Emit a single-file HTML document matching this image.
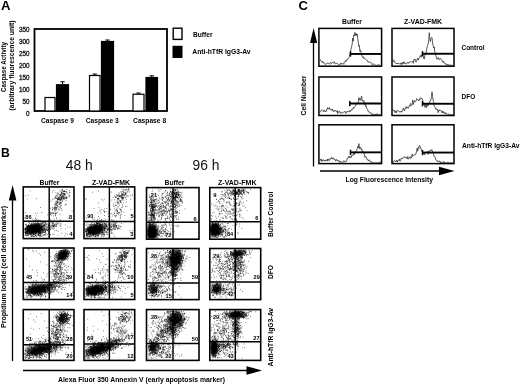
<!DOCTYPE html>
<html><head><meta charset="utf-8"><title>Figure</title>
<style>html,body{margin:0;padding:0;background:#fff}svg{display:block;filter:grayscale(1) blur(0.3px);will-change:transform}text{font-family:"Liberation Sans",sans-serif}</style>
</head><body>
<svg width="520" height="384" viewBox="0 0 520 384">
<defs><radialGradient id="rg"><stop offset="0" stop-color="#000" stop-opacity="1"/><stop offset="0.45" stop-color="#000" stop-opacity="0.85"/><stop offset="0.75" stop-color="#000" stop-opacity="0.3"/><stop offset="1" stop-color="#000" stop-opacity="0"/></radialGradient></defs>
<rect width="520" height="384" fill="#fff"/>
<text x="1" y="10.3" font-size="12.5" font-weight="bold" textLength="9.5" lengthAdjust="spacingAndGlyphs">A</text>
<rect x="34.5" y="29" width="132.5" height="82" fill="#fff" stroke="#000" stroke-width="1.8"/>
<text x="29.5" y="115.8" font-size="6.3" text-anchor="end" fill="#111" stroke="#111" stroke-width="0.3">0</text>
<text x="29.5" y="103.8" font-size="6.3" text-anchor="end" fill="#111" stroke="#111" stroke-width="0.3">50</text>
<text x="29.5" y="91.8" font-size="6.3" text-anchor="end" fill="#111" stroke="#111" stroke-width="0.3">100</text>
<text x="29.5" y="79.8" font-size="6.3" text-anchor="end" fill="#111" stroke="#111" stroke-width="0.3">150</text>
<text x="29.5" y="67.8" font-size="6.3" text-anchor="end" fill="#111" stroke="#111" stroke-width="0.3">200</text>
<text x="29.5" y="55.8" font-size="6.3" text-anchor="end" fill="#111" stroke="#111" stroke-width="0.3">250</text>
<text x="29.5" y="43.8" font-size="6.3" text-anchor="end" fill="#111" stroke="#111" stroke-width="0.3">300</text>
<text x="29.5" y="31.8" font-size="6.3" text-anchor="end" fill="#111" stroke="#111" stroke-width="0.3">350</text>
<rect x="45.0" y="97.5" width="10.0" height="13.5" fill="#fff" stroke="#000" stroke-width="1.2"/>
<rect x="56.5" y="84.75" width="12" height="26.25" fill="#000" stroke="#000" stroke-width="1.2"/>
<path d="M62.5 84.25V81.75M60.3 81.75H64.7" stroke="#000" stroke-width="1" fill="none"/>
<rect x="89.5" y="75.5" width="10.5" height="35.5" fill="#fff" stroke="#000" stroke-width="1.2"/>
<path d="M94.75 75V74M92.55 74H96.95" stroke="#000" stroke-width="1" fill="none"/>
<rect x="101.5" y="41.5" width="12" height="69.5" fill="#000" stroke="#000" stroke-width="1.2"/>
<path d="M107.5 41V40M105.3 40H109.7" stroke="#000" stroke-width="1" fill="none"/>
<rect x="133.0" y="94.25" width="11.0" height="16.75" fill="#fff" stroke="#000" stroke-width="1.2"/>
<path d="M138.5 93.75V93M136.3 93H140.7" stroke="#000" stroke-width="1" fill="none"/>
<rect x="146.0" y="77.5" width="11.5" height="33.5" fill="#000" stroke="#000" stroke-width="1.2"/>
<path d="M151.75 77V75.8M149.55 75.8H153.95" stroke="#000" stroke-width="1" fill="none"/>
<text x="41.0" y="123.4" font-size="6.7" font-weight="bold" textLength="33" lengthAdjust="spacingAndGlyphs">Caspase 9</text>
<text x="85.8" y="123.4" font-size="6.7" font-weight="bold" textLength="33" lengthAdjust="spacingAndGlyphs">Caspase 3</text>
<text x="133.1" y="123.4" font-size="6.7" font-weight="bold" textLength="33" lengthAdjust="spacingAndGlyphs">Caspase 8</text>
<text x="6.4" y="67" font-size="6.7" font-weight="bold" text-anchor="middle" textLength="50" lengthAdjust="spacingAndGlyphs" transform="rotate(-90 6.4 67)">Caspase Activity</text>
<text x="14.2" y="65.5" font-size="6.7" font-weight="bold" text-anchor="middle" textLength="90" lengthAdjust="spacingAndGlyphs" transform="rotate(-90 14.2 65.5)">(arbitrary fluorescence unit)</text>
<rect x="173.2" y="28.2" width="8.8" height="11.2" fill="#fff" stroke="#000" stroke-width="1.4"/>
<rect x="172.5" y="45.8" width="10" height="12.2" fill="#000"/>
<text x="193" y="37.4" font-size="6.7" font-weight="bold" textLength="19.5" lengthAdjust="spacingAndGlyphs">Buffer</text>
<text x="192.3" y="54.4" font-size="6.7" font-weight="bold" textLength="58.3" lengthAdjust="spacingAndGlyphs">Anti-hTfR IgG3-Av</text>
<text x="1" y="157.3" font-size="12.5" font-weight="bold" textLength="8.8" lengthAdjust="spacingAndGlyphs">B</text>
<text x="79.2" y="169.6" font-size="13.8" text-anchor="middle" fill="#111">48 h</text>
<text x="206" y="169.6" font-size="13.8" text-anchor="middle" fill="#111">96 h</text>
<path d="M12.5 198V361" stroke="#000" stroke-width="1.3"/>
<path d="M12.6 185L16.4 200.5H8.8Z" fill="#000"/>
<path d="M23 370.5H250" stroke="#000" stroke-width="1.3"/>
<path d="M262 370.5L246.5 366.2V374.8Z" fill="#000"/>
<text x="5.8" y="267" font-size="6.7" font-weight="bold" text-anchor="middle" textLength="122" lengthAdjust="spacingAndGlyphs" transform="rotate(-90 5.8 267)">Propidium Iodide (cell death marker)</text>
<text x="58" y="382.3" font-size="6.7" font-weight="bold" textLength="167" lengthAdjust="spacingAndGlyphs">Alexa Fluor 350 Annexin V (early apoptosis marker)</text>
<text x="39.5" y="184.7" font-size="6.7" font-weight="bold" textLength="20" lengthAdjust="spacingAndGlyphs">Buffer</text>
<text x="92" y="184.7" font-size="6.7" font-weight="bold" textLength="38" lengthAdjust="spacingAndGlyphs">Z-VAD-FMK</text>
<text x="164.5" y="184.7" font-size="6.7" font-weight="bold" textLength="20" lengthAdjust="spacingAndGlyphs">Buffer</text>
<text x="218" y="184.7" font-size="6.7" font-weight="bold" textLength="38.5" lengthAdjust="spacingAndGlyphs">Z-VAD-FMK</text>
<text x="273.3" y="214.3" font-size="6.7" font-weight="bold" text-anchor="middle" textLength="45.5" lengthAdjust="spacingAndGlyphs" transform="rotate(-90 273.3 214.3)">Buffer Control</text>
<text x="273.3" y="272" font-size="6.7" font-weight="bold" text-anchor="middle" textLength="14" lengthAdjust="spacingAndGlyphs" transform="rotate(-90 273.3 272)">DFO</text>
<text x="273.3" y="337.2" font-size="6.7" font-weight="bold" text-anchor="middle" textLength="58.5" lengthAdjust="spacingAndGlyphs" transform="rotate(-90 273.3 337.2)">Anti-hTfR IgG3-Av</text>
<rect x="23.25" y="186.9" width="50.75" height="51.69999999999999" fill="#fff" stroke="none"/>
<clipPath id="k00"><rect x="23.25" y="186.9" width="50.75" height="51.69999999999999"/></clipPath><g clip-path="url(#k00)">
<ellipse cx="33.9" cy="228.8" rx="11.2" ry="6.2" transform="rotate(-8 33.9 228.8)" fill="url(#rg)" opacity="1.0"/>
<path d="M41.5 227.2h0M32.0 230.3h0M34.4 231.4h0M35.2 224.6h0M30.7 231.6h0M34.1 230.1h0M33.8 228.1h0M26.4 233.1h0M38.6 228.6h0M37.0 231.4h0M30.9 227.8h0M32.9 226.9h0M36.6 231.3h0M33.4 233.9h0M33.0 230.4h0M27.6 231.8h0M36.3 227.3h0M34.0 225.6h0M35.1 228.1h0M27.5 233.2h0M40.8 223.4h0M34.4 227.5h0M31.5 224.6h0M43.1 227.7h0M34.0 230.8h0M27.0 226.9h0M31.9 228.1h0M38.6 227.9h0M31.6 226.2h0M30.1 226.2h0M38.1 223.4h0M26.7 231.6h0M36.1 226.7h0M24.9 232.5h0M31.2 231.2h0M28.3 228.0h0M40.4 226.6h0M42.1 229.4h0M32.5 229.3h0M37.8 228.8h0M32.6 225.1h0M36.8 230.5h0M30.2 227.2h0M25.5 224.7h0M25.6 228.5h0M35.8 229.5h0M44.7 232.2h0M35.0 227.7h0M31.1 226.1h0M43.2 232.4h0M35.0 229.0h0M34.3 228.1h0M34.7 226.1h0M33.0 226.5h0M33.0 232.4h0M27.3 229.1h0M36.0 227.2h0M33.3 227.7h0M39.8 231.6h0M32.1 227.7h0M25.5 231.5h0M33.5 229.5h0M41.7 228.2h0M31.9 227.0h0M30.1 230.9h0M29.0 233.3h0M29.1 229.3h0M32.3 226.9h0M28.2 226.6h0M40.7 228.2h0M32.5 228.3h0M34.4 228.5h0M40.4 227.9h0M40.2 224.4h0M33.2 230.7h0M35.5 229.1h0M37.2 228.1h0M33.1 229.4h0M26.2 232.1h0M36.9 228.5h0M37.7 226.2h0M36.2 231.2h0M29.6 228.4h0M32.8 227.2h0M30.7 225.6h0M32.6 229.0h0M39.4 225.5h0M40.7 226.6h0M37.1 229.4h0M36.4 228.5h0M37.3 230.7h0M33.9 229.5h0M33.4 227.9h0M30.8 228.5h0M33.5 227.6h0M44.3 228.8h0M37.8 228.3h0M32.2 228.1h0M32.0 231.0h0M30.0 229.6h0M35.5 227.5h0M35.2 225.0h0M27.5 230.7h0M36.2 229.0h0M31.3 229.3h0M40.2 226.9h0M34.4 226.8h0M41.6 227.1h0M31.9 229.6h0M32.6 228.7h0M35.2 228.2h0M38.5 227.0h0M36.6 229.2h0M28.4 230.1h0M34.5 226.9h0M34.2 230.5h0M32.2 230.9h0M31.2 231.1h0M41.8 227.3h0M32.1 228.6h0M29.7 226.7h0M37.0 230.1h0M33.8 223.8h0M33.4 227.9h0M37.3 227.5h0M36.4 230.4h0M35.5 228.5h0M38.0 225.9h0M34.7 225.3h0M30.9 227.5h0M32.3 229.3h0M31.6 229.2h0M34.8 228.2h0M28.8 227.9h0M25.6 229.5h0M34.6 231.0h0M27.5 227.1h0M25.1 230.1h0M36.1 232.3h0M30.9 230.5h0M36.0 227.4h0M31.7 230.6h0M28.6 227.8h0M28.3 229.6h0M32.1 232.7h0M33.3 233.3h0M29.6 225.4h0M32.9 230.6h0M27.6 234.3h0M33.8 227.5h0M25.9 230.5h0M33.5 232.4h0M36.9 227.2h0M39.0 229.1h0M41.6 227.5h0M26.3 225.3h0M37.4 229.1h0M39.3 227.6h0M38.6 230.3h0M30.4 234.2h0M36.0 230.1h0M42.2 226.7h0M27.3 230.8h0M36.1 228.9h0M39.3 230.4h0M30.3 225.9h0M36.2 225.7h0M28.4 224.8h0M30.4 230.7h0M30.2 229.3h0M34.6 227.2h0M33.3 227.2h0M38.0 226.8h0M29.4 227.2h0M33.2 228.1h0M38.1 227.0h0M36.9 231.6h0M28.0 230.4h0M36.7 226.5h0M31.6 227.7h0M36.0 231.3h0M35.4 229.6h0M39.5 228.7h0M34.7 230.4h0M26.0 233.6h0M27.3 226.9h0M37.0 226.6h0M32.2 224.9h0M39.2 229.2h0M35.0 227.7h0M30.3 227.7h0M38.6 226.3h0M30.5 230.9h0M43.1 226.2h0M25.7 232.9h0M36.5 226.0h0M37.8 225.3h0M35.4 234.7h0M26.2 229.0h0M38.3 226.9h0M27.2 228.0h0M27.8 229.3h0M32.5 230.8h0M37.7 230.0h0M35.4 229.8h0M37.5 227.6h0M31.4 225.6h0M33.2 229.5h0M29.2 233.0h0M32.8 231.4h0M36.5 228.0h0M32.8 230.8h0M35.9 227.6h0M31.3 229.0h0M30.8 226.3h0M34.0 228.0h0M33.1 229.2h0M36.5 228.0h0M35.0 230.4h0M42.4 232.0h0M33.3 232.0h0M32.8 228.2h0M29.0 227.8h0M33.8 227.3h0M36.7 226.1h0M30.6 229.3h0M33.8 229.8h0M37.2 228.7h0M33.4 229.3h0M31.6 229.5h0M38.3 227.8h0M34.1 227.0h0M36.2 232.5h0M39.5 230.4h0M38.8 225.9h0M32.0 226.9h0M31.3 227.8h0M35.2 228.7h0M33.7 231.8h0M25.6 232.3h0M40.0 230.4h0M34.3 231.3h0M37.6 230.8h0M28.8 231.2h0M39.9 229.0h0M31.2 228.9h0M32.9 224.8h0M27.5 229.4h0M33.7 233.0h0M32.7 227.7h0M32.9 227.5h0M36.2 230.8h0M34.2 228.9h0M38.2 227.0h0M32.3 232.7h0M29.6 230.9h0M34.1 230.5h0M36.6 227.1h0M39.7 229.1h0M37.7 229.1h0M26.2 231.7h0M36.0 231.2h0M40.9 230.4h0M34.2 229.1h0M31.8 230.7h0M34.9 225.9h0M31.8 230.6h0M37.0 229.9h0M33.7 227.9h0M40.0 226.1h0M36.1 228.3h0M30.2 226.5h0M36.8 229.2h0M38.2 228.8h0M31.0 227.0h0M32.0 229.2h0M38.3 230.6h0M31.6 231.5h0M25.8 229.1h0M32.8 228.0h0M37.5 229.6h0M34.3 234.3h0M36.5 231.7h0M29.4 233.1h0M28.3 232.8h0M37.4 224.5h0M36.1 228.0h0M33.6 227.8h0M40.1 230.8h0M30.1 233.3h0M31.8 227.5h0M38.6 228.2h0M42.4 228.9h0M33.8 227.6h0M41.3 226.2h0M31.0 227.6h0M35.7 230.6h0M32.8 226.8h0M27.1 232.4h0M35.1 228.8h0M38.4 229.9h0M33.7 232.4h0M33.4 227.3h0M39.9 226.0h0M28.4 230.6h0M26.8 227.4h0M30.7 227.5h0M28.5 229.3h0M40.0 228.3h0M34.9 225.7h0M29.9 228.5h0M31.3 230.5h0M47.3 230.0h0M30.5 224.7h0M30.9 232.3h0M35.6 230.6h0M36.5 225.9h0M34.4 225.3h0M29.9 230.3h0M28.5 228.6h0M36.6 228.7h0M33.9 230.8h0M26.4 229.0h0M39.3 228.4h0M37.6 229.4h0M33.1 231.0h0M33.3 233.0h0M35.5 232.5h0M30.9 229.8h0M27.7 229.1h0M36.1 234.0h0M27.6 231.2h0M35.8 229.5h0M27.0 227.2h0M33.7 230.6h0M33.0 227.1h0M41.8 226.6h0M28.7 226.4h0M27.3 228.5h0M31.0 229.3h0M28.4 226.1h0M31.0 227.1h0M35.8 228.3h0M37.0 225.4h0M41.0 224.8h0M30.3 227.3h0M45.4 223.8h0M43.1 228.9h0M32.7 226.6h0M33.8 231.0h0M33.9 226.0h0M34.1 227.6h0M32.6 226.3h0M30.2 228.5h0M36.7 227.8h0M38.7 229.8h0M32.0 231.4h0M34.6 226.1h0M30.8 228.3h0M30.5 230.5h0M34.6 231.4h0M35.5 222.8h0M31.8 232.1h0M37.0 231.9h0M26.6 228.8h0M34.2 226.8h0M42.0 227.7h0M34.2 231.5h0M28.5 229.6h0M26.6 224.3h0M39.4 229.6h0M33.3 225.1h0M36.0 226.2h0M37.7 225.5h0M33.1 224.6h0M32.1 226.1h0M29.3 227.1h0M27.0 229.6h0M33.5 228.1h0M32.6 225.5h0M35.7 228.1h0M33.6 231.1h0M34.9 230.9h0M37.5 228.6h0M30.1 230.8h0M32.9 231.0h0M27.1 233.0h0M38.8 232.1h0M34.0 228.0h0M36.0 227.8h0M41.4 231.2h0M39.3 231.7h0M34.1 232.4h0M36.7 222.9h0M27.4 229.2h0M34.8 221.0h0M34.8 230.4h0M26.6 230.0h0M40.0 228.0h0M30.7 228.9h0M37.4 231.3h0M31.9 228.4h0M38.7 230.5h0M40.0 229.2h0M30.3 230.1h0M27.1 230.8h0M33.3 229.1h0M37.4 225.7h0M32.5 230.7h0M31.4 230.8h0M36.1 228.1h0M31.2 231.3h0M27.2 226.7h0M35.2 228.3h0M30.4 228.2h0M28.6 227.4h0M32.4 229.7h0M27.0 227.8h0M33.7 227.8h0M30.9 229.8h0M32.3 229.8h0M30.8 230.0h0M38.7 233.3h0M33.3 227.7h0M36.4 229.0h0M35.7 225.7h0M30.4 230.4h0M36.9 231.1h0M35.9 231.3h0M35.1 227.1h0M32.0 228.4h0M32.4 232.0h0M37.4 228.1h0M44.1 229.6h0M29.8 227.1h0M36.8 231.6h0M32.6 231.4h0M37.6 229.3h0M35.6 226.7h0M38.7 227.7h0M31.3 229.8h0M29.4 229.2h0M33.3 228.3h0M30.7 229.7h0M31.5 232.4h0M36.4 223.7h0M42.1 224.4h0M32.3 227.4h0M34.8 224.6h0M34.1 230.0h0M32.4 229.2h0M27.7 229.1h0M29.4 227.8h0M37.2 228.7h0M38.8 228.5h0M34.4 229.5h0M29.9 227.6h0M34.5 230.2h0M32.4 225.5h0M36.8 231.3h0M33.5 221.6h0M30.9 227.8h0M34.4 225.9h0M28.8 231.4h0M37.1 224.8h0M39.8 232.2h0M28.1 226.0h0M36.5 233.2h0M29.6 230.5h0M38.8 228.2h0M38.1 229.2h0M33.6 234.0h0M38.7 230.2h0M31.2 223.9h0M31.4 231.9h0M31.4 229.7h0M32.8 225.1h0M32.7 230.7h0M34.2 225.9h0M31.2 229.6h0M37.4 228.8h0M38.3 226.6h0M31.9 230.6h0M27.1 227.3h0M37.2 228.7h0M38.9 226.8h0M33.1 228.5h0M28.7 234.0h0M35.1 228.9h0M40.5 225.3h0M25.4 229.7h0M35.8 226.7h0M32.5 229.0h0M30.1 229.7h0M36.2 228.7h0M28.1 229.8h0M35.1 227.3h0M40.0 229.0h0M35.0 231.1h0M29.7 227.9h0M25.8 229.8h0M28.1 229.7h0M26.0 232.9h0M41.5 230.2h0M32.5 227.3h0M29.2 229.6h0M27.6 226.2h0M28.8 227.2h0M32.4 229.0h0M28.3 231.1h0M41.8 229.9h0M30.4 228.5h0M29.9 226.2h0M35.4 229.5h0M40.4 227.4h0M40.0 228.9h0M31.8 229.5h0M35.3 230.3h0M34.8 230.2h0M36.6 230.4h0M34.9 227.6h0M30.0 231.7h0M28.0 228.4h0M34.7 228.9h0M29.1 233.8h0M40.2 228.7h0M33.7 226.1h0M29.7 232.9h0M32.8 231.3h0M32.0 231.7h0M33.4 229.3h0M38.3 229.0h0M27.3 229.2h0M25.2 228.4h0M35.9 232.1h0M33.0 228.0h0M34.5 227.6h0M35.8 227.5h0M33.7 233.2h0M37.8 230.3h0M29.8 228.5h0M34.2 228.6h0M30.3 230.5h0M29.1 231.5h0M36.2 224.7h0M36.8 230.5h0M25.1 229.5h0M28.6 227.9h0M35.1 227.7h0M39.0 229.9h0M31.5 233.3h0M33.1 229.2h0M27.7 231.0h0M45.0 225.3h0M36.2 229.6h0M38.2 230.1h0M36.4 224.9h0M38.0 227.0h0M36.9 230.2h0M31.8 224.9h0M37.2 227.4h0M34.5 230.1h0M39.2 224.0h0M30.5 228.3h0M31.5 229.3h0M37.2 230.4h0M39.3 225.0h0M34.9 231.2h0M30.8 229.9h0M33.7 231.6h0M32.0 231.8h0M42.6 228.3h0M38.1 229.3h0M39.1 224.0h0M34.8 225.5h0M31.1 226.8h0M39.1 227.2h0M41.7 229.9h0M36.0 224.3h0M33.7 228.1h0M38.4 225.0h0M31.7 225.4h0M37.8 231.7h0M30.7 229.5h0M30.0 233.2h0M36.8 231.1h0M35.1 226.4h0M41.9 223.3h0M33.3 233.7h0M33.9 227.8h0M28.4 226.9h0M25.7 231.6h0M25.9 230.2h0M35.8 226.9h0M28.5 228.7h0M39.1 228.4h0M40.4 228.0h0M32.9 230.7h0M41.3 226.9h0M34.8 227.8h0M39.2 229.4h0M33.0 229.6h0M38.6 230.7h0M29.6 228.8h0M36.7 228.1h0M31.5 226.4h0M33.8 232.3h0M36.3 225.2h0M34.8 229.1h0M33.3 226.8h0M37.3 229.1h0M37.8 230.0h0M27.1 225.9h0M36.4 227.9h0M36.4 224.3h0M31.0 232.5h0M35.5 227.5h0M27.4 226.0h0M40.2 226.2h0M33.2 232.0h0M34.0 232.3h0M39.7 230.9h0M33.0 227.1h0M36.6 228.0h0M29.7 233.2h0M31.1 227.5h0M27.5 228.9h0M32.7 226.7h0M38.2 225.4h0M35.3 231.4h0M38.1 229.7h0M29.4 230.5h0M30.1 230.7h0M32.1 231.4h0M37.0 231.9h0M35.5 228.5h0M33.7 228.0h0M36.4 226.0h0M33.6 231.4h0M33.6 227.6h0M39.3 224.5h0M31.2 228.5h0M34.7 228.7h0M41.5 229.7h0M34.7 231.0h0M36.9 226.6h0M30.9 227.3h0M42.7 226.8h0M28.7 229.3h0M29.3 230.5h0M41.2 227.8h0M35.0 224.8h0M32.3 226.2h0M28.5 232.6h0M35.2 226.2h0M34.7 230.4h0M31.0 230.7h0M27.1 229.0h0M28.6 227.2h0M34.9 229.1h0M35.0 226.5h0M34.2 228.3h0M33.3 229.1h0M25.7 228.3h0M34.1 228.2h0M29.1 228.7h0M33.7 225.9h0M36.0 228.0h0M30.6 227.7h0M28.7 225.2h0M38.3 227.4h0M35.4 227.9h0M30.8 227.8h0M33.9 230.6h0M37.0 229.9h0M39.2 229.5h0M30.9 230.0h0M30.6 226.3h0M31.9 229.3h0M37.4 226.1h0M29.3 234.6h0M33.2 227.7h0M29.9 230.9h0M34.6 225.0h0M26.5 227.1h0M35.4 227.3h0M31.9 230.7h0M39.2 228.6h0M45.3 222.4h0M29.4 229.7h0M50.0 227.7h0M52.0 227.6h0M43.4 226.8h0M44.4 224.6h0M25.0 217.9h0M57.4 223.9h0M38.2 225.2h0M44.8 227.0h0M30.5 233.7h0M27.7 232.7h0M35.6 233.6h0M37.4 231.7h0M39.4 231.9h0M48.5 230.0h0M40.7 227.6h0M38.7 227.6h0M37.4 230.5h0M54.1 234.3h0M32.7 233.1h0M47.4 234.4h0M30.0 231.3h0M40.5 230.4h0M35.9 231.6h0M60.4 220.1h0M56.6 218.7h0M28.1 228.8h0M51.1 228.1h0M45.4 223.0h0M39.8 230.3h0M25.4 229.7h0M30.3 230.9h0M40.1 226.6h0M43.7 231.3h0M26.7 232.0h0M38.5 234.2h0M49.5 223.0h0M38.9 233.4h0M34.6 229.9h0M42.0 229.4h0M41.9 233.8h0M37.6 228.7h0M32.8 231.0h0M33.9 232.4h0M38.1 231.9h0M33.0 233.3h0M48.5 233.1h0M44.5 230.5h0M45.5 226.3h0M49.7 227.5h0M48.6 229.3h0M39.6 225.9h0M34.2 220.7h0M55.1 223.6h0M31.6 230.5h0M32.3 232.3h0M30.0 230.5h0M39.2 232.4h0M40.9 233.0h0M45.8 232.3h0M35.2 229.7h0M39.4 228.2h0M44.3 224.7h0M38.1 235.3h0M35.2 224.5h0M41.5 228.5h0M48.7 228.7h0M35.3 220.8h0M26.0 234.1h0M32.3 228.7h0M35.8 230.6h0M42.3 222.3h0M30.9 231.1h0M41.1 229.3h0M39.1 233.3h0M34.8 231.8h0M49.1 220.7h0M33.1 234.6h0M32.0 233.5h0M39.8 232.3h0M44.0 230.5h0M36.6 226.6h0M29.4 232.8h0M42.3 227.2h0M53.5 226.1h0M34.6 225.2h0M38.5 227.8h0M33.2 236.0h0M36.2 219.4h0M44.7 234.5h0M29.0 232.0h0M31.3 228.2h0M27.9 233.8h0M47.2 224.1h0M31.2 225.4h0M42.2 232.7h0M29.7 228.4h0M37.9 231.6h0M32.0 230.2h0M37.7 229.8h0M40.1 220.5h0M35.3 227.7h0M34.0 233.6h0M28.4 231.2h0M35.8 235.6h0M37.8 220.8h0M46.3 226.8h0M27.1 233.0h0M36.3 228.1h0M48.2 225.9h0M38.8 235.4h0M32.7 229.4h0M30.2 234.8h0M38.5 229.9h0M35.1 223.7h0M41.5 224.9h0M45.8 229.5h0M33.3 226.6h0M41.3 222.9h0M30.6 226.1h0M26.2 228.8h0M31.9 226.5h0M29.0 228.2h0M42.3 229.9h0M45.2 224.9h0M38.6 229.2h0M33.5 236.5h0M33.7 232.6h0M41.7 228.4h0M45.3 222.6h0M33.4 222.9h0M35.8 228.2h0M30.9 229.9h0M37.7 222.6h0M43.9 222.9h0M37.8 220.1h0M31.6 223.0h0M39.8 231.4h0M36.4 230.8h0M40.5 233.1h0M54.7 230.7h0M37.7 228.2h0M50.2 234.6h0M42.8 232.6h0M43.2 225.2h0M46.6 229.8h0M50.2 226.2h0M32.8 219.7h0M39.0 227.4h0M45.0 232.6h0M31.3 230.4h0M40.4 235.7h0M43.1 228.6h0M36.7 230.0h0M40.8 227.7h0M27.4 230.7h0M28.4 235.7h0M40.9 235.7h0M67.3 226.7h0M38.5 224.6h0M36.1 232.0h0M37.2 235.1h0M45.3 231.1h0M42.9 229.9h0M28.3 234.7h0M45.9 233.8h0M35.3 218.9h0M44.4 234.8h0M41.5 226.6h0M40.5 231.6h0M38.9 223.1h0M38.6 232.4h0M39.9 229.4h0M40.0 235.2h0M41.0 231.8h0M33.6 229.3h0M36.8 229.8h0M60.9 228.8h0M46.2 228.8h0M42.2 231.1h0M39.7 226.2h0M30.4 225.3h0M38.5 226.9h0M34.2 224.0h0M44.2 225.3h0M29.8 232.0h0M31.8 225.1h0M43.0 231.8h0M56.5 224.5h0M45.2 228.3h0M28.4 225.6h0M34.6 225.5h0M29.2 229.4h0M36.4 236.4h0M30.0 232.4h0M40.8 230.9h0M39.1 233.1h0M36.0 232.6h0M39.1 224.1h0M53.3 226.9h0M33.4 226.2h0M44.1 229.9h0M42.3 223.5h0M30.5 228.7h0M31.0 234.7h0M38.5 234.2h0M49.9 224.0h0M30.7 228.5h0M44.1 224.8h0M38.9 220.6h0M26.1 233.6h0M45.2 234.9h0M31.2 236.6h0M24.9 229.3h0M31.4 235.9h0M31.8 234.9h0M41.6 227.5h0M31.1 230.4h0M48.8 226.3h0M38.9 230.3h0M29.8 226.7h0M38.1 224.4h0M28.8 222.9h0M41.5 224.7h0M38.0 226.0h0M36.8 227.1h0M35.5 231.2h0M34.3 229.3h0M43.3 225.6h0M37.5 233.8h0M37.0 235.2h0M40.1 228.1h0M39.2 226.2h0M40.3 233.0h0M31.8 226.6h0M25.3 224.2h0M39.6 228.0h0M49.3 232.9h0M44.8 226.2h0M35.1 228.9h0M41.6 226.9h0M33.8 232.8h0M40.9 234.9h0M31.4 225.2h0M38.0 228.3h0M53.0 226.5h0M42.9 226.2h0M48.4 223.0h0M31.2 233.9h0M31.6 231.1h0M37.1 232.6h0M42.3 235.2h0M35.1 228.4h0M45.5 230.7h0M32.3 228.6h0M47.9 227.7h0M45.0 229.9h0M27.9 230.3h0M40.8 222.8h0M36.1 236.1h0M45.3 229.1h0M32.0 225.6h0M38.3 220.2h0M41.4 228.9h0M38.7 234.1h0M35.8 228.2h0M45.5 231.1h0M37.9 223.1h0M26.9 231.7h0M40.2 233.0h0M30.6 228.0h0M35.1 229.3h0M33.0 230.7h0M39.9 229.8h0M27.4 226.5h0M53.5 222.1h0M28.6 228.1h0M29.6 227.5h0M27.7 230.6h0M31.5 228.4h0M33.7 232.1h0M42.0 229.0h0M39.9 230.9h0M32.1 229.3h0M36.6 231.3h0M47.1 230.7h0M36.7 228.9h0M38.8 224.7h0M41.3 229.8h0M39.5 232.8h0M47.6 230.2h0M37.5 231.9h0M35.7 227.8h0M37.8 230.6h0M32.7 236.2h0M39.2 234.0h0M43.3 234.4h0M37.0 228.1h0M34.6 230.9h0M34.6 225.8h0M34.3 233.9h0M36.9 227.9h0M30.3 225.1h0M47.9 229.2h0M35.1 224.0h0M26.9 235.2h0M34.6 230.4h0M29.0 230.6h0M35.5 223.1h0M26.9 235.4h0M39.6 232.2h0M46.9 223.6h0M39.9 231.7h0M38.3 234.2h0M28.1 229.6h0M35.9 228.8h0M40.0 227.2h0M31.8 232.9h0M43.8 227.7h0M36.2 228.4h0M38.7 223.3h0M31.7 223.4h0M33.3 234.1h0M39.3 235.9h0M40.3 232.8h0M40.3 235.1h0M28.2 228.6h0M30.7 230.3h0M36.7 231.2h0M46.0 235.3h0M38.4 223.9h0M36.6 227.3h0M30.7 229.1h0M42.8 225.8h0M34.9 233.4h0M50.8 219.3h0M40.4 233.9h0M25.1 235.1h0M42.6 230.1h0M33.1 236.0h0M34.7 230.7h0M35.9 232.8h0M38.8 231.0h0M43.0 231.0h0M39.9 227.1h0M30.3 227.6h0M26.0 233.8h0M29.8 228.5h0M40.0 233.1h0M44.0 232.0h0M50.8 225.8h0M25.9 232.8h0M37.2 230.0h0M34.6 229.5h0M34.0 234.9h0M37.7 229.8h0M34.7 231.0h0M33.3 222.1h0M31.7 233.0h0M38.9 223.4h0M44.8 227.0h0M50.6 234.5h0M27.8 229.4h0M33.7 224.9h0M30.0 232.4h0M44.6 227.0h0M30.1 232.1h0M36.4 224.2h0M26.4 235.9h0M34.6 236.5h0M37.3 223.6h0M48.4 224.9h0M30.6 227.7h0M39.9 232.4h0M26.9 232.0h0M29.8 229.8h0M32.1 227.1h0M40.4 232.2h0M40.5 221.1h0M40.3 226.0h0M27.9 234.0h0M51.1 226.3h0M38.6 226.0h0M38.0 231.6h0M34.8 228.0h0M35.9 227.2h0M36.4 228.6h0M31.1 232.0h0M38.1 225.1h0M42.7 230.1h0M35.9 229.3h0M41.8 228.0h0M31.3 236.9h0M65.6 228.9h0M31.2 233.4h0M32.7 228.5h0M43.8 225.3h0M46.6 229.7h0M29.9 229.6h0M25.6 234.2h0M27.8 226.1h0M29.8 227.8h0M35.6 233.3h0M44.7 228.4h0M45.6 231.4h0M31.1 227.1h0M41.2 232.2h0M43.2 226.0h0M48.6 233.8h0M35.7 233.3h0M30.8 232.7h0M43.4 235.3h0M48.9 229.6h0M31.9 228.0h0M53.0 234.1h0M50.5 229.4h0M35.1 235.2h0M32.4 235.4h0M33.2 226.8h0M40.1 224.2h0M56.5 230.3h0M54.2 219.2h0M29.7 223.5h0M35.3 231.1h0M40.1 231.3h0M46.9 225.1h0M42.7 232.4h0M35.0 231.5h0M41.1 233.3h0M42.9 226.2h0M34.1 231.2h0M38.6 229.0h0M38.4 231.7h0M34.6 231.1h0M27.2 231.5h0M39.6 232.5h0M25.1 231.9h0M48.2 231.4h0M29.3 231.2h0M40.3 228.8h0M31.1 234.7h0M40.0 233.5h0M35.5 235.4h0M41.1 232.0h0M30.0 230.1h0M34.3 231.0h0M32.6 223.3h0M35.8 218.3h0M33.4 230.0h0M36.7 230.7h0M56.7 222.0h0M40.1 234.2h0M41.9 232.6h0M35.2 229.4h0M32.0 232.7h0M44.0 232.5h0M45.0 230.8h0M35.2 231.0h0M33.8 231.0h0M32.1 231.9h0M45.8 224.3h0M32.3 231.7h0M43.4 229.0h0M32.2 231.6h0M33.3 231.3h0M41.5 223.3h0M31.0 234.3h0M35.5 233.2h0M26.8 225.8h0M29.2 230.6h0M41.7 225.7h0M40.9 227.4h0M27.8 235.4h0M27.2 233.5h0M58.0 235.1h0M31.3 231.1h0M28.8 226.4h0M40.6 229.8h0M28.8 220.8h0M43.7 229.9h0M44.7 230.6h0M34.9 230.7h0M46.7 224.8h0M35.2 229.5h0M34.0 226.9h0M36.0 227.7h0M34.1 231.5h0M39.9 224.3h0M39.6 236.2h0M29.5 226.3h0M38.3 232.9h0M31.6 227.7h0M31.0 225.3h0M35.4 231.4h0M44.6 229.2h0M38.4 228.4h0M46.5 227.9h0M48.5 225.3h0M36.3 231.4h0M31.2 228.3h0M30.0 230.6h0M39.2 233.8h0M42.5 223.2h0M48.7 225.4h0M25.4 228.3h0M43.3 225.2h0M44.2 222.8h0M55.8 225.6h0M37.9 229.9h0M36.0 229.1h0M30.5 233.1h0M27.9 233.6h0M28.3 230.9h0M28.6 226.4h0M40.4 236.0h0M42.8 230.5h0M35.1 225.8h0M45.6 233.3h0M45.1 228.9h0M33.9 227.4h0M26.6 232.7h0M28.4 229.7h0M38.3 232.2h0M35.0 227.0h0M48.7 231.4h0M52.7 225.5h0M39.3 225.3h0M35.2 231.9h0M35.4 230.5h0M35.2 220.8h0M41.0 228.6h0M30.6 230.6h0M41.2 229.5h0M44.6 225.5h0M47.4 227.7h0M49.5 220.5h0M34.4 223.6h0M25.3 228.6h0M34.0 228.9h0M25.5 233.6h0M34.2 233.9h0M28.5 229.8h0M42.3 230.6h0M51.7 224.2h0M34.9 231.1h0M39.3 231.0h0M36.2 216.0h0M30.5 227.5h0M49.1 224.9h0M27.5 235.3h0M36.8 230.7h0M38.8 228.2h0M38.2 223.8h0M37.3 228.0h0M28.7 225.5h0M43.0 229.9h0M39.0 235.3h0M25.5 235.3h0M49.2 225.1h0M33.3 225.7h0M43.5 222.5h0M25.2 232.8h0M27.4 233.0h0M32.5 233.2h0M31.3 231.5h0M44.1 223.2h0M38.6 233.7h0M28.0 227.0h0M41.9 236.5h0M37.1 220.4h0M31.6 225.4h0M60.9 202.6h0M62.8 196.3h0M63.6 194.4h0M62.4 201.2h0M67.5 197.6h0M59.9 204.2h0M55.9 196.3h0M59.1 203.1h0M60.7 200.1h0M56.9 197.9h0M58.5 193.1h0M56.9 202.5h0M60.9 198.0h0M61.8 193.0h0M62.2 197.2h0M66.5 191.8h0M57.9 201.0h0M64.8 194.6h0M57.9 199.5h0M60.1 191.0h0M62.1 196.5h0M64.5 197.7h0M66.6 204.5h0M50.9 201.3h0M57.1 201.0h0M61.5 192.7h0M61.5 198.8h0M61.6 192.5h0M58.1 203.0h0M65.9 196.3h0M62.7 191.6h0M55.0 206.4h0M66.6 198.7h0M69.5 190.6h0M55.4 197.5h0M69.7 196.7h0M60.0 195.8h0M64.9 194.1h0M59.5 198.1h0M58.2 199.7h0M58.7 197.8h0M62.1 199.9h0M58.0 198.3h0M56.0 198.7h0M63.4 191.5h0M60.0 199.7h0M53.1 198.8h0M60.9 202.6h0M61.3 193.9h0M57.0 207.9h0M66.6 197.6h0M64.5 194.8h0M66.7 192.8h0M59.3 198.3h0M57.6 199.5h0M57.4 193.1h0M61.6 196.3h0M64.1 190.7h0M55.9 192.8h0M61.1 199.5h0M61.6 205.5h0M62.1 198.8h0M64.8 198.9h0M64.4 191.7h0M59.5 194.9h0M65.8 191.6h0M64.4 191.3h0M56.6 198.4h0M61.0 203.8h0M60.3 200.2h0M59.4 197.0h0M59.8 201.0h0M63.4 194.0h0M65.2 195.4h0M69.2 194.9h0M61.0 194.9h0M57.5 196.9h0M66.3 197.9h0M65.0 205.3h0M60.6 195.5h0M57.2 198.8h0M62.1 190.2h0M54.0 208.4h0M64.5 193.8h0M63.6 193.0h0M63.7 198.8h0M60.7 194.3h0M60.8 195.3h0M62.4 189.5h0M70.0 192.6h0M64.4 199.0h0M69.7 192.6h0M57.8 198.4h0M66.3 197.8h0M63.7 195.8h0M59.9 203.8h0M64.1 196.8h0M59.0 199.4h0M63.6 193.5h0M55.3 198.2h0M55.2 203.7h0M57.4 202.3h0M58.9 195.1h0M62.9 196.1h0M65.9 198.0h0M58.3 199.6h0M61.7 192.1h0M58.0 198.0h0M61.6 198.5h0M69.0 196.2h0M61.7 198.2h0M56.4 205.3h0M60.8 192.0h0M62.6 197.8h0M62.2 200.0h0M64.5 191.0h0M59.9 199.8h0M62.0 193.3h0M64.0 197.9h0M57.5 205.5h0M63.6 197.3h0M62.9 195.8h0M63.4 191.4h0M58.6 197.6h0M58.9 199.2h0M66.1 191.5h0M60.5 199.0h0M65.1 197.8h0M63.5 198.7h0M66.6 198.2h0M59.8 204.3h0M59.6 199.1h0M61.8 197.6h0M58.0 193.9h0M69.1 195.5h0M61.8 194.0h0M62.4 194.1h0M66.1 200.7h0M62.8 190.0h0M58.5 198.7h0M61.3 197.5h0M56.0 202.5h0M58.9 201.8h0M64.9 194.1h0M63.2 198.6h0M56.1 204.9h0M63.4 198.6h0M60.3 197.6h0M60.0 203.1h0M65.7 197.9h0M56.7 195.3h0M61.2 196.8h0M65.0 193.6h0M55.3 196.5h0M61.8 198.9h0M59.4 197.2h0M67.5 193.2h0M62.9 195.6h0M60.6 198.9h0M60.6 197.1h0M62.7 196.5h0M55.3 201.8h0M62.4 193.5h0M63.7 198.7h0M57.4 202.3h0M60.3 202.1h0M64.3 193.6h0M57.3 202.0h0M60.8 203.3h0M60.3 194.9h0M55.3 208.7h0M57.7 194.8h0M60.9 200.0h0M64.1 195.9h0M60.7 195.3h0M56.8 195.8h0M64.2 194.2h0M58.3 199.5h0M61.1 194.6h0M55.6 211.1h0M59.7 199.6h0M64.3 191.3h0M62.2 201.2h0M62.1 196.7h0M56.6 201.0h0M55.9 205.9h0M60.2 214.2h0M58.4 206.8h0M55.2 213.4h0M58.8 210.0h0M60.5 206.2h0M59.4 209.6h0M58.1 208.8h0M54.9 207.5h0M61.7 208.7h0M55.4 209.6h0M54.2 207.2h0M57.6 212.3h0M61.1 202.9h0M53.9 213.8h0M57.4 206.8h0M55.4 215.0h0M61.9 210.4h0M58.0 204.6h0M50.1 213.1h0M57.5 202.1h0M55.2 214.8h0M53.5 213.3h0M54.5 208.0h0M55.5 215.7h0M59.5 207.0h0M56.0 207.9h0M51.2 221.9h0M51.2 215.3h0M52.6 212.4h0M55.5 208.0h0M49.9 212.9h0M55.2 213.6h0M56.6 207.5h0M52.3 213.7h0M56.5 209.1h0M53.4 216.0h0M55.5 205.0h0M56.7 203.5h0M51.2 213.9h0M54.8 221.8h0M47.8 215.0h0M57.2 206.1h0M56.7 213.6h0M54.6 204.4h0M50.4 214.5h0M51.1 212.8h0M50.4 208.3h0M60.7 207.3h0M54.4 210.8h0M50.4 213.0h0M54.2 208.1h0M56.0 210.0h0M55.4 207.6h0M52.5 209.7h0M55.5 213.4h0M52.9 208.9h0M49.5 219.9h0M56.3 209.2h0M55.6 204.0h0M56.5 207.9h0M51.7 213.2h0M59.6 219.9h0M56.6 204.1h0M56.2 213.1h0M52.5 209.8h0M52.6 207.7h0M53.8 212.4h0M54.4 209.5h0M57.1 203.4h0M54.1 225.6h0M56.6 223.0h0M60.9 224.2h0M60.9 223.2h0M54.3 225.1h0M60.9 225.3h0M59.5 222.8h0M51.8 225.4h0M52.4 225.7h0M53.7 225.4h0M60.0 221.5h0M53.8 226.1h0M53.4 226.0h0M58.2 222.7h0M52.5 223.1h0M54.0 227.1h0M56.6 226.3h0M54.9 226.2h0M46.4 229.6h0M50.7 229.3h0M56.4 224.8h0M50.0 229.3h0M57.9 223.5h0M53.2 224.1h0M54.7 225.0h0M54.7 224.5h0M48.2 228.2h0M52.5 228.8h0M50.7 227.2h0M55.2 226.5h0M60.1 226.5h0M54.1 228.2h0M54.2 225.4h0M47.1 226.7h0M53.8 228.9h0M52.6 224.1h0M52.4 222.9h0M54.9 221.7h0M59.2 225.3h0M53.1 223.2h0M55.1 224.5h0M48.7 227.1h0M56.6 226.5h0M53.3 223.3h0M48.2 227.5h0M25.5 212.6h0M38.1 224.3h0M63.5 197.3h0M51.2 222.5h0M61.5 190.0h0M29.5 226.8h0M60.7 208.2h0M71.8 221.6h0M26.0 195.7h0M31.1 235.2h0M65.5 233.3h0M43.0 231.0h0M40.1 228.1h0M65.3 224.9h0M66.8 189.4h0M72.1 211.2h0M36.7 198.6h0M52.4 192.0h0M29.5 222.3h0M48.8 236.7h0M64.8 235.7h0M40.6 207.5h0M49.2 199.6h0M56.6 217.8h0M28.2 195.0h0M38.5 228.2h0M42.3 232.0h0M68.5 218.2h0M58.0 231.4h0M54.5 198.3h0M36.2 231.1h0M65.5 204.0h0M35.6 213.3h0M61.5 233.3h0M37.8 213.0h0M70.0 227.4h0M27.3 198.9h0M30.1 190.8h0M67.4 234.3h0M32.7 233.1h0M52.7 226.6h0M41.9 212.6h0M52.3 199.7h0M54.0 190.4h0M47.4 230.1h0" stroke="#000" stroke-width="0.6" stroke-linecap="round" fill="none"/>
</g>
<path d="M49.2 186.9V238.6M23.25 221.3H74.0" stroke="#000" stroke-width="1.4" fill="none"/>
<rect x="23.25" y="186.9" width="50.75" height="51.69999999999999" fill="none" stroke="#000" stroke-width="1.6"/>
<text x="25.3" y="219.3" font-size="5.6" font-weight="bold">86</text>
<text x="69.0" y="219.3" font-size="5.6" font-weight="bold">8</text>
<text x="69.5" y="236.0" font-size="5.6" font-weight="bold">4</text>
<rect x="84.0" y="186.9" width="50.69999999999999" height="51.69999999999999" fill="#fff" stroke="none"/>
<clipPath id="k01"><rect x="84.0" y="186.9" width="50.69999999999999" height="51.69999999999999"/></clipPath><g clip-path="url(#k01)">
<ellipse cx="94.6" cy="229.8" rx="10.6" ry="6.2" transform="rotate(-14 94.6 229.8)" fill="url(#rg)" opacity="1.0"/>
<path d="M93.6 230.5h0M96.0 227.5h0M94.7 228.8h0M104.7 229.3h0M88.2 232.9h0M90.4 226.8h0M94.4 228.4h0M92.1 233.2h0M90.6 227.9h0M88.0 234.4h0M88.2 231.3h0M90.9 232.9h0M100.8 227.2h0M90.0 228.1h0M106.0 224.4h0M99.8 231.9h0M92.8 229.4h0M97.2 226.1h0M99.3 230.5h0M88.1 227.7h0M87.0 231.3h0M101.0 228.9h0M90.2 231.5h0M98.4 229.8h0M97.3 228.8h0M97.3 229.6h0M96.8 229.1h0M99.9 227.9h0M94.4 230.9h0M96.8 231.0h0M96.1 229.8h0M94.1 233.4h0M102.8 232.9h0M98.8 229.3h0M101.0 227.3h0M95.2 226.5h0M99.8 229.8h0M89.1 226.9h0M92.5 234.3h0M99.3 230.9h0M93.0 228.9h0M92.9 231.8h0M94.5 227.6h0M86.7 229.1h0M95.5 231.3h0M95.9 226.9h0M93.0 230.7h0M89.2 230.8h0M103.0 231.3h0M96.4 230.0h0M90.6 234.5h0M92.2 232.4h0M86.7 229.9h0M85.9 229.1h0M90.6 230.8h0M94.6 223.0h0M97.1 227.1h0M92.5 224.5h0M98.5 227.2h0M97.2 230.7h0M88.7 229.1h0M90.2 229.5h0M95.3 228.4h0M97.5 229.6h0M98.3 225.2h0M88.2 231.6h0M85.6 231.7h0M102.7 225.1h0M92.5 227.9h0M99.4 231.4h0M94.9 231.3h0M88.4 232.3h0M100.1 226.3h0M96.2 228.4h0M100.2 225.1h0M96.1 225.1h0M89.7 229.8h0M93.9 228.4h0M98.1 225.8h0M90.6 227.7h0M95.4 230.3h0M99.3 227.4h0M88.0 227.5h0M93.9 234.7h0M94.2 225.6h0M98.8 229.1h0M93.4 227.5h0M91.6 232.0h0M97.0 229.2h0M92.3 232.7h0M96.3 229.1h0M95.6 227.6h0M94.4 233.2h0M98.2 228.6h0M99.6 227.9h0M88.6 230.8h0M96.4 227.5h0M93.9 230.7h0M94.0 233.8h0M95.7 233.0h0M99.9 229.0h0M94.2 231.3h0M93.5 231.7h0M88.6 229.7h0M94.6 233.2h0M94.6 230.2h0M89.3 226.6h0M93.5 231.4h0M96.1 227.1h0M100.9 228.8h0M93.6 231.5h0M103.2 226.7h0M99.1 229.2h0M99.2 231.7h0M96.5 225.9h0M94.0 225.3h0M91.8 230.1h0M94.2 229.2h0M96.1 234.2h0M95.9 231.7h0M101.8 229.1h0M103.5 227.1h0M96.0 224.6h0M98.4 225.5h0M91.5 229.6h0M86.0 232.2h0M94.1 228.7h0M95.9 229.5h0M101.4 229.6h0M105.1 225.2h0M95.7 228.3h0M100.0 225.9h0M100.4 231.0h0M94.6 224.7h0M98.8 230.0h0M96.9 230.8h0M100.6 223.2h0M89.9 229.6h0M94.9 227.3h0M98.6 227.2h0M99.5 228.2h0M93.1 233.1h0M97.6 230.3h0M91.6 228.7h0M97.1 225.6h0M90.7 226.9h0M90.3 231.5h0M97.8 223.5h0M89.0 229.6h0M88.7 232.5h0M97.7 225.9h0M95.1 228.6h0M100.5 229.9h0M88.7 227.8h0M92.9 230.1h0M94.3 229.5h0M103.8 227.4h0M93.9 226.0h0M99.1 229.6h0M93.8 227.7h0M97.1 228.6h0M88.2 229.1h0M95.9 233.9h0M92.2 230.3h0M91.6 235.5h0M95.8 227.7h0M99.3 227.7h0M97.8 232.3h0M93.3 229.0h0M98.4 229.7h0M90.6 233.3h0M96.1 228.3h0M96.8 227.4h0M94.4 229.0h0M94.3 232.1h0M95.6 230.3h0M93.1 233.0h0M93.8 229.2h0M97.9 227.6h0M85.7 229.1h0M100.2 227.4h0M96.6 227.7h0M95.8 229.0h0M89.9 228.5h0M92.6 228.4h0M92.1 229.5h0M98.4 230.9h0M97.5 228.0h0M99.6 226.9h0M95.7 231.8h0M86.6 234.8h0M90.4 229.9h0M93.0 229.4h0M95.3 225.1h0M87.3 227.7h0M93.9 229.6h0M95.8 232.6h0M93.2 234.4h0M94.4 231.6h0M104.5 225.9h0M94.9 230.7h0M102.7 224.0h0M95.8 229.1h0M91.0 227.7h0M97.2 228.9h0M93.7 233.2h0M95.6 234.5h0M96.5 230.1h0M91.2 226.5h0M99.3 226.8h0M96.0 232.9h0M93.6 232.6h0M90.5 232.6h0M95.0 230.6h0M93.9 233.7h0M91.1 229.9h0M102.8 227.1h0M95.6 236.1h0M98.1 226.6h0M101.3 229.0h0M96.2 228.3h0M98.2 232.3h0M96.7 228.4h0M98.7 227.7h0M97.0 228.2h0M97.3 230.8h0M94.7 227.2h0M91.7 226.8h0M92.6 229.8h0M91.6 229.5h0M95.8 230.6h0M100.2 227.3h0M90.1 229.3h0M92.1 230.9h0M90.5 231.7h0M94.9 232.0h0M99.1 228.6h0M92.1 225.9h0M95.9 229.1h0M93.9 229.5h0M97.0 230.3h0M91.7 229.6h0M88.1 233.9h0M96.4 228.4h0M94.9 232.9h0M101.9 225.1h0M90.8 224.9h0M93.4 227.6h0M94.5 236.5h0M94.9 228.9h0M86.6 231.4h0M100.7 228.7h0M97.1 227.9h0M93.7 230.5h0M93.1 230.3h0M98.0 233.7h0M96.8 231.9h0M92.9 230.7h0M94.3 231.4h0M96.4 230.6h0M92.1 227.7h0M93.8 232.5h0M92.4 228.7h0M93.5 231.8h0M89.0 231.4h0M91.0 232.7h0M97.0 232.5h0M98.4 230.1h0M94.1 228.6h0M88.4 232.6h0M96.2 228.3h0M101.8 226.9h0M99.8 228.0h0M93.5 229.1h0M93.4 231.2h0M92.5 229.1h0M102.3 227.9h0M95.2 227.7h0M89.6 226.8h0M99.2 230.4h0M98.8 230.9h0M85.5 230.8h0M92.3 232.2h0M99.2 229.2h0M98.0 226.0h0M89.9 233.7h0M93.5 225.2h0M98.5 228.6h0M96.6 230.9h0M89.5 228.3h0M94.7 233.5h0M97.2 227.6h0M97.5 232.0h0M90.4 230.3h0M105.3 228.6h0M95.6 229.3h0M89.4 236.7h0M93.5 231.0h0M92.1 232.1h0M94.6 230.2h0M105.1 226.5h0M95.8 230.4h0M96.9 231.6h0M98.6 230.9h0M96.0 230.7h0M92.1 230.1h0M101.1 229.8h0M96.5 226.9h0M101.5 228.0h0M98.1 224.0h0M90.3 229.2h0M92.7 229.9h0M92.2 227.0h0M92.5 227.6h0M97.3 231.4h0M94.3 231.1h0M92.0 233.1h0M101.8 230.8h0M101.1 229.7h0M95.4 231.5h0M90.4 231.6h0M92.8 233.4h0M90.7 227.2h0M90.9 230.4h0M91.2 233.2h0M96.3 231.4h0M96.2 229.6h0M96.5 228.6h0M91.3 232.7h0M96.1 229.1h0M102.9 225.1h0M96.5 232.2h0M92.9 229.4h0M106.8 227.2h0M95.3 225.8h0M90.7 224.7h0M98.9 229.8h0M92.7 234.3h0M92.0 225.1h0M99.0 227.5h0M92.5 231.7h0M88.5 231.9h0M98.0 229.2h0M98.5 228.8h0M88.4 229.1h0M94.0 232.7h0M100.1 230.8h0M96.2 230.3h0M97.2 223.7h0M95.3 233.7h0M92.1 230.4h0M92.8 231.6h0M94.6 234.5h0M96.4 232.5h0M87.2 234.3h0M95.3 231.1h0M97.5 227.7h0M92.2 230.8h0M94.0 225.8h0M89.4 227.4h0M89.1 231.7h0M96.4 232.8h0M94.1 227.6h0M93.4 233.1h0M89.4 231.6h0M96.3 233.8h0M94.5 229.1h0M95.5 236.8h0M94.7 231.0h0M93.2 229.7h0M97.3 229.8h0M95.6 225.2h0M102.8 228.6h0M100.8 227.5h0M95.0 231.0h0M89.4 230.4h0M96.1 223.0h0M90.9 224.6h0M101.1 226.7h0M87.8 228.6h0M93.5 232.3h0M100.9 225.7h0M95.1 230.8h0M97.9 228.6h0M98.5 232.6h0M92.8 230.5h0M98.6 229.3h0M90.5 228.4h0M93.6 231.0h0M104.3 229.0h0M94.0 229.7h0M96.8 231.0h0M89.6 228.6h0M100.5 227.8h0M91.1 231.7h0M91.4 229.9h0M92.9 233.2h0M91.1 232.3h0M88.3 229.9h0M93.0 228.0h0M92.7 230.3h0M93.9 228.3h0M90.3 230.0h0M90.2 228.2h0M93.8 231.9h0M94.8 230.2h0M90.9 231.5h0M95.0 231.7h0M92.4 224.9h0M99.3 228.7h0M97.3 228.6h0M97.3 230.8h0M99.3 229.9h0M92.3 231.7h0M101.3 231.3h0M94.5 225.4h0M92.0 227.9h0M97.1 232.1h0M90.9 234.3h0M101.9 226.0h0M96.4 232.1h0M88.8 233.4h0M89.1 227.9h0M92.2 229.0h0M92.5 231.2h0M96.6 229.2h0M99.5 232.9h0M99.4 230.1h0M97.5 231.3h0M90.3 229.3h0M98.8 225.8h0M99.6 227.1h0M87.2 235.1h0M93.3 234.6h0M92.7 228.4h0M91.3 230.3h0M97.8 223.0h0M97.4 232.2h0M94.2 226.9h0M89.9 233.2h0M86.6 235.0h0M89.9 227.8h0M90.6 228.7h0M91.2 232.4h0M86.3 235.2h0M87.8 230.3h0M92.2 227.9h0M96.3 230.2h0M93.1 233.3h0M93.0 227.6h0M93.9 228.1h0M95.0 232.5h0M99.9 229.0h0M90.7 228.8h0M95.5 229.6h0M89.2 232.4h0M100.2 230.9h0M97.9 229.7h0M98.9 228.7h0M94.2 225.9h0M94.4 231.2h0M89.4 232.4h0M96.1 229.9h0M100.5 228.4h0M102.7 230.1h0M90.9 229.9h0M96.0 226.6h0M91.6 232.7h0M93.8 229.1h0M98.0 228.3h0M94.1 231.0h0M102.3 227.3h0M94.8 229.6h0M96.8 226.6h0M92.7 233.4h0M91.7 227.3h0M93.6 233.2h0M96.1 226.4h0M101.4 226.4h0M94.5 228.8h0M89.6 233.2h0M92.1 230.9h0M88.5 230.3h0M96.0 226.4h0M95.3 232.0h0M90.0 231.0h0M93.3 231.1h0M98.6 228.3h0M96.3 228.1h0M92.5 231.9h0M98.1 229.6h0M97.0 231.9h0M92.4 230.8h0M94.7 226.4h0M103.2 229.5h0M89.9 231.1h0M98.9 228.2h0M92.3 222.9h0M96.9 227.1h0M96.5 229.7h0M95.5 228.1h0M94.1 230.5h0M95.0 231.1h0M97.6 229.0h0M96.1 227.2h0M88.6 232.4h0M96.8 230.1h0M100.2 227.8h0M97.5 224.5h0M94.9 226.8h0M87.2 233.6h0M97.1 228.6h0M96.5 225.0h0M100.9 227.8h0M90.5 230.9h0M94.0 231.5h0M92.6 231.3h0M93.7 230.9h0M86.8 229.9h0M91.7 226.5h0M92.4 228.9h0M93.8 233.3h0M100.7 224.6h0M92.4 232.5h0M91.9 226.9h0M98.7 225.6h0M92.2 230.6h0M99.3 226.6h0M96.4 228.7h0M91.2 227.8h0M91.6 230.8h0M95.7 231.5h0M92.9 226.7h0M95.3 230.9h0M92.3 231.2h0M97.6 230.9h0M90.4 225.3h0M93.0 232.3h0M93.1 227.3h0M89.0 230.6h0M92.9 229.1h0M93.1 227.7h0M87.8 229.4h0M86.4 230.1h0M100.0 228.8h0M93.8 231.7h0M93.8 229.2h0M92.2 232.2h0M101.5 228.3h0M94.3 232.6h0M86.1 228.7h0M96.7 229.5h0M90.3 230.7h0M96.5 229.6h0M94.2 230.7h0M100.5 230.2h0M96.7 229.5h0M93.2 231.3h0M100.6 227.5h0M106.3 226.4h0M91.9 228.9h0M99.9 230.9h0M96.6 231.1h0M97.2 232.1h0M89.0 230.0h0M90.3 230.4h0M102.1 233.7h0M95.9 232.0h0M91.5 227.0h0M102.8 229.4h0M100.1 229.1h0M97.6 228.1h0M90.2 230.2h0M94.1 227.8h0M100.7 226.9h0M87.1 228.8h0M90.9 229.7h0M98.4 226.6h0M96.0 231.1h0M97.3 231.5h0M95.4 229.1h0M94.9 228.8h0M100.2 229.8h0M110.3 225.4h0M97.8 233.7h0M98.9 222.3h0M91.4 224.9h0M101.0 225.4h0M95.3 230.7h0M95.9 231.2h0M92.4 229.1h0M91.3 230.6h0M92.1 229.7h0M90.7 231.9h0M90.1 235.7h0M101.5 222.5h0M97.9 234.2h0M99.6 231.0h0M96.7 228.4h0M88.7 232.4h0M94.8 229.6h0M91.1 231.8h0M91.4 231.7h0M94.6 231.6h0M94.9 227.3h0M95.4 231.0h0M94.9 228.1h0M93.3 229.4h0M95.3 231.5h0M99.9 227.3h0M104.5 228.0h0M99.8 229.2h0M93.8 230.2h0M95.7 226.5h0M99.2 229.8h0M99.2 229.0h0M101.3 233.4h0M99.6 226.0h0M97.1 231.7h0M93.2 229.1h0M87.8 230.8h0M100.3 232.4h0M97.3 228.8h0M91.4 232.5h0M94.8 230.0h0M92.4 228.2h0M92.6 229.8h0M102.1 226.8h0M93.0 229.7h0M106.4 231.3h0M94.3 231.0h0M90.5 226.7h0M96.3 233.9h0M105.5 227.9h0M94.5 232.0h0M97.8 232.7h0M97.4 229.9h0M88.5 231.0h0M93.9 229.1h0M100.5 227.6h0M93.6 230.3h0M98.5 231.6h0M94.1 231.8h0M93.3 230.8h0M96.5 232.2h0M98.2 223.4h0M95.1 229.8h0M94.8 230.6h0M90.6 231.6h0M88.0 234.9h0M95.3 230.1h0M94.6 233.1h0M95.7 229.1h0M99.6 230.2h0M98.3 229.2h0M90.6 230.3h0M96.1 230.7h0M96.2 230.8h0M93.1 228.1h0M90.9 230.2h0M94.3 230.2h0M96.5 222.9h0M93.2 230.1h0M87.4 227.1h0M101.1 230.3h0M94.0 228.1h0M92.3 229.4h0M96.8 228.9h0M96.9 226.1h0M94.2 230.0h0M91.3 227.7h0M91.9 230.0h0M98.6 230.9h0M94.7 232.9h0M97.6 232.5h0M86.0 231.5h0M91.8 228.3h0M93.1 231.4h0M93.3 233.9h0M93.3 233.4h0M101.4 227.8h0M94.4 223.6h0M92.2 230.6h0M92.4 234.9h0M88.9 233.0h0M107.5 230.5h0M102.3 232.0h0M90.6 234.4h0M96.0 233.2h0M90.3 231.2h0M91.5 229.4h0M105.4 231.8h0M111.2 232.2h0M90.2 232.7h0M98.5 233.6h0M98.0 235.4h0M121.5 223.5h0M105.0 232.6h0M100.0 224.1h0M100.2 227.1h0M89.3 233.0h0M100.9 222.7h0M100.4 228.2h0M98.7 229.9h0M101.6 228.4h0M93.9 231.5h0M100.7 233.1h0M103.6 226.1h0M97.3 231.7h0M119.2 228.2h0M98.7 227.5h0M111.0 229.0h0M92.1 229.4h0M89.3 231.4h0M97.2 226.5h0M109.0 229.3h0M113.7 225.8h0M97.6 219.3h0M98.9 224.3h0M92.6 228.7h0M94.7 232.3h0M96.8 228.2h0M97.1 226.8h0M107.0 228.7h0M102.2 229.2h0M102.0 231.9h0M110.0 230.2h0M93.7 224.3h0M94.6 227.3h0M99.4 230.7h0M93.6 229.8h0M92.8 227.7h0M93.4 232.9h0M93.0 231.0h0M90.5 233.1h0M94.2 233.9h0M91.6 229.5h0M93.3 234.6h0M87.7 232.7h0M105.9 228.4h0M101.5 232.5h0M96.3 223.5h0M88.1 225.4h0M102.1 223.8h0M97.0 233.0h0M97.4 230.0h0M98.3 227.1h0M96.3 225.7h0M104.3 221.1h0M92.1 232.0h0M92.9 230.6h0M99.6 230.5h0M97.3 233.1h0M102.7 229.3h0M106.6 232.5h0M108.6 225.1h0M107.0 233.0h0M96.3 231.5h0M96.3 227.7h0M95.4 230.7h0M109.2 235.0h0M95.2 225.2h0M90.9 228.8h0M89.6 229.9h0M104.2 228.4h0M91.3 231.3h0M103.6 227.1h0M101.4 231.1h0M103.7 225.9h0M105.0 223.2h0M102.1 227.7h0M101.0 227.6h0M99.2 231.7h0M93.2 235.7h0M100.2 224.8h0M106.1 234.1h0M97.2 223.8h0M91.7 228.9h0M103.5 228.9h0M97.7 227.9h0M97.3 225.1h0M96.0 232.5h0M88.1 227.9h0M91.2 234.8h0M100.0 223.1h0M111.9 229.8h0M112.8 228.7h0M97.3 231.5h0M102.7 232.2h0M97.4 228.6h0M99.4 228.7h0M102.6 232.6h0M104.5 223.6h0M89.0 230.5h0M112.0 224.9h0M97.1 228.6h0M90.3 230.1h0M114.3 215.6h0M91.3 230.9h0M98.2 230.2h0M93.6 235.2h0M108.3 229.7h0M100.7 227.5h0M110.2 224.7h0M114.2 222.7h0M106.0 231.4h0M92.5 232.1h0M108.0 229.0h0M115.2 223.4h0M100.1 228.0h0M95.8 231.7h0M109.1 223.3h0M88.3 233.7h0M96.8 232.9h0M97.3 227.1h0M99.2 228.9h0M106.2 223.8h0M98.6 235.5h0M90.0 233.0h0M88.2 236.0h0M96.9 228.7h0M101.2 225.0h0M105.8 226.9h0M104.4 233.0h0M103.5 230.9h0M93.0 230.5h0M108.9 228.1h0M96.9 233.8h0M95.2 226.1h0M94.7 233.6h0M105.3 224.3h0M97.7 230.5h0M120.6 226.4h0M107.8 228.0h0M89.2 232.0h0M99.2 234.1h0M106.2 225.7h0M104.3 226.4h0M102.3 224.7h0M100.5 229.5h0M86.9 235.1h0M86.4 231.9h0M103.0 220.7h0M93.8 232.2h0M99.1 231.6h0M102.6 224.9h0M101.9 225.4h0M94.0 231.5h0M95.7 230.3h0M106.3 222.8h0M93.8 219.8h0M97.0 226.0h0M101.9 233.9h0M111.7 224.7h0M100.6 224.6h0M95.3 235.7h0M107.9 229.6h0M92.1 235.7h0M89.0 233.4h0M96.5 230.1h0M91.7 228.0h0M100.5 229.3h0M92.1 227.0h0M101.3 232.7h0M101.5 227.6h0M102.7 234.3h0M100.9 227.3h0M99.3 230.7h0M91.0 228.1h0M100.3 225.6h0M88.3 236.9h0M101.4 230.6h0M96.2 222.7h0M96.6 224.3h0M98.5 230.2h0M102.7 228.0h0M99.9 225.4h0M106.5 226.4h0M104.4 227.7h0M107.1 228.0h0M97.6 236.2h0M97.5 229.2h0M111.5 219.7h0M103.6 234.1h0M100.6 230.4h0M104.7 221.9h0M90.8 228.6h0M96.9 228.4h0M101.8 228.9h0M98.5 232.4h0M109.9 225.4h0M101.2 226.5h0M104.3 224.0h0M91.6 230.4h0M98.2 229.6h0M98.4 231.1h0M100.4 220.3h0M101.3 225.1h0M98.7 231.1h0M104.3 234.4h0M115.5 228.5h0M96.4 220.9h0M91.4 223.5h0M108.2 229.0h0M109.9 226.5h0M99.8 229.2h0M107.6 234.6h0M103.1 232.8h0M96.9 230.1h0M115.1 222.7h0M98.2 221.2h0M111.7 221.3h0M98.2 235.2h0M96.2 230.2h0M94.8 233.3h0M89.6 233.8h0M93.7 229.8h0M107.7 230.2h0M86.6 233.5h0M98.9 228.4h0M106.8 225.9h0M99.7 226.1h0M102.7 229.3h0M100.9 227.9h0M103.4 232.3h0M109.3 222.9h0M99.5 221.7h0M94.7 233.2h0M97.3 229.4h0M101.7 219.7h0M90.0 235.0h0M88.0 229.3h0M88.8 234.4h0M105.8 228.8h0M91.9 233.7h0M99.5 229.5h0M89.2 230.5h0M98.9 233.3h0M94.3 229.2h0M93.7 235.0h0M106.7 224.8h0M99.4 229.6h0M90.3 228.4h0M118.0 227.9h0M90.5 228.6h0M88.6 228.6h0M86.2 236.1h0M111.4 227.3h0M100.0 228.5h0M100.2 224.9h0M107.1 226.9h0M99.8 230.4h0M104.8 230.2h0M111.0 223.3h0M101.0 230.5h0M103.2 220.6h0M100.2 229.0h0M98.9 225.5h0M110.4 229.0h0M102.8 226.4h0M91.9 232.1h0M91.2 222.2h0M97.2 224.1h0M102.4 232.1h0M99.2 226.3h0M98.3 233.6h0M100.6 225.8h0M101.9 230.7h0M104.9 224.4h0M107.2 229.6h0M114.7 228.6h0M106.8 224.1h0M94.1 225.2h0M92.0 233.0h0M98.3 230.1h0M109.7 228.9h0M99.6 224.1h0M99.2 224.8h0M116.7 222.7h0M86.9 235.7h0M93.7 231.0h0M98.7 229.7h0M100.9 228.9h0M104.9 226.0h0M87.0 236.9h0M99.2 229.1h0M91.9 225.2h0M103.5 222.3h0M100.8 226.4h0M106.7 225.6h0M89.3 234.4h0M87.1 221.9h0M93.3 233.5h0M95.6 234.6h0M92.1 228.9h0M89.4 236.4h0M93.0 227.9h0M105.4 225.5h0M95.7 236.2h0M89.2 236.1h0M100.4 233.0h0M101.0 229.0h0M94.3 225.8h0M111.8 226.5h0M102.8 230.3h0M93.2 236.0h0M104.9 227.0h0M99.2 230.0h0M103.1 227.5h0M96.0 236.4h0M94.8 231.7h0M109.4 232.2h0M90.3 234.7h0M99.6 223.9h0M96.1 227.4h0M87.7 234.7h0M94.3 233.7h0M102.9 230.9h0M96.4 229.8h0M97.4 232.9h0M96.5 225.9h0M98.4 228.3h0M99.4 224.4h0M98.2 233.2h0M86.7 233.7h0M96.9 232.4h0M98.4 228.2h0M108.5 216.6h0M89.3 228.4h0M110.3 226.8h0M93.7 230.7h0M111.2 229.6h0M95.1 227.8h0M95.0 232.8h0M99.6 220.5h0M92.2 232.8h0M97.6 220.4h0M91.8 232.9h0M111.9 232.2h0M93.1 229.9h0M113.8 228.1h0M113.0 230.0h0M88.2 221.1h0M100.1 221.1h0M94.1 230.4h0M108.3 222.3h0M100.0 227.2h0M114.6 236.0h0M98.1 236.8h0M96.1 232.5h0M91.0 228.4h0M99.3 231.2h0M101.4 230.0h0M98.2 228.7h0M101.7 235.1h0M102.0 220.7h0M98.7 235.6h0M92.4 229.2h0M91.1 236.5h0M93.3 230.1h0M94.6 228.0h0M105.2 224.9h0M105.3 228.6h0M92.5 232.3h0M104.4 227.7h0M105.7 227.9h0M97.0 232.0h0M98.2 222.5h0M97.1 229.7h0M90.9 236.5h0M98.5 227.5h0M96.5 223.3h0M104.6 230.9h0M104.4 234.4h0M107.5 226.2h0M102.5 229.0h0M90.1 236.3h0M104.6 230.0h0M87.9 229.3h0M92.1 229.6h0M98.5 229.1h0M91.5 231.2h0M96.0 234.8h0M105.0 223.6h0M93.6 232.3h0M90.8 230.7h0M86.0 224.1h0M121.0 226.7h0M94.7 231.0h0M97.1 224.5h0M96.8 222.6h0M107.7 230.9h0M91.1 231.7h0M94.9 229.4h0M92.6 233.9h0M86.2 229.8h0M99.3 233.1h0M93.7 226.0h0M110.1 231.1h0M94.3 231.7h0M96.5 235.3h0M105.9 219.9h0M104.2 227.6h0M92.2 233.6h0M88.4 228.6h0M100.1 224.8h0M100.1 233.7h0M89.6 233.6h0M100.5 231.1h0M110.9 229.1h0M105.1 230.2h0M97.5 223.2h0M93.5 229.4h0M97.1 228.4h0M103.7 236.3h0M97.6 235.1h0M100.9 225.2h0M104.3 221.8h0M87.2 235.3h0M100.0 231.4h0M103.4 233.9h0M94.9 225.6h0M110.1 227.3h0M98.7 234.7h0M97.7 230.8h0M93.5 229.0h0M95.0 227.1h0M97.0 235.4h0M94.3 217.4h0M87.4 236.8h0M86.1 235.4h0M92.6 228.1h0M96.2 233.2h0M93.5 230.2h0M102.4 223.1h0M97.5 228.5h0M104.3 230.4h0M99.9 229.3h0M102.4 231.2h0M110.1 229.5h0M100.4 233.9h0M97.8 230.5h0M99.3 226.2h0M89.5 229.9h0M99.7 228.7h0M104.6 228.0h0M95.8 229.9h0M95.5 224.8h0M93.7 234.7h0M108.9 219.7h0M100.1 225.0h0M92.5 218.6h0M96.7 234.0h0M99.8 232.2h0M106.4 226.4h0M94.1 231.7h0M89.9 226.3h0M99.4 224.5h0M96.1 225.8h0M86.8 233.5h0M96.6 228.1h0M95.7 230.7h0M93.8 226.0h0M97.8 223.8h0M100.2 230.5h0M111.3 227.1h0M103.2 229.8h0M103.9 225.2h0M94.7 231.3h0M96.5 223.3h0M91.7 226.4h0M92.8 232.0h0M103.5 224.0h0M113.8 220.3h0M102.5 224.3h0M102.7 235.0h0M101.7 226.7h0M104.5 229.0h0M97.2 228.9h0M102.7 227.8h0M111.5 230.3h0M99.5 232.9h0M104.1 228.0h0M98.1 223.2h0M92.4 233.2h0M97.0 232.8h0M102.8 232.1h0M97.1 227.8h0M90.2 231.0h0M95.2 232.2h0M99.4 233.9h0M101.6 224.4h0M98.9 223.4h0M104.5 227.4h0M100.0 231.0h0M101.9 235.6h0M90.1 229.2h0M101.4 236.4h0M94.5 232.8h0M88.6 232.1h0M86.4 225.6h0M103.7 234.3h0M104.3 235.3h0M107.0 229.2h0M104.4 230.0h0M101.5 226.9h0M87.9 224.1h0M95.8 226.8h0M94.6 224.4h0M112.5 220.2h0M90.5 227.9h0M87.5 229.7h0M90.8 233.4h0M107.2 232.5h0M93.0 229.8h0M104.6 231.0h0M93.8 229.1h0M105.9 226.1h0M86.4 233.8h0M94.0 227.8h0M103.0 229.1h0M95.9 227.9h0M90.3 227.8h0M108.7 223.9h0M91.7 232.0h0M106.6 225.3h0M111.6 226.6h0M97.4 226.4h0M87.9 230.0h0M87.8 230.5h0M89.8 224.5h0M97.2 228.8h0M108.9 228.3h0M124.3 195.6h0M119.1 192.8h0M126.7 192.1h0M120.9 200.6h0M125.1 189.7h0M123.7 189.2h0M122.7 194.4h0M129.6 191.9h0M117.1 195.7h0M123.8 195.3h0M121.3 195.4h0M119.2 198.0h0M121.7 197.4h0M123.6 193.8h0M123.0 193.0h0M125.1 193.7h0M122.2 200.7h0M122.9 197.0h0M123.0 197.2h0M118.2 195.9h0M121.4 194.5h0M111.8 200.1h0M119.2 201.2h0M121.9 199.1h0M121.5 197.6h0M126.1 194.9h0M119.4 196.6h0M128.3 189.2h0M118.5 202.8h0M128.9 188.6h0M120.2 200.7h0M120.5 202.6h0M117.5 195.8h0M118.4 195.9h0M123.9 199.9h0M122.1 199.1h0M126.6 197.1h0M128.1 196.3h0M117.7 198.6h0M130.4 195.4h0M125.5 197.5h0M124.0 197.6h0M126.2 193.4h0M121.4 195.2h0M126.7 189.3h0M115.3 196.8h0M125.7 189.9h0M119.2 195.7h0M125.5 193.5h0M119.5 195.7h0M124.1 194.7h0M122.0 189.1h0M117.6 198.5h0M117.7 201.9h0M120.8 191.8h0M122.9 194.9h0M118.8 203.1h0M128.8 189.6h0M119.6 196.4h0M125.7 193.6h0M116.3 194.9h0M117.1 195.0h0M124.6 196.0h0M113.4 205.9h0M119.4 200.1h0M120.9 197.3h0M121.4 197.9h0M113.1 197.6h0M124.8 189.8h0M120.8 195.6h0M123.1 198.1h0M115.2 202.4h0M121.9 196.1h0M122.9 191.4h0M125.7 193.2h0M125.1 194.5h0M122.8 197.2h0M121.0 196.3h0M126.1 199.2h0M122.8 191.3h0M122.7 198.4h0M119.2 194.0h0M121.6 192.0h0M122.3 198.1h0M122.5 194.2h0M121.4 193.9h0M118.6 199.0h0M132.1 195.9h0M123.7 192.5h0M118.1 198.2h0M120.4 201.5h0M119.3 196.4h0M123.7 202.6h0M116.2 196.7h0M122.6 194.8h0M122.4 199.0h0M118.1 198.6h0M127.2 189.9h0M118.5 194.3h0M123.1 194.7h0M118.3 202.1h0M117.4 199.1h0M116.6 197.4h0M127.8 195.6h0M126.2 195.3h0M122.1 197.9h0M120.5 196.6h0M121.9 193.2h0M120.6 201.1h0M121.2 196.9h0M125.0 192.2h0M118.3 198.6h0M125.1 194.6h0M123.0 198.0h0M122.7 195.4h0M120.8 195.7h0M123.4 191.0h0M124.9 192.6h0M117.6 210.2h0M119.5 213.1h0M118.2 212.7h0M116.4 213.7h0M117.9 213.7h0M120.5 218.0h0M118.0 206.9h0M117.7 204.0h0M117.4 202.4h0M117.1 200.7h0M119.5 212.3h0M120.5 202.0h0M117.3 202.6h0M117.6 211.1h0M119.7 208.7h0M121.0 210.4h0M123.2 197.6h0M113.6 204.1h0M121.3 202.9h0M116.6 209.8h0M120.5 209.7h0M121.5 211.7h0M124.8 215.5h0M116.6 225.9h0M121.9 207.5h0M109.8 213.1h0M118.5 214.1h0M110.6 209.4h0M115.8 205.3h0M114.4 213.9h0M113.2 214.1h0M118.3 212.5h0M114.5 206.6h0M114.3 199.7h0M115.5 205.1h0M116.5 215.5h0M120.1 215.4h0M116.7 205.3h0M115.0 211.1h0M112.3 216.0h0M120.3 216.1h0M119.3 205.7h0M120.5 209.1h0M115.9 209.7h0M122.5 204.9h0M120.2 218.0h0M126.3 201.8h0M117.0 211.9h0M121.2 214.7h0M124.0 212.1h0M117.5 213.5h0M118.2 199.6h0M116.6 210.3h0M117.3 211.4h0M121.1 211.4h0M119.0 203.9h0M114.6 208.9h0M127.0 206.2h0M115.8 216.5h0M122.4 207.0h0M114.0 229.5h0M113.9 227.1h0M113.8 225.3h0M118.7 228.6h0M118.0 225.3h0M115.3 224.9h0M113.5 224.2h0M113.3 223.1h0M109.7 230.1h0M114.6 226.8h0M115.2 221.6h0M113.9 225.3h0M112.0 223.7h0M117.4 228.3h0M116.3 225.6h0M114.8 225.4h0M118.4 227.9h0M115.0 229.6h0M119.0 225.3h0M114.0 226.6h0M114.8 224.9h0M112.9 228.3h0M116.7 227.1h0M113.2 226.9h0M115.4 225.2h0M114.8 229.3h0M112.5 226.1h0M120.0 228.8h0M117.2 228.9h0M113.8 224.6h0M116.6 226.3h0M115.3 227.1h0M113.3 224.7h0M119.1 226.5h0M116.6 227.2h0M116.0 223.7h0M115.8 226.1h0M116.2 227.2h0M116.4 225.8h0M115.1 225.6h0M115.0 224.1h0M114.8 226.7h0M110.7 227.0h0M114.0 226.5h0M117.6 229.1h0M101.7 209.6h0M100.0 210.0h0M108.7 205.2h0M104.5 215.5h0M106.1 211.5h0M106.9 208.5h0M99.6 222.9h0M97.8 212.9h0M108.4 211.9h0M94.0 208.3h0M99.6 218.5h0M108.1 213.8h0M99.0 207.7h0M104.7 211.3h0M98.5 216.4h0M111.3 213.5h0M101.4 220.0h0M105.0 219.1h0M96.4 226.4h0M104.7 208.8h0M104.5 212.5h0M99.9 211.3h0M104.5 211.3h0M100.9 213.3h0M103.4 210.7h0M131.0 221.2h0M98.5 202.9h0M85.7 198.6h0M121.3 209.6h0M98.6 191.2h0M117.4 210.9h0M130.7 232.3h0M111.6 233.5h0M109.4 226.0h0M127.8 191.3h0M114.5 195.8h0M131.9 215.6h0M103.0 201.0h0M130.6 209.8h0M120.9 213.7h0M115.6 197.5h0M108.2 224.8h0M117.1 208.2h0M132.7 230.8h0M86.2 230.7h0M115.7 217.1h0M127.7 192.1h0M94.6 219.9h0M125.3 206.5h0M130.4 199.1h0M114.6 213.0h0M128.7 190.3h0M92.7 192.3h0M86.6 199.3h0M112.9 233.4h0M111.4 192.1h0M125.3 222.0h0M115.6 215.4h0M86.6 218.1h0M89.1 225.1h0M104.2 199.0h0M101.9 199.4h0M129.9 230.6h0M122.9 198.5h0M132.7 194.4h0" stroke="#000" stroke-width="0.6" stroke-linecap="round" fill="none"/>
</g>
<path d="M109.4 186.9V238.6M84.0 221.5H134.7" stroke="#000" stroke-width="1.4" fill="none"/>
<rect x="84.0" y="186.9" width="50.69999999999999" height="51.69999999999999" fill="none" stroke="#000" stroke-width="1.6"/>
<text x="87.2" y="218.1" font-size="5.6" font-weight="bold">90</text>
<text x="130.5" y="218.1" font-size="5.6" font-weight="bold">5</text>
<text x="130.3" y="235.9" font-size="5.6" font-weight="bold">3</text>
<rect x="146.5" y="187.6" width="52.5" height="51.599999999999994" fill="#fff" stroke="none"/>
<clipPath id="k02"><rect x="146.5" y="187.6" width="52.5" height="51.599999999999994"/></clipPath><g clip-path="url(#k02)">
<ellipse cx="151.8" cy="232.5" rx="8.4" ry="11.4" transform="rotate(0 151.8 232.5)" fill="url(#rg)" opacity="1.0"/>
<path d="M149.2 234.1h0M152.5 232.0h0M150.5 226.9h0M151.5 228.3h0M150.8 232.0h0M149.9 230.8h0M156.8 230.7h0M152.5 229.8h0M153.5 224.9h0M158.7 234.4h0M151.7 227.7h0M153.4 233.9h0M148.2 229.4h0M151.9 230.3h0M151.5 236.1h0M156.1 232.1h0M154.4 235.2h0M155.1 235.3h0M152.5 232.0h0M149.3 228.8h0M154.9 230.1h0M152.2 235.0h0M153.3 229.7h0M151.9 237.4h0M154.7 228.8h0M149.3 226.6h0M149.5 227.6h0M149.6 234.4h0M153.4 230.8h0M152.5 235.2h0M151.2 228.2h0M150.3 227.9h0M152.7 232.1h0M153.8 230.9h0M156.0 225.5h0M156.3 221.9h0M150.8 231.6h0M158.4 234.4h0M155.7 230.5h0M152.6 232.6h0M152.7 228.7h0M153.2 237.0h0M150.5 233.9h0M150.1 226.2h0M151.9 229.4h0M150.8 236.8h0M153.4 222.2h0M152.7 229.7h0M150.9 220.8h0M150.2 233.6h0M153.8 237.4h0M149.7 229.5h0M149.3 228.1h0M152.6 230.8h0M152.4 229.8h0M150.0 231.4h0M149.8 233.8h0M149.9 225.2h0M152.6 230.3h0M153.9 231.1h0M151.5 232.1h0M149.4 233.0h0M153.6 228.3h0M158.6 225.9h0M149.1 231.7h0M153.8 227.5h0M151.5 235.2h0M151.5 230.0h0M151.1 227.8h0M149.6 229.5h0M152.9 227.4h0M149.1 235.2h0M150.4 232.0h0M150.8 230.5h0M152.0 236.9h0M150.6 234.5h0M151.4 229.9h0M150.7 225.5h0M152.4 229.4h0M152.7 236.8h0M155.6 227.8h0M150.3 230.7h0M153.3 226.0h0M154.2 229.7h0M150.3 237.5h0M150.4 229.0h0M155.7 234.6h0M152.2 229.3h0M155.3 235.9h0M152.6 224.4h0M149.6 232.8h0M152.3 234.6h0M149.8 235.3h0M151.0 232.8h0M151.4 231.8h0M153.1 223.3h0M150.7 226.9h0M150.8 236.3h0M155.1 226.9h0M151.6 230.7h0M152.4 224.7h0M153.1 230.4h0M152.1 226.6h0M153.2 233.5h0M156.8 231.3h0M154.7 233.0h0M148.2 225.3h0M149.6 235.1h0M149.1 231.2h0M149.3 234.9h0M152.3 234.0h0M153.0 234.1h0M157.5 233.0h0M150.0 234.8h0M150.2 230.9h0M152.4 231.1h0M154.7 226.8h0M151.1 230.7h0M149.5 230.6h0M154.0 227.0h0M151.2 232.7h0M155.9 230.4h0M156.5 231.8h0M156.7 236.1h0M153.0 231.4h0M154.1 227.9h0M148.3 232.1h0M152.9 235.6h0M150.9 233.0h0M154.5 234.6h0M150.4 226.1h0M151.2 235.5h0M149.6 229.7h0M156.5 226.8h0M152.1 233.0h0M149.2 225.9h0M150.8 232.9h0M154.9 229.5h0M155.0 228.1h0M152.2 236.3h0M152.6 234.4h0M155.8 223.9h0M151.7 228.3h0M150.3 228.4h0M153.0 229.9h0M154.1 232.3h0M153.9 232.7h0M151.5 231.0h0M154.6 221.0h0M152.8 234.0h0M151.8 227.0h0M149.1 235.7h0M155.1 236.9h0M151.9 227.2h0M153.0 232.3h0M150.8 235.8h0M158.5 229.7h0M156.5 233.5h0M153.5 228.0h0M153.5 233.3h0M149.6 237.6h0M153.3 221.5h0M151.5 229.5h0M150.7 229.7h0M150.0 230.2h0M150.0 226.7h0M153.0 233.7h0M151.8 228.2h0M152.9 230.3h0M152.1 229.9h0M151.5 228.9h0M155.5 234.2h0M151.1 233.2h0M148.3 227.9h0M152.2 219.4h0M149.2 230.4h0M153.9 228.4h0M153.2 231.8h0M151.0 228.2h0M153.1 233.1h0M150.7 227.1h0M150.6 232.9h0M150.7 231.2h0M156.3 234.4h0M148.7 230.6h0M151.6 231.0h0M150.1 229.0h0M153.1 226.5h0M149.6 232.6h0M151.5 231.7h0M150.4 233.7h0M153.1 233.0h0M153.4 227.7h0M153.7 231.0h0M152.9 236.1h0M149.2 231.7h0M150.7 236.4h0M153.1 230.4h0M151.9 232.3h0M154.0 235.8h0M148.5 234.7h0M149.5 233.3h0M149.6 233.0h0M152.5 234.3h0M150.1 231.6h0M149.5 236.1h0M152.6 229.6h0M149.0 232.9h0M152.8 228.6h0M151.5 225.3h0M153.0 228.3h0M153.2 233.6h0M150.2 230.0h0M151.0 236.8h0M151.4 230.5h0M153.4 227.7h0M151.6 230.7h0M154.4 229.7h0M150.3 231.1h0M151.7 227.2h0M155.0 231.4h0M148.2 224.2h0M148.5 232.5h0M153.5 231.4h0M153.6 231.3h0M154.2 228.6h0M153.8 231.7h0M154.3 232.8h0M150.5 224.8h0M151.8 236.0h0M153.1 231.3h0M148.7 233.9h0M150.2 226.8h0M154.2 227.8h0M153.6 228.0h0M148.5 232.1h0M150.3 227.8h0M150.3 228.4h0M152.2 230.9h0M151.7 233.7h0M149.4 236.1h0M154.3 226.1h0M149.1 233.6h0M151.3 235.2h0M154.4 236.6h0M152.6 229.2h0M152.9 230.2h0M150.6 232.8h0M155.3 232.2h0M149.0 230.7h0M154.0 229.5h0M156.1 231.5h0M149.8 230.8h0M155.1 233.0h0M153.8 229.4h0M150.1 227.8h0M152.1 230.1h0M155.3 231.1h0M150.6 236.4h0M150.6 230.4h0M150.8 237.0h0M151.4 234.5h0M153.2 234.0h0M153.9 232.2h0M153.5 227.0h0M159.1 235.2h0M153.7 235.2h0M149.7 231.7h0M154.2 233.9h0M154.2 228.0h0M150.7 227.5h0M151.7 237.1h0M148.6 227.2h0M152.6 230.9h0M154.2 228.1h0M152.4 234.5h0M152.9 235.4h0M153.8 229.1h0M155.0 232.4h0M149.9 227.6h0M154.1 223.1h0M153.1 233.7h0M152.7 230.2h0M152.2 225.0h0M152.5 235.9h0M152.3 233.1h0M151.8 229.6h0M151.5 230.4h0M152.5 234.4h0M153.3 234.3h0M150.7 228.4h0M152.4 235.9h0M148.4 231.3h0M149.7 227.9h0M151.1 232.3h0M152.7 237.0h0M153.5 235.0h0M148.4 222.8h0M153.8 227.0h0M149.2 235.4h0M150.7 233.3h0M150.5 228.1h0M155.7 230.0h0M157.0 222.3h0M154.2 237.3h0M151.1 236.6h0M152.8 229.6h0M155.2 231.0h0M149.6 233.6h0M150.6 232.5h0M151.7 233.9h0M151.0 237.1h0M151.1 229.5h0M156.0 232.1h0M152.2 234.0h0M151.0 230.3h0M150.8 232.0h0M153.8 223.6h0M150.2 233.3h0M160.6 229.9h0M152.9 227.4h0M150.3 231.2h0M148.8 233.7h0M150.6 235.5h0M152.8 229.0h0M150.3 234.8h0M153.5 232.9h0M153.2 235.1h0M153.1 234.1h0M151.8 234.9h0M150.1 228.2h0M148.7 237.2h0M153.4 235.6h0M151.7 228.6h0M149.2 237.0h0M149.3 236.6h0M148.9 231.0h0M149.3 230.5h0M151.5 229.0h0M148.7 235.8h0M152.8 229.5h0M152.4 230.7h0M152.9 230.0h0M153.6 234.3h0M151.9 229.5h0M156.2 231.9h0M151.2 231.2h0M151.6 233.8h0M155.0 236.4h0M152.7 226.1h0M151.3 233.9h0M151.7 229.3h0M148.8 231.4h0M153.4 231.7h0M155.0 231.2h0M153.7 231.2h0M152.7 234.3h0M155.9 229.3h0M150.6 230.2h0M149.7 220.2h0M152.8 235.3h0M151.3 228.3h0M152.0 235.2h0M156.5 231.0h0M152.4 237.4h0M153.9 226.6h0M150.8 225.7h0M149.3 236.7h0M155.3 232.6h0M149.0 225.5h0M150.6 235.7h0M152.7 230.7h0M151.9 230.5h0M151.2 228.7h0M148.9 234.0h0M152.7 231.8h0M154.3 225.8h0M149.6 229.1h0M150.6 236.1h0M155.9 227.4h0M150.9 233.1h0M153.6 236.3h0M157.4 235.2h0M149.7 224.7h0M151.6 234.5h0M149.5 227.4h0M155.0 233.3h0M153.3 225.3h0M151.1 231.0h0M152.9 237.1h0M150.3 234.3h0M148.2 231.4h0M150.2 235.8h0M149.9 232.2h0M149.3 235.3h0M154.4 236.6h0M149.6 227.8h0M152.2 231.4h0M152.9 232.2h0M155.9 232.7h0M152.4 230.8h0M148.3 230.1h0M149.5 234.1h0M154.1 229.4h0M150.1 233.9h0M152.9 235.0h0M156.4 229.6h0M148.1 230.6h0M151.2 231.8h0M151.7 234.5h0M153.9 231.7h0M153.2 231.0h0M151.1 233.2h0M151.1 225.0h0M152.9 229.9h0M156.2 230.3h0M150.1 228.6h0M153.5 229.9h0M148.4 236.7h0M154.4 236.1h0M152.0 229.4h0M155.7 226.0h0M148.4 233.6h0M148.9 233.9h0M156.2 232.7h0M150.6 233.7h0M149.9 229.8h0M153.8 234.0h0M153.3 231.2h0M152.8 235.4h0M148.4 233.0h0M151.3 234.5h0M153.2 232.9h0M154.0 235.5h0M151.1 230.4h0M150.7 229.3h0M155.7 226.5h0M150.1 228.0h0M148.7 231.9h0M149.5 222.8h0M150.3 223.8h0M151.1 235.1h0M156.7 226.2h0M150.2 234.7h0M154.3 219.3h0M149.7 234.2h0M149.8 232.1h0M150.3 230.5h0M152.5 233.5h0M152.0 231.7h0M152.9 234.1h0M151.8 233.2h0M148.9 227.0h0M149.0 237.6h0M150.1 236.5h0M148.6 235.6h0M154.6 231.7h0M155.8 229.4h0M153.9 230.6h0M156.1 236.7h0M153.3 229.8h0M150.9 230.1h0M151.0 233.2h0M152.5 233.3h0M152.8 228.9h0M150.9 230.3h0M151.6 234.9h0M149.7 228.3h0M157.4 229.6h0M153.0 229.7h0M153.9 232.7h0M149.6 232.9h0M151.2 232.1h0M151.8 235.8h0M154.0 235.8h0M151.6 230.3h0M152.5 232.6h0M151.4 233.9h0M157.6 235.0h0M151.6 234.2h0M149.5 230.7h0M148.4 230.8h0M151.8 232.4h0M150.6 234.1h0M152.2 227.8h0M152.9 228.0h0M148.8 230.4h0M151.9 232.4h0M149.9 229.4h0M150.0 230.3h0M149.3 228.8h0M151.1 234.1h0M149.9 224.0h0M150.0 232.0h0M150.9 229.3h0M148.5 232.1h0M155.1 232.8h0M153.4 219.9h0M150.8 236.6h0M152.5 235.0h0M152.0 235.2h0M151.6 234.3h0M150.8 226.6h0M153.6 231.6h0M149.7 228.3h0M152.1 235.6h0M153.2 233.1h0M151.7 232.6h0M156.0 231.3h0M153.7 231.4h0M153.4 229.0h0M149.9 223.8h0M151.9 231.9h0M150.4 230.3h0M156.9 230.2h0M152.7 227.4h0M149.8 232.4h0M153.9 227.8h0M154.5 233.1h0M150.3 231.1h0M152.2 230.7h0M158.1 225.6h0M151.9 233.4h0M152.6 235.6h0M159.7 231.5h0M151.7 229.6h0M148.8 234.5h0M149.4 235.2h0M152.1 230.3h0M149.5 237.1h0M153.2 233.7h0M151.2 233.7h0M150.5 228.0h0M149.5 231.0h0M154.6 232.3h0M151.3 234.9h0M148.4 230.0h0M149.2 228.6h0M150.6 236.8h0M150.4 235.9h0M154.6 232.5h0M153.9 229.5h0M154.3 231.9h0M154.2 222.0h0M152.1 236.0h0M152.7 234.3h0M153.7 231.1h0M152.3 237.0h0M152.3 224.9h0M149.0 224.8h0M150.5 233.1h0M150.5 231.4h0M151.1 231.3h0M150.1 230.7h0M149.6 234.3h0M152.6 234.6h0M152.3 233.0h0M153.2 237.4h0M152.7 229.2h0M150.8 234.3h0M155.1 229.0h0M151.4 231.3h0M153.3 231.7h0M149.1 226.3h0M149.4 224.4h0M152.2 227.0h0M157.6 234.2h0M148.5 220.6h0M148.7 234.5h0M149.8 223.3h0M150.6 228.7h0M151.9 229.8h0M154.4 235.0h0M151.3 232.0h0M153.3 227.5h0M151.8 229.6h0M150.3 233.0h0M150.5 236.4h0M153.0 233.1h0M152.2 231.5h0M155.1 230.9h0M151.5 228.6h0M148.9 230.1h0M149.8 233.4h0M152.7 237.2h0M152.6 224.9h0M156.0 236.0h0M150.2 236.7h0M153.4 233.0h0M151.6 224.2h0M148.9 231.4h0M152.5 233.1h0M150.9 226.9h0M150.1 230.9h0M154.6 234.9h0M151.3 229.7h0M152.5 230.7h0M153.8 230.0h0M150.7 226.1h0M153.5 230.5h0M149.3 231.1h0M148.6 235.0h0M154.6 228.7h0M155.1 226.6h0M153.7 229.9h0M149.9 228.3h0M151.0 234.2h0M149.4 229.6h0M149.4 225.5h0M152.1 234.4h0M150.6 231.6h0M154.7 232.7h0M150.5 236.3h0M148.7 228.2h0M148.5 234.5h0M156.5 232.2h0M155.8 232.2h0M152.8 231.5h0M153.1 230.0h0M153.3 232.8h0M151.9 232.1h0M153.2 227.9h0M155.3 236.4h0M153.8 227.2h0M152.5 231.4h0M152.7 231.9h0M153.5 236.8h0M150.2 228.0h0M151.1 227.5h0M149.4 230.5h0M156.4 229.4h0M152.1 226.9h0M152.6 227.3h0M154.8 229.5h0M157.3 230.9h0M151.6 229.4h0M152.0 228.1h0M148.2 221.3h0M151.8 230.8h0M149.4 236.7h0M148.4 234.1h0M148.3 229.8h0M151.8 230.0h0M152.5 232.6h0M152.8 229.9h0M155.0 229.3h0M153.9 231.8h0M149.8 225.9h0M153.8 235.5h0M150.4 236.2h0M148.9 236.8h0M148.1 235.1h0M150.9 231.0h0M153.3 228.1h0M154.7 227.9h0M149.3 234.7h0M157.4 237.6h0M152.7 227.7h0M154.1 229.2h0M154.3 231.5h0M151.1 235.8h0M155.2 235.3h0M152.8 229.3h0M152.6 222.4h0M156.7 229.9h0M155.1 237.2h0M150.7 228.7h0M150.8 234.9h0M152.0 232.7h0M151.7 229.7h0M150.6 229.7h0M149.3 231.8h0M155.0 224.8h0M149.8 227.7h0M152.3 229.4h0M152.1 229.4h0M151.7 230.8h0M154.8 233.6h0M149.1 237.0h0M152.4 232.9h0M150.5 230.5h0M152.1 234.9h0M153.4 235.3h0M152.6 210.6h0M153.5 215.6h0M150.4 204.7h0M154.7 211.8h0M153.8 208.2h0M152.6 207.8h0M151.7 216.0h0M153.8 218.1h0M150.3 204.4h0M153.6 196.0h0M154.0 214.6h0M156.9 201.4h0M152.1 206.8h0M154.8 203.7h0M153.4 219.2h0M149.4 229.3h0M149.9 205.7h0M151.3 229.1h0M154.4 212.0h0M155.0 207.8h0M151.9 220.2h0M153.1 227.0h0M152.7 208.7h0M154.3 226.5h0M154.9 218.2h0M150.6 209.2h0M152.1 203.8h0M152.1 205.6h0M154.2 211.7h0M154.5 206.5h0M151.3 207.1h0M153.5 228.3h0M151.1 196.7h0M151.7 212.0h0M152.7 215.7h0M153.3 198.2h0M151.2 200.9h0M155.8 200.9h0M152.7 217.9h0M152.3 201.3h0M153.7 214.8h0M151.1 200.4h0M152.9 199.8h0M149.2 217.6h0M151.6 199.0h0M151.4 201.8h0M151.6 212.6h0M151.1 202.2h0M153.4 200.5h0M154.5 201.2h0M151.4 213.0h0M153.0 225.4h0M150.1 224.1h0M149.8 221.1h0M152.4 208.6h0M154.3 204.6h0M150.6 214.9h0M148.5 200.9h0M154.1 228.8h0M154.4 205.1h0M151.9 220.6h0M154.3 217.3h0M156.0 206.6h0M150.7 208.4h0M151.6 203.2h0M151.6 211.2h0M154.3 215.5h0M150.7 210.5h0M151.7 207.4h0M154.7 210.6h0M154.2 221.1h0M154.3 218.1h0M150.6 214.7h0M153.1 205.0h0M151.3 206.3h0M154.0 214.6h0M153.3 207.0h0M153.6 204.5h0M152.0 222.1h0M152.6 211.3h0M153.0 212.4h0M152.0 205.3h0M152.9 212.8h0M150.6 217.3h0M150.2 212.7h0M149.2 197.7h0M152.1 206.2h0M153.9 215.0h0M153.1 212.3h0M148.7 218.9h0M153.1 207.7h0M152.4 209.8h0M152.1 218.1h0M152.8 209.8h0M153.4 217.6h0M154.8 195.2h0M154.6 202.0h0M155.8 218.2h0M153.4 217.2h0M151.3 216.8h0M154.8 218.1h0M150.2 218.2h0M153.9 200.6h0M150.5 223.9h0M151.3 217.6h0M154.6 200.0h0M151.2 198.8h0M154.3 213.6h0M153.5 204.3h0M152.1 214.5h0M153.7 207.6h0M153.5 197.2h0M152.6 202.8h0M151.2 206.8h0M153.9 210.0h0M151.8 216.9h0M152.3 204.4h0M153.2 214.1h0M152.2 208.1h0M152.8 209.0h0M152.9 190.2h0M152.9 205.7h0M152.6 197.6h0M154.9 215.9h0M151.5 219.4h0M151.6 213.8h0M150.1 227.8h0M148.2 212.3h0M153.6 217.3h0M153.2 207.1h0M155.0 213.2h0M149.8 201.2h0M151.0 207.4h0M151.4 219.0h0M155.9 210.0h0M154.0 207.2h0M152.1 209.0h0M152.3 214.3h0M152.9 221.8h0M150.3 197.1h0M153.0 209.9h0M150.4 208.9h0M152.5 207.9h0M153.6 209.8h0M152.9 214.5h0M151.1 220.1h0M151.8 195.1h0M153.8 199.7h0M151.4 211.0h0M149.9 197.4h0M151.8 213.9h0M151.4 202.6h0M152.0 208.8h0M152.3 199.9h0M151.7 202.0h0M151.7 233.5h0M153.9 207.0h0M153.4 222.3h0M154.0 209.5h0M152.4 215.4h0M151.6 202.9h0M152.9 214.1h0M149.7 205.3h0M151.4 208.7h0M151.1 215.5h0M150.3 203.0h0M153.1 200.5h0M150.1 204.8h0M154.5 224.0h0M152.6 193.7h0M149.1 215.4h0M151.4 219.7h0M150.4 197.9h0M153.2 201.6h0M153.2 206.2h0M151.4 203.8h0M151.1 217.9h0M153.0 210.4h0M151.1 205.0h0M154.6 212.8h0M151.1 220.2h0M152.9 206.4h0M148.7 202.5h0M152.9 217.8h0M151.1 224.8h0M152.7 223.3h0M154.2 216.8h0M151.9 208.4h0M148.6 215.0h0M152.4 215.5h0M150.6 209.9h0M150.1 219.2h0M154.1 217.9h0M151.8 199.4h0M153.9 216.5h0M153.9 201.7h0M151.5 211.4h0M152.4 209.2h0M150.1 214.6h0M152.9 206.1h0M152.1 207.3h0M155.0 206.0h0M153.7 206.2h0M151.9 198.1h0M150.9 215.0h0M151.8 205.5h0M152.2 213.6h0M153.5 210.5h0M154.0 214.2h0M150.0 215.6h0M150.3 199.3h0M152.8 209.6h0M150.0 212.2h0M152.0 204.5h0M149.0 204.9h0M151.6 213.8h0M151.3 221.7h0M151.6 215.4h0M151.0 216.7h0M153.0 213.4h0M153.7 227.2h0M153.4 211.1h0M151.7 218.6h0M150.9 214.0h0M150.8 210.6h0M151.8 197.2h0M151.8 196.7h0M151.8 229.2h0M152.6 211.2h0M153.7 202.9h0M151.0 206.5h0M151.7 201.0h0M153.1 210.6h0M152.5 205.1h0M150.7 215.7h0M150.0 223.7h0M153.3 215.0h0M150.3 211.1h0M152.9 211.0h0M150.4 222.7h0M155.3 199.3h0M150.3 202.5h0M155.4 206.0h0M153.5 200.4h0M154.7 215.2h0M154.4 207.5h0M153.1 202.5h0M151.7 215.5h0M156.6 210.0h0M151.5 214.3h0M152.6 210.7h0M149.8 206.2h0M155.0 199.4h0M165.3 218.6h0M156.0 206.0h0M169.2 211.5h0M163.9 210.4h0M162.0 211.1h0M156.8 214.2h0M173.3 222.0h0M160.5 222.0h0M165.9 210.4h0M157.9 210.2h0M170.1 200.9h0M165.2 224.2h0M169.3 217.8h0M167.9 204.1h0M161.5 211.2h0M156.4 222.9h0M162.8 203.5h0M158.0 212.1h0M159.9 209.6h0M173.9 207.1h0M168.7 210.4h0M164.7 192.1h0M167.0 218.4h0M168.6 205.6h0M164.1 210.7h0M162.2 197.2h0M163.5 230.1h0M166.0 214.7h0M176.5 192.5h0M155.0 204.2h0M163.2 206.6h0M159.2 201.0h0M178.8 197.6h0M159.3 197.9h0M171.3 201.9h0M167.0 210.9h0M166.2 211.5h0M170.1 220.7h0M165.7 207.9h0M160.9 189.6h0M175.6 208.1h0M155.1 219.0h0M150.5 199.0h0M157.7 210.9h0M167.6 212.2h0M158.5 200.3h0M163.6 207.5h0M169.2 200.4h0M167.6 222.0h0M165.8 215.1h0M170.5 209.8h0M163.4 215.4h0M170.3 215.3h0M164.5 201.8h0M173.3 197.7h0M170.5 196.7h0M163.7 198.1h0M171.0 216.5h0M169.5 219.0h0M169.0 222.8h0M165.7 197.6h0M155.7 209.3h0M160.0 220.1h0M169.6 225.1h0M172.1 206.5h0M153.1 206.1h0M157.3 206.0h0M149.7 213.2h0M154.4 216.4h0M167.5 218.0h0M159.2 205.4h0M166.7 222.2h0M173.0 200.6h0M151.7 215.0h0M164.2 221.3h0M165.6 219.3h0M166.4 213.3h0M170.4 206.1h0M171.3 208.8h0M167.4 203.1h0M157.2 203.5h0M171.4 200.7h0M178.0 219.2h0M156.3 199.1h0M162.9 203.4h0M166.1 221.3h0M161.3 213.0h0M165.3 224.8h0M165.7 223.3h0M171.2 213.4h0M161.5 219.4h0M162.7 199.8h0M176.7 211.8h0M171.1 225.2h0M160.7 213.9h0M155.6 212.4h0M163.3 233.7h0M167.3 217.0h0M162.1 197.2h0M154.3 220.1h0M158.9 214.3h0M163.5 213.3h0M165.2 205.9h0M170.9 203.1h0M158.4 206.2h0M157.5 234.0h0M151.4 200.3h0M156.1 202.9h0M161.3 208.3h0M160.9 206.4h0M161.6 225.2h0M164.2 213.0h0M160.3 208.7h0M153.1 216.6h0M164.1 212.8h0M165.2 208.5h0M157.4 207.4h0M185.0 208.8h0M152.4 206.4h0M158.8 209.5h0M158.8 221.3h0M156.4 199.1h0M164.3 213.5h0M170.3 216.6h0M166.4 209.3h0M164.2 209.8h0M173.4 220.1h0M152.4 206.4h0M161.4 215.4h0M163.2 214.9h0M160.5 211.8h0M161.7 212.0h0M161.2 217.4h0M158.2 222.9h0M154.6 200.7h0M155.2 219.2h0M160.4 204.1h0M165.3 202.3h0M166.0 211.7h0M167.5 211.7h0M156.2 224.4h0M154.4 206.1h0M162.3 216.1h0M162.5 213.5h0M159.6 215.4h0M169.1 210.8h0M159.1 212.8h0M163.2 210.8h0M166.0 207.1h0M165.5 219.9h0M160.1 211.5h0M171.7 213.2h0M167.2 205.1h0M168.9 204.5h0M163.9 211.6h0M163.7 197.7h0M157.0 222.6h0M149.2 206.7h0M154.6 207.3h0M151.7 205.7h0M162.0 211.2h0M152.4 214.6h0M158.8 216.2h0M155.9 204.2h0M162.3 200.3h0M161.0 208.8h0M171.7 208.9h0M168.4 203.6h0M172.8 220.7h0M163.0 201.0h0M150.2 202.3h0M169.0 218.1h0M175.6 206.5h0M159.6 208.2h0M172.0 202.5h0M161.2 199.0h0M163.1 203.4h0M161.5 195.0h0M158.2 216.1h0M159.2 212.3h0M150.5 226.3h0M163.4 209.1h0M163.2 205.1h0M167.2 218.5h0M162.0 205.2h0M165.2 218.5h0M177.6 205.5h0M169.1 194.1h0M161.4 206.8h0M164.1 207.1h0M162.5 214.3h0M171.1 205.8h0M158.9 211.9h0M169.6 211.8h0M165.1 202.2h0M165.5 203.2h0M158.5 195.6h0M156.1 210.3h0M162.2 215.2h0M164.4 206.8h0M179.0 204.0h0M162.8 199.4h0M156.4 215.1h0M161.5 218.7h0M165.5 190.9h0M156.0 227.2h0M160.7 222.8h0M151.3 205.0h0M153.9 209.5h0M159.4 210.9h0M167.3 212.9h0M156.1 206.4h0M156.5 213.0h0M161.7 215.1h0M155.4 230.6h0M158.5 208.9h0M156.1 204.0h0M174.0 218.2h0M159.1 209.3h0M171.7 210.9h0M163.2 210.3h0M174.3 206.5h0M155.6 205.7h0M163.5 205.5h0M171.1 205.8h0M166.5 225.2h0M159.8 209.0h0M176.1 202.8h0M181.8 201.0h0M172.6 219.7h0M173.2 204.3h0M162.7 210.9h0M156.8 194.7h0M152.1 191.7h0M169.5 211.6h0M149.5 195.2h0M161.0 211.3h0M174.0 216.8h0M164.8 202.3h0M153.8 205.1h0M156.5 205.6h0M171.0 203.3h0M155.1 206.0h0M159.2 205.7h0M152.7 207.4h0M161.9 209.8h0M158.1 213.7h0M169.3 213.2h0M155.6 209.8h0M159.4 202.7h0M171.2 216.1h0M170.5 210.6h0M160.4 206.2h0M163.3 227.5h0M165.4 190.5h0M169.6 214.6h0M151.0 211.3h0M156.1 222.1h0M177.8 225.0h0M170.3 214.8h0M166.3 205.6h0M162.5 214.2h0M168.1 199.7h0M168.4 210.2h0M168.3 203.0h0M155.1 213.6h0M162.5 194.7h0M165.1 206.6h0M164.4 211.1h0M155.2 207.6h0M160.8 206.6h0M155.7 203.2h0M159.5 207.4h0M163.9 221.8h0M166.3 204.5h0M166.4 198.6h0M169.3 200.8h0M163.4 205.8h0M153.8 215.3h0M162.8 207.2h0M159.3 216.0h0M150.8 221.1h0M158.1 202.1h0M165.2 211.4h0M169.4 207.0h0M161.6 217.3h0M152.8 216.3h0M162.0 212.7h0M157.3 200.1h0M171.0 206.5h0M153.7 208.7h0M168.2 208.7h0M160.8 204.2h0M165.0 211.5h0M157.5 213.1h0M165.9 212.1h0M162.3 202.8h0M161.1 206.1h0M155.0 199.6h0M158.5 203.2h0M149.4 214.5h0M165.9 207.6h0M160.3 207.9h0M172.5 218.3h0M152.0 204.5h0M173.2 209.4h0M165.5 197.0h0M159.2 217.0h0M165.7 207.8h0M153.7 216.0h0M152.9 215.8h0M170.7 209.0h0M148.6 214.0h0M162.4 197.2h0M171.7 204.9h0M163.2 193.4h0M171.5 217.5h0M160.9 214.4h0M157.8 221.3h0M170.4 220.7h0M168.5 222.5h0M161.8 207.8h0M171.9 196.9h0M173.0 194.2h0M181.7 200.9h0M176.3 194.6h0M178.5 195.4h0M177.1 200.8h0M176.5 194.5h0M173.3 200.3h0M170.4 191.5h0M177.5 194.3h0M171.2 201.5h0M180.2 198.7h0M176.4 193.3h0M176.8 192.4h0M174.5 190.7h0M168.4 197.8h0M171.3 195.6h0M177.8 197.6h0M170.0 196.3h0M170.1 206.5h0M179.7 201.0h0M167.0 191.1h0M174.1 197.5h0M175.7 192.1h0M181.4 197.3h0M178.2 195.5h0M176.0 197.4h0M168.2 195.3h0M168.3 198.7h0M175.4 189.9h0M169.5 193.2h0M178.0 193.8h0M176.7 197.1h0M172.5 192.1h0M175.9 195.9h0M175.2 196.8h0M174.8 203.4h0M174.5 194.1h0M177.0 197.4h0M174.7 198.9h0M173.1 195.9h0M175.8 197.2h0M171.9 200.0h0M178.8 194.2h0M167.1 195.5h0M173.4 197.6h0M174.0 198.4h0M174.2 198.3h0M176.2 200.7h0M179.1 196.8h0M179.7 194.4h0M167.5 192.5h0M177.6 191.8h0M167.7 199.9h0M178.1 194.3h0M176.0 193.6h0M171.6 201.9h0M172.7 191.8h0M172.7 199.6h0M178.8 192.9h0M172.4 194.6h0M172.9 194.6h0M175.9 197.8h0M180.3 195.1h0M172.3 199.8h0M175.4 194.2h0M171.8 203.2h0M178.0 195.0h0M170.3 189.9h0M175.8 192.9h0M175.8 193.0h0M173.0 197.4h0M178.5 191.4h0M181.1 200.6h0M174.4 193.1h0M175.6 194.6h0M175.1 200.3h0M177.3 204.0h0M174.7 193.2h0M174.2 189.4h0M171.7 201.9h0M173.5 195.6h0M174.5 189.9h0M180.4 198.7h0M177.5 202.3h0M166.8 202.3h0M172.5 198.6h0M178.8 192.8h0M178.4 194.4h0M168.1 199.4h0M174.0 198.0h0M180.0 195.3h0M171.9 201.7h0M172.9 191.7h0M174.7 202.4h0M170.7 192.4h0M178.2 194.6h0M175.0 196.1h0M175.1 199.3h0M172.0 200.8h0M178.1 190.7h0M173.1 193.0h0M171.5 193.8h0M173.8 195.9h0M169.6 193.4h0M172.3 192.4h0M182.6 202.0h0M171.5 199.0h0M171.1 196.5h0M174.4 199.8h0M175.5 195.6h0M175.8 190.7h0M175.2 189.5h0M168.4 198.7h0M172.7 196.2h0M166.4 196.1h0M176.9 192.7h0M175.8 197.0h0M177.3 197.3h0M168.8 201.5h0M167.1 201.2h0M174.6 194.1h0M170.7 203.3h0M170.1 199.9h0M171.3 202.1h0M168.8 195.9h0M167.7 200.3h0M175.6 190.6h0M175.4 200.9h0M177.0 193.8h0M175.4 198.1h0M174.6 194.0h0M175.9 196.5h0M173.2 196.8h0M174.7 191.7h0M173.7 197.0h0M166.1 200.1h0M175.6 196.9h0M180.4 200.8h0M179.8 205.1h0M173.5 197.0h0M175.5 201.7h0M175.0 197.2h0M180.5 192.3h0M180.3 199.5h0M171.6 192.1h0M171.5 196.7h0M172.6 205.0h0M172.2 194.0h0M179.8 192.4h0M167.4 195.2h0M170.3 198.2h0M169.2 199.7h0M171.9 194.4h0M176.5 194.2h0M170.4 198.8h0M177.2 196.3h0M180.3 200.3h0M174.9 193.5h0M178.6 201.8h0M173.5 197.6h0M175.6 196.3h0M173.3 190.5h0M178.3 195.3h0M175.5 196.1h0M176.7 200.8h0M177.5 197.2h0M178.0 192.8h0M170.9 191.4h0M175.3 199.8h0M171.7 192.2h0M172.9 203.0h0M174.3 197.5h0M176.5 194.6h0M174.3 193.4h0M173.5 201.7h0M179.0 196.0h0M176.0 197.1h0M175.8 197.0h0M172.7 192.7h0M177.1 195.6h0M180.4 196.0h0M173.1 191.9h0M177.5 207.0h0M173.7 192.1h0M171.9 193.1h0M168.8 197.5h0M175.3 197.6h0M179.6 197.5h0M173.6 195.5h0M178.2 202.2h0M174.7 193.4h0M177.3 189.5h0M173.8 192.5h0M176.3 195.9h0M170.8 196.7h0M177.0 203.9h0M181.1 196.1h0M178.3 194.7h0M172.5 194.4h0M167.6 193.4h0M175.1 199.1h0M170.3 192.0h0M173.9 201.6h0M178.0 192.9h0M166.3 193.9h0M173.4 196.6h0M173.8 190.3h0M177.0 196.9h0M175.9 196.4h0M180.5 201.4h0M176.0 199.2h0M167.2 197.8h0M174.4 192.7h0M173.2 192.8h0M174.2 193.3h0M178.1 203.9h0M170.0 194.8h0M165.1 196.4h0M181.0 199.8h0M173.8 203.2h0M173.0 195.0h0M179.5 196.9h0M177.3 197.4h0M175.1 196.7h0M175.6 195.6h0M177.1 192.2h0M171.1 194.5h0M174.9 193.4h0M181.9 192.7h0M176.5 194.4h0M175.6 196.1h0M181.7 193.9h0M175.4 194.9h0M180.5 199.7h0M175.7 199.1h0M173.8 192.8h0M176.0 189.6h0M175.7 205.8h0M169.6 195.6h0M182.0 202.9h0M176.5 196.2h0M182.5 203.0h0M171.9 198.0h0M173.2 196.1h0M170.1 194.3h0M174.0 195.8h0M176.9 193.0h0M182.1 197.5h0M172.9 196.2h0M173.4 198.4h0M178.1 198.4h0M176.4 192.3h0M172.2 197.5h0M172.9 196.5h0M177.7 211.1h0M178.9 226.0h0M174.5 215.5h0M170.8 208.3h0M175.3 215.6h0M175.3 198.8h0M173.2 212.3h0M176.3 211.3h0M174.9 212.5h0M176.8 212.7h0M172.6 214.1h0M175.9 203.6h0M174.9 204.3h0M174.9 200.2h0M177.4 212.3h0M174.0 194.1h0M174.5 207.5h0M177.0 201.8h0M172.1 209.9h0M176.8 226.0h0M173.8 204.1h0M170.4 216.9h0M178.4 219.3h0M178.9 199.4h0M175.5 207.0h0M173.1 210.3h0M171.5 201.7h0M176.0 204.9h0M178.6 206.5h0M172.0 209.6h0M175.2 204.1h0M178.7 217.3h0M177.0 212.7h0M174.9 207.7h0M179.7 210.7h0M172.5 194.9h0M176.4 196.5h0M177.5 197.8h0M172.3 209.8h0M174.2 219.9h0M174.4 204.5h0M181.3 199.3h0M175.1 200.9h0M175.0 209.9h0M174.1 198.1h0M180.9 201.3h0M179.6 213.4h0M173.4 217.8h0M173.7 209.1h0M176.6 208.0h0M175.8 205.7h0M176.1 212.7h0M171.4 209.8h0M175.7 209.8h0M173.3 205.6h0M181.0 205.4h0M175.8 211.4h0M175.9 204.4h0M176.3 213.1h0M174.0 202.0h0M175.8 211.3h0M173.0 215.2h0M175.4 200.2h0M176.4 216.0h0M175.4 211.3h0M169.3 210.3h0M176.6 218.4h0M173.7 211.6h0M177.5 201.4h0M175.6 213.2h0M175.3 217.1h0M176.4 205.5h0M174.0 206.3h0M175.5 206.2h0M174.6 204.6h0M176.6 202.0h0M177.4 214.1h0M173.6 216.7h0M174.4 198.1h0M173.7 207.1h0M179.3 205.9h0M173.7 213.9h0M175.2 216.6h0M174.9 211.5h0M173.4 217.4h0M176.6 215.5h0M174.8 213.4h0M177.7 212.3h0M173.4 216.7h0M159.6 230.6h0M156.5 234.8h0M166.9 237.6h0M167.3 234.4h0M171.0 234.2h0M161.9 235.9h0M156.4 233.5h0M164.4 231.9h0M169.9 233.1h0M159.3 235.3h0M161.6 233.0h0M159.5 234.3h0M154.4 230.4h0M168.7 231.5h0M160.1 226.6h0M170.8 235.0h0M160.2 233.1h0M153.2 228.2h0M157.5 233.4h0M157.3 229.0h0M158.6 233.6h0M160.3 232.3h0M170.9 229.2h0M150.5 230.2h0M156.9 232.7h0M162.8 230.3h0M166.2 234.1h0M162.8 225.1h0M162.1 236.6h0M165.1 231.2h0M161.2 231.6h0M160.7 236.3h0M164.2 235.1h0M154.7 225.3h0M162.3 226.7h0M158.1 234.7h0M163.6 230.2h0M161.2 228.4h0M168.7 234.4h0M165.1 231.1h0M163.8 233.0h0M158.1 228.6h0M165.1 229.9h0M151.0 230.9h0M166.8 232.5h0M166.6 235.1h0M163.2 225.8h0M165.7 228.6h0M154.9 228.8h0M159.6 231.9h0M157.6 228.9h0M165.3 231.7h0M165.3 235.4h0M170.4 231.9h0M156.8 235.8h0M157.6 231.4h0M164.4 225.1h0M159.0 231.3h0M158.8 232.5h0M165.5 229.1h0M162.2 230.9h0M159.3 235.9h0M167.9 233.1h0M161.6 227.6h0M154.9 226.9h0M161.1 233.7h0M162.2 233.5h0M158.6 227.2h0M167.6 230.7h0M163.7 231.7h0M165.9 234.9h0M166.8 234.3h0M161.2 229.0h0M162.9 225.1h0M160.4 231.1h0M169.8 235.0h0M157.9 227.5h0M155.5 227.7h0M165.3 232.3h0M161.5 231.6h0M155.1 236.0h0M166.2 229.8h0M158.1 234.6h0M156.4 234.7h0M166.7 226.8h0M166.2 233.2h0M169.7 224.1h0M162.1 229.2h0M170.4 228.0h0M167.8 216.0h0M173.1 232.1h0M167.3 222.5h0M162.5 227.8h0M156.0 196.6h0M166.2 208.6h0M149.2 220.7h0M153.6 207.9h0M159.9 198.8h0M171.6 214.3h0M174.1 231.2h0M175.1 225.6h0M162.9 198.2h0M173.9 208.9h0M158.8 189.6h0M155.0 208.0h0M170.1 209.5h0M149.7 196.6h0M177.9 226.8h0M159.1 191.2h0M174.8 193.1h0M152.6 220.8h0M172.3 216.0h0M166.2 201.7h0M171.7 221.5h0M162.3 193.5h0M161.0 222.5h0M160.9 233.6h0M153.4 236.2h0M164.4 231.7h0M176.3 219.8h0M161.2 232.6h0M161.6 203.0h0M148.7 235.1h0M157.8 219.9h0M148.4 212.3h0M162.9 233.6h0" stroke="#000" stroke-width="0.6" stroke-linecap="round" fill="none"/>
</g>
<path d="M173.0 187.6V239.2M146.5 222.3H199.0" stroke="#000" stroke-width="1.4" fill="none"/>
<rect x="146.5" y="187.6" width="52.5" height="51.599999999999994" fill="none" stroke="#000" stroke-width="1.6"/>
<text x="150.8" y="197.2" font-size="5.6" font-weight="bold" stroke="#fff" stroke-width="0.5" paint-order="stroke" stroke-linejoin="round">21</text>
<text x="193.4" y="220.8" font-size="5.6" font-weight="bold" stroke="#fff" stroke-width="0.5" paint-order="stroke" stroke-linejoin="round">6</text>
<text x="165.2" y="237.4" font-size="5.6" font-weight="bold" stroke="#fff" stroke-width="0.5" paint-order="stroke" stroke-linejoin="round">72</text>
<rect x="209.8" y="187.6" width="50.89999999999998" height="51.599999999999994" fill="#fff" stroke="none"/>
<clipPath id="k03"><rect x="209.8" y="187.6" width="50.89999999999998" height="51.599999999999994"/></clipPath><g clip-path="url(#k03)">
<ellipse cx="214.4" cy="229.9" rx="9.2" ry="9.3" transform="rotate(0 214.4 229.9)" fill="url(#rg)" opacity="1.0"/>
<path d="M217.8 230.1h0M218.3 230.7h0M211.8 231.7h0M213.9 230.4h0M214.3 231.7h0M211.7 229.5h0M218.3 230.2h0M216.2 227.8h0M214.6 228.7h0M215.1 233.9h0M217.3 225.8h0M218.9 231.8h0M212.7 224.6h0M213.3 224.4h0M215.4 230.5h0M211.8 228.1h0M214.1 231.5h0M211.7 228.7h0M217.9 225.2h0M218.3 230.9h0M212.1 231.7h0M216.7 225.1h0M211.6 234.5h0M214.1 229.6h0M218.8 225.0h0M214.5 225.1h0M213.5 229.1h0M216.4 225.3h0M217.3 229.7h0M217.7 225.7h0M216.0 232.2h0M215.6 234.0h0M213.5 233.9h0M213.6 224.6h0M219.7 233.2h0M211.4 230.6h0M218.2 231.3h0M214.2 230.9h0M216.1 230.8h0M211.9 230.1h0M215.6 229.2h0M215.5 227.5h0M221.4 232.7h0M212.6 229.1h0M215.6 232.1h0M216.3 230.9h0M213.6 229.0h0M212.1 229.3h0M215.9 223.6h0M216.5 225.9h0M213.1 228.2h0M216.9 230.2h0M214.6 230.5h0M214.2 225.5h0M212.4 230.0h0M216.4 232.0h0M218.2 227.0h0M217.9 226.6h0M214.1 225.3h0M213.9 229.1h0M211.8 230.2h0M212.0 232.3h0M213.3 228.5h0M217.3 232.2h0M218.0 229.5h0M215.5 230.0h0M216.1 225.5h0M211.5 234.6h0M213.8 228.7h0M216.5 233.0h0M214.6 231.4h0M216.1 228.4h0M219.0 231.6h0M213.4 227.5h0M212.5 226.9h0M214.7 226.8h0M213.4 227.2h0M220.4 233.7h0M212.6 229.5h0M217.2 232.7h0M218.5 226.1h0M215.2 229.4h0M211.9 229.4h0M216.3 228.9h0M212.3 227.6h0M215.5 225.4h0M220.5 230.0h0M214.6 234.1h0M215.9 227.8h0M214.4 232.2h0M215.5 235.4h0M214.4 228.6h0M215.6 230.9h0M212.4 230.5h0M219.1 227.2h0M212.4 227.6h0M219.0 228.7h0M217.6 231.3h0M212.6 231.2h0M216.7 227.7h0M216.0 231.1h0M218.1 229.1h0M216.4 233.3h0M215.8 229.0h0M217.8 228.1h0M214.1 233.5h0M219.2 229.6h0M218.3 223.1h0M216.4 235.1h0M212.5 226.7h0M215.6 236.5h0M212.1 226.7h0M218.6 232.8h0M220.9 232.4h0M217.7 231.9h0M217.8 227.1h0M215.2 231.9h0M214.0 225.1h0M219.2 229.4h0M217.2 229.4h0M215.5 229.7h0M212.7 226.0h0M217.3 224.0h0M217.3 234.9h0M214.7 230.2h0M214.9 227.4h0M212.5 229.4h0M211.7 234.3h0M216.3 227.7h0M214.0 233.0h0M214.6 225.0h0M212.4 229.1h0M214.9 230.9h0M220.0 232.5h0M214.7 230.0h0M216.1 227.7h0M216.0 228.0h0M212.1 233.5h0M218.8 229.4h0M215.2 228.4h0M214.2 224.6h0M217.8 225.0h0M211.9 226.5h0M216.7 231.3h0M220.0 233.0h0M213.2 227.4h0M216.0 235.8h0M215.4 229.9h0M215.5 230.2h0M219.6 232.5h0M220.9 230.0h0M216.0 224.5h0M213.4 225.3h0M213.9 231.9h0M215.9 233.9h0M214.8 228.8h0M214.1 228.7h0M215.5 229.3h0M213.5 228.0h0M215.3 226.0h0M212.6 226.1h0M217.4 233.6h0M220.8 227.8h0M214.7 231.8h0M213.7 224.8h0M218.8 231.2h0M214.1 228.6h0M212.9 230.5h0M211.4 237.0h0M213.7 228.9h0M218.3 228.9h0M212.0 226.3h0M213.9 229.2h0M218.0 231.8h0M216.2 227.2h0M216.8 233.7h0M214.2 227.9h0M213.0 230.3h0M213.2 233.7h0M213.4 227.8h0M212.9 227.2h0M215.2 231.3h0M212.8 222.9h0M217.8 226.4h0M218.0 229.2h0M214.8 230.4h0M213.5 226.9h0M215.8 225.5h0M212.9 234.5h0M213.8 231.4h0M211.9 231.4h0M212.5 230.0h0M216.2 233.1h0M213.2 230.5h0M216.0 225.5h0M214.5 229.5h0M214.7 232.6h0M215.5 224.5h0M213.2 229.7h0M215.4 229.6h0M218.9 227.6h0M216.1 230.1h0M222.3 230.6h0M218.5 235.2h0M215.0 227.1h0M213.6 226.2h0M213.9 232.9h0M214.8 230.7h0M215.7 231.3h0M216.1 235.0h0M213.7 228.5h0M212.5 230.3h0M215.1 226.2h0M212.9 224.7h0M214.7 229.9h0M213.9 231.9h0M216.4 228.8h0M213.6 228.8h0M215.6 230.2h0M212.8 228.3h0M215.6 233.4h0M216.5 232.7h0M212.3 229.5h0M215.1 228.0h0M213.8 232.4h0M218.6 232.9h0M215.8 234.7h0M215.3 229.4h0M213.3 227.9h0M215.1 234.0h0M214.2 230.6h0M213.9 227.3h0M219.2 229.1h0M218.0 227.3h0M214.4 232.9h0M211.6 227.2h0M211.9 227.2h0M217.6 230.7h0M214.5 228.1h0M212.2 230.3h0M212.4 229.9h0M218.6 228.0h0M214.8 225.0h0M211.7 223.0h0M219.0 229.9h0M215.6 228.5h0M215.4 229.2h0M212.1 228.4h0M213.1 232.1h0M219.9 219.9h0M220.4 224.2h0M219.9 230.8h0M215.9 229.0h0M215.3 226.9h0M214.8 230.7h0M214.9 229.8h0M217.4 224.1h0M217.0 232.4h0M215.9 227.3h0M216.4 231.2h0M215.3 230.9h0M218.5 224.3h0M220.6 224.7h0M216.3 226.3h0M215.4 232.9h0M219.8 230.1h0M212.7 228.8h0M216.1 227.1h0M214.3 234.0h0M219.0 229.3h0M215.2 226.8h0M212.6 229.4h0M215.9 231.1h0M216.0 228.1h0M214.8 228.0h0M212.8 224.7h0M214.4 227.1h0M211.9 229.7h0M214.7 230.0h0M217.8 227.4h0M217.2 230.7h0M217.5 229.8h0M215.2 236.2h0M214.8 226.1h0M217.2 230.9h0M215.0 229.5h0M217.7 228.3h0M212.7 231.8h0M214.1 225.4h0M217.2 231.2h0M212.9 226.7h0M212.9 233.5h0M214.7 230.3h0M213.8 233.2h0M211.4 230.0h0M219.0 225.4h0M218.3 222.0h0M216.7 230.0h0M221.2 228.4h0M215.2 232.4h0M213.4 226.8h0M215.6 229.7h0M215.5 227.3h0M213.7 230.6h0M215.6 230.5h0M211.5 229.4h0M215.4 232.7h0M217.9 233.2h0M215.8 226.9h0M212.7 224.1h0M217.9 227.0h0M215.2 225.8h0M219.6 234.4h0M213.9 229.8h0M212.9 232.1h0M215.9 234.1h0M211.4 230.1h0M217.7 223.0h0M215.7 222.4h0M214.4 231.9h0M215.1 226.0h0M213.5 231.1h0M213.4 229.8h0M215.3 233.0h0M214.3 226.3h0M212.4 230.9h0M213.2 225.0h0M214.6 226.6h0M217.8 231.9h0M215.8 226.2h0M213.6 224.6h0M213.3 229.0h0M212.9 228.8h0M217.4 225.8h0M215.5 230.4h0M212.9 231.1h0M218.6 230.0h0M216.9 234.5h0M211.9 227.6h0M216.1 233.3h0M215.1 229.0h0M215.6 225.1h0M216.7 225.3h0M213.5 224.5h0M212.9 223.2h0M215.4 224.0h0M214.2 228.2h0M214.6 228.5h0M215.7 231.9h0M215.0 225.5h0M213.6 226.4h0M216.7 232.4h0M212.8 232.3h0M219.1 226.0h0M215.4 231.4h0M219.9 234.6h0M213.1 227.1h0M218.2 228.6h0M213.8 226.2h0M213.7 232.4h0M216.5 230.5h0M212.6 227.1h0M216.8 232.9h0M211.9 230.8h0M214.9 232.2h0M215.0 228.3h0M218.6 227.2h0M217.0 230.3h0M217.4 232.9h0M214.2 232.8h0M212.4 225.3h0M213.1 223.5h0M217.4 232.9h0M213.0 227.8h0M214.5 229.6h0M213.6 229.3h0M213.7 228.2h0M213.9 228.8h0M213.4 227.9h0M214.7 230.2h0M218.0 227.5h0M214.4 233.7h0M214.6 230.6h0M216.3 229.0h0M213.7 232.3h0M213.7 230.3h0M212.6 231.8h0M212.4 231.1h0M212.2 225.3h0M214.9 232.9h0M212.9 228.2h0M214.9 237.0h0M217.4 225.4h0M218.7 232.6h0M212.3 229.2h0M213.9 232.1h0M212.1 231.9h0M214.7 225.2h0M213.5 232.7h0M216.4 228.9h0M211.5 230.0h0M214.3 225.2h0M214.0 228.8h0M216.9 226.0h0M217.1 227.5h0M216.9 225.5h0M215.8 225.8h0M211.6 230.5h0M218.5 233.4h0M211.5 232.0h0M216.5 222.0h0M214.5 231.6h0M218.2 230.3h0M212.9 231.5h0M217.5 232.2h0M223.0 230.0h0M212.5 232.4h0M214.2 231.7h0M212.6 236.1h0M213.8 227.5h0M212.9 226.5h0M216.5 228.9h0M217.1 237.2h0M215.1 223.3h0M216.8 228.8h0M211.4 226.0h0M215.7 229.2h0M212.6 230.7h0M217.6 226.6h0M215.5 233.3h0M214.3 228.0h0M213.5 226.7h0M217.4 226.2h0M220.5 231.8h0M215.8 231.8h0M215.9 226.1h0M216.0 231.4h0M213.7 233.8h0M216.9 224.6h0M215.1 230.4h0M214.4 232.7h0M215.4 229.4h0M215.8 231.3h0M214.8 227.8h0M217.5 230.3h0M214.3 228.6h0M217.9 230.0h0M213.4 231.7h0M213.3 229.3h0M212.0 224.7h0M213.6 229.3h0M217.2 228.2h0M211.8 229.4h0M213.4 228.4h0M213.9 228.0h0M214.2 227.5h0M212.8 231.6h0M220.8 228.5h0M217.3 224.3h0M212.4 226.7h0M215.0 226.6h0M217.3 229.7h0M213.8 232.4h0M216.2 220.9h0M214.9 227.0h0M212.0 227.2h0M214.6 236.1h0M214.2 231.0h0M215.4 234.0h0M212.8 227.9h0M215.8 228.8h0M215.1 229.2h0M214.5 230.0h0M213.0 226.8h0M212.0 229.7h0M214.9 227.7h0M214.8 227.1h0M217.3 233.9h0M215.3 232.3h0M213.5 228.7h0M213.1 229.1h0M221.1 229.8h0M216.5 231.2h0M214.6 226.0h0M215.9 231.1h0M214.0 226.7h0M215.0 225.2h0M214.3 228.4h0M213.4 227.0h0M219.4 230.1h0M217.3 228.7h0M215.6 233.2h0M216.3 223.6h0M222.3 223.9h0M216.0 228.4h0M212.7 223.2h0M214.8 229.7h0M214.4 226.3h0M213.0 229.9h0M214.1 230.4h0M213.3 228.4h0M218.0 232.6h0M213.7 232.3h0M216.2 226.7h0M212.9 229.8h0M215.8 230.5h0M211.7 221.9h0M216.5 232.0h0M215.2 229.0h0M217.1 226.6h0M212.4 232.2h0M221.7 229.1h0M215.5 229.4h0M214.9 230.2h0M220.5 228.9h0M212.7 230.9h0M212.8 227.7h0M214.2 229.6h0M211.9 232.3h0M215.7 225.7h0M215.0 231.3h0M214.6 232.2h0M216.0 227.4h0M217.5 232.0h0M214.4 223.8h0M216.4 232.6h0M216.0 223.8h0M213.3 226.1h0M216.2 232.2h0M219.7 229.1h0M215.3 233.0h0M212.9 230.3h0M214.1 227.5h0M213.0 231.1h0M213.0 230.4h0M214.5 228.6h0M212.5 231.6h0M215.1 230.8h0M216.7 230.0h0M212.3 230.2h0M212.2 230.8h0M217.5 226.6h0M216.5 232.3h0M216.1 224.7h0M216.1 227.8h0M214.9 228.4h0M216.0 228.7h0M215.5 229.9h0M216.1 230.9h0M213.7 235.3h0M213.6 228.2h0M212.0 231.4h0M218.4 228.6h0M212.0 229.2h0M215.9 227.0h0M212.8 227.9h0M213.5 229.1h0M213.3 225.6h0M214.1 231.0h0M211.6 230.9h0M213.1 230.5h0M214.6 232.7h0M214.2 229.5h0M214.6 230.9h0M212.0 230.7h0M211.5 234.8h0M213.4 228.2h0M213.0 229.8h0M216.6 233.6h0M214.7 229.1h0M212.7 236.4h0M220.6 236.2h0M217.9 229.8h0M217.7 226.9h0M214.0 232.4h0M213.3 228.3h0M217.7 227.6h0M213.0 225.8h0M215.6 225.0h0M213.7 232.2h0M218.2 230.6h0M215.8 229.0h0M216.5 225.1h0M213.4 226.8h0M213.9 229.9h0M217.4 225.6h0M220.0 229.6h0M214.0 227.6h0M215.8 221.7h0M211.3 231.0h0M219.0 227.1h0M215.7 228.5h0M215.7 224.8h0M212.1 231.9h0M214.0 228.8h0M217.3 232.4h0M213.1 229.7h0M213.8 230.9h0M212.7 230.5h0M214.2 234.6h0M212.1 226.5h0M216.6 227.6h0M217.7 231.3h0M217.9 229.3h0M214.0 228.7h0M212.9 234.6h0M216.6 227.2h0M217.4 232.1h0M212.7 225.5h0M214.2 220.5h0M213.6 229.2h0M216.6 231.6h0M212.7 227.9h0M216.1 229.5h0M217.1 231.2h0M215.0 230.3h0M216.9 226.1h0M214.2 233.2h0M215.4 233.6h0M212.9 233.2h0M217.6 232.2h0M214.1 233.3h0M216.0 227.2h0M214.5 231.0h0M212.8 232.4h0M213.0 227.1h0M215.8 229.3h0M216.3 232.9h0M216.4 228.3h0M217.8 237.4h0M212.4 231.4h0M219.2 233.5h0M222.5 232.3h0M214.8 233.0h0M215.8 230.1h0M216.0 227.3h0M218.3 225.4h0M217.7 226.9h0M212.8 223.6h0M214.6 228.5h0M215.7 226.4h0M216.4 227.4h0M213.9 226.9h0M215.8 231.8h0M217.9 227.4h0M215.2 226.9h0M218.4 234.4h0M213.7 228.4h0M214.0 228.1h0M214.2 228.8h0M214.2 230.1h0M212.9 234.7h0M214.3 228.1h0M213.6 232.8h0M217.9 230.2h0M215.9 228.0h0M215.1 234.5h0M213.6 226.2h0M215.4 232.4h0M213.4 228.7h0M215.4 230.8h0M220.0 225.4h0M214.3 228.8h0M220.5 229.7h0M212.6 225.5h0M212.5 226.8h0M214.7 228.6h0M218.3 230.0h0M211.6 225.9h0M220.2 230.7h0M226.6 236.5h0M220.0 229.3h0M218.0 229.7h0M219.9 232.9h0M223.1 233.8h0M228.0 230.0h0M218.5 233.0h0M229.7 228.2h0M216.5 228.9h0M215.0 229.3h0M221.0 231.2h0M225.0 233.0h0M222.5 232.3h0M221.0 228.9h0M221.6 231.5h0M221.1 227.9h0M225.6 229.6h0M219.8 227.8h0M223.5 230.6h0M217.2 232.5h0M216.3 229.2h0M218.7 233.2h0M217.5 232.2h0M212.5 230.5h0M225.1 229.4h0M222.0 228.0h0M222.9 231.9h0M231.7 229.4h0M222.2 234.2h0M220.8 226.6h0M225.7 235.9h0M217.1 229.3h0M217.6 233.3h0M214.6 232.6h0M223.6 230.9h0M229.7 232.9h0M216.3 235.5h0M220.9 231.6h0M221.4 234.7h0M216.8 237.4h0M224.6 228.9h0M211.6 230.2h0M225.6 232.6h0M213.4 234.4h0M224.9 225.7h0M226.6 230.9h0M217.5 229.6h0M214.2 236.7h0M219.2 228.6h0M219.9 233.3h0M214.0 231.7h0M218.5 234.2h0M224.5 236.8h0M223.1 230.6h0M225.9 227.5h0M212.4 235.6h0M215.5 229.3h0M219.4 231.9h0M219.2 233.6h0M224.3 226.8h0M213.5 229.7h0M227.8 232.1h0M225.5 229.5h0M223.7 237.0h0M218.3 227.4h0M212.0 234.0h0M212.8 229.6h0M224.6 231.7h0M219.0 229.2h0M229.1 232.9h0M221.4 234.9h0M213.0 233.1h0M225.8 231.1h0M218.7 224.5h0M220.4 232.1h0M223.3 225.3h0M212.7 234.5h0M213.9 228.1h0M227.1 225.7h0M212.7 226.5h0M213.9 231.4h0M213.2 228.8h0M213.4 231.6h0M217.5 227.5h0M217.1 233.7h0M214.3 236.0h0M216.8 231.6h0M221.4 228.2h0M217.5 228.8h0M218.7 234.6h0M225.6 226.5h0M218.8 236.2h0M222.4 235.9h0M221.3 229.3h0M218.2 233.8h0M218.3 228.5h0M213.6 229.8h0M221.7 233.2h0M220.6 227.8h0M214.4 231.3h0M222.8 227.2h0M227.3 234.0h0M213.2 230.1h0M228.8 231.8h0M225.9 232.0h0M224.9 228.7h0M219.0 229.4h0M228.5 228.8h0M218.4 223.6h0M222.9 231.8h0M217.1 234.0h0M213.3 234.7h0M223.1 231.1h0M226.8 233.8h0M213.2 228.5h0M219.6 230.5h0M216.4 225.3h0M214.9 229.3h0M217.9 232.7h0M224.9 226.5h0M227.2 231.0h0M220.4 234.0h0M223.5 231.7h0M215.3 235.3h0M220.9 233.7h0M217.3 229.8h0M222.4 234.5h0M218.5 234.8h0M221.0 228.8h0M221.1 231.0h0M227.0 233.9h0M218.4 230.4h0M212.0 231.6h0M225.3 229.9h0M224.3 229.9h0M217.2 235.1h0M225.3 230.1h0M225.3 235.8h0M213.9 233.4h0M215.3 226.8h0M213.6 228.9h0M228.0 229.3h0M214.9 230.6h0M221.8 234.1h0M225.7 235.4h0M225.6 232.4h0M221.9 229.1h0M223.2 231.9h0M225.5 234.0h0M222.3 231.2h0M218.8 233.8h0M221.2 229.4h0M223.0 227.3h0M223.2 229.9h0M221.0 232.2h0M215.7 226.7h0M220.4 232.2h0M223.2 229.6h0M214.4 226.8h0M216.2 232.3h0M222.2 235.8h0M223.3 226.9h0M218.8 231.7h0M220.4 228.8h0M217.8 232.3h0M228.9 196.9h0M239.0 195.1h0M238.3 194.6h0M225.3 194.4h0M227.2 194.0h0M231.5 193.7h0M235.6 195.9h0M238.6 191.3h0M235.6 192.6h0M232.7 194.9h0M239.6 189.3h0M239.2 191.1h0M237.1 192.4h0M234.6 191.9h0M231.0 192.3h0M236.3 193.3h0M240.0 192.9h0M242.6 190.6h0M229.3 190.3h0M230.6 191.2h0M240.0 192.7h0M239.0 191.5h0M238.9 190.7h0M243.5 190.9h0M235.5 193.3h0M243.2 190.6h0M237.7 190.0h0M234.6 195.5h0M235.9 192.3h0M241.3 192.4h0M234.3 191.4h0M241.0 191.9h0M239.0 194.1h0M233.8 190.9h0M224.5 194.1h0M237.2 191.5h0M235.4 196.1h0M233.1 194.0h0M243.0 189.7h0M245.7 190.3h0M238.7 190.9h0M239.8 190.3h0M230.8 193.2h0M233.8 190.9h0M240.9 191.9h0M248.6 193.5h0M239.6 191.7h0M238.9 190.0h0M240.5 193.4h0M234.8 193.5h0M234.3 190.3h0M243.5 189.5h0M233.6 190.2h0M236.4 194.5h0M230.4 190.9h0M238.2 189.4h0M232.6 193.2h0M237.0 194.1h0M236.1 191.0h0M237.6 193.5h0M233.6 189.9h0M236.5 193.7h0M243.4 191.3h0M242.4 191.2h0M240.7 193.4h0M229.5 193.4h0M236.7 192.5h0M238.7 189.5h0M239.5 194.5h0M240.4 190.5h0M231.4 193.9h0M239.8 191.2h0M234.8 191.8h0M239.4 193.0h0M246.3 191.5h0M240.9 194.1h0M237.3 191.0h0M233.6 194.4h0M242.2 189.2h0M227.9 193.9h0M233.2 189.3h0M225.4 194.2h0M236.6 191.8h0M233.4 191.3h0M234.7 191.1h0M232.4 192.6h0M247.9 192.6h0M241.6 191.1h0M241.3 191.5h0M234.3 193.5h0M242.0 194.1h0M237.9 194.3h0M236.1 193.5h0M229.3 190.0h0M238.3 193.3h0M224.4 193.2h0M233.9 193.7h0M225.9 192.6h0M239.7 192.9h0M240.2 190.8h0M241.7 190.5h0M230.7 193.8h0M247.9 192.7h0M234.9 192.6h0M232.9 192.7h0M234.1 190.8h0M234.7 194.0h0M241.5 189.2h0M234.9 194.9h0M239.2 190.1h0M237.4 192.3h0M232.4 191.5h0M237.7 192.2h0M237.9 193.7h0M238.0 190.8h0M238.5 189.5h0M235.8 192.0h0M239.3 190.1h0M228.8 194.1h0M234.4 190.1h0M243.7 189.9h0M239.3 193.3h0M236.0 192.7h0M233.2 190.7h0M234.2 192.0h0M236.7 192.7h0M228.5 195.3h0M235.2 190.5h0M236.4 192.6h0M226.3 192.2h0M228.0 190.5h0M237.1 194.3h0M235.9 193.7h0M246.8 191.9h0M247.8 192.2h0M222.3 194.3h0M234.3 195.4h0M243.6 192.8h0M238.8 190.4h0M244.4 190.0h0M243.3 192.5h0M237.3 193.4h0M230.9 191.6h0M238.4 193.3h0M243.9 190.9h0M235.8 193.7h0M244.9 191.9h0M244.5 192.1h0M244.1 189.4h0M227.6 190.9h0M233.5 193.7h0M234.8 195.0h0M235.2 199.6h0M226.3 189.9h0M234.5 191.8h0M243.6 193.1h0M232.6 194.3h0M248.7 192.4h0M232.0 190.5h0M239.0 189.3h0M236.7 193.8h0M238.5 190.9h0M237.1 192.5h0M243.4 190.6h0M242.0 194.5h0M229.7 193.0h0M244.6 193.8h0M233.1 193.6h0M227.9 193.2h0M243.5 192.3h0M232.9 191.8h0M238.4 195.8h0M234.0 192.6h0M240.9 192.7h0M235.3 194.0h0M231.1 192.0h0M240.4 192.1h0M238.0 193.1h0M250.4 189.8h0M244.8 194.0h0M235.1 194.7h0M231.6 195.2h0M241.6 194.2h0M232.8 190.2h0M241.7 193.5h0M242.8 191.0h0M213.4 205.3h0M231.2 209.7h0M236.6 220.2h0M233.2 216.0h0M230.1 214.5h0M221.9 205.4h0M241.1 210.4h0M230.1 221.7h0M222.1 223.6h0M216.5 199.4h0M211.5 219.9h0M232.9 210.9h0M233.4 213.0h0M222.7 198.5h0M212.8 213.1h0M219.6 214.2h0M239.3 224.1h0M238.2 233.8h0M230.5 211.8h0M238.3 211.6h0M233.2 209.7h0M221.4 211.5h0M230.9 204.7h0M234.7 204.7h0M225.4 217.9h0M217.0 202.1h0M219.8 201.5h0M225.6 195.4h0M227.5 214.8h0M226.5 218.3h0M230.3 205.0h0M216.1 208.7h0M242.0 217.6h0M242.8 205.7h0M215.4 196.0h0M217.0 206.3h0M214.8 232.1h0M225.8 211.9h0M225.0 215.4h0M218.4 200.8h0M226.4 210.8h0M227.2 198.2h0M229.0 213.8h0M224.8 190.8h0M221.4 191.9h0M225.6 228.9h0M222.8 217.8h0M227.1 218.1h0M228.8 197.3h0M224.8 196.6h0M223.0 220.9h0M240.8 215.0h0M235.0 199.4h0M226.0 209.1h0M232.8 225.5h0M223.9 210.4h0M232.2 209.2h0M229.9 222.3h0M211.9 218.3h0M227.3 211.7h0M224.1 207.8h0M220.1 199.3h0M230.0 210.8h0M231.6 192.5h0M228.1 213.2h0M222.4 195.0h0M229.9 204.7h0M216.3 199.1h0M225.6 197.5h0M220.2 220.2h0M232.0 208.8h0M218.3 221.4h0M236.2 206.7h0M238.5 211.8h0M225.6 222.7h0M214.9 206.4h0M229.0 203.3h0M222.2 198.5h0M226.1 202.3h0M229.5 217.2h0M229.5 212.0h0M227.9 207.2h0M225.5 216.4h0M218.7 216.3h0M228.2 198.2h0M217.2 226.0h0M219.9 208.1h0M211.5 215.5h0M227.1 202.5h0M230.4 195.3h0M231.0 199.7h0M223.0 218.7h0M220.1 203.3h0M234.5 218.9h0M219.5 213.3h0M238.7 194.9h0M231.5 199.3h0M222.0 210.3h0M236.6 224.2h0M235.2 215.9h0M226.0 213.6h0M222.8 205.5h0M223.5 210.2h0M239.9 217.0h0M235.6 197.5h0M243.5 219.0h0M233.9 206.0h0M225.5 197.6h0M219.3 213.8h0M229.8 198.4h0M231.1 198.7h0M224.1 200.2h0M222.2 213.5h0M232.2 218.7h0M226.6 202.9h0M241.8 228.4h0M221.5 206.5h0M231.0 213.6h0M228.5 211.3h0M245.3 207.7h0M224.1 195.9h0M221.2 209.3h0M227.9 201.7h0M223.8 199.7h0M237.2 196.8h0M233.3 210.6h0M229.5 203.1h0M225.7 208.6h0M216.0 194.2h0M221.6 196.8h0M217.1 220.8h0M231.8 214.0h0M239.7 210.9h0M220.7 214.1h0M216.9 195.7h0M226.7 216.7h0M239.6 191.2h0M223.9 201.6h0M218.7 201.0h0M229.0 202.0h0M216.5 218.3h0M227.8 189.7h0M215.8 216.2h0M224.5 211.4h0M223.5 210.0h0M215.8 205.0h0M229.9 202.2h0M242.0 199.2h0M230.0 221.8h0M219.4 202.9h0M221.8 199.1h0M230.3 216.8h0M222.8 228.7h0M221.0 194.5h0M219.3 206.3h0M226.0 205.9h0M226.9 196.3h0M223.3 195.0h0M230.2 212.6h0M232.0 206.0h0M237.1 214.6h0M227.9 192.3h0M228.7 194.7h0M229.3 198.4h0M222.5 205.5h0M232.4 209.7h0M221.1 198.5h0M227.3 223.5h0M236.5 199.2h0M235.2 210.5h0M240.8 201.8h0M232.8 215.4h0M235.9 204.3h0M220.2 221.3h0M229.8 198.4h0M220.0 199.3h0M222.2 208.3h0M214.0 212.3h0M226.2 191.9h0M221.0 217.4h0M221.5 206.9h0M240.0 208.1h0M218.6 210.1h0M234.6 205.6h0M223.3 217.9h0M223.4 206.2h0M227.1 211.4h0M222.0 206.6h0M247.0 210.6h0M218.1 209.0h0M233.6 194.7h0M236.2 209.1h0M233.7 201.7h0M236.0 193.4h0M235.6 223.8h0M233.9 219.4h0M235.2 210.3h0M234.7 195.8h0M235.4 207.7h0M234.1 209.1h0M236.5 203.4h0M235.4 223.1h0M236.5 218.3h0M234.5 196.8h0M234.3 212.4h0M235.7 191.2h0M233.5 213.1h0M234.4 215.4h0M237.0 222.5h0M235.3 224.2h0M233.4 198.8h0M236.4 215.8h0M233.7 198.3h0M233.7 209.0h0M235.5 213.7h0M233.9 206.0h0M232.7 213.9h0M233.8 203.6h0M235.5 201.3h0M234.6 200.2h0M235.7 192.8h0M236.1 208.2h0M235.9 202.3h0M237.0 224.0h0M235.3 203.3h0M236.8 220.6h0M236.9 212.9h0M236.3 211.4h0M236.5 219.8h0M239.1 226.7h0M235.6 212.8h0M236.0 225.4h0M236.4 204.9h0M236.5 203.0h0M236.1 219.3h0M236.1 211.4h0M235.2 219.9h0M234.5 199.5h0M238.6 196.6h0M240.0 201.9h0M239.3 214.4h0M241.7 203.3h0M246.7 200.7h0M238.9 204.0h0M243.0 198.3h0M238.8 205.5h0M235.6 208.5h0M235.6 199.4h0M236.9 199.7h0M234.1 205.8h0M238.9 192.2h0M241.0 211.0h0M233.6 198.1h0M238.3 191.0h0M236.1 203.2h0M242.6 196.0h0M242.6 194.1h0M240.2 196.4h0M239.5 202.6h0M238.2 205.4h0M239.0 191.1h0M243.4 202.4h0M241.0 196.7h0M240.0 200.9h0M244.0 206.2h0M239.9 204.4h0M240.2 209.7h0M238.2 196.6h0M235.2 202.9h0M239.6 205.3h0M238.3 198.8h0M241.5 197.5h0M235.7 193.2h0M235.9 193.7h0M239.3 214.1h0M237.3 198.7h0M237.8 203.2h0M239.2 203.7h0M228.5 223.6h0M212.4 216.2h0M239.6 209.1h0M237.9 232.6h0M215.4 226.0h0M231.3 219.0h0M226.7 209.8h0M236.1 210.5h0M218.5 232.5h0M214.6 225.3h0M220.0 211.2h0M239.6 204.4h0M230.5 217.0h0M229.3 197.8h0M232.6 220.2h0M215.1 224.1h0M217.3 207.9h0M220.7 228.2h0M212.9 227.0h0M211.8 203.8h0M239.4 216.0h0M222.6 191.7h0M223.7 199.2h0M230.0 220.9h0M222.9 205.6h0M224.2 237.5h0M236.8 215.7h0M237.0 209.0h0M228.8 233.5h0M218.2 209.6h0" stroke="#000" stroke-width="0.6" stroke-linecap="round" fill="none"/>
</g>
<path d="M235.3 187.6V239.2M209.8 221.8H260.7" stroke="#000" stroke-width="1.4" fill="none"/>
<rect x="209.8" y="187.6" width="50.89999999999998" height="51.599999999999994" fill="none" stroke="#000" stroke-width="1.6"/>
<text x="213.2" y="197.2" font-size="5.6" font-weight="bold" stroke="#fff" stroke-width="0.5" paint-order="stroke" stroke-linejoin="round">9</text>
<text x="255.2" y="220.3" font-size="5.6" font-weight="bold" stroke="#fff" stroke-width="0.5" paint-order="stroke" stroke-linejoin="round">6</text>
<text x="227.0" y="236.0" font-size="5.6" font-weight="bold" stroke="#fff" stroke-width="0.5" paint-order="stroke" stroke-linejoin="round">84</text>
<rect x="23.25" y="248.0" width="50.75" height="51.5" fill="#fff" stroke="none"/>
<clipPath id="k10"><rect x="23.25" y="248.0" width="50.75" height="51.5"/></clipPath><g clip-path="url(#k10)">
<ellipse cx="62.8" cy="254.7" rx="8.1" ry="5.7" transform="rotate(-35 62.8 254.7)" fill="url(#rg)" opacity="0.9"/>
<ellipse cx="36.4" cy="289.7" rx="12.2" ry="5.7" transform="rotate(-10 36.4 289.7)" fill="url(#rg)" opacity="0.85"/>
<path d="M66.0 256.4h0M56.1 256.0h0M61.9 251.7h0M61.0 256.1h0M62.3 255.8h0M62.4 258.0h0M63.5 256.0h0M64.4 254.9h0M63.1 260.6h0M66.3 255.4h0M62.9 256.0h0M66.3 249.8h0M62.6 255.4h0M60.9 254.7h0M59.4 255.8h0M65.6 250.2h0M62.4 255.2h0M60.8 257.4h0M66.8 253.5h0M62.2 255.8h0M63.6 254.0h0M57.7 259.4h0M61.9 259.0h0M60.5 253.8h0M62.6 250.5h0M64.2 253.2h0M63.0 253.7h0M62.5 258.1h0M68.6 254.1h0M64.1 258.2h0M60.2 252.6h0M59.6 259.9h0M67.6 256.1h0M66.8 254.3h0M68.8 255.3h0M62.2 258.5h0M67.0 252.0h0M66.0 256.7h0M57.4 260.3h0M61.5 251.8h0M62.4 257.5h0M63.4 251.7h0M59.6 256.7h0M56.1 253.8h0M61.0 254.4h0M71.5 251.0h0M61.1 255.3h0M58.4 252.7h0M58.5 254.7h0M59.7 261.1h0M59.7 256.4h0M66.0 254.7h0M61.2 261.9h0M61.4 257.2h0M61.9 256.6h0M67.0 257.3h0M59.7 251.1h0M62.2 256.8h0M69.6 251.4h0M68.8 252.9h0M65.5 254.8h0M59.7 256.3h0M61.6 253.0h0M58.7 262.4h0M58.4 260.8h0M57.8 253.6h0M61.3 253.6h0M65.4 255.8h0M62.5 257.1h0M57.7 257.7h0M62.0 255.0h0M62.0 255.0h0M65.2 254.6h0M65.2 252.4h0M64.4 253.4h0M65.3 249.9h0M66.1 256.2h0M61.8 253.1h0M65.6 252.2h0M64.0 254.1h0M57.4 257.8h0M63.5 250.7h0M63.7 252.0h0M59.3 256.3h0M59.4 258.0h0M54.7 258.4h0M63.0 252.5h0M60.9 256.6h0M60.8 254.4h0M63.2 250.9h0M64.9 253.0h0M64.8 251.6h0M65.9 250.9h0M60.5 258.6h0M62.5 255.6h0M62.5 256.4h0M64.8 257.2h0M57.1 260.3h0M67.5 253.9h0M64.4 253.6h0M66.5 254.5h0M66.4 256.8h0M59.9 255.4h0M60.4 257.4h0M59.3 254.1h0M57.5 257.9h0M60.0 256.6h0M62.5 256.7h0M62.6 253.8h0M62.8 259.2h0M70.6 253.9h0M62.0 257.9h0M66.5 258.9h0M62.2 252.6h0M55.5 254.5h0M63.1 253.3h0M55.9 257.2h0M59.7 254.3h0M59.9 255.4h0M61.9 257.2h0M66.0 256.3h0M66.5 251.3h0M64.7 256.2h0M65.0 253.2h0M61.3 256.4h0M62.0 259.8h0M63.3 254.6h0M60.2 257.9h0M63.7 254.9h0M64.9 250.8h0M68.2 253.8h0M70.7 256.6h0M59.7 257.3h0M66.4 255.4h0M65.6 257.2h0M62.7 255.9h0M60.2 257.5h0M63.2 253.9h0M62.8 253.6h0M63.6 256.4h0M69.0 253.0h0M61.4 253.3h0M65.6 258.0h0M63.7 254.9h0M61.3 252.8h0M61.2 255.1h0M61.6 257.4h0M60.3 253.7h0M64.1 250.3h0M69.0 252.6h0M62.9 259.6h0M62.6 255.0h0M65.9 256.4h0M61.2 251.0h0M59.8 254.8h0M60.9 259.7h0M58.6 259.8h0M63.3 254.4h0M62.4 251.9h0M60.6 251.2h0M66.3 255.0h0M63.4 257.3h0M62.4 255.6h0M56.9 260.8h0M67.8 251.2h0M58.9 256.2h0M64.6 251.7h0M66.9 250.1h0M62.4 252.7h0M66.6 256.2h0M63.9 255.3h0M64.9 253.6h0M64.5 257.9h0M59.5 259.2h0M62.7 255.4h0M58.0 259.1h0M65.1 255.0h0M62.6 253.1h0M66.3 253.0h0M59.4 254.4h0M58.1 256.5h0M63.5 254.1h0M60.9 254.5h0M62.3 256.5h0M60.4 257.8h0M63.2 260.6h0M65.1 253.8h0M63.2 256.3h0M62.6 253.4h0M68.7 250.8h0M66.6 252.6h0M64.6 256.9h0M66.6 253.0h0M60.4 256.3h0M59.2 255.5h0M63.6 254.8h0M65.3 256.0h0M61.6 252.0h0M70.4 253.4h0M59.0 257.9h0M63.9 250.8h0M64.0 253.4h0M66.6 255.2h0M62.8 258.0h0M59.1 255.1h0M61.8 255.0h0M64.5 258.3h0M59.8 259.5h0M67.2 257.4h0M61.7 259.0h0M57.9 257.8h0M64.3 254.8h0M61.9 253.8h0M59.2 258.5h0M62.7 258.4h0M61.7 257.8h0M59.5 256.0h0M57.3 255.2h0M62.7 255.5h0M60.8 256.1h0M67.4 256.1h0M63.6 254.5h0M63.6 254.1h0M60.3 254.9h0M64.8 256.0h0M60.8 251.2h0M59.0 258.0h0M59.2 255.5h0M65.9 255.8h0M61.1 257.4h0M63.9 251.7h0M59.7 259.6h0M62.8 254.1h0M63.1 258.2h0M60.3 258.3h0M62.2 257.9h0M60.3 255.9h0M68.1 250.2h0M64.4 252.4h0M61.9 256.0h0M65.2 258.0h0M62.3 255.6h0M65.5 253.2h0M61.6 251.3h0M60.6 252.8h0M59.1 254.2h0M62.8 257.0h0M59.9 254.5h0M58.4 255.5h0M62.0 257.7h0M59.5 254.8h0M56.5 253.7h0M56.3 251.3h0M65.1 253.0h0M68.1 256.3h0M64.0 255.9h0M61.0 257.7h0M59.6 253.8h0M65.2 258.1h0M64.7 251.7h0M62.4 258.7h0M62.6 262.3h0M60.9 258.3h0M60.2 252.3h0M64.1 254.5h0M65.8 250.8h0M56.9 258.9h0M62.1 258.3h0M65.5 258.3h0M60.4 260.0h0M60.8 256.0h0M58.3 259.5h0M60.6 254.4h0M65.8 253.8h0M67.4 250.9h0M62.1 258.3h0M63.7 257.1h0M67.0 253.0h0M65.3 253.3h0M64.1 253.1h0M66.4 256.4h0M63.3 257.0h0M61.4 259.1h0M61.1 254.8h0M66.0 254.6h0M63.0 255.2h0M66.2 255.1h0M68.3 258.5h0M64.9 256.1h0M65.3 255.0h0M55.9 254.4h0M60.5 255.1h0M61.8 250.4h0M60.7 254.7h0M60.9 259.4h0M65.1 258.6h0M59.2 257.2h0M66.2 256.5h0M63.6 257.3h0M63.9 253.2h0M58.6 251.4h0M68.3 254.4h0M60.3 256.2h0M66.9 252.5h0M60.0 250.6h0M62.1 252.8h0M62.9 259.3h0M60.5 253.5h0M65.3 255.0h0M62.4 254.6h0M62.1 255.7h0M69.5 252.1h0M58.9 255.1h0M61.4 256.2h0M59.3 257.5h0M56.1 257.1h0M63.8 255.0h0M63.3 253.5h0M58.4 254.0h0M61.4 260.7h0M65.6 255.5h0M60.0 256.0h0M68.8 252.0h0M63.9 253.6h0M62.4 255.7h0M65.1 254.4h0M56.4 255.8h0M64.9 252.8h0M67.9 252.1h0M56.6 255.9h0M64.5 259.6h0M64.4 252.0h0M60.2 250.9h0M61.2 254.7h0M68.9 254.5h0M61.4 250.8h0M68.3 256.5h0M62.8 257.5h0M63.3 254.9h0M59.6 258.1h0M60.0 261.3h0M58.4 254.6h0M63.5 253.2h0M65.1 251.5h0M60.1 258.5h0M65.4 251.1h0M60.0 255.2h0M58.3 257.0h0M64.0 254.8h0M65.1 255.6h0M59.9 254.3h0M63.0 254.4h0M64.0 253.9h0M65.1 255.0h0M63.8 258.8h0M60.0 254.9h0M64.0 252.8h0M59.9 256.7h0M65.3 256.0h0M64.5 253.3h0M66.1 254.9h0M58.5 258.5h0M64.2 258.8h0M64.7 254.4h0M67.9 256.2h0M68.3 254.3h0M61.4 251.5h0M60.3 256.6h0M58.8 255.6h0M63.2 255.0h0M64.6 249.9h0M63.6 256.4h0M69.9 255.7h0M67.4 257.5h0M65.7 253.7h0M67.8 253.2h0M62.8 252.6h0M59.4 258.6h0M65.3 251.7h0M64.9 253.0h0M63.9 254.4h0M64.8 255.3h0M61.2 255.5h0M62.9 259.6h0M64.5 252.4h0M61.9 258.6h0M65.9 253.7h0M61.4 255.0h0M63.3 258.2h0M60.4 257.6h0M60.6 254.4h0M64.7 256.3h0M62.2 252.9h0M63.8 254.6h0M63.3 250.9h0M62.5 256.4h0M59.5 253.5h0M65.1 251.8h0M66.9 253.4h0M63.5 251.5h0M69.8 253.5h0M61.1 255.3h0M60.5 255.5h0M60.3 251.0h0M71.6 251.6h0M64.2 252.2h0M64.3 252.8h0M63.8 255.3h0M67.9 254.6h0M64.7 253.4h0M68.6 254.1h0M65.7 252.8h0M67.4 250.5h0M58.6 259.0h0M65.3 259.5h0M64.4 255.8h0M58.2 256.2h0M62.7 257.4h0M67.5 254.0h0M64.6 252.7h0M67.9 253.1h0M61.2 257.5h0M63.0 257.7h0M63.7 249.8h0M63.0 256.8h0M65.5 250.6h0M63.6 253.0h0M62.4 255.3h0M62.0 254.3h0M64.9 255.1h0M69.6 251.6h0M63.8 260.1h0M65.7 251.1h0M64.3 253.5h0M65.3 254.3h0M65.0 252.0h0M65.1 250.7h0M62.6 254.2h0M62.7 255.2h0M64.6 260.3h0M67.0 251.5h0M67.9 258.1h0M63.4 253.8h0M62.9 257.5h0M63.1 256.2h0M62.1 256.6h0M62.3 257.5h0M61.8 260.1h0M65.3 255.3h0M66.0 258.4h0M67.7 252.0h0M61.1 252.6h0M72.4 250.2h0M65.4 255.1h0M61.3 253.8h0M66.3 253.4h0M62.7 255.6h0M65.9 250.3h0M59.5 254.1h0M62.2 260.7h0M71.1 250.1h0M66.0 254.2h0M66.6 256.3h0M60.2 253.3h0M60.9 254.8h0M63.1 256.0h0M66.0 256.2h0M64.8 254.7h0M58.3 258.1h0M67.2 251.9h0M65.3 253.2h0M67.6 253.6h0M56.9 253.3h0M65.0 258.7h0M60.2 253.6h0M63.2 254.7h0M58.6 259.6h0M64.2 250.3h0M60.2 253.5h0M55.1 260.0h0M64.5 252.7h0M60.7 257.1h0M66.1 252.0h0M58.5 259.6h0M62.2 256.5h0M57.7 256.0h0M64.4 253.0h0M60.0 257.7h0M57.9 255.1h0M58.6 253.1h0M59.9 255.5h0M65.6 251.3h0M59.8 252.8h0M60.2 253.3h0M65.7 258.1h0M64.2 255.5h0M63.5 254.5h0M63.9 258.9h0M64.1 258.9h0M61.4 255.2h0M66.2 259.4h0M61.3 252.7h0M50.8 271.6h0M55.3 259.4h0M61.9 263.0h0M60.5 276.8h0M68.5 266.7h0M66.5 280.3h0M59.5 273.4h0M55.6 271.2h0M54.2 281.6h0M62.5 276.4h0M55.4 273.6h0M59.5 264.1h0M57.8 289.8h0M61.3 271.0h0M68.2 266.2h0M60.1 271.9h0M66.6 272.4h0M57.9 274.2h0M53.7 281.0h0M63.1 272.9h0M46.9 276.6h0M61.4 272.9h0M56.2 272.6h0M56.9 278.9h0M54.2 255.9h0M55.0 270.9h0M54.7 260.7h0M58.8 258.4h0M63.0 275.2h0M60.2 266.5h0M60.5 269.5h0M53.4 272.0h0M60.4 263.9h0M57.9 275.1h0M60.2 267.8h0M58.1 265.4h0M54.3 266.6h0M59.4 279.8h0M52.4 269.5h0M61.7 274.2h0M65.8 265.4h0M62.8 267.3h0M51.8 261.8h0M55.5 273.4h0M59.6 270.4h0M57.1 267.7h0M58.1 282.2h0M60.0 268.2h0M53.9 275.7h0M60.0 280.3h0M60.9 266.9h0M61.7 277.9h0M53.9 273.6h0M59.9 275.9h0M59.0 286.0h0M61.9 264.1h0M51.7 261.4h0M54.5 279.1h0M54.9 258.1h0M61.1 264.5h0M54.5 270.2h0M51.1 273.0h0M54.6 270.8h0M61.1 265.9h0M66.5 267.8h0M64.1 273.4h0M61.4 258.6h0M52.7 271.7h0M58.7 269.8h0M61.3 273.6h0M58.0 262.1h0M60.4 265.3h0M54.1 276.1h0M57.7 281.1h0M56.2 260.5h0M64.0 272.5h0M49.8 273.7h0M52.3 261.1h0M59.6 271.3h0M56.8 275.5h0M66.0 278.6h0M60.0 276.5h0M58.6 283.0h0M55.6 287.7h0M59.8 262.6h0M61.5 272.3h0M57.6 258.3h0M58.6 265.5h0M59.6 263.5h0M47.3 273.9h0M49.6 289.5h0M61.3 259.2h0M61.4 274.6h0M59.8 266.7h0M59.2 277.6h0M60.6 276.0h0M55.8 263.4h0M56.3 264.0h0M60.7 256.4h0M54.2 261.6h0M58.8 274.2h0M60.5 278.3h0M55.5 273.8h0M64.3 264.1h0M60.9 272.7h0M59.2 258.5h0M55.9 262.1h0M63.4 275.4h0M56.3 274.5h0M65.4 270.1h0M66.2 270.9h0M57.9 264.2h0M63.4 281.6h0M68.6 279.4h0M61.7 263.0h0M59.2 278.6h0M63.1 250.2h0M58.7 276.9h0M61.1 280.3h0M54.7 269.1h0M57.5 273.0h0M60.8 262.1h0M59.8 267.0h0M58.7 283.7h0M55.8 279.0h0M56.0 277.2h0M60.8 267.4h0M59.0 265.0h0M61.3 274.8h0M57.9 263.2h0M57.3 266.2h0M55.9 272.0h0M62.6 287.1h0M57.4 260.5h0M55.8 273.0h0M63.5 264.2h0M56.3 276.5h0M61.9 276.7h0M64.0 263.6h0M64.6 284.4h0M51.8 261.3h0M56.9 261.3h0M60.2 266.9h0M58.6 279.2h0M56.6 271.5h0M65.5 277.8h0M55.7 277.8h0M52.4 260.7h0M56.6 260.3h0M54.5 275.2h0M57.7 269.5h0M56.3 274.9h0M55.9 277.5h0M51.9 276.8h0M67.2 276.3h0M57.7 272.9h0M54.2 270.4h0M56.0 285.1h0M54.5 274.7h0M61.3 278.8h0M55.9 283.7h0M53.9 274.3h0M60.8 274.1h0M58.0 267.4h0M67.5 259.9h0M52.4 269.6h0M49.1 272.3h0M60.5 262.3h0M56.9 280.9h0M63.4 277.0h0M57.2 277.3h0M62.4 268.0h0M54.6 282.3h0M61.5 288.9h0M53.1 261.9h0M48.8 284.9h0M54.1 274.1h0M54.9 276.9h0M64.0 259.3h0M57.6 277.1h0M61.0 270.1h0M61.0 269.5h0M50.3 268.4h0M61.8 268.8h0M56.9 268.5h0M60.6 271.0h0M60.0 278.6h0M56.9 266.8h0M61.1 288.3h0M54.0 265.6h0M52.9 271.0h0M62.6 272.9h0M55.9 268.5h0M58.2 266.8h0M62.6 281.1h0M55.6 262.5h0M55.8 262.6h0M63.3 256.5h0M56.9 270.0h0M60.7 262.6h0M59.9 268.1h0M58.1 279.7h0M59.8 280.9h0M59.0 277.6h0M57.2 272.2h0M66.2 274.9h0M62.6 269.3h0M56.5 273.3h0M56.9 269.7h0M53.8 260.4h0M58.5 283.4h0M55.2 265.1h0M58.9 261.8h0M55.6 269.5h0M53.7 281.6h0M55.4 271.4h0M59.1 264.5h0M60.7 268.3h0M59.8 284.0h0M58.3 260.2h0M61.4 262.4h0M60.0 257.2h0M67.5 272.7h0M59.9 267.3h0M58.6 273.4h0M60.7 274.3h0M58.8 267.8h0M59.7 276.8h0M57.3 270.2h0M53.3 269.8h0M64.0 277.2h0M52.4 273.4h0M55.0 256.4h0M61.7 250.7h0M63.8 279.9h0M59.0 265.9h0M56.5 265.4h0M58.2 274.0h0M58.7 279.8h0M57.5 268.2h0M54.7 276.8h0M58.2 260.5h0M56.2 257.8h0M59.4 253.0h0M58.4 274.0h0M56.0 266.5h0M64.4 269.9h0M54.1 279.6h0M54.6 258.3h0M64.4 289.5h0M59.8 271.0h0M59.2 254.1h0M55.4 279.3h0M51.8 286.0h0M56.2 269.7h0M46.9 265.0h0M63.9 279.2h0M44.1 290.0h0M37.1 293.7h0M39.4 293.3h0M26.7 292.2h0M35.4 292.2h0M30.5 291.8h0M36.3 288.3h0M44.7 291.2h0M47.7 288.8h0M35.9 289.1h0M36.2 285.9h0M31.1 289.3h0M35.8 293.5h0M49.1 289.8h0M36.5 288.6h0M28.6 295.6h0M32.7 289.9h0M35.9 289.9h0M40.6 288.9h0M29.4 286.8h0M44.5 289.7h0M40.9 292.0h0M34.2 289.8h0M41.3 296.7h0M47.3 284.1h0M30.5 291.8h0M35.5 289.3h0M41.7 290.9h0M38.1 290.1h0M30.1 292.6h0M34.0 288.1h0M46.2 289.5h0M39.0 291.8h0M34.0 290.0h0M32.7 285.4h0M31.3 285.7h0M29.9 287.7h0M47.0 288.0h0M34.7 285.7h0M44.4 288.0h0M36.4 289.9h0M40.6 285.6h0M39.3 291.4h0M42.9 285.1h0M49.3 288.4h0M39.3 295.1h0M26.9 286.9h0M41.6 288.5h0M50.9 291.2h0M41.8 288.9h0M36.0 287.1h0M38.6 288.9h0M31.3 289.6h0M41.3 289.3h0M47.6 285.9h0M49.7 286.7h0M35.3 284.2h0M34.3 294.1h0M30.9 289.1h0M30.9 291.1h0M32.9 289.8h0M28.2 290.7h0M45.8 289.2h0M47.5 286.9h0M44.0 285.8h0M34.1 293.9h0M38.5 284.3h0M35.2 292.4h0M47.2 284.4h0M43.2 287.2h0M43.4 290.0h0M30.6 291.1h0M44.0 287.5h0M33.9 292.2h0M43.4 289.2h0M48.5 285.8h0M35.3 288.8h0M29.9 287.3h0M35.8 289.9h0M50.4 293.7h0M29.5 292.3h0M37.6 291.5h0M35.8 288.7h0M46.3 282.9h0M31.0 289.5h0M34.0 291.2h0M31.9 287.9h0M38.1 285.9h0M30.6 290.7h0M33.3 292.4h0M28.2 288.9h0M41.1 294.5h0M36.5 288.1h0M39.3 288.7h0M44.7 291.0h0M37.0 284.0h0M48.1 287.1h0M49.2 288.3h0M33.1 292.3h0M38.3 291.3h0M32.8 287.2h0M37.7 291.3h0M40.2 288.0h0M35.3 283.4h0M36.1 296.2h0M48.5 288.9h0M26.3 293.6h0M38.0 292.7h0M31.4 290.5h0M32.2 288.7h0M35.5 291.5h0M39.3 292.4h0M29.8 295.1h0M44.2 284.7h0M35.4 293.1h0M34.1 285.2h0M30.0 292.8h0M38.3 287.7h0M28.1 293.6h0M33.2 293.1h0M42.9 290.4h0M44.7 291.3h0M29.1 293.7h0M25.6 292.4h0M54.3 291.2h0M39.1 289.3h0M36.5 288.1h0M33.1 291.3h0M35.0 287.9h0M32.9 290.6h0M34.2 290.4h0M27.4 297.0h0M38.2 295.5h0M34.4 286.1h0M32.5 288.0h0M32.4 293.3h0M31.4 291.9h0M42.4 294.6h0M35.7 293.2h0M29.4 290.9h0M40.4 297.9h0M36.2 285.5h0M35.1 291.9h0M46.1 292.2h0M45.1 290.8h0M40.3 287.2h0M44.3 284.8h0M50.4 290.2h0M35.4 289.4h0M38.6 289.3h0M31.0 292.2h0M36.0 289.7h0M31.0 295.9h0M39.8 293.8h0M30.1 286.5h0M38.3 291.5h0M33.3 290.3h0M29.2 286.8h0M40.2 290.0h0M47.4 285.5h0M38.6 290.8h0M30.8 295.4h0M33.9 288.1h0M32.2 287.2h0M34.7 288.2h0M44.3 289.9h0M40.5 294.2h0M30.1 288.9h0M26.8 288.9h0M37.2 287.2h0M42.1 287.0h0M26.7 297.3h0M41.4 291.8h0M37.6 282.0h0M39.5 287.6h0M51.5 287.3h0M39.4 286.8h0M46.2 286.7h0M37.7 288.2h0M48.0 288.7h0M35.1 294.9h0M36.0 280.5h0M38.9 290.3h0M41.4 294.0h0M37.7 290.8h0M25.9 291.5h0M41.6 290.8h0M41.4 292.3h0M49.1 290.9h0M33.9 292.1h0M41.1 284.8h0M49.0 289.1h0M40.0 292.4h0M30.2 288.2h0M27.8 284.4h0M33.3 291.6h0M40.2 292.7h0M28.5 287.3h0M42.5 291.5h0M28.8 288.3h0M40.7 288.5h0M43.3 291.1h0M31.3 286.9h0M48.0 289.4h0M34.4 288.5h0M36.6 288.5h0M40.4 289.6h0M34.2 291.4h0M41.5 287.3h0M47.3 287.6h0M39.4 288.3h0M41.5 292.7h0M44.4 286.5h0M37.5 288.3h0M42.8 286.6h0M36.2 288.9h0M30.1 292.7h0M39.4 288.6h0M32.6 289.5h0M36.3 288.1h0M37.0 289.0h0M39.7 291.7h0M37.7 292.9h0M31.0 297.8h0M30.4 290.7h0M46.3 292.9h0M28.5 286.8h0M46.5 287.0h0M32.6 292.9h0M44.0 290.1h0M41.3 286.4h0M34.3 292.6h0M45.5 296.7h0M38.2 286.2h0M35.8 287.5h0M42.1 286.7h0M34.0 291.1h0M40.7 294.4h0M36.0 292.9h0M43.0 295.4h0M43.3 289.6h0M28.3 293.0h0M51.3 292.5h0M37.0 290.2h0M53.3 291.9h0M34.2 294.5h0M37.3 286.9h0M47.3 287.1h0M35.2 289.6h0M44.5 287.6h0M35.9 290.9h0M38.0 287.5h0M37.5 294.2h0M39.4 291.5h0M51.9 289.9h0M33.4 293.3h0M39.0 286.0h0M35.7 292.8h0M37.6 287.7h0M38.6 295.3h0M37.6 285.1h0M41.9 292.7h0M52.5 284.3h0M27.5 291.7h0M36.6 292.4h0M40.4 285.8h0M46.4 286.7h0M28.8 293.3h0M52.2 282.8h0M41.3 282.7h0M52.5 288.2h0M44.3 291.4h0M39.0 294.2h0M33.6 291.9h0M39.9 290.3h0M40.1 292.7h0M27.6 291.8h0M38.7 291.4h0M34.0 282.1h0M40.5 289.3h0M29.1 288.6h0M30.7 287.9h0M34.2 290.6h0M39.5 288.7h0M33.4 295.8h0M25.0 297.2h0M28.6 294.1h0M44.8 294.7h0M42.3 289.2h0M35.0 284.5h0M40.7 285.3h0M31.8 292.4h0M34.4 290.7h0M35.0 290.4h0M45.6 288.0h0M36.9 283.7h0M30.4 292.3h0M36.0 291.4h0M33.6 292.5h0M44.0 287.5h0M41.1 287.7h0M40.6 291.0h0M31.9 284.4h0M43.3 287.7h0M41.4 288.0h0M27.0 295.9h0M37.4 294.3h0M40.5 294.3h0M38.5 289.3h0M38.5 287.8h0M40.0 290.0h0M44.1 291.0h0M43.3 288.0h0M36.9 281.2h0M30.8 292.1h0M29.2 286.0h0M34.7 287.6h0M39.9 288.6h0M51.0 285.7h0M42.4 288.0h0M28.3 291.5h0M40.8 285.9h0M33.1 292.3h0M30.6 289.7h0M33.7 285.7h0M43.1 285.4h0M35.3 287.3h0M42.7 291.3h0M36.8 290.3h0M33.6 289.1h0M37.7 289.7h0M49.2 286.1h0M36.9 288.6h0M45.4 290.0h0M47.1 288.6h0M47.7 287.8h0M39.1 289.1h0M43.7 287.4h0M40.4 291.3h0M28.4 290.8h0M33.7 292.0h0M33.6 285.0h0M50.8 291.4h0M29.9 289.7h0M30.0 287.6h0M42.0 291.3h0M42.1 292.9h0M37.9 293.1h0M29.9 293.2h0M48.2 287.5h0M35.3 294.6h0M39.8 288.3h0M33.5 292.5h0M30.7 294.3h0M34.0 293.1h0M45.2 282.2h0M42.7 288.9h0M53.1 279.9h0M31.9 293.6h0M34.9 292.3h0M37.0 288.6h0M43.3 284.6h0M46.3 286.1h0M30.1 287.8h0M37.2 291.1h0M31.9 290.5h0M32.0 296.0h0M42.6 286.1h0M36.4 285.5h0M41.6 295.2h0M44.8 286.0h0M41.9 284.2h0M51.8 289.0h0M45.7 293.0h0M38.6 289.7h0M34.2 291.7h0M39.3 291.7h0M43.0 286.6h0M39.4 289.6h0M30.9 293.6h0M34.9 288.9h0M32.2 296.7h0M50.7 283.1h0M43.6 285.5h0M29.0 289.8h0M36.1 287.7h0M42.5 287.6h0M40.5 291.2h0M36.7 295.5h0M46.5 285.6h0M30.7 286.5h0M45.4 288.5h0M44.2 286.5h0M34.2 287.7h0M35.8 288.6h0M38.7 290.5h0M35.1 287.5h0M36.8 289.8h0M35.1 286.1h0M50.7 292.5h0M43.9 288.4h0M30.3 295.4h0M30.4 297.0h0M40.3 289.7h0M41.8 284.2h0M36.6 291.2h0M48.7 290.1h0M27.4 289.2h0M38.1 291.4h0M33.5 291.6h0M32.0 286.1h0M30.1 295.7h0M42.4 285.8h0M50.6 287.2h0M37.7 286.7h0M40.0 289.5h0M41.7 289.2h0M43.5 290.0h0M34.5 292.9h0M44.2 290.5h0M35.6 287.2h0M33.5 284.2h0M36.9 289.5h0M27.2 293.9h0M41.1 293.9h0M39.9 290.3h0M28.5 290.0h0M37.4 290.0h0M34.8 288.9h0M34.1 290.8h0M41.0 287.2h0M40.2 290.7h0M32.9 288.1h0M24.8 288.1h0M41.9 289.5h0M28.2 292.7h0M33.3 291.9h0M36.4 286.2h0M41.0 283.8h0M39.6 284.8h0M35.2 294.1h0M41.3 291.7h0M39.1 291.1h0M50.6 291.7h0M39.3 292.7h0M36.6 293.9h0M27.8 291.6h0M36.8 295.6h0M30.6 295.7h0M31.9 293.4h0M44.8 293.4h0M45.5 295.9h0M36.6 288.6h0M30.3 292.4h0M33.7 291.7h0M26.2 289.1h0M40.9 288.7h0M42.1 289.5h0M32.9 286.4h0M35.3 291.1h0M35.5 288.4h0M30.9 288.3h0M39.1 286.9h0M29.5 293.8h0M33.3 293.7h0M44.3 287.5h0M32.6 289.9h0M39.1 282.6h0M44.2 288.4h0M42.7 294.0h0M43.9 290.2h0M39.7 292.8h0M44.4 288.9h0M36.8 287.8h0M28.8 291.2h0M37.0 293.7h0M35.6 292.7h0M25.7 289.1h0M39.7 286.9h0M43.1 290.9h0M28.0 292.7h0M31.0 296.1h0M34.1 287.6h0M32.3 284.7h0M45.8 288.4h0M32.8 286.0h0M39.1 288.1h0M28.8 290.2h0M34.7 290.5h0M41.9 296.0h0M32.0 293.1h0M39.7 287.2h0M41.0 293.1h0M42.6 288.6h0M44.6 284.7h0M31.2 292.2h0M29.2 288.2h0M41.3 294.8h0M35.8 286.9h0M34.7 291.3h0M48.8 286.6h0M36.3 289.0h0M37.3 293.3h0M32.6 284.0h0M40.5 287.0h0M33.8 294.7h0M42.4 287.0h0M47.3 284.4h0M33.4 289.3h0M45.5 289.0h0M37.4 292.5h0M37.7 294.3h0M37.3 292.3h0M43.6 290.4h0M54.7 288.6h0M48.2 284.7h0M43.6 290.8h0M38.0 294.1h0M32.2 289.3h0M38.2 291.7h0M35.3 293.2h0M31.8 291.2h0M39.3 290.1h0M45.9 285.2h0M29.0 289.5h0M47.3 289.8h0M41.1 294.6h0M54.1 283.8h0M33.9 294.9h0M44.9 288.0h0M28.4 288.8h0M30.6 284.2h0M37.8 288.8h0M38.9 291.0h0M41.7 285.0h0M28.9 291.1h0M35.4 290.4h0M35.3 291.9h0M36.9 291.0h0M42.8 289.1h0M48.9 290.5h0M27.1 293.2h0M39.6 288.8h0M35.8 289.1h0M38.5 289.0h0M40.8 282.3h0M41.0 289.4h0M44.7 291.0h0M38.8 289.9h0M32.2 291.9h0M42.0 286.7h0M37.8 291.1h0M38.5 284.3h0M47.2 282.5h0M36.6 284.7h0M31.5 291.7h0M44.2 289.7h0M33.1 290.7h0M44.3 291.0h0M46.4 290.6h0M37.2 285.6h0M27.1 289.0h0M43.5 287.9h0M40.7 290.9h0M34.4 292.2h0M43.6 286.3h0M38.8 294.0h0M41.0 290.0h0M33.4 290.5h0M32.8 291.8h0M46.9 282.2h0M33.5 288.0h0M36.1 287.8h0M31.6 292.7h0M33.4 292.2h0M37.9 288.6h0M44.3 280.0h0M44.3 286.1h0M31.5 296.9h0M36.1 292.5h0M36.0 284.8h0M35.6 292.7h0M34.8 291.7h0M46.3 292.1h0M40.6 293.1h0M41.6 289.0h0M40.1 287.3h0M35.0 288.9h0M27.7 290.5h0M33.8 286.6h0M35.9 290.2h0M40.6 288.7h0M32.3 288.5h0M33.1 282.3h0M34.0 291.9h0M32.1 287.8h0M46.8 285.6h0M46.1 291.2h0M47.0 285.1h0M47.4 291.0h0M29.4 290.6h0M46.1 282.2h0M35.0 289.3h0M41.2 286.9h0M34.3 290.6h0M35.1 289.2h0M26.9 292.5h0M33.6 290.8h0M36.0 293.6h0M38.3 286.3h0M37.0 289.6h0M41.9 289.9h0M40.3 290.2h0M38.2 294.9h0M34.2 289.4h0M36.1 292.2h0M47.8 287.5h0M32.8 290.7h0M33.8 286.4h0M41.6 289.0h0M36.0 288.1h0M40.2 296.4h0M43.7 286.7h0M35.9 292.0h0M28.8 296.0h0M42.7 291.5h0M43.1 287.0h0M34.9 294.7h0M32.6 286.7h0M37.0 290.0h0M29.0 295.1h0M25.3 286.6h0M34.3 287.2h0M31.9 288.9h0M40.2 286.0h0M32.7 288.4h0M44.3 291.9h0M39.8 292.4h0M39.2 288.1h0M41.6 285.9h0M33.4 286.4h0M41.4 289.9h0M40.4 289.2h0M35.9 292.1h0M49.4 288.2h0M47.4 288.9h0M42.3 284.0h0M38.0 291.6h0M34.8 284.3h0M40.4 293.8h0M37.9 285.1h0M45.4 287.0h0M39.2 285.8h0M39.2 293.3h0M38.2 289.1h0M37.5 291.7h0M47.6 289.7h0M37.4 286.4h0M36.4 287.3h0M45.7 284.4h0M33.3 287.7h0M28.2 293.4h0M44.2 289.8h0M45.4 290.2h0M43.3 285.8h0M32.4 287.4h0M37.5 293.1h0M26.8 292.5h0M37.1 290.4h0M39.0 288.9h0M34.8 291.8h0M42.8 292.3h0M41.9 287.8h0M36.9 288.0h0M44.1 283.9h0M36.8 288.8h0M39.2 286.0h0M46.5 283.0h0M51.0 287.8h0M27.2 292.1h0M35.2 290.2h0M28.5 286.2h0M37.8 286.8h0M37.9 287.9h0M40.2 295.3h0M28.0 292.8h0M39.6 292.2h0M31.4 290.5h0M28.9 287.8h0M37.9 295.8h0M35.5 290.9h0M41.3 290.0h0M33.0 293.2h0M44.8 287.8h0M33.4 291.3h0M29.6 287.0h0M28.8 291.8h0M35.0 286.0h0M49.4 282.7h0M37.8 290.8h0M29.6 287.7h0M28.9 289.5h0M36.5 289.6h0M27.8 290.8h0M56.7 290.3h0M35.8 289.5h0M32.3 292.3h0M40.9 291.4h0M29.2 286.0h0M31.0 286.1h0M33.1 291.5h0M32.7 288.7h0M37.0 286.2h0M36.3 292.2h0M34.7 291.3h0M45.6 286.8h0M42.5 280.1h0M29.5 290.7h0M45.9 291.1h0M39.3 291.3h0M26.4 291.6h0M29.5 294.7h0M35.6 291.8h0M27.2 290.3h0M32.4 291.1h0M48.2 289.9h0M33.7 291.8h0M38.7 287.6h0M33.5 280.7h0M38.8 295.8h0M38.0 288.4h0M43.5 281.6h0M48.3 284.3h0M43.2 289.3h0M32.1 291.9h0M47.2 287.2h0M42.1 293.0h0M40.1 286.4h0M43.3 288.7h0M33.8 294.7h0M31.5 292.9h0M32.0 289.1h0M37.6 289.0h0M40.1 289.5h0M43.9 282.7h0M41.7 290.2h0M35.8 291.3h0M43.2 286.3h0M31.9 288.4h0M40.4 289.5h0M37.1 293.4h0M37.0 287.6h0M34.2 289.0h0M38.8 287.7h0M30.0 290.8h0M34.5 291.9h0M38.8 286.1h0M41.6 282.1h0M30.6 290.0h0M45.6 292.5h0M43.7 285.7h0M42.8 290.8h0M42.7 289.1h0M43.7 285.0h0M36.4 290.5h0M25.9 289.4h0M30.9 289.3h0M44.2 287.3h0M34.7 286.4h0M47.2 287.2h0M45.0 292.9h0M35.0 291.2h0M47.3 292.1h0M45.6 296.3h0M41.6 290.6h0M36.4 290.7h0M32.3 288.6h0M31.1 287.6h0M31.2 290.9h0M39.7 293.6h0M36.0 290.7h0M32.4 289.4h0M42.0 284.1h0M37.5 288.0h0M34.8 294.2h0M46.5 291.8h0M40.6 285.5h0M33.3 287.8h0M44.1 292.1h0M32.3 284.8h0M37.2 291.5h0M42.3 285.7h0M42.5 287.6h0M33.4 288.7h0M48.1 290.2h0M43.5 292.6h0M42.2 287.0h0M39.6 292.9h0M36.0 291.6h0M35.7 286.8h0M48.5 285.1h0M41.2 289.9h0M34.0 289.1h0M36.5 288.4h0M30.0 293.7h0M35.1 291.1h0M26.1 295.3h0M32.0 292.7h0M52.7 288.3h0M37.0 291.5h0M40.0 284.7h0M34.1 290.5h0M51.1 284.5h0M42.0 287.5h0M34.8 295.4h0M34.5 288.6h0M38.4 294.2h0M30.4 290.1h0M35.9 289.7h0M54.1 283.9h0M53.2 289.6h0M35.5 284.4h0M51.0 284.6h0M43.9 291.6h0M46.0 288.1h0M50.4 285.8h0M44.6 290.0h0M32.5 286.0h0M47.4 284.4h0M47.3 288.9h0M43.1 286.9h0M38.7 284.3h0M48.5 293.2h0M48.4 286.9h0M45.9 289.7h0M56.0 286.6h0M47.0 287.6h0M48.7 285.4h0M37.6 289.5h0M45.0 282.6h0M64.6 281.0h0M34.7 292.9h0M54.3 285.1h0M49.7 285.7h0M47.4 287.6h0M47.6 288.5h0M49.5 289.1h0M36.8 289.5h0M59.3 282.9h0M50.5 283.8h0M57.8 283.7h0M51.1 282.5h0M53.7 286.5h0M53.5 284.6h0M50.4 288.0h0M60.1 283.9h0M50.6 285.0h0M50.2 284.8h0M43.9 289.5h0M46.3 285.3h0M57.4 284.9h0M45.7 291.7h0M55.3 288.9h0M48.8 287.3h0M37.5 290.4h0M54.4 287.2h0M48.9 288.4h0M47.7 286.5h0M55.9 283.4h0M50.0 282.6h0M41.4 292.1h0M51.3 289.6h0M44.5 292.2h0M42.2 288.5h0M61.1 286.5h0M32.8 293.6h0M45.4 289.7h0M45.4 291.7h0M54.5 286.4h0M56.7 283.5h0M44.1 293.0h0M28.3 288.8h0M62.7 285.7h0M42.2 287.8h0M47.1 290.2h0M45.6 285.8h0M45.8 287.3h0M49.2 285.1h0M42.0 291.5h0M52.3 284.7h0M53.6 282.5h0M42.4 286.0h0M42.2 288.3h0M56.7 285.1h0M58.4 281.9h0M54.0 290.2h0M53.6 281.0h0M33.4 289.9h0M50.1 285.0h0M49.6 285.5h0M48.0 286.8h0M54.5 282.1h0M55.9 283.0h0M48.4 285.8h0M46.4 284.8h0M60.0 285.7h0M44.7 285.4h0M45.1 291.4h0M54.8 282.2h0M48.7 291.4h0M61.3 283.3h0M62.2 289.5h0M56.2 285.9h0M50.5 287.0h0M50.2 288.4h0M44.1 279.3h0M64.2 280.4h0M50.5 284.7h0M51.5 282.7h0M51.3 288.3h0M50.7 294.0h0M37.8 282.7h0M51.9 283.9h0M56.5 285.7h0M40.4 287.2h0M34.5 292.4h0M44.9 287.3h0M48.0 289.0h0M53.9 290.1h0M43.7 288.6h0M52.1 288.1h0M42.1 287.8h0M33.9 287.8h0M57.2 286.4h0M48.6 287.1h0M44.5 287.1h0M42.8 286.9h0M52.8 284.1h0M39.0 290.4h0M50.1 286.6h0M56.7 281.4h0M45.4 287.2h0M54.9 288.8h0M60.2 287.0h0M65.7 282.6h0M56.5 286.1h0M41.6 287.7h0M39.8 294.7h0M47.6 289.0h0M63.0 282.9h0M48.1 290.0h0M55.6 284.4h0M52.8 285.1h0M64.0 279.7h0M48.5 284.9h0M47.3 285.5h0M43.9 286.5h0M50.8 284.1h0M52.4 286.3h0M49.8 284.7h0M55.0 289.9h0M50.8 285.5h0M45.2 284.6h0M49.1 288.6h0M46.9 287.5h0M51.5 286.4h0M49.6 285.8h0M63.5 287.4h0M50.4 284.8h0M42.9 291.1h0M47.3 287.6h0M37.6 291.9h0M47.6 287.6h0M53.1 291.4h0M45.2 286.7h0M58.9 285.6h0M50.0 286.2h0M43.8 288.6h0M54.6 283.3h0M53.9 284.6h0M47.4 284.7h0M51.5 284.3h0M42.7 289.7h0M57.5 286.3h0M37.6 290.5h0M46.7 287.5h0M39.7 287.0h0M48.5 287.8h0M35.5 287.8h0M49.7 283.4h0M49.3 289.8h0M39.5 290.0h0M51.3 286.4h0M37.3 294.5h0M44.7 287.7h0M49.8 290.7h0M45.5 285.5h0M52.5 282.6h0M38.1 286.5h0M37.1 291.9h0M59.4 286.3h0M38.3 289.2h0M60.1 280.4h0M52.6 284.3h0M55.4 287.3h0M47.9 288.3h0M41.4 286.5h0M48.2 287.5h0M50.3 293.0h0M44.5 287.5h0M39.3 285.6h0M52.8 285.9h0M44.0 289.5h0M55.1 289.7h0M51.6 286.9h0M59.0 281.6h0M55.4 285.0h0M32.6 293.9h0M51.2 284.9h0M50.2 289.8h0M66.0 279.7h0M47.2 287.5h0M46.6 287.5h0M46.0 285.1h0M47.9 287.8h0M44.4 290.4h0M61.7 283.3h0M51.3 285.2h0M53.1 287.3h0M58.8 287.4h0M39.6 292.2h0M60.4 283.8h0M46.3 286.5h0M52.1 288.9h0M45.3 290.3h0M45.1 293.0h0M45.4 288.2h0M52.3 287.4h0M52.2 286.0h0M50.1 285.4h0M58.7 292.6h0M46.2 288.8h0M38.6 288.4h0M41.9 289.0h0M46.2 288.1h0M56.2 283.3h0M53.7 281.9h0M54.7 283.6h0M52.9 284.5h0M43.7 289.1h0M45.2 289.0h0M32.7 284.8h0M48.9 283.7h0M42.7 285.8h0M51.3 290.7h0M51.1 287.8h0M43.7 287.0h0M63.4 282.8h0M46.2 287.2h0M40.8 284.7h0M58.6 287.6h0M43.9 290.0h0M62.0 284.5h0M54.7 285.8h0M39.0 288.6h0M46.9 286.3h0M55.5 281.8h0M53.6 287.6h0M54.8 282.9h0M53.9 285.8h0M52.5 285.1h0M46.1 286.6h0M46.9 288.7h0M51.1 286.0h0M53.7 283.2h0M54.7 287.4h0M43.9 291.8h0M45.3 288.4h0M66.2 283.8h0M53.7 285.3h0M47.6 291.7h0M40.2 290.3h0M49.4 284.8h0M52.6 289.1h0M47.7 292.4h0M40.8 289.9h0M58.8 282.1h0M45.8 283.2h0M50.9 284.0h0M52.9 292.1h0M44.7 285.9h0M53.5 282.6h0M43.9 287.9h0M44.3 290.0h0M62.2 283.3h0M49.6 286.1h0M51.4 287.2h0M43.7 291.7h0M54.6 287.0h0M51.8 285.1h0M49.2 285.9h0M54.2 286.4h0M51.2 283.7h0M40.4 289.7h0M48.9 290.8h0M44.2 287.6h0M41.1 287.9h0M53.1 287.2h0M31.9 288.8h0M52.2 290.0h0M47.5 290.2h0M59.2 287.0h0M55.0 286.2h0M54.3 286.5h0M52.4 287.6h0M35.1 287.4h0M44.7 286.6h0M40.7 288.2h0M50.1 289.7h0M52.0 291.6h0M45.8 287.7h0M43.8 288.9h0M49.4 287.6h0M45.7 286.4h0M44.7 286.7h0M65.2 283.6h0M46.0 290.9h0M42.9 285.1h0M49.2 289.3h0M47.8 284.3h0M55.5 287.7h0M62.8 283.3h0M39.3 286.4h0M61.0 280.4h0M51.5 285.7h0M45.3 290.3h0M42.1 286.8h0M59.0 285.0h0M37.5 287.4h0M40.6 287.6h0M32.7 250.5h0M50.8 256.7h0M31.3 277.5h0M53.4 280.7h0M43.4 272.8h0M33.7 251.7h0M36.6 270.6h0M41.5 278.0h0M65.2 287.6h0M39.0 253.6h0M59.6 252.8h0M37.0 275.6h0M36.5 251.0h0M44.4 252.2h0M52.5 269.0h0M59.4 286.9h0M49.2 293.8h0M62.3 261.4h0M40.4 255.2h0M61.5 279.7h0M63.1 278.9h0M71.2 267.5h0M64.6 274.3h0M26.5 259.0h0M55.3 273.9h0M52.1 279.3h0M28.6 249.7h0M40.3 261.9h0M68.0 269.9h0M58.2 273.5h0M61.6 284.7h0M32.5 269.8h0M64.5 276.3h0M55.3 275.1h0M69.3 285.4h0M72.0 269.4h0M72.4 292.4h0M49.7 296.7h0M56.9 291.6h0M35.8 293.6h0M55.1 255.6h0M61.2 292.8h0M49.5 296.5h0M65.3 249.8h0M56.4 270.2h0M64.9 266.4h0M70.6 272.4h0M29.6 266.1h0M37.5 272.6h0" stroke="#000" stroke-width="0.6" stroke-linecap="round" fill="none"/>
</g>
<path d="M49.2 248.0V299.5M23.25 282.5H74.0" stroke="#000" stroke-width="1.4" fill="none"/>
<rect x="23.25" y="248.0" width="50.75" height="51.5" fill="none" stroke="#000" stroke-width="1.6"/>
<text x="26.0" y="279.1" font-size="5.6" font-weight="bold">45</text>
<text x="66.0" y="279.1" font-size="5.6" font-weight="bold">39</text>
<text x="66.3" y="296.9" font-size="5.6" font-weight="bold">14</text>
<rect x="84.0" y="248.0" width="50.69999999999999" height="51.5" fill="#fff" stroke="none"/>
<clipPath id="k11"><rect x="84.0" y="248.0" width="50.69999999999999" height="51.5"/></clipPath><g clip-path="url(#k11)">
<ellipse cx="94.1" cy="290.5" rx="11.2" ry="6.2" transform="rotate(-12 94.1 290.5)" fill="url(#rg)" opacity="1.0"/>
<path d="M92.5 292.6h0M88.0 294.1h0M92.3 290.2h0M103.7 290.0h0M97.0 291.6h0M95.2 287.2h0M96.2 292.4h0M94.1 295.8h0M89.9 289.7h0M96.8 285.7h0M94.7 288.6h0M89.0 293.7h0M100.1 290.3h0M100.8 286.9h0M92.9 289.4h0M97.1 285.7h0M93.3 291.0h0M96.4 285.0h0M91.0 290.7h0M89.8 288.3h0M98.4 289.2h0M100.5 290.7h0M96.0 289.7h0M97.6 290.3h0M98.9 290.1h0M96.3 289.3h0M108.4 285.6h0M99.1 285.3h0M93.4 291.4h0M94.2 293.8h0M95.5 295.2h0M95.0 285.9h0M90.1 289.1h0M95.4 291.6h0M91.9 295.5h0M91.9 288.5h0M100.3 289.5h0M96.3 290.6h0M93.5 289.3h0M98.5 289.2h0M97.0 288.9h0M99.5 285.8h0M99.1 293.7h0M89.7 292.1h0M94.9 289.3h0M88.3 294.6h0M100.7 288.5h0M95.5 293.0h0M92.1 289.3h0M95.0 293.0h0M90.0 293.1h0M94.6 288.8h0M101.5 290.8h0M92.7 293.3h0M95.2 290.5h0M93.2 288.0h0M96.7 287.2h0M99.4 289.0h0M92.6 284.8h0M89.7 293.2h0M90.4 292.5h0M98.4 293.5h0M100.9 288.5h0M91.3 290.4h0M98.4 290.5h0M87.6 288.7h0M95.1 290.5h0M94.9 286.2h0M89.6 289.6h0M97.6 290.1h0M97.7 289.7h0M92.0 288.3h0M91.6 292.0h0M97.9 289.6h0M98.0 291.2h0M96.1 288.4h0M99.6 288.5h0M95.5 291.2h0M94.9 287.6h0M92.5 291.7h0M95.5 288.1h0M96.3 294.0h0M102.1 286.8h0M99.6 290.6h0M91.3 286.2h0M89.0 290.9h0M89.4 292.0h0M93.8 289.9h0M90.0 290.0h0M89.7 288.8h0M91.0 291.1h0M93.6 289.8h0M88.5 291.4h0M88.3 290.1h0M96.0 286.9h0M93.6 292.8h0M95.0 293.5h0M101.6 291.4h0M90.6 292.0h0M94.2 291.0h0M103.3 288.1h0M101.7 289.0h0M99.9 289.3h0M86.8 289.8h0M90.7 288.2h0M94.9 291.0h0M88.5 288.9h0M90.3 294.8h0M100.3 288.3h0M86.2 293.9h0M90.2 291.7h0M90.9 290.5h0M105.7 288.4h0M93.7 290.7h0M91.4 292.7h0M90.0 292.6h0M92.1 294.2h0M100.1 289.2h0M93.3 292.0h0M96.2 288.3h0M91.1 294.0h0M99.7 288.7h0M103.2 288.8h0M94.7 288.7h0M91.4 288.3h0M87.2 286.2h0M98.1 295.7h0M92.1 294.1h0M101.4 287.0h0M96.7 289.2h0M88.0 288.1h0M90.5 293.0h0M89.6 292.4h0M97.9 291.4h0M101.3 287.5h0M96.1 291.5h0M91.2 291.0h0M99.2 286.1h0M94.2 293.4h0M95.4 288.9h0M88.8 293.2h0M95.1 292.0h0M96.5 292.2h0M89.2 293.6h0M97.9 289.6h0M96.6 285.8h0M97.6 290.7h0M102.3 287.9h0M92.6 292.6h0M93.6 290.8h0M88.1 290.9h0M92.5 291.1h0M93.6 294.1h0M99.7 291.4h0M89.1 291.7h0M95.5 291.0h0M95.1 284.9h0M92.3 287.0h0M92.8 285.1h0M95.7 289.6h0M87.5 295.1h0M92.9 293.5h0M91.2 289.6h0M95.1 291.4h0M103.8 289.1h0M90.8 294.7h0M101.9 285.0h0M90.8 287.8h0M94.4 290.5h0M96.1 288.5h0M101.5 288.2h0M96.0 294.7h0M95.3 290.8h0M102.3 286.7h0M93.4 293.0h0M95.3 287.3h0M87.8 291.8h0M97.1 289.1h0M93.7 291.4h0M93.1 290.8h0M93.5 291.9h0M97.9 287.9h0M91.8 291.1h0M98.1 291.7h0M94.9 287.9h0M96.0 290.7h0M95.1 286.9h0M91.5 292.8h0M91.3 291.6h0M93.4 288.1h0M96.6 290.9h0M95.4 286.8h0M87.1 289.6h0M93.7 288.5h0M87.9 292.9h0M95.6 294.4h0M95.5 289.8h0M90.7 292.2h0M92.7 291.4h0M92.6 293.0h0M93.4 291.9h0M95.5 291.6h0M94.1 288.8h0M98.6 290.5h0M95.9 293.7h0M94.3 285.3h0M92.8 289.5h0M98.1 292.3h0M92.1 292.8h0M101.8 289.1h0M93.4 291.6h0M96.2 288.3h0M94.1 291.6h0M98.3 290.3h0M91.0 292.1h0M95.8 288.7h0M90.5 291.5h0M100.6 284.9h0M91.8 292.6h0M94.0 294.0h0M87.8 289.1h0M91.0 290.9h0M87.8 287.4h0M87.9 293.7h0M98.1 288.3h0M88.9 291.4h0M89.2 289.6h0M94.8 287.7h0M105.2 289.2h0M97.8 291.8h0M94.4 292.0h0M96.9 287.6h0M94.0 294.5h0M95.8 285.1h0M99.2 290.8h0M91.7 292.5h0M87.0 288.7h0M93.3 291.4h0M95.1 287.4h0M97.9 294.8h0M88.3 286.2h0M93.6 291.0h0M92.4 292.0h0M95.1 288.4h0M94.4 288.2h0M91.5 297.8h0M98.2 288.3h0M88.9 290.6h0M102.5 289.4h0M93.7 290.5h0M95.7 286.1h0M92.4 288.0h0M98.0 287.6h0M89.6 290.2h0M87.7 292.6h0M97.1 288.9h0M86.8 293.3h0M97.5 288.9h0M95.9 290.6h0M97.8 291.0h0M88.6 291.3h0M86.0 294.8h0M89.1 293.5h0M107.9 294.8h0M86.6 293.5h0M93.0 291.3h0M93.3 292.7h0M99.7 290.4h0M96.3 292.2h0M94.3 289.8h0M98.7 287.8h0M90.3 286.8h0M97.0 292.2h0M95.8 286.9h0M88.9 295.2h0M90.9 289.4h0M89.9 288.9h0M91.5 289.0h0M93.3 289.4h0M90.9 292.6h0M93.1 291.0h0M89.4 290.2h0M91.7 296.3h0M96.2 285.3h0M93.8 291.1h0M93.8 291.7h0M91.2 292.7h0M86.8 296.7h0M87.0 292.6h0M95.3 286.2h0M105.4 291.4h0M100.1 287.2h0M91.9 288.8h0M93.8 291.4h0M93.0 288.7h0M94.0 289.6h0M94.2 291.5h0M89.3 288.7h0M96.7 291.3h0M103.4 285.3h0M89.2 289.8h0M91.1 287.0h0M96.4 291.5h0M90.3 293.7h0M94.4 290.7h0M91.9 291.0h0M86.6 289.8h0M101.9 293.3h0M96.5 289.1h0M95.4 291.2h0M95.4 288.4h0M94.3 287.4h0M102.2 293.6h0M98.3 289.4h0M93.0 288.9h0M95.7 290.9h0M98.7 286.9h0M101.6 285.2h0M88.7 285.8h0M94.0 291.0h0M88.9 295.8h0M91.4 287.3h0M94.5 291.2h0M89.5 287.9h0M93.9 293.7h0M98.8 289.5h0M93.6 292.6h0M92.2 289.7h0M85.8 290.3h0M94.0 289.5h0M92.3 292.5h0M98.3 289.7h0M88.0 289.3h0M96.0 294.3h0M91.6 291.9h0M98.0 290.1h0M94.8 289.6h0M88.3 291.6h0M90.5 292.4h0M102.4 286.8h0M99.7 296.9h0M95.0 289.6h0M92.3 288.1h0M93.6 292.5h0M91.2 289.9h0M91.1 289.5h0M92.9 287.0h0M95.3 288.7h0M86.5 292.0h0M85.8 288.6h0M94.2 290.5h0M92.8 294.2h0M91.3 292.1h0M98.7 289.1h0M95.7 287.6h0M91.9 293.6h0M89.0 291.3h0M96.1 294.2h0M95.6 286.0h0M96.1 290.5h0M101.9 289.0h0M96.0 291.1h0M98.4 291.1h0M89.2 286.1h0M96.1 293.8h0M96.8 291.5h0M102.1 292.6h0M92.6 291.8h0M93.3 291.0h0M100.6 282.7h0M91.2 292.0h0M94.6 287.3h0M94.6 293.6h0M88.7 289.6h0M96.7 290.9h0M93.5 292.1h0M93.0 290.6h0M100.8 287.3h0M94.5 287.1h0M93.3 289.2h0M94.7 287.8h0M93.5 293.5h0M91.7 292.8h0M94.1 289.9h0M95.8 288.3h0M97.0 289.1h0M92.3 292.8h0M97.0 293.5h0M93.2 289.6h0M91.2 291.0h0M98.3 295.0h0M96.5 294.0h0M97.6 290.5h0M93.1 290.1h0M87.9 293.0h0M98.2 288.6h0M94.0 291.3h0M90.5 292.5h0M89.1 293.1h0M97.1 290.6h0M95.9 292.7h0M98.6 291.5h0M94.6 290.5h0M90.6 289.4h0M91.8 290.2h0M97.0 294.2h0M89.9 292.7h0M94.1 294.2h0M91.5 289.1h0M92.8 293.5h0M108.9 293.4h0M96.1 293.6h0M89.2 290.6h0M103.3 288.7h0M92.6 289.7h0M93.2 290.4h0M96.0 290.4h0M96.3 287.2h0M93.8 292.1h0M99.5 288.6h0M93.9 289.1h0M99.7 293.9h0M92.9 292.4h0M89.6 289.7h0M91.9 291.2h0M90.1 290.3h0M86.3 288.1h0M91.2 293.2h0M88.3 288.3h0M96.6 289.5h0M99.9 284.2h0M89.7 292.7h0M94.5 289.6h0M90.3 292.1h0M98.4 289.6h0M100.1 289.8h0M91.7 291.0h0M96.9 288.2h0M96.6 294.5h0M97.8 288.6h0M96.0 293.7h0M97.6 291.8h0M99.2 288.8h0M104.5 286.8h0M95.0 291.6h0M94.4 291.8h0M97.4 290.2h0M90.9 291.6h0M98.3 290.8h0M90.0 290.3h0M94.1 287.4h0M90.9 292.7h0M88.5 289.7h0M94.6 291.5h0M90.0 290.8h0M88.4 289.1h0M92.3 288.0h0M89.5 289.2h0M94.9 289.5h0M96.2 289.7h0M96.4 291.8h0M102.0 287.8h0M93.7 289.5h0M92.0 288.5h0M95.3 291.1h0M91.3 288.6h0M87.8 290.7h0M96.6 291.2h0M90.8 293.3h0M90.7 293.3h0M92.8 292.5h0M94.5 291.2h0M91.9 290.9h0M94.0 290.2h0M94.4 286.8h0M95.8 291.0h0M101.5 288.0h0M90.2 293.0h0M102.2 288.4h0M95.5 288.5h0M91.3 292.5h0M102.1 288.8h0M92.7 288.9h0M98.0 286.1h0M88.7 289.4h0M99.4 291.7h0M99.0 293.3h0M93.4 292.5h0M100.3 286.6h0M88.0 290.6h0M104.0 288.1h0M88.1 292.9h0M95.2 288.2h0M94.6 292.4h0M95.1 288.7h0M92.1 289.4h0M89.7 293.0h0M91.4 293.4h0M87.2 293.5h0M98.0 287.0h0M88.3 287.8h0M92.5 291.4h0M100.6 291.5h0M102.5 290.5h0M86.7 289.7h0M95.8 291.2h0M100.3 290.5h0M98.6 288.0h0M87.9 288.7h0M92.9 295.8h0M95.4 291.4h0M98.7 291.6h0M98.7 294.9h0M88.3 293.2h0M96.8 288.3h0M98.9 288.7h0M101.6 292.2h0M96.5 290.4h0M90.0 290.3h0M96.6 294.5h0M95.6 290.9h0M88.8 292.9h0M88.9 294.2h0M96.1 286.3h0M99.8 288.5h0M94.5 291.2h0M95.0 290.0h0M91.6 293.0h0M92.2 288.7h0M96.2 287.8h0M97.7 289.8h0M93.8 290.6h0M94.6 291.0h0M88.5 294.9h0M90.8 289.1h0M101.9 293.5h0M88.3 296.7h0M94.3 290.1h0M95.6 292.3h0M99.9 287.9h0M91.1 291.2h0M93.5 287.8h0M89.2 291.4h0M91.5 294.9h0M96.6 290.6h0M99.2 291.5h0M91.3 291.2h0M99.2 291.6h0M89.8 289.4h0M98.8 289.9h0M92.2 286.6h0M90.9 289.7h0M97.5 292.9h0M94.4 290.9h0M94.9 287.9h0M95.0 291.7h0M94.4 290.3h0M108.9 288.2h0M93.3 290.2h0M95.0 292.0h0M100.1 293.7h0M97.9 285.3h0M96.8 290.8h0M98.1 283.6h0M92.7 288.9h0M91.7 292.6h0M94.6 291.1h0M86.9 294.5h0M97.3 290.4h0M92.9 293.4h0M96.0 286.7h0M93.5 287.4h0M95.0 285.9h0M98.9 288.3h0M90.4 289.5h0M87.9 295.3h0M94.4 293.3h0M91.0 292.4h0M93.5 290.9h0M91.7 293.1h0M89.8 293.2h0M90.1 290.0h0M96.1 294.1h0M97.2 290.2h0M100.2 289.4h0M94.8 289.0h0M103.0 290.3h0M102.0 291.4h0M93.1 294.1h0M92.3 290.2h0M89.4 292.6h0M93.8 289.7h0M92.8 291.9h0M96.5 290.5h0M102.1 287.6h0M104.1 287.2h0M97.9 293.1h0M90.7 293.4h0M95.7 289.7h0M96.3 289.7h0M91.1 293.0h0M93.2 289.8h0M98.3 291.3h0M91.9 291.9h0M89.2 290.4h0M92.1 285.5h0M95.9 293.3h0M100.5 291.7h0M89.8 287.0h0M97.7 290.2h0M94.2 288.5h0M96.4 291.0h0M96.5 294.8h0M91.8 297.4h0M90.2 293.5h0M95.5 289.2h0M95.0 292.2h0M95.9 291.9h0M93.8 293.1h0M94.4 290.3h0M92.1 289.6h0M100.4 291.5h0M88.1 294.0h0M90.8 291.0h0M89.8 290.8h0M92.3 285.8h0M96.5 286.4h0M102.0 288.6h0M98.9 290.2h0M97.8 286.5h0M100.4 288.4h0M98.5 288.2h0M98.4 288.3h0M90.8 294.0h0M92.0 293.6h0M96.2 285.6h0M95.2 292.8h0M92.9 291.7h0M99.0 288.6h0M92.5 292.7h0M95.9 290.6h0M94.6 293.4h0M90.0 292.0h0M101.7 287.4h0M86.3 290.1h0M89.1 294.4h0M91.2 286.2h0M100.5 290.1h0M101.3 295.1h0M91.4 292.8h0M97.2 291.0h0M92.8 289.3h0M88.8 287.3h0M95.4 289.5h0M94.9 293.4h0M90.0 283.6h0M97.0 287.0h0M98.1 288.4h0M89.6 290.8h0M100.8 285.5h0M97.1 291.9h0M92.9 287.8h0M101.3 289.2h0M97.0 286.1h0M98.4 290.1h0M97.6 288.5h0M92.2 286.5h0M96.5 289.1h0M94.1 292.5h0M91.4 293.5h0M90.5 293.6h0M96.0 287.8h0M99.3 292.3h0M87.7 292.1h0M101.9 289.8h0M108.9 288.3h0M105.9 283.2h0M90.6 296.8h0M105.5 281.5h0M99.2 292.9h0M106.6 289.8h0M97.9 295.0h0M95.7 293.4h0M106.0 287.1h0M98.5 291.3h0M114.4 286.7h0M99.1 291.5h0M113.4 281.8h0M89.6 293.0h0M110.0 294.4h0M99.1 290.0h0M107.8 287.3h0M95.7 292.0h0M104.5 292.5h0M104.4 284.9h0M93.0 287.1h0M103.7 290.8h0M97.9 290.3h0M91.0 291.4h0M108.0 287.6h0M97.9 284.2h0M86.3 290.1h0M105.3 289.2h0M99.0 293.3h0M101.4 289.4h0M102.1 291.2h0M104.6 289.9h0M93.5 288.5h0M93.9 286.5h0M110.2 290.1h0M95.2 287.7h0M98.2 285.9h0M103.3 281.6h0M100.1 285.7h0M102.6 284.7h0M112.1 290.6h0M105.4 287.0h0M103.4 289.3h0M114.7 287.7h0M109.8 288.9h0M108.4 292.6h0M102.8 289.0h0M103.9 291.1h0M110.9 283.9h0M93.0 288.7h0M94.4 291.3h0M96.3 288.2h0M92.9 291.3h0M95.2 288.6h0M104.9 290.0h0M110.6 286.7h0M102.0 286.9h0M105.4 287.9h0M106.7 287.2h0M118.8 287.0h0M101.3 291.7h0M100.7 285.3h0M102.6 292.9h0M101.1 288.5h0M106.5 289.1h0M115.1 288.6h0M90.2 289.9h0M103.3 288.0h0M117.1 281.2h0M110.5 289.3h0M110.6 287.9h0M92.7 292.0h0M102.8 287.9h0M100.9 289.7h0M96.3 284.1h0M92.4 291.2h0M94.7 297.3h0M88.9 288.7h0M93.6 292.5h0M96.4 280.1h0M97.9 290.0h0M96.1 287.4h0M101.4 290.5h0M106.8 282.0h0M87.2 289.1h0M102.9 285.7h0M92.5 291.0h0M113.8 287.8h0M99.9 287.6h0M102.5 287.6h0M105.9 287.1h0M113.3 290.3h0M90.0 290.6h0M102.3 291.6h0M93.7 290.0h0M115.9 285.0h0M91.6 289.6h0M106.8 287.9h0M96.5 286.5h0M112.8 284.3h0M98.0 289.1h0M95.0 290.1h0M110.3 290.2h0M94.8 290.0h0M95.5 292.5h0M120.4 290.4h0M118.9 285.4h0M96.0 288.5h0M98.8 287.3h0M122.6 291.8h0M103.6 283.0h0M99.3 290.6h0M99.3 288.7h0M102.5 293.6h0M100.6 290.4h0M96.3 290.0h0M95.1 287.5h0M103.0 285.2h0M100.6 288.2h0M98.4 286.3h0M109.1 291.8h0M110.3 283.3h0M102.9 293.7h0M86.8 291.3h0M107.6 292.1h0M117.8 286.2h0M87.8 290.1h0M106.4 289.1h0M95.9 291.6h0M115.8 290.0h0M94.9 291.1h0M100.9 294.1h0M99.4 294.7h0M104.4 284.3h0M114.2 289.1h0M94.9 294.5h0M94.0 295.6h0M119.3 288.4h0M106.1 287.9h0M88.0 289.2h0M102.9 283.1h0M99.5 293.4h0M112.0 287.3h0M101.1 291.0h0M113.8 292.4h0M115.9 287.7h0M91.3 288.8h0M94.5 286.8h0M99.1 286.3h0M101.3 290.0h0M98.9 288.7h0M111.8 287.6h0M105.2 285.7h0M110.7 290.2h0M91.1 284.3h0M98.1 297.7h0M95.5 293.4h0M101.8 292.4h0M98.4 291.1h0M95.4 292.7h0M105.1 286.7h0M99.3 287.1h0M98.2 295.2h0M102.4 285.1h0M95.2 294.8h0M119.0 277.4h0M110.5 286.0h0M89.9 291.0h0M100.9 285.1h0M98.1 290.5h0M96.3 293.1h0M91.2 288.7h0M92.2 292.8h0M117.3 281.9h0M105.9 286.7h0M101.4 289.0h0M94.8 297.1h0M92.9 293.6h0M92.3 288.4h0M99.3 291.2h0M88.9 287.1h0M98.2 287.8h0M105.3 292.9h0M93.0 292.2h0M86.7 295.4h0M112.5 287.0h0M92.8 284.3h0M100.4 288.9h0M112.9 290.6h0M104.8 287.5h0M100.8 291.7h0M98.7 291.0h0M89.9 290.5h0M96.9 285.4h0M105.2 294.5h0M108.7 285.6h0M93.6 294.3h0M104.0 284.8h0M112.8 288.7h0M103.7 283.1h0M109.7 288.9h0M92.8 288.7h0M93.8 287.5h0M112.3 286.5h0M112.2 287.9h0M103.3 294.6h0M93.6 291.5h0M107.6 290.3h0M93.1 287.3h0M100.8 288.6h0M118.9 287.5h0M109.1 291.2h0M105.9 291.7h0M98.8 292.4h0M107.7 290.9h0M100.4 291.6h0M106.0 284.3h0M86.7 287.9h0M99.4 287.6h0M106.4 287.8h0M110.4 286.7h0M95.2 286.5h0M85.7 288.9h0M98.8 285.0h0M101.6 290.4h0M108.2 292.2h0M109.0 289.5h0M100.0 288.3h0M92.0 292.4h0M105.8 289.3h0M98.8 287.7h0M101.5 288.9h0M107.0 284.4h0M106.6 291.4h0M99.3 287.2h0M106.8 289.4h0M112.2 289.4h0M101.0 284.5h0M88.5 289.2h0M104.4 289.4h0M101.8 289.9h0M103.2 286.3h0M85.6 296.7h0M90.7 292.5h0M96.5 288.4h0M95.0 295.4h0M93.0 289.2h0M93.6 289.4h0M96.6 293.8h0M93.5 292.5h0M90.5 286.5h0M99.2 290.2h0M104.4 295.9h0M97.2 286.5h0M92.6 292.2h0M95.6 281.4h0M114.2 283.3h0M100.7 289.7h0M94.6 292.8h0M104.2 297.6h0M92.0 293.9h0M94.4 290.5h0M111.5 293.2h0M112.2 286.1h0M99.3 290.6h0M95.9 294.1h0M112.0 287.9h0M101.1 286.6h0M110.1 290.8h0M88.9 291.3h0M94.4 290.8h0M93.3 292.4h0M106.5 289.5h0M100.0 295.9h0M97.8 288.6h0M100.3 288.7h0M100.2 293.2h0M102.9 288.8h0M92.6 289.5h0M114.9 287.1h0M100.8 286.4h0M94.7 289.3h0M89.1 291.6h0M102.3 286.8h0M109.0 285.7h0M95.7 295.0h0M97.1 283.6h0M89.9 291.4h0M87.9 291.3h0M120.7 288.5h0M98.1 290.9h0M101.7 290.9h0M114.0 289.7h0M103.7 291.1h0M109.5 283.6h0M114.9 286.6h0M102.4 292.1h0M112.6 285.8h0M97.6 288.9h0M100.1 291.1h0M107.3 292.4h0M103.1 289.2h0M102.5 292.1h0M110.7 291.8h0M103.3 291.6h0M102.7 290.2h0M105.3 290.4h0M97.5 290.1h0M112.7 285.6h0M96.9 288.2h0M99.5 289.3h0M95.7 289.8h0M93.1 289.9h0M94.3 297.0h0M111.8 291.3h0M111.0 283.6h0M90.8 291.6h0M106.4 287.9h0M105.1 280.3h0M109.5 286.0h0M102.6 289.4h0M110.9 287.5h0M111.3 284.9h0M118.7 277.0h0M105.6 285.9h0M110.2 292.8h0M114.6 282.4h0M107.3 286.5h0M95.6 297.5h0M109.2 285.7h0M110.7 283.8h0M101.3 293.9h0M101.4 292.4h0M103.5 289.1h0M104.2 288.8h0M90.4 285.0h0M94.5 289.5h0M101.4 294.3h0M92.5 294.0h0M106.5 286.6h0M90.1 290.6h0M105.7 294.9h0M92.5 292.3h0M105.2 288.1h0M93.9 293.7h0M103.6 290.6h0M102.3 288.0h0M86.7 287.1h0M104.0 292.3h0M102.4 289.2h0M98.9 284.5h0M98.3 297.5h0M109.1 290.7h0M97.9 285.9h0M104.3 290.8h0M98.2 287.9h0M96.1 289.4h0M93.9 289.3h0M102.5 288.3h0M97.2 288.9h0M100.9 297.8h0M102.0 294.2h0M104.2 282.7h0M93.5 290.1h0M97.7 288.1h0M104.7 286.9h0M96.5 293.0h0M91.6 287.6h0M101.1 292.7h0M98.2 290.1h0M114.9 291.4h0M100.7 289.9h0M114.8 289.7h0M103.0 278.3h0M100.7 289.8h0M103.6 285.7h0M106.1 290.6h0M115.2 292.4h0M95.5 286.4h0M98.5 285.6h0M95.5 292.8h0M104.5 287.3h0M94.5 297.1h0M93.9 291.7h0M93.9 294.6h0M97.9 284.9h0M90.8 292.4h0M114.0 285.4h0M95.3 292.9h0M91.6 294.9h0M104.1 286.9h0M109.9 283.7h0M86.4 288.1h0M101.6 293.4h0M97.5 287.2h0M87.8 295.6h0M88.3 291.0h0M107.7 288.7h0M96.5 289.0h0M99.3 290.2h0M93.3 287.8h0M99.2 285.7h0M94.2 295.3h0M109.9 288.9h0M102.2 283.9h0M105.8 286.0h0M101.5 288.7h0M87.2 290.5h0M121.6 286.1h0M93.9 294.1h0M100.2 291.7h0M90.2 286.7h0M97.7 282.6h0M92.5 291.2h0M103.8 289.5h0M113.1 287.5h0M95.0 289.6h0M98.0 286.7h0M101.9 287.3h0M97.8 287.9h0M106.6 290.9h0M112.3 286.5h0M110.1 285.8h0M95.5 293.3h0M99.0 293.6h0M90.3 289.7h0M112.9 283.9h0M99.4 288.9h0M105.2 288.5h0M101.5 291.7h0M102.6 288.1h0M105.4 287.8h0M113.2 293.4h0M117.4 290.3h0M91.2 289.2h0M109.7 287.9h0M105.8 287.0h0M101.7 288.8h0M114.3 281.5h0M89.4 286.9h0M102.8 287.7h0M101.4 287.4h0M93.2 291.0h0M88.7 287.7h0M93.7 288.1h0M102.6 289.8h0M98.6 290.2h0M101.3 287.1h0M109.8 293.4h0M98.6 290.8h0M96.8 287.1h0M88.2 285.9h0M108.0 284.9h0M91.9 293.3h0M86.3 289.5h0M109.0 290.6h0M93.8 291.3h0M105.9 287.5h0M101.6 287.8h0M94.2 290.7h0M105.5 282.1h0M96.0 287.0h0M118.4 287.1h0M89.3 290.0h0M95.4 287.8h0M86.6 289.3h0M114.3 289.2h0M95.7 292.3h0M100.7 286.8h0M107.6 293.2h0M100.0 292.2h0M103.7 288.9h0M103.7 289.2h0M96.2 289.1h0M98.4 287.3h0M92.1 289.9h0M93.2 288.7h0M103.5 289.9h0M87.6 288.0h0M95.9 290.3h0M100.0 297.6h0M109.7 286.2h0M102.3 288.4h0M102.9 292.6h0M87.6 291.4h0M89.7 289.5h0M104.9 289.1h0M102.1 292.0h0M123.8 286.5h0M109.0 290.6h0M105.4 287.8h0M105.1 291.4h0M105.4 285.9h0M103.4 291.1h0M91.1 293.9h0M106.9 295.0h0M105.5 285.5h0M94.8 296.6h0M99.0 292.3h0M96.3 289.8h0M99.0 289.8h0M103.9 293.7h0M90.0 289.2h0M99.6 291.0h0M108.5 283.2h0M101.4 286.2h0M102.5 285.0h0M96.4 291.7h0M101.6 282.7h0M98.8 291.5h0M100.1 294.3h0M96.3 290.0h0M91.0 291.2h0M112.6 282.4h0M104.4 289.5h0M102.1 288.8h0M97.1 291.3h0M117.9 279.0h0M101.7 286.5h0M91.1 292.1h0M110.0 286.8h0M110.9 286.0h0M88.6 292.4h0M112.2 281.5h0M101.5 290.4h0M111.9 284.3h0M95.8 295.1h0M111.1 287.0h0M91.1 295.1h0M91.0 291.0h0M97.6 291.0h0M94.7 289.2h0M89.2 290.3h0M93.8 287.2h0M92.2 290.9h0M94.2 294.2h0M96.6 291.4h0M95.6 288.1h0M109.3 286.3h0M92.7 290.6h0M105.7 283.3h0M106.4 286.9h0M107.5 285.2h0M102.3 297.5h0M94.5 289.1h0M90.8 294.1h0M108.9 285.4h0M100.8 287.4h0M96.2 290.0h0M88.1 291.6h0M104.4 283.2h0M105.0 283.7h0M102.9 291.2h0M88.9 288.5h0M106.8 291.3h0M105.6 285.4h0M88.2 292.0h0M105.3 283.5h0M108.2 286.3h0M99.0 282.3h0M93.0 295.1h0M115.6 291.7h0M91.1 292.9h0M104.1 284.7h0M109.0 288.7h0M103.7 285.6h0M96.4 291.7h0M98.4 290.8h0M93.1 286.1h0M111.3 289.6h0M99.3 291.2h0M112.7 283.3h0M121.9 254.1h0M120.1 259.4h0M123.5 253.6h0M127.3 253.5h0M128.0 251.9h0M124.8 256.2h0M121.6 260.0h0M121.9 256.9h0M128.8 251.7h0M123.0 258.7h0M126.5 257.3h0M125.5 256.3h0M124.4 254.1h0M122.8 260.5h0M119.7 256.2h0M120.1 257.1h0M122.8 255.9h0M123.3 259.0h0M124.1 252.8h0M121.6 255.3h0M118.3 262.3h0M124.1 262.8h0M122.7 255.7h0M124.0 253.3h0M119.1 255.7h0M121.3 260.9h0M124.0 254.9h0M124.9 259.8h0M128.4 250.2h0M121.6 256.1h0M125.9 254.7h0M120.7 256.4h0M118.8 258.6h0M125.4 257.1h0M122.1 255.5h0M124.5 251.5h0M124.3 253.6h0M117.1 263.0h0M124.0 256.1h0M122.8 259.2h0M122.6 256.6h0M122.5 257.2h0M118.9 259.5h0M127.5 253.5h0M113.3 262.6h0M119.9 252.2h0M121.4 261.2h0M120.3 263.4h0M117.9 260.8h0M121.6 259.7h0M117.4 258.9h0M122.0 257.3h0M124.4 259.9h0M120.1 255.6h0M116.8 265.2h0M125.2 258.4h0M121.4 252.3h0M121.5 258.2h0M126.1 257.9h0M123.7 255.5h0M120.2 260.3h0M125.2 250.6h0M125.0 257.5h0M126.4 255.6h0M124.5 259.3h0M125.6 251.6h0M124.3 256.1h0M122.6 258.5h0M117.0 260.0h0M121.6 258.0h0M121.3 261.9h0M119.3 259.3h0M123.9 252.5h0M128.0 253.3h0M125.1 253.8h0M126.1 252.6h0M121.4 260.7h0M126.6 253.8h0M118.2 257.3h0M117.0 257.1h0M121.3 257.5h0M122.6 260.1h0M124.8 256.5h0M125.5 256.4h0M121.5 253.7h0M126.6 256.3h0M119.8 257.1h0M121.0 261.1h0M126.2 257.8h0M127.9 252.8h0M123.4 251.8h0M122.7 259.4h0M126.2 254.7h0M122.5 256.4h0M121.6 255.1h0M121.7 255.1h0M122.6 257.3h0M128.1 252.6h0M127.9 255.9h0M123.5 249.8h0M119.0 259.1h0M131.9 254.7h0M120.8 260.0h0M124.5 251.6h0M111.6 266.4h0M123.0 254.5h0M125.3 252.7h0M122.3 254.8h0M118.7 256.0h0M117.9 259.4h0M124.8 256.0h0M126.1 252.9h0M125.6 252.2h0M122.3 257.1h0M127.0 250.4h0M126.2 253.3h0M127.2 252.1h0M126.4 256.7h0M127.6 253.0h0M127.6 261.6h0M124.4 255.4h0M121.9 260.8h0M116.0 261.3h0M123.0 256.2h0M119.8 252.8h0M120.7 260.0h0M120.4 255.9h0M121.1 257.1h0M125.3 255.2h0M122.7 259.2h0M120.6 252.3h0M132.7 249.9h0M118.4 260.1h0M121.0 255.2h0M129.7 250.6h0M119.9 258.3h0M125.8 255.8h0M119.0 256.5h0M121.2 255.8h0M124.9 257.7h0M124.8 254.7h0M123.8 252.2h0M122.6 261.0h0M122.5 258.0h0M123.2 256.6h0M124.4 253.8h0M121.5 261.5h0M120.8 254.9h0M119.9 257.7h0M126.9 256.5h0M127.7 252.8h0M113.0 262.4h0M122.1 259.4h0M125.1 256.4h0M121.7 257.3h0M114.5 259.9h0M126.6 254.2h0M126.1 252.7h0M124.7 257.5h0M119.7 257.8h0M124.6 259.6h0M124.5 262.3h0M124.9 261.5h0M125.3 255.3h0M126.5 253.1h0M124.1 253.1h0M121.1 256.3h0M120.7 257.8h0M122.2 249.9h0M117.2 258.5h0M121.9 274.7h0M107.3 269.3h0M115.1 269.6h0M125.3 263.9h0M122.4 273.3h0M120.9 261.1h0M115.2 270.5h0M122.2 273.6h0M115.0 266.3h0M117.3 267.8h0M116.1 262.5h0M110.1 266.0h0M120.7 268.3h0M124.0 272.5h0M120.8 274.5h0M116.2 267.7h0M124.6 264.8h0M115.5 265.5h0M105.9 264.6h0M116.9 269.7h0M121.1 272.6h0M114.2 260.0h0M118.1 268.6h0M119.6 270.3h0M119.5 273.9h0M125.8 274.7h0M114.8 269.2h0M116.5 266.1h0M121.0 268.5h0M121.3 280.5h0M119.6 272.2h0M118.7 265.3h0M119.6 265.5h0M128.6 266.6h0M124.5 267.1h0M123.1 268.8h0M120.3 270.8h0M125.1 270.3h0M123.3 269.0h0M121.3 269.8h0M118.1 268.4h0M118.8 268.9h0M121.3 269.2h0M112.1 265.5h0M116.5 267.2h0M113.9 268.9h0M121.2 271.5h0M127.8 270.2h0M122.5 274.4h0M120.1 270.9h0M113.7 266.0h0M130.4 267.2h0M121.6 272.3h0M123.0 277.3h0M120.3 272.7h0M124.4 266.6h0M124.6 273.7h0M119.0 264.9h0M120.6 277.6h0M107.8 270.8h0M123.6 272.9h0M123.2 270.1h0M121.5 265.2h0M122.4 276.2h0M123.0 267.9h0M121.5 267.0h0M116.4 268.2h0M120.7 268.7h0M116.5 270.1h0M125.5 269.1h0M119.8 266.1h0M121.0 270.5h0M123.6 266.3h0M121.3 270.2h0M119.5 272.3h0M121.6 268.1h0M119.2 265.2h0M121.9 270.9h0M121.6 269.0h0M118.4 270.9h0M118.0 267.0h0M127.6 275.7h0M118.1 272.6h0M129.4 267.2h0M125.5 269.7h0M115.2 272.3h0M120.9 271.3h0M117.3 271.9h0M120.4 267.3h0M120.3 272.0h0M126.6 276.5h0M117.6 270.3h0M123.4 279.0h0M115.7 269.6h0M118.7 275.4h0M121.1 273.5h0M121.6 267.7h0M112.7 262.1h0M119.4 266.7h0M95.7 272.4h0M103.3 272.1h0M102.4 268.6h0M98.6 268.8h0M107.5 275.5h0M106.3 269.9h0M99.9 273.8h0M115.6 280.6h0M102.5 277.3h0M107.7 281.5h0M100.9 262.4h0M94.7 269.9h0M108.0 271.9h0M105.0 275.1h0M92.7 274.5h0M102.6 270.2h0M101.7 278.0h0M105.6 276.2h0M103.5 266.8h0M103.4 277.0h0M108.9 266.7h0M98.7 285.8h0M100.2 272.6h0M100.4 273.9h0M103.1 279.9h0M87.6 257.4h0M130.5 264.8h0M99.5 290.2h0M104.1 269.4h0M122.5 271.0h0M105.6 264.2h0M96.7 258.7h0M118.8 256.1h0M122.7 251.1h0M103.0 256.4h0M105.8 273.2h0M115.8 253.4h0M108.0 270.0h0M85.8 274.0h0M112.4 297.4h0M99.5 260.0h0M130.7 261.4h0M92.7 287.2h0M115.9 254.1h0M127.9 287.4h0M107.2 259.2h0M88.2 259.1h0M128.9 266.3h0M89.5 260.1h0M96.6 279.2h0M126.1 270.5h0M96.5 287.9h0M87.1 285.6h0M98.2 272.7h0M89.2 283.7h0M118.6 264.5h0M116.4 260.1h0M99.3 250.8h0M131.4 294.2h0M110.1 285.7h0M130.3 280.9h0M124.9 279.0h0M125.0 293.2h0M121.3 297.1h0M102.2 253.6h0M86.0 257.3h0M125.3 288.4h0M116.1 289.4h0M88.9 255.4h0M100.9 270.7h0" stroke="#000" stroke-width="0.6" stroke-linecap="round" fill="none"/>
</g>
<path d="M109.4 248.0V299.5M84.0 282.5H134.7" stroke="#000" stroke-width="1.4" fill="none"/>
<rect x="84.0" y="248.0" width="50.69999999999999" height="51.5" fill="none" stroke="#000" stroke-width="1.6"/>
<text x="87.1" y="278.9" font-size="5.6" font-weight="bold">84</text>
<text x="127.3" y="278.9" font-size="5.6" font-weight="bold">10</text>
<text x="130.4" y="296.9" font-size="5.6" font-weight="bold">5</text>
<rect x="146.5" y="248.5" width="52.5" height="51.10000000000002" fill="#fff" stroke="none"/>
<clipPath id="k12"><rect x="146.5" y="248.5" width="52.5" height="51.10000000000002"/></clipPath><g clip-path="url(#k12)">
<ellipse cx="175.4" cy="258.7" rx="8.4" ry="12.8" transform="rotate(0 175.4 258.7)" fill="url(#rg)" opacity="0.9"/>
<ellipse cx="153.3" cy="288.4" rx="6.8" ry="6.6" transform="rotate(0 153.3 288.4)" fill="url(#rg)" opacity="0.25"/>
<path d="M170.4 264.3h0M179.4 259.9h0M175.5 262.2h0M171.9 259.4h0M174.3 267.1h0M177.2 268.3h0M174.3 254.7h0M176.8 261.7h0M178.3 258.7h0M180.5 255.9h0M170.9 254.1h0M174.1 273.4h0M176.1 262.3h0M175.7 256.9h0M177.9 263.3h0M168.5 257.7h0M171.1 264.9h0M179.6 258.9h0M182.7 251.0h0M175.3 262.9h0M170.7 262.5h0M178.1 262.6h0M182.7 261.4h0M179.3 260.5h0M173.6 258.4h0M177.4 268.8h0M168.7 261.2h0M174.2 259.3h0M172.3 261.0h0M169.1 259.7h0M180.0 263.4h0M177.9 257.8h0M169.6 256.3h0M185.1 251.7h0M182.5 261.1h0M176.0 264.8h0M176.0 258.6h0M168.4 255.4h0M180.5 256.3h0M174.2 259.4h0M179.7 251.4h0M177.0 258.7h0M173.9 254.5h0M169.1 263.8h0M176.1 262.5h0M175.2 258.4h0M172.8 261.3h0M165.4 260.9h0M170.2 250.8h0M176.3 255.8h0M177.8 267.9h0M183.4 257.8h0M170.7 260.3h0M172.3 255.8h0M176.2 256.8h0M174.0 259.1h0M170.2 256.8h0M178.3 256.9h0M178.5 269.9h0M173.1 254.7h0M172.7 276.4h0M181.8 266.4h0M169.2 257.3h0M176.2 269.1h0M166.5 259.6h0M175.2 253.9h0M174.1 259.7h0M174.1 262.0h0M173.8 256.5h0M181.1 250.4h0M171.9 262.4h0M172.6 256.6h0M175.3 265.8h0M175.2 263.2h0M175.2 259.6h0M176.2 251.4h0M174.0 260.2h0M170.7 258.3h0M173.5 271.1h0M179.7 255.0h0M176.5 257.5h0M178.5 254.4h0M171.2 257.9h0M181.5 256.5h0M179.5 265.3h0M172.8 267.8h0M171.7 257.6h0M173.9 259.0h0M182.5 261.1h0M165.8 262.1h0M180.6 253.1h0M181.4 253.3h0M172.7 260.3h0M174.3 256.9h0M177.2 258.0h0M178.6 259.7h0M173.2 266.2h0M167.4 254.6h0M179.7 259.9h0M176.8 261.7h0M167.9 259.2h0M180.2 258.2h0M180.0 253.2h0M177.1 254.3h0M172.7 261.3h0M175.4 253.0h0M180.5 259.5h0M177.0 269.5h0M176.8 263.0h0M174.0 258.8h0M178.4 261.1h0M178.4 256.0h0M180.5 264.7h0M181.6 258.5h0M173.1 258.5h0M168.2 254.7h0M180.6 253.7h0M169.8 257.1h0M168.6 264.3h0M176.5 265.3h0M167.4 260.1h0M176.7 265.1h0M177.3 258.4h0M172.3 255.3h0M180.5 250.6h0M178.4 261.7h0M170.4 258.6h0M171.6 262.2h0M181.3 257.6h0M169.3 253.3h0M180.9 253.5h0M177.3 258.9h0M169.9 261.1h0M170.6 259.8h0M177.0 256.9h0M176.0 265.7h0M174.5 258.9h0M179.9 255.5h0M179.1 255.2h0M171.0 255.9h0M171.0 259.6h0M171.7 257.9h0M172.1 259.7h0M172.2 255.6h0M177.6 261.5h0M165.8 262.3h0M180.7 263.2h0M178.0 261.9h0M172.7 254.4h0M178.6 258.7h0M177.3 254.3h0M173.2 262.5h0M181.5 259.8h0M174.6 258.4h0M174.7 257.5h0M177.5 252.5h0M172.1 259.3h0M180.8 273.1h0M181.0 260.1h0M171.3 253.6h0M179.0 261.4h0M181.2 256.8h0M175.6 258.2h0M181.0 257.5h0M181.8 256.4h0M176.7 263.7h0M180.6 252.2h0M180.9 256.3h0M175.0 262.8h0M174.0 264.9h0M183.6 260.2h0M172.6 266.8h0M181.6 269.1h0M178.3 250.6h0M175.8 257.4h0M173.1 250.8h0M177.9 263.0h0M178.0 259.2h0M172.8 254.6h0M177.3 259.4h0M173.6 261.8h0M176.5 264.9h0M171.2 250.7h0M171.8 265.7h0M182.2 255.2h0M180.1 254.2h0M174.8 262.0h0M177.0 259.2h0M176.1 252.2h0M175.8 257.2h0M181.9 254.0h0M176.9 261.5h0M173.3 269.9h0M169.3 253.5h0M169.2 266.9h0M182.3 257.7h0M177.5 252.9h0M179.4 269.0h0M178.0 259.5h0M173.0 260.1h0M173.4 255.1h0M174.7 265.1h0M166.6 256.4h0M168.2 258.7h0M173.1 261.3h0M171.3 266.0h0M173.8 262.3h0M177.2 260.3h0M183.4 258.4h0M180.9 254.5h0M171.8 264.0h0M171.2 266.0h0M177.1 262.0h0M174.4 263.0h0M176.2 258.4h0M175.8 259.5h0M177.7 252.3h0M167.2 265.7h0M176.0 270.1h0M168.3 252.6h0M179.2 252.4h0M173.5 260.9h0M172.4 263.5h0M178.1 253.3h0M178.6 260.0h0M175.4 259.3h0M179.2 255.7h0M170.5 257.5h0M177.1 259.2h0M177.7 256.9h0M174.3 264.6h0M178.9 262.5h0M182.5 263.0h0M173.9 252.5h0M172.8 264.2h0M177.2 257.3h0M176.9 259.0h0M176.1 261.0h0M171.1 252.4h0M174.9 268.5h0M180.1 253.3h0M178.7 271.7h0M171.9 260.8h0M177.2 261.1h0M173.2 258.7h0M175.9 258.0h0M172.7 253.7h0M173.2 257.5h0M172.9 255.3h0M174.1 260.3h0M171.6 253.9h0M179.1 262.1h0M174.5 254.2h0M178.1 256.4h0M175.6 263.6h0M174.9 258.1h0M169.6 263.9h0M170.2 259.4h0M174.1 251.2h0M170.2 252.5h0M178.0 253.1h0M171.2 258.6h0M174.2 263.8h0M176.6 264.2h0M174.2 251.3h0M183.3 256.6h0M179.9 255.9h0M169.4 257.5h0M177.2 259.7h0M179.6 256.4h0M174.7 250.3h0M172.2 265.8h0M174.9 259.4h0M172.4 258.6h0M174.9 253.9h0M177.5 253.6h0M174.2 269.5h0M177.3 269.7h0M179.1 262.6h0M171.0 254.4h0M175.6 257.4h0M163.7 254.3h0M179.3 258.3h0M173.7 262.1h0M175.8 253.6h0M178.2 258.3h0M167.7 257.4h0M179.9 257.5h0M165.2 252.8h0M170.8 256.4h0M184.2 254.6h0M178.1 261.7h0M180.0 263.9h0M175.1 257.2h0M179.8 270.2h0M168.3 263.0h0M171.7 263.1h0M182.6 256.6h0M179.4 257.0h0M174.3 260.5h0M177.9 251.9h0M172.4 259.0h0M169.7 252.0h0M179.0 256.1h0M174.0 265.3h0M176.1 258.2h0M177.7 257.4h0M177.1 262.2h0M180.3 250.8h0M173.3 260.7h0M173.4 258.1h0M178.6 256.9h0M180.2 259.0h0M170.6 259.8h0M169.0 260.1h0M176.0 254.2h0M176.4 262.4h0M170.8 251.7h0M176.5 265.3h0M182.0 257.2h0M166.0 252.1h0M176.6 275.1h0M176.0 262.2h0M173.6 263.4h0M177.6 254.5h0M178.8 259.7h0M170.2 251.3h0M175.9 258.8h0M178.1 259.0h0M174.8 263.8h0M177.2 259.2h0M177.9 263.4h0M180.6 262.6h0M178.1 269.9h0M178.3 263.1h0M181.1 256.3h0M176.1 261.9h0M182.6 251.9h0M170.2 257.4h0M176.7 261.8h0M176.6 261.7h0M176.7 258.4h0M172.8 253.5h0M177.1 259.2h0M173.7 264.0h0M171.6 262.1h0M178.8 251.9h0M175.8 259.3h0M171.2 258.9h0M168.7 256.6h0M174.5 263.5h0M175.7 258.6h0M168.9 266.9h0M180.3 258.8h0M178.0 252.7h0M184.6 251.5h0M180.7 268.2h0M181.1 262.5h0M171.7 255.0h0M177.5 256.2h0M178.0 261.4h0M179.9 255.1h0M167.1 260.9h0M173.4 257.5h0M169.4 251.5h0M179.5 259.5h0M177.7 259.1h0M179.4 255.6h0M175.6 251.1h0M166.8 255.9h0M177.1 252.3h0M173.3 257.7h0M177.1 253.4h0M174.8 258.4h0M177.8 252.9h0M171.9 265.8h0M169.4 262.3h0M179.2 259.1h0M187.1 257.3h0M169.7 252.0h0M171.5 256.8h0M176.8 259.4h0M179.9 262.9h0M175.1 258.3h0M178.6 254.0h0M171.7 260.3h0M172.9 263.9h0M176.3 257.0h0M173.3 260.8h0M167.2 261.3h0M179.1 257.0h0M183.5 255.8h0M172.3 262.4h0M169.1 264.7h0M182.7 258.1h0M175.5 254.8h0M180.0 264.3h0M176.0 255.7h0M181.0 256.7h0M172.4 259.6h0M184.0 262.8h0M171.6 257.8h0M179.0 250.7h0M179.2 255.6h0M170.4 262.2h0M178.4 262.3h0M173.5 262.9h0M177.6 256.7h0M178.3 257.3h0M167.2 262.7h0M179.1 255.3h0M170.3 265.5h0M178.9 251.7h0M180.8 266.8h0M172.1 252.6h0M168.1 259.1h0M177.5 256.8h0M179.7 252.2h0M172.7 264.0h0M174.1 260.8h0M176.5 261.2h0M180.8 266.8h0M171.7 265.1h0M173.7 262.4h0M173.7 261.2h0M170.2 262.7h0M172.9 260.4h0M176.0 256.0h0M176.7 262.5h0M182.1 250.9h0M178.7 252.6h0M172.7 258.9h0M174.6 258.1h0M173.9 261.9h0M162.1 255.3h0M178.6 259.1h0M178.2 256.8h0M174.1 268.2h0M182.5 255.1h0M173.2 262.1h0M171.7 258.5h0M171.4 265.6h0M177.4 258.3h0M180.8 255.3h0M180.3 254.0h0M169.3 251.7h0M166.6 262.1h0M167.0 252.1h0M176.5 257.3h0M177.6 251.8h0M182.3 257.7h0M173.8 256.3h0M174.7 262.2h0M175.6 258.3h0M169.2 257.6h0M183.5 258.3h0M171.3 257.4h0M174.2 263.3h0M175.5 261.9h0M173.6 266.9h0M177.1 252.5h0M179.4 265.2h0M178.0 265.0h0M180.8 255.1h0M189.8 257.5h0M176.5 256.4h0M179.4 257.9h0M178.3 259.4h0M174.3 261.6h0M179.5 258.0h0M173.4 250.6h0M170.3 261.6h0M178.0 256.4h0M181.8 260.3h0M170.5 262.6h0M179.0 250.8h0M178.5 250.7h0M172.7 258.2h0M172.0 257.6h0M163.7 260.7h0M173.8 252.8h0M178.9 262.8h0M180.5 260.8h0M185.3 250.7h0M177.4 270.7h0M173.7 257.5h0M180.3 261.3h0M180.2 263.5h0M165.6 257.4h0M176.7 253.0h0M173.3 258.3h0M184.2 253.7h0M177.3 256.3h0M179.4 260.1h0M173.2 255.4h0M175.1 262.1h0M167.2 261.6h0M174.3 261.8h0M184.1 265.8h0M177.7 266.9h0M172.8 260.3h0M171.6 258.6h0M179.2 262.4h0M176.7 263.8h0M174.7 250.7h0M173.2 262.8h0M179.3 259.3h0M168.0 261.5h0M172.8 269.9h0M173.4 271.2h0M173.0 251.9h0M179.7 262.8h0M179.5 264.0h0M172.6 254.1h0M178.2 260.2h0M173.7 264.9h0M172.0 260.1h0M172.7 263.7h0M173.0 252.2h0M176.8 260.6h0M174.7 255.0h0M170.8 266.8h0M167.6 250.5h0M176.6 255.9h0M179.3 253.9h0M172.0 251.6h0M177.7 267.4h0M180.5 263.5h0M173.2 258.6h0M180.0 256.0h0M173.6 256.8h0M174.3 254.8h0M170.9 262.0h0M172.4 261.4h0M173.6 264.2h0M184.2 260.4h0M172.0 259.9h0M176.0 250.9h0M174.9 264.3h0M173.7 261.6h0M173.0 262.9h0M173.8 268.6h0M171.3 256.4h0M172.6 258.2h0M180.5 264.7h0M175.2 261.1h0M172.5 261.7h0M180.7 256.5h0M175.5 261.3h0M175.2 258.0h0M172.6 269.2h0M179.1 260.1h0M170.5 251.7h0M165.7 256.2h0M170.2 259.4h0M175.5 266.2h0M173.0 264.2h0M171.3 255.2h0M175.5 259.6h0M174.2 260.8h0M174.0 272.2h0M174.9 255.0h0M170.8 264.0h0M176.3 262.0h0M173.8 266.8h0M179.9 266.2h0M175.7 259.2h0M172.7 269.6h0M177.0 261.7h0M177.7 263.2h0M180.2 265.4h0M181.0 264.6h0M173.6 260.3h0M172.6 260.5h0M179.5 250.9h0M168.0 265.2h0M178.1 261.4h0M177.9 255.4h0M176.8 259.0h0M167.9 266.0h0M171.2 263.2h0M167.2 255.9h0M179.0 257.1h0M171.7 271.7h0M173.7 251.4h0M177.3 259.5h0M179.2 263.3h0M171.4 265.6h0M173.2 253.7h0M174.8 265.3h0M178.3 260.9h0M177.6 259.0h0M182.0 269.3h0M172.8 268.0h0M170.7 263.2h0M170.5 262.1h0M176.7 253.6h0M175.8 254.7h0M178.7 255.4h0M171.3 266.5h0M167.9 250.5h0M171.3 259.7h0M172.5 250.1h0M179.2 254.8h0M177.4 254.0h0M176.2 265.8h0M174.5 261.2h0M174.8 262.8h0M169.6 258.3h0M177.8 256.6h0M181.3 259.9h0M176.3 263.3h0M170.6 252.3h0M173.1 262.7h0M170.5 258.9h0M176.3 266.1h0M171.9 259.9h0M176.2 258.7h0M179.8 258.4h0M172.7 253.4h0M162.9 261.4h0M179.8 253.3h0M175.0 261.5h0M175.5 262.5h0M187.0 259.2h0M171.0 264.8h0M175.5 258.1h0M171.0 258.0h0M176.8 250.6h0M181.7 256.8h0M173.0 259.8h0M176.7 269.4h0M173.1 251.1h0M171.8 262.2h0M180.2 256.4h0M172.8 261.3h0M171.6 269.0h0M177.6 255.7h0M178.4 266.2h0M177.9 250.7h0M170.0 256.4h0M169.2 260.3h0M177.7 252.8h0M182.4 254.7h0M170.6 254.3h0M176.1 272.3h0M174.7 260.7h0M176.4 259.4h0M182.1 261.6h0M173.6 250.6h0M176.7 261.0h0M176.4 259.1h0M173.5 259.7h0M178.5 258.5h0M178.6 258.2h0M175.6 258.4h0M179.5 256.0h0M172.2 257.3h0M174.6 251.0h0M172.2 257.0h0M177.2 253.3h0M175.6 256.3h0M179.1 250.1h0M179.9 261.2h0M178.5 261.6h0M177.8 254.5h0M177.7 250.2h0M182.3 263.8h0M168.4 261.4h0M178.5 261.1h0M175.6 262.1h0M170.0 259.9h0M173.5 256.8h0M171.4 265.0h0M176.3 250.9h0M177.4 268.4h0M176.2 258.7h0M170.8 258.4h0M172.4 251.7h0M175.0 258.6h0M172.3 255.3h0M171.2 258.9h0M168.3 266.5h0M174.4 264.8h0M178.8 258.4h0M173.7 257.4h0M176.1 255.1h0M169.7 265.6h0M172.5 252.3h0M181.9 258.2h0M173.2 260.9h0M168.3 256.8h0M174.9 258.7h0M175.5 258.4h0M177.8 266.4h0M179.3 252.0h0M173.8 272.9h0M177.5 256.3h0M177.8 261.7h0M179.2 261.2h0M182.5 270.1h0M178.9 256.0h0M175.8 258.6h0M176.5 255.0h0M178.6 262.2h0M170.0 261.9h0M178.9 250.9h0M172.9 255.7h0M179.9 261.6h0M179.8 253.2h0M170.5 250.6h0M173.8 256.9h0M172.8 254.9h0M167.4 262.6h0M178.6 259.0h0M175.7 257.8h0M168.3 254.5h0M178.4 254.7h0M181.6 260.2h0M173.1 262.0h0M173.9 264.1h0M175.9 260.4h0M181.6 263.5h0M178.0 259.8h0M180.1 257.0h0M175.6 254.9h0M175.2 266.7h0M172.5 259.8h0M172.8 254.8h0M174.5 265.1h0M170.6 257.5h0M176.9 253.6h0M185.4 261.2h0M178.8 260.9h0M172.2 253.7h0M174.8 264.9h0M173.7 267.7h0M168.8 263.9h0M184.5 255.3h0M165.2 265.7h0M173.4 265.2h0M174.3 259.6h0M171.5 264.7h0M179.9 255.0h0M172.0 257.8h0M170.8 259.1h0M176.6 257.6h0M175.3 254.6h0M172.8 264.1h0M174.0 250.3h0M185.3 258.8h0M175.6 264.1h0M186.9 256.1h0M171.9 263.0h0M171.9 269.6h0M178.0 262.7h0M181.9 265.4h0M167.3 263.7h0M176.3 264.5h0M170.0 258.2h0M177.3 263.3h0M171.4 257.9h0M175.4 268.1h0M171.4 261.7h0M182.0 260.3h0M178.9 257.4h0M172.4 260.4h0M173.0 253.3h0M171.2 262.7h0M173.3 255.1h0M181.1 255.6h0M169.3 257.3h0M177.5 252.0h0M179.9 252.0h0M173.1 262.4h0M178.7 266.8h0M179.9 259.6h0M186.2 258.7h0M173.2 255.5h0M176.9 258.3h0M173.4 268.9h0M170.4 258.3h0M179.1 262.8h0M181.7 255.5h0M171.2 265.2h0M172.7 259.5h0M167.3 260.3h0M175.8 259.0h0M179.2 253.8h0M172.9 252.9h0M176.6 262.3h0M173.5 262.9h0M171.5 260.5h0M173.3 254.4h0M181.1 260.6h0M181.7 265.4h0M175.1 262.3h0M172.9 252.0h0M167.9 258.6h0M179.2 257.9h0M179.8 261.3h0M171.8 261.4h0M176.7 253.5h0M176.7 256.1h0M177.0 252.4h0M183.6 255.1h0M174.3 261.7h0M180.3 255.8h0M181.4 258.4h0M172.9 269.8h0M174.0 269.9h0M171.1 265.0h0M175.2 268.1h0M173.7 268.3h0M175.5 274.9h0M174.4 271.8h0M172.4 267.3h0M176.7 263.9h0M176.9 264.0h0M175.1 278.6h0M175.0 270.0h0M175.0 274.1h0M173.4 272.3h0M173.3 272.9h0M176.1 269.3h0M173.7 265.8h0M174.1 264.5h0M172.1 274.1h0M179.7 262.0h0M176.0 264.5h0M173.5 273.1h0M178.8 267.8h0M173.2 272.4h0M175.8 269.6h0M171.1 273.1h0M175.2 270.8h0M176.9 263.5h0M170.7 275.6h0M173.9 266.9h0M170.0 272.4h0M174.1 270.5h0M171.8 271.2h0M174.1 259.7h0M173.4 268.1h0M175.8 278.5h0M170.8 274.7h0M175.6 266.5h0M172.6 276.7h0M175.9 275.1h0M172.6 272.2h0M176.6 269.1h0M176.1 271.8h0M177.0 269.1h0M173.2 276.3h0M176.2 270.4h0M171.2 272.6h0M174.7 267.0h0M175.8 278.7h0M175.1 275.8h0M176.7 267.5h0M172.2 280.4h0M175.6 268.2h0M173.3 262.9h0M170.9 264.7h0M174.3 271.4h0M171.4 271.4h0M174.1 268.1h0M170.9 270.7h0M171.9 266.0h0M174.6 269.4h0M175.1 269.2h0M171.4 269.4h0M174.5 264.7h0M171.4 266.0h0M174.9 268.4h0M174.4 263.9h0M174.6 267.7h0M172.4 275.4h0M175.1 276.2h0M174.1 268.1h0M171.7 270.4h0M174.1 275.9h0M173.3 273.8h0M176.4 270.3h0M172.2 268.5h0M174.7 280.3h0M176.0 273.2h0M173.8 264.0h0M172.8 262.1h0M172.1 272.9h0M170.9 268.5h0M175.6 276.6h0M178.9 262.4h0M174.9 263.7h0M173.8 270.6h0M174.5 264.9h0M171.1 275.6h0M172.4 272.8h0M175.7 276.2h0M174.4 257.4h0M175.7 262.0h0M172.1 273.7h0M177.0 263.8h0M173.3 274.8h0M174.6 265.0h0M172.9 280.4h0M176.3 268.6h0M174.4 269.6h0M173.7 274.4h0M172.1 272.2h0M172.4 269.3h0M173.6 284.9h0M178.6 267.9h0M172.0 263.8h0M176.6 275.2h0M171.1 271.1h0M179.1 267.4h0M172.3 267.6h0M176.0 271.3h0M172.6 275.3h0M173.3 274.0h0M173.9 261.9h0M172.2 269.6h0M171.8 268.5h0M172.6 273.3h0M174.9 264.8h0M172.0 269.3h0M176.2 272.2h0M173.8 269.9h0M169.8 271.5h0M177.7 278.3h0M174.9 274.7h0M174.2 263.1h0M169.7 276.4h0M171.9 274.8h0M170.6 265.1h0M171.6 269.6h0M174.2 268.2h0M175.0 274.0h0M177.1 266.5h0M174.0 269.2h0M173.8 274.3h0M173.7 267.2h0M175.7 268.0h0M176.9 275.1h0M171.6 267.3h0M171.4 283.8h0M171.0 268.5h0M174.2 261.4h0M177.5 274.6h0M174.8 270.5h0M175.7 272.2h0M172.8 273.7h0M174.9 279.1h0M173.1 275.5h0M174.8 266.8h0M173.5 275.3h0M174.5 271.3h0M177.0 264.8h0M172.0 267.5h0M174.9 278.9h0M173.8 267.0h0M171.5 274.3h0M176.2 269.3h0M176.8 272.7h0M175.1 265.1h0M174.2 268.8h0M174.6 261.8h0M175.7 278.5h0M177.5 271.5h0M173.4 264.2h0M176.1 268.9h0M174.8 273.0h0M172.5 268.8h0M175.1 264.2h0M173.6 263.3h0M175.5 272.3h0M173.6 273.2h0M173.0 258.2h0M172.9 266.6h0M173.9 266.9h0M175.7 269.6h0M174.8 273.0h0M174.7 275.0h0M172.9 267.5h0M172.3 265.3h0M175.9 266.2h0M174.2 276.3h0M173.8 269.1h0M171.9 273.9h0M178.0 271.8h0M174.2 279.9h0M173.7 262.7h0M176.5 268.0h0M173.5 267.6h0M175.1 276.1h0M176.2 268.7h0M174.5 273.0h0M175.3 259.0h0M174.5 268.5h0M173.3 274.4h0M175.5 274.5h0M176.3 267.9h0M176.2 265.4h0M173.1 267.6h0M176.5 269.1h0M172.2 277.7h0M172.4 267.4h0M171.3 272.2h0M171.1 272.7h0M160.1 259.6h0M154.0 268.2h0M158.4 266.4h0M163.4 262.9h0M163.9 264.6h0M159.5 282.2h0M169.1 269.4h0M152.5 295.8h0M158.8 292.2h0M161.0 259.4h0M161.9 266.4h0M155.0 272.3h0M162.9 269.9h0M160.9 268.9h0M158.8 254.8h0M162.7 273.9h0M166.5 257.2h0M167.1 267.0h0M159.9 267.9h0M165.4 253.4h0M180.7 278.7h0M173.5 266.7h0M158.9 268.4h0M170.0 271.8h0M168.2 273.3h0M155.8 263.8h0M162.1 263.3h0M160.7 261.9h0M159.7 275.8h0M156.2 280.9h0M166.7 263.0h0M162.6 266.9h0M168.7 276.2h0M150.4 283.0h0M167.6 251.1h0M157.8 273.7h0M169.8 265.9h0M163.5 250.4h0M162.2 283.5h0M154.4 256.6h0M160.8 286.5h0M160.3 265.2h0M161.3 273.5h0M158.9 276.6h0M162.5 272.2h0M161.6 268.8h0M167.6 283.4h0M163.7 276.2h0M172.8 266.6h0M158.2 257.0h0M165.3 278.2h0M168.1 277.3h0M162.8 267.0h0M164.3 282.7h0M173.1 279.5h0M165.6 287.1h0M162.4 266.3h0M167.4 265.6h0M154.1 257.8h0M157.1 280.8h0M167.8 262.5h0M166.7 266.9h0M160.9 269.8h0M165.7 263.8h0M169.6 272.0h0M150.0 282.0h0M170.9 265.1h0M154.0 265.8h0M163.8 279.0h0M168.3 277.5h0M167.0 264.2h0M179.7 269.5h0M157.7 274.3h0M163.8 290.2h0M160.7 268.8h0M152.3 271.5h0M165.0 277.4h0M167.4 269.7h0M155.3 289.8h0M169.9 266.0h0M154.0 269.5h0M165.0 258.3h0M167.9 256.5h0M177.2 267.1h0M162.4 275.2h0M148.4 286.0h0M172.4 257.1h0M175.7 264.8h0M154.7 279.1h0M168.7 278.6h0M160.2 270.9h0M153.2 271.7h0M169.2 273.7h0M167.4 263.1h0M174.7 284.7h0M160.5 273.0h0M154.9 264.2h0M158.6 277.6h0M161.9 258.3h0M159.1 261.6h0M166.2 271.8h0M170.3 279.8h0M167.3 275.8h0M167.6 264.0h0M170.9 270.9h0M179.7 286.4h0M167.7 252.5h0M154.3 288.9h0M160.1 255.4h0M164.5 271.7h0M156.5 267.7h0M151.4 296.2h0M165.5 271.0h0M164.0 288.5h0M158.1 255.8h0M171.3 261.8h0M163.7 262.5h0M165.5 275.0h0M171.6 280.1h0M170.4 261.6h0M161.2 258.2h0M150.5 266.5h0M153.3 277.9h0M166.4 273.8h0M161.8 273.1h0M161.9 259.0h0M172.7 272.5h0M156.7 261.4h0M167.0 264.4h0M154.6 276.7h0M169.9 252.5h0M181.8 267.9h0M181.5 260.0h0M172.5 269.7h0M165.6 259.8h0M162.9 263.8h0M165.8 273.2h0M179.0 263.5h0M153.0 274.7h0M159.7 286.1h0M152.3 253.8h0M161.0 267.2h0M158.2 275.0h0M162.8 279.7h0M154.7 277.8h0M160.6 274.1h0M158.1 262.2h0M153.1 256.3h0M163.0 261.3h0M173.6 252.7h0M150.9 272.5h0M164.3 273.0h0M159.7 275.4h0M161.3 271.0h0M163.1 258.2h0M155.9 266.9h0M156.4 278.3h0M162.7 273.6h0M150.9 267.4h0M155.4 271.0h0M158.1 275.3h0M165.1 272.4h0M172.9 254.7h0M160.3 279.4h0M156.8 262.1h0M165.4 281.5h0M152.7 278.5h0M155.1 257.8h0M159.2 272.3h0M161.7 281.6h0M161.0 276.4h0M148.6 279.5h0M163.4 268.7h0M164.7 259.4h0M156.8 289.8h0M172.2 277.4h0M157.8 259.7h0M162.1 256.7h0M161.7 282.8h0M164.4 267.0h0M155.1 262.2h0M162.8 270.3h0M156.4 272.5h0M170.9 251.7h0M152.1 256.1h0M159.2 265.6h0M150.0 275.7h0M156.8 288.9h0M155.3 266.3h0M172.8 256.0h0M156.7 260.0h0M152.3 270.0h0M160.3 291.4h0M158.9 273.4h0M162.8 257.7h0M157.5 278.0h0M157.2 252.5h0M156.1 278.4h0M175.7 274.3h0M159.6 253.3h0M163.7 272.3h0M166.6 272.8h0M172.6 273.3h0M161.3 262.3h0M171.4 274.5h0M159.4 253.6h0M155.1 257.9h0M166.9 266.4h0M150.0 273.7h0M160.3 265.4h0M160.8 276.2h0M166.3 267.8h0M157.4 274.6h0M153.1 251.2h0M154.3 269.4h0M162.7 285.8h0M153.2 257.8h0M162.9 268.7h0M170.9 271.2h0M160.3 265.0h0M157.3 257.6h0M152.7 290.2h0M173.2 271.4h0M183.0 270.0h0M169.1 280.4h0M176.9 269.1h0M154.9 258.7h0M161.4 255.4h0M157.0 282.7h0M172.4 273.3h0M150.1 257.4h0M166.4 269.2h0M151.8 255.7h0M158.7 272.2h0M163.3 283.8h0M160.3 266.3h0M162.2 273.5h0M164.0 273.1h0M170.2 257.2h0M159.8 274.2h0M166.1 279.2h0M159.5 277.1h0M173.7 263.0h0M160.9 277.4h0M161.1 267.5h0M161.4 273.8h0M165.1 282.4h0M169.6 265.3h0M165.1 255.9h0M162.6 259.6h0M155.5 277.8h0M162.5 255.4h0M173.6 260.6h0M162.8 260.1h0M172.0 251.9h0M158.3 276.6h0M169.7 267.5h0M174.6 271.9h0M162.1 262.3h0M153.3 269.2h0M163.1 281.5h0M161.1 256.1h0M148.6 252.8h0M160.0 275.4h0M157.6 263.3h0M171.6 270.1h0M160.9 259.7h0M170.6 273.2h0M159.0 282.9h0M163.7 257.2h0M154.9 277.3h0M167.0 281.9h0M153.1 259.7h0M180.1 253.4h0M151.0 275.9h0M165.3 253.5h0M158.5 267.4h0M156.1 268.6h0M150.9 260.1h0M154.2 282.5h0M153.5 280.3h0M167.5 274.9h0M162.0 280.5h0M155.4 269.1h0M159.9 269.9h0M153.1 273.2h0M158.3 272.8h0M164.4 263.8h0M153.0 264.8h0M156.8 288.5h0M155.8 277.8h0M160.2 252.0h0M176.7 275.4h0M168.8 277.2h0M168.3 282.7h0M155.6 269.5h0M160.8 258.0h0M163.8 254.5h0M157.7 272.5h0M165.6 267.3h0M168.6 276.4h0M166.8 277.0h0M160.0 267.0h0M163.9 271.9h0M151.8 265.6h0M165.1 265.5h0M167.1 262.5h0M151.8 255.0h0M164.3 271.8h0M156.2 270.8h0M158.8 273.2h0M155.9 272.3h0M150.5 285.0h0M150.3 287.7h0M150.7 294.9h0M153.0 292.4h0M155.4 290.3h0M152.5 291.3h0M153.2 290.1h0M153.6 284.8h0M153.2 294.5h0M154.3 283.1h0M151.9 284.6h0M152.6 282.6h0M148.7 286.2h0M154.7 289.8h0M153.3 289.0h0M153.4 290.6h0M152.7 293.0h0M151.1 292.2h0M155.2 283.8h0M153.1 289.3h0M149.3 287.7h0M154.8 291.2h0M158.3 291.6h0M151.3 284.9h0M154.7 284.7h0M154.4 295.6h0M152.4 279.2h0M156.2 294.3h0M151.2 291.7h0M157.0 294.5h0M154.4 280.2h0M155.9 287.6h0M152.9 286.5h0M153.9 292.4h0M149.3 288.7h0M156.3 287.8h0M154.8 282.8h0M155.9 290.6h0M155.8 290.0h0M148.4 288.6h0M153.5 290.7h0M150.3 287.3h0M157.1 287.2h0M156.5 289.8h0M154.3 284.3h0M156.9 284.5h0M156.0 292.9h0M160.2 292.3h0M152.2 285.9h0M154.4 285.3h0M155.9 288.0h0M150.1 292.4h0M156.2 290.3h0M148.6 286.3h0M152.5 290.6h0M156.9 287.9h0M153.0 285.4h0M152.1 295.2h0M153.8 286.2h0M156.9 291.8h0M155.2 287.5h0M150.9 286.0h0M158.0 285.0h0M150.9 291.0h0M156.6 294.3h0M153.4 293.0h0M151.3 293.2h0M156.2 288.5h0M152.9 292.8h0M152.6 292.0h0M156.6 292.5h0M152.1 284.0h0M154.1 283.7h0M158.9 291.3h0M152.4 282.9h0M157.9 287.3h0M154.8 290.4h0M151.7 291.2h0M154.5 293.0h0M152.0 292.5h0M152.0 289.0h0M154.9 289.8h0M148.6 294.0h0M150.2 284.1h0M155.6 283.5h0M151.6 288.1h0M159.6 294.9h0M152.6 293.5h0M149.5 290.2h0M157.9 282.7h0M154.6 290.5h0M153.6 288.5h0M153.5 289.0h0M150.8 292.0h0M152.7 295.8h0M154.7 293.0h0M149.8 293.6h0M152.5 291.0h0M148.5 293.3h0M151.5 290.1h0M149.5 290.0h0M152.7 281.2h0M153.6 287.6h0M154.8 287.1h0M157.8 287.6h0M148.4 290.2h0M156.4 291.3h0M153.8 285.2h0M153.4 285.3h0M156.1 291.4h0M155.9 291.9h0M158.0 296.5h0M148.6 292.4h0M151.8 288.8h0M155.2 283.8h0M153.0 290.1h0M151.3 287.9h0M154.3 286.8h0M157.3 290.0h0M155.7 287.4h0M149.8 285.3h0M152.8 286.8h0M155.0 292.3h0M155.9 290.8h0M154.6 297.2h0M152.0 289.5h0M155.0 287.8h0M150.2 289.4h0M152.8 289.3h0M149.9 286.7h0M151.5 295.0h0M155.8 289.8h0M152.5 288.7h0M152.4 285.6h0M149.3 290.5h0M156.3 289.6h0M149.0 286.7h0M153.6 287.3h0M156.2 290.7h0M155.7 286.8h0M154.5 283.7h0M155.4 286.8h0M153.7 290.6h0M150.6 285.9h0M153.3 284.2h0M149.4 288.5h0M158.5 285.5h0M156.1 288.3h0M151.0 292.9h0M157.2 290.4h0M156.0 282.9h0M153.4 289.1h0M157.7 285.5h0M153.9 290.7h0M156.2 291.4h0M154.5 293.0h0M151.1 291.3h0M149.0 289.1h0M155.3 291.3h0M152.7 283.5h0M153.7 285.5h0M153.5 296.4h0M156.3 293.2h0M153.8 283.0h0M152.1 286.1h0M153.8 282.9h0M153.2 294.5h0M152.1 293.5h0M152.3 288.2h0M154.4 292.9h0M156.3 287.1h0M155.6 291.4h0M151.4 286.5h0M152.1 283.8h0M149.9 287.7h0M155.9 283.1h0M153.0 285.0h0M156.0 282.0h0M152.4 287.5h0M153.2 288.8h0M153.9 289.9h0M150.6 287.9h0M151.3 286.6h0M153.1 291.2h0M153.6 292.7h0M154.0 285.2h0M150.4 290.4h0M150.0 286.0h0M155.2 286.0h0M150.5 292.6h0M153.7 285.6h0M151.5 289.1h0M154.4 290.5h0M154.2 289.3h0M156.1 291.1h0M158.3 289.3h0M150.2 288.9h0M157.3 286.7h0M152.0 285.2h0M153.8 287.6h0M153.8 289.0h0M151.9 286.4h0M157.6 287.3h0M150.8 285.5h0M149.1 286.2h0M154.9 285.4h0M153.1 291.9h0M151.8 288.2h0M158.7 284.3h0M151.7 286.7h0M151.9 289.8h0M149.5 288.9h0M154.2 286.2h0M156.0 287.9h0M154.6 287.2h0M159.9 295.0h0M150.8 282.8h0M154.7 290.2h0M152.4 282.7h0M152.2 291.7h0M152.0 287.0h0M153.3 290.5h0M151.5 289.6h0M153.7 281.6h0M152.6 292.8h0M155.0 289.1h0M151.1 284.7h0M153.8 286.2h0M154.4 289.2h0M149.9 292.6h0M156.9 292.8h0M152.1 289.8h0M153.2 281.1h0M153.1 284.4h0M149.9 292.8h0M158.3 285.4h0M149.0 288.9h0M151.6 289.5h0M151.9 292.8h0M157.1 287.8h0M153.3 288.1h0M153.4 290.0h0M155.1 289.5h0M155.6 289.6h0M153.9 288.2h0M155.8 294.4h0M154.3 285.2h0M151.6 292.4h0M151.3 288.3h0M153.4 287.8h0M150.0 285.4h0M153.0 290.0h0M153.6 290.1h0M155.0 289.8h0M154.6 288.5h0M153.8 290.2h0M160.1 280.8h0M154.9 287.6h0M151.5 286.9h0M154.0 291.9h0M163.1 292.3h0M151.2 291.2h0M151.9 290.5h0M152.1 282.3h0M157.8 286.0h0M152.8 288.2h0M158.9 291.9h0M155.0 288.5h0M152.9 293.5h0M153.3 292.9h0M155.7 290.5h0M148.1 289.1h0M152.6 287.5h0M151.8 295.6h0M154.7 291.4h0M155.5 283.7h0M156.9 290.3h0M153.9 286.0h0M152.6 293.1h0M154.3 296.3h0M154.4 291.7h0M153.8 289.9h0M151.2 287.2h0M157.0 285.1h0M153.3 291.5h0M150.9 289.7h0M158.4 289.4h0M151.5 289.5h0M157.3 288.3h0M154.4 288.5h0M149.9 287.0h0M152.4 290.8h0M155.7 288.2h0M153.1 288.6h0M155.0 288.3h0M155.2 294.9h0M151.0 291.2h0M150.4 291.3h0M151.2 298.0h0M153.5 287.6h0M155.3 286.9h0M156.0 289.4h0M155.3 290.9h0M154.4 284.2h0M151.5 288.5h0M156.4 286.5h0M153.1 287.0h0M157.4 280.9h0M153.4 285.6h0M153.8 291.7h0M158.6 292.7h0M157.8 295.9h0M151.8 288.3h0M168.7 294.2h0M155.3 291.9h0M166.6 288.9h0M160.6 288.9h0M164.9 290.8h0M160.9 285.2h0M157.0 296.4h0M159.5 286.5h0M162.6 292.6h0M149.4 295.7h0M169.7 285.5h0M161.4 287.6h0M160.0 287.3h0M165.8 295.3h0M160.3 293.5h0M159.2 290.9h0M162.8 292.6h0M164.9 286.4h0M152.1 289.7h0M162.2 290.1h0M155.6 295.5h0M161.0 285.4h0M154.7 287.9h0M166.9 290.9h0M162.9 291.7h0M169.3 288.4h0M161.8 290.7h0M156.7 289.5h0M162.7 289.8h0M156.3 288.2h0M157.9 290.7h0M166.9 290.2h0M167.7 291.1h0M153.0 295.5h0M162.1 293.4h0M155.2 291.6h0M173.6 291.7h0M163.9 293.0h0M158.5 294.5h0M178.5 294.6h0M173.5 291.0h0M156.6 286.0h0M163.9 285.7h0M159.4 290.4h0M159.0 287.9h0M156.2 292.1h0M172.5 295.7h0M162.7 292.8h0M170.3 290.4h0M162.9 286.3h0M156.6 291.7h0M159.1 285.2h0M164.7 291.7h0M165.8 291.8h0M156.8 294.8h0M161.6 291.3h0M156.3 294.2h0M168.9 288.3h0M173.9 291.4h0M164.9 291.9h0M161.2 286.3h0M167.4 290.2h0M152.9 291.0h0M155.0 296.0h0M158.7 286.0h0M155.9 291.9h0M157.8 286.1h0M167.6 289.3h0M173.0 295.5h0M169.7 289.6h0M165.5 291.4h0M157.0 291.9h0M161.1 286.5h0M160.7 292.9h0M173.9 292.8h0M166.7 289.5h0M161.6 296.5h0M161.5 295.3h0M162.2 293.0h0M160.6 286.3h0M161.9 287.1h0M162.6 292.5h0M175.8 292.4h0M158.3 295.3h0M172.1 269.5h0M173.0 253.1h0M153.7 256.9h0M151.7 285.2h0M181.0 297.7h0M165.9 263.8h0M176.4 264.0h0M178.8 282.7h0M178.5 266.5h0M171.3 273.1h0M167.4 293.4h0M172.6 289.3h0M150.1 276.5h0M170.7 272.4h0M159.8 287.7h0M175.8 291.6h0M149.4 267.7h0M181.0 280.5h0M168.2 286.4h0M162.3 261.6h0M166.0 269.9h0M170.0 259.6h0M175.4 274.7h0M179.3 270.1h0M158.4 279.4h0M170.6 284.2h0M163.9 258.7h0M159.3 262.8h0M168.5 272.5h0M174.4 274.7h0M166.4 257.4h0M150.9 267.7h0M154.6 257.0h0M158.6 280.3h0M167.1 262.9h0M153.0 276.8h0M181.7 283.5h0M170.2 263.2h0M152.4 295.4h0M168.4 287.4h0" stroke="#000" stroke-width="0.6" stroke-linecap="round" fill="none"/>
</g>
<path d="M173.0 248.5V299.6M146.5 283H199.0" stroke="#000" stroke-width="1.4" fill="none"/>
<rect x="146.5" y="248.5" width="52.5" height="51.10000000000002" fill="none" stroke="#000" stroke-width="1.6"/>
<text x="150.9" y="257.9" font-size="5.6" font-weight="bold" stroke="#fff" stroke-width="0.5" paint-order="stroke" stroke-linejoin="round">26</text>
<text x="191.8" y="278.6" font-size="5.6" font-weight="bold" stroke="#fff" stroke-width="0.5" paint-order="stroke" stroke-linejoin="round">59</text>
<text x="165.6" y="297.6" font-size="5.6" font-weight="bold" stroke="#fff" stroke-width="0.5" paint-order="stroke" stroke-linejoin="round">15</text>
<rect x="209.8" y="248.5" width="50.89999999999998" height="51.10000000000002" fill="#fff" stroke="none"/>
<clipPath id="k13"><rect x="209.8" y="248.5" width="50.89999999999998" height="51.10000000000002"/></clipPath><g clip-path="url(#k13)">
<ellipse cx="238.3" cy="253.1" rx="7.6" ry="5.1" transform="rotate(-10 238.3 253.1)" fill="url(#rg)" opacity="0.4"/>
<ellipse cx="216.4" cy="288.9" rx="6.6" ry="5.6" transform="rotate(0 216.4 288.9)" fill="url(#rg)" opacity="0.3"/>
<path d="M250.3 253.9h0M232.7 253.9h0M228.4 255.9h0M243.5 252.8h0M238.5 251.0h0M226.4 253.0h0M234.3 253.0h0M238.6 254.4h0M242.5 250.7h0M241.5 257.2h0M233.3 253.6h0M229.4 259.2h0M237.4 253.8h0M241.3 255.3h0M245.1 253.0h0M243.4 254.5h0M236.5 255.1h0M234.5 255.0h0M244.9 251.7h0M241.7 250.4h0M234.8 255.7h0M235.9 253.2h0M240.1 252.3h0M225.5 254.5h0M242.0 256.8h0M236.1 253.7h0M232.4 259.2h0M231.2 254.8h0M233.5 255.9h0M239.4 253.8h0M234.5 255.4h0M245.0 253.6h0M240.1 250.8h0M236.1 253.2h0M244.3 251.2h0M247.7 254.5h0M245.6 252.2h0M243.9 251.8h0M236.9 255.3h0M242.6 251.7h0M240.6 251.7h0M249.1 250.4h0M237.9 254.6h0M245.7 253.1h0M234.3 253.5h0M232.6 255.3h0M241.3 252.6h0M232.4 253.3h0M238.0 256.8h0M234.7 252.0h0M239.4 254.3h0M240.5 252.2h0M238.7 253.5h0M242.3 254.7h0M230.5 253.1h0M236.4 252.7h0M231.3 256.0h0M236.1 253.4h0M224.3 255.4h0M224.2 256.1h0M233.6 253.0h0M241.1 253.9h0M229.3 256.6h0M234.6 252.2h0M243.4 250.2h0M245.5 253.7h0M241.4 257.9h0M235.2 254.6h0M234.5 254.5h0M227.7 252.4h0M234.0 253.1h0M241.9 252.7h0M233.3 254.4h0M231.0 252.8h0M230.6 258.3h0M244.8 250.3h0M246.6 255.8h0M243.5 255.3h0M235.8 251.1h0M236.9 255.9h0M240.9 253.6h0M234.4 253.4h0M236.7 251.8h0M239.9 252.8h0M238.8 254.9h0M252.2 250.4h0M235.0 255.2h0M237.4 256.5h0M227.6 257.6h0M243.4 250.4h0M234.0 251.0h0M239.8 252.3h0M233.5 257.5h0M241.1 253.6h0M237.9 253.8h0M236.1 251.5h0M238.3 250.7h0M241.9 255.1h0M236.4 255.0h0M244.8 251.5h0M233.5 254.7h0M237.4 250.9h0M237.8 253.8h0M229.9 256.0h0M234.8 256.3h0M244.3 251.1h0M241.8 253.5h0M235.5 253.4h0M236.8 252.7h0M236.5 252.9h0M240.5 251.0h0M242.1 257.8h0M243.7 251.4h0M232.6 254.7h0M232.5 252.2h0M245.1 252.3h0M240.5 254.4h0M237.0 255.3h0M236.5 253.3h0M236.0 252.0h0M238.0 252.5h0M228.5 258.5h0M240.7 252.5h0M235.8 251.5h0M244.8 251.6h0M232.8 260.1h0M237.1 254.9h0M242.1 257.8h0M235.6 253.7h0M236.1 251.3h0M233.3 252.8h0M231.3 252.3h0M235.6 256.3h0M236.6 251.7h0M239.5 253.6h0M244.5 251.2h0M235.0 255.4h0M237.2 253.0h0M234.2 258.5h0M249.3 251.6h0M237.0 257.9h0M231.1 252.6h0M242.5 255.6h0M243.2 251.1h0M233.7 255.0h0M241.6 253.2h0M246.0 252.5h0M234.9 255.7h0M235.4 253.6h0M238.5 259.3h0M245.7 252.9h0M236.8 252.3h0M238.1 255.2h0M234.1 252.4h0M238.2 254.6h0M230.7 251.6h0M238.8 253.6h0M235.3 254.8h0M237.5 253.9h0M233.4 254.6h0M241.4 253.6h0M242.0 256.4h0M232.6 253.4h0M234.3 256.1h0M239.4 255.6h0M240.4 253.5h0M240.3 254.8h0M242.7 253.4h0M239.2 252.1h0M231.8 253.7h0M234.9 255.2h0M241.8 253.8h0M234.6 253.7h0M240.2 254.9h0M241.1 254.3h0M238.5 255.3h0M232.8 255.1h0M240.3 256.6h0M234.3 255.2h0M235.1 252.0h0M231.4 257.2h0M241.0 254.8h0M235.6 254.0h0M239.2 251.0h0M240.8 256.3h0M241.5 252.3h0M234.5 255.9h0M238.3 252.2h0M241.2 253.1h0M233.6 251.9h0M234.6 255.5h0M238.9 252.3h0M233.2 254.1h0M237.7 254.9h0M239.5 253.5h0M239.5 250.9h0M236.6 254.4h0M242.7 253.4h0M232.7 254.0h0M239.0 257.3h0M231.1 253.4h0M236.8 253.6h0M239.8 255.6h0M251.2 252.2h0M248.8 254.7h0M237.5 255.2h0M240.5 254.1h0M240.6 252.7h0M238.7 253.7h0M231.2 254.1h0M239.1 254.8h0M231.8 254.2h0M235.6 254.4h0M235.2 250.6h0M240.9 250.5h0M234.4 254.1h0M236.8 252.9h0M244.4 255.3h0M239.6 253.2h0M235.8 256.9h0M236.3 254.7h0M227.8 254.9h0M246.4 254.8h0M241.4 254.3h0M231.4 254.6h0M249.6 252.4h0M239.7 251.7h0M225.9 257.1h0M241.7 254.3h0M236.9 255.5h0M238.9 254.0h0M232.7 252.7h0M231.5 255.0h0M241.8 253.2h0M236.0 254.8h0M237.7 252.2h0M250.1 253.6h0M234.6 254.2h0M238.3 257.3h0M236.3 251.1h0M235.6 253.9h0M241.2 252.9h0M234.0 255.7h0M237.3 253.3h0M239.9 253.3h0M232.0 254.3h0M237.4 254.6h0M238.2 255.0h0M237.1 253.3h0M240.2 250.9h0M236.6 255.3h0M244.5 251.7h0M234.5 256.2h0M241.0 253.1h0M232.8 255.6h0M244.7 254.8h0M230.7 252.4h0M246.1 254.6h0M230.5 253.7h0M240.3 252.9h0M238.4 251.8h0M233.2 253.9h0M230.4 253.4h0M233.8 254.7h0M236.3 250.9h0M236.4 253.4h0M237.5 253.9h0M245.3 252.6h0M240.8 257.2h0M240.6 251.2h0M235.6 253.7h0M236.5 254.2h0M234.1 250.4h0M231.4 251.7h0M243.3 253.3h0M242.9 252.7h0M236.9 251.2h0M242.3 252.1h0M243.6 254.5h0M234.7 250.1h0M241.3 253.4h0M229.2 256.8h0M230.6 254.0h0M236.9 251.9h0M239.2 254.1h0M240.8 251.0h0M236.1 255.7h0M242.1 253.7h0M237.0 252.3h0M237.2 254.4h0M237.9 251.3h0M239.0 254.0h0M239.7 254.8h0M241.2 251.5h0M238.1 254.1h0M240.2 255.0h0M235.6 252.8h0M240.1 254.1h0M239.5 251.3h0M241.1 251.0h0M234.9 255.9h0M238.0 253.5h0M238.1 252.5h0M235.7 252.7h0M237.0 254.0h0M242.3 251.3h0M233.2 256.1h0M239.7 254.5h0M230.5 254.2h0M241.1 256.6h0M237.9 255.7h0M237.6 256.5h0M236.1 255.6h0M238.9 252.1h0M235.4 256.2h0M237.4 252.2h0M232.8 254.7h0M238.8 254.8h0M237.6 253.0h0M242.8 253.0h0M238.1 252.0h0M234.2 255.0h0M239.5 250.3h0M241.9 253.9h0M234.4 255.5h0M238.9 252.2h0M231.3 252.2h0M226.8 257.5h0M245.4 251.7h0M238.1 252.9h0M240.2 257.0h0M228.4 254.3h0M241.4 252.4h0M239.3 251.5h0M234.2 253.4h0M240.0 253.3h0M230.0 255.1h0M240.6 253.9h0M234.7 251.0h0M236.5 254.9h0M239.6 255.7h0M235.1 252.3h0M237.8 251.8h0M240.4 256.0h0M246.7 252.0h0M228.4 257.0h0M234.5 255.6h0M232.1 255.5h0M236.9 254.6h0M236.1 256.9h0M227.1 254.3h0M244.6 253.4h0M234.1 258.3h0M244.1 250.7h0M245.5 250.1h0M246.2 250.7h0M243.5 252.1h0M235.4 253.9h0M235.9 256.2h0M241.7 254.1h0M240.9 262.6h0M233.7 264.8h0M241.8 261.8h0M239.7 262.5h0M232.3 262.4h0M236.5 257.8h0M241.3 268.2h0M234.8 277.4h0M239.6 262.1h0M238.6 267.6h0M241.2 279.2h0M233.8 268.1h0M234.5 256.3h0M232.6 264.0h0M240.2 272.9h0M238.5 260.6h0M239.0 262.9h0M234.8 255.8h0M239.7 260.7h0M243.9 269.7h0M233.6 270.5h0M239.8 263.9h0M237.2 265.3h0M236.5 263.7h0M233.9 270.7h0M241.2 277.1h0M240.0 265.3h0M240.8 255.8h0M236.7 270.5h0M235.1 264.3h0M236.0 259.5h0M236.3 265.0h0M239.8 264.5h0M235.0 261.9h0M232.5 263.9h0M238.3 274.9h0M242.9 260.7h0M240.3 270.3h0M233.5 263.5h0M234.3 260.8h0M239.7 274.0h0M238.7 258.3h0M241.8 271.7h0M237.6 262.2h0M235.0 258.8h0M239.9 275.2h0M234.0 272.9h0M232.8 276.4h0M240.8 267.7h0M238.9 258.1h0M238.1 270.9h0M234.4 256.0h0M239.7 268.7h0M238.6 276.4h0M243.7 271.4h0M235.3 265.5h0M234.8 266.3h0M236.4 257.1h0M236.5 265.1h0M237.1 261.2h0M232.2 259.7h0M235.3 266.5h0M242.2 254.3h0M236.6 258.0h0M242.3 263.2h0M241.4 266.8h0M238.5 268.8h0M238.9 275.1h0M236.7 266.5h0M238.8 258.8h0M243.5 262.5h0M240.6 259.5h0M242.7 270.9h0M235.5 263.8h0M235.7 272.0h0M242.5 268.8h0M242.1 257.7h0M236.0 266.7h0M235.7 271.6h0M239.3 259.6h0M236.9 257.3h0M238.7 258.7h0M241.2 262.3h0M238.2 261.7h0M237.2 268.4h0M242.0 269.5h0M237.8 255.9h0M236.6 259.2h0M233.6 266.3h0M245.7 273.9h0M238.9 266.5h0M240.1 276.0h0M241.8 266.1h0M240.4 273.2h0M233.4 269.9h0M240.3 262.8h0M241.1 261.6h0M234.0 266.2h0M236.8 261.3h0M242.4 262.0h0M237.1 258.6h0M234.6 265.3h0M240.1 265.6h0M240.5 264.3h0M234.1 267.2h0M237.3 271.9h0M235.9 261.7h0M232.0 257.0h0M242.2 262.4h0M233.6 262.4h0M237.0 259.6h0M238.1 261.3h0M234.8 257.8h0M238.5 260.7h0M238.2 268.8h0M240.8 260.9h0M236.2 264.6h0M241.3 258.4h0M237.2 267.6h0M235.8 282.7h0M237.8 255.0h0M236.4 276.7h0M232.2 259.4h0M238.2 275.6h0M235.8 261.7h0M246.1 270.9h0M240.4 267.0h0M231.8 277.3h0M236.4 257.7h0M238.3 265.7h0M244.3 261.1h0M236.9 254.7h0M241.9 258.7h0M234.1 259.0h0M236.4 271.4h0M233.5 253.2h0M234.1 264.0h0M240.8 273.6h0M242.5 272.3h0M235.3 267.2h0M234.4 262.1h0M242.9 265.5h0M238.4 268.2h0M230.9 268.6h0M239.5 269.7h0M235.7 267.0h0M236.0 267.9h0M239.8 270.4h0M243.4 276.0h0M242.6 254.0h0M233.4 262.8h0M241.5 266.1h0M237.1 265.2h0M229.4 269.4h0M230.5 266.8h0M236.8 271.2h0M238.1 268.7h0M250.8 257.6h0M236.1 256.7h0M236.7 262.9h0M241.1 261.7h0M234.4 266.7h0M237.6 276.9h0M241.5 270.1h0M237.2 258.6h0M231.7 258.2h0M236.4 262.1h0M241.9 258.9h0M235.6 270.6h0M237.4 259.6h0M244.3 268.8h0M236.8 279.7h0M240.7 264.0h0M241.7 264.5h0M244.5 260.0h0M236.1 270.4h0M245.3 266.9h0M234.7 270.4h0M238.0 279.1h0M244.2 262.1h0M236.7 255.7h0M230.1 255.3h0M235.8 262.2h0M239.7 261.0h0M248.7 261.5h0M234.9 269.9h0M233.0 267.0h0M237.0 259.9h0M241.5 254.2h0M239.2 257.5h0M246.2 268.5h0M238.4 250.5h0M243.5 265.2h0M238.1 275.5h0M243.4 274.9h0M244.9 265.2h0M235.2 258.2h0M239.2 262.8h0M237.8 257.5h0M241.3 276.3h0M236.3 271.4h0M234.4 268.1h0M240.9 268.9h0M239.5 251.2h0M238.0 261.2h0M238.8 281.8h0M236.8 257.0h0M237.7 263.9h0M239.0 265.4h0M238.8 272.1h0M231.2 256.0h0M245.0 264.8h0M239.3 277.3h0M235.6 257.6h0M238.1 272.3h0M238.0 254.0h0M246.2 272.5h0M238.8 262.4h0M238.8 260.2h0M243.4 266.1h0M235.9 277.8h0M244.7 255.2h0M240.3 266.2h0M240.6 270.7h0M240.8 267.6h0M240.2 268.6h0M236.8 251.3h0M232.7 266.1h0M240.6 271.7h0M243.2 274.7h0M236.8 258.6h0M237.2 274.6h0M240.1 255.4h0M240.7 266.3h0M242.2 262.3h0M234.3 273.1h0M238.7 275.1h0M241.1 267.0h0M240.5 264.0h0M237.1 277.6h0M236.6 266.2h0M237.8 266.3h0M232.5 266.9h0M246.9 266.7h0M248.2 273.4h0M238.7 264.4h0M238.5 263.6h0M236.8 256.2h0M231.7 271.9h0M240.7 257.9h0M239.3 270.7h0M241.1 260.1h0M243.4 265.0h0M237.1 271.3h0M241.1 273.4h0M237.7 265.1h0M232.4 269.1h0M234.3 264.0h0M237.5 256.5h0M236.7 253.1h0M239.7 268.9h0M236.9 265.9h0M236.5 263.7h0M238.3 273.9h0M244.2 267.5h0M239.2 255.8h0M237.0 255.9h0M235.6 265.9h0M241.8 264.3h0M238.2 268.9h0M233.0 275.0h0M240.2 264.2h0M238.9 260.6h0M241.0 261.0h0M240.5 262.9h0M234.0 254.5h0M241.2 270.1h0M234.0 263.9h0M237.3 255.7h0M236.6 265.4h0M236.6 268.1h0M235.2 282.8h0M234.9 261.8h0M242.7 264.4h0M227.6 254.9h0M234.4 262.5h0M240.0 270.3h0M231.7 259.6h0M234.8 275.2h0M232.9 270.5h0M232.1 268.5h0M236.8 255.6h0M239.8 263.0h0M229.9 268.8h0M240.3 259.0h0M237.6 270.3h0M235.0 260.6h0M228.1 267.8h0M222.3 275.6h0M235.0 261.7h0M216.0 268.8h0M227.1 265.7h0M220.0 267.8h0M227.0 261.8h0M229.5 283.0h0M229.6 265.6h0M232.8 282.9h0M227.0 260.8h0M219.9 263.8h0M229.0 276.4h0M227.4 272.5h0M228.9 272.2h0M226.9 274.0h0M218.4 271.3h0M227.1 261.5h0M225.0 283.0h0M223.3 279.2h0M220.0 261.6h0M225.0 264.0h0M220.9 281.9h0M219.3 263.1h0M218.2 266.1h0M216.0 268.2h0M213.6 265.5h0M226.4 270.6h0M235.1 261.7h0M222.5 268.1h0M224.0 273.7h0M224.4 261.7h0M221.3 271.2h0M218.1 273.8h0M221.8 275.9h0M236.2 270.0h0M230.8 272.0h0M230.0 284.0h0M235.5 269.2h0M232.4 278.2h0M219.9 266.6h0M232.7 262.3h0M227.2 267.0h0M222.4 289.8h0M225.9 273.2h0M213.1 259.8h0M228.8 258.3h0M214.5 256.3h0M219.3 270.5h0M219.5 272.2h0M230.2 262.9h0M233.2 283.6h0M224.7 251.7h0M214.2 278.2h0M221.4 263.1h0M219.2 267.5h0M224.2 272.6h0M223.4 269.1h0M229.0 264.6h0M230.4 251.4h0M227.3 266.0h0M225.9 268.2h0M235.3 272.0h0M219.8 282.9h0M215.1 254.3h0M219.3 281.1h0M230.0 269.4h0M222.7 261.2h0M233.1 251.1h0M237.2 285.1h0M216.6 260.1h0M226.5 289.4h0M229.2 260.4h0M223.4 265.8h0M228.9 275.6h0M226.7 257.7h0M220.4 278.5h0M225.0 278.4h0M225.7 281.9h0M227.0 273.1h0M216.9 259.0h0M218.4 285.2h0M226.0 279.0h0M224.7 264.4h0M233.8 286.7h0M226.9 261.9h0M211.5 277.2h0M222.4 278.9h0M227.1 277.0h0M217.2 256.4h0M230.7 255.8h0M222.6 269.1h0M227.6 271.6h0M216.8 276.8h0M224.5 267.6h0M229.1 259.6h0M236.5 269.9h0M233.2 266.2h0M227.8 294.2h0M234.6 268.1h0M231.0 261.5h0M229.2 275.9h0M233.2 258.1h0M221.5 265.6h0M212.2 269.4h0M220.8 275.0h0M231.4 268.9h0M220.9 269.0h0M218.6 264.3h0M229.0 276.1h0M227.3 267.7h0M226.0 256.8h0M226.2 271.9h0M220.7 269.9h0M235.9 257.7h0M217.1 265.4h0M234.6 285.2h0M215.8 258.9h0M229.3 269.6h0M219.6 270.0h0M219.6 257.5h0M220.1 254.4h0M221.8 275.0h0M237.1 268.8h0M216.7 263.0h0M224.6 264.5h0M229.9 259.9h0M226.0 292.4h0M212.9 268.5h0M219.6 260.0h0M234.5 262.1h0M211.8 272.4h0M217.7 255.7h0M219.1 260.3h0M235.1 265.2h0M227.4 256.5h0M227.3 263.0h0M224.8 278.6h0M216.7 267.9h0M230.6 266.8h0M226.1 266.7h0M219.4 283.8h0M231.8 257.9h0M220.7 257.4h0M215.2 262.7h0M228.2 256.3h0M221.6 277.2h0M220.6 277.2h0M229.8 262.0h0M217.4 270.7h0M220.0 272.6h0M234.4 269.0h0M234.2 251.4h0M239.6 284.9h0M235.3 260.9h0M219.2 256.6h0M225.7 285.0h0M233.4 269.4h0M223.3 263.9h0M228.7 274.7h0M241.6 257.3h0M223.7 274.9h0M220.6 273.5h0M222.6 263.8h0M220.4 261.6h0M229.4 261.2h0M211.5 261.9h0M234.9 281.0h0M218.9 281.8h0M229.1 276.5h0M225.1 257.1h0M228.1 268.0h0M219.3 258.9h0M237.8 267.6h0M229.3 270.2h0M227.8 280.6h0M221.3 277.4h0M229.1 274.7h0M228.8 265.4h0M212.9 288.1h0M222.2 264.0h0M224.0 271.4h0M226.9 270.7h0M225.8 262.0h0M231.8 273.5h0M243.2 273.7h0M237.9 259.2h0M225.2 275.2h0M232.4 285.1h0M229.6 273.2h0M227.0 263.7h0M226.6 287.7h0M214.5 276.8h0M230.5 277.6h0M236.5 275.6h0M231.0 267.9h0M221.5 256.8h0M230.6 264.3h0M215.3 265.5h0M220.4 268.3h0M223.5 268.8h0M226.4 275.0h0M212.7 270.4h0M237.7 259.5h0M221.7 268.8h0M235.0 258.0h0M227.1 253.4h0M229.9 259.8h0M229.6 262.6h0M240.7 289.4h0M219.4 259.8h0M224.0 266.9h0M223.9 269.4h0M213.4 274.8h0M233.8 273.6h0M234.8 274.1h0M230.7 268.3h0M212.8 271.7h0M228.1 260.5h0M233.3 289.1h0M219.6 276.0h0M228.4 260.9h0M229.0 269.0h0M227.9 269.7h0M232.0 269.1h0M222.6 266.5h0M222.5 266.0h0M224.7 253.7h0M226.3 260.8h0M226.4 276.6h0M220.1 268.0h0M223.6 277.1h0M225.4 266.8h0M226.7 275.9h0M220.5 259.5h0M236.5 261.4h0M227.4 263.9h0M227.4 265.8h0M221.4 268.2h0M225.3 256.3h0M226.9 252.1h0M230.8 269.8h0M218.9 261.7h0M235.6 265.2h0M218.9 285.3h0M237.7 263.6h0M219.0 261.9h0M221.1 252.5h0M220.9 275.1h0M229.2 265.9h0M235.2 260.6h0M225.0 271.0h0M233.8 256.9h0M221.3 289.0h0M225.7 279.6h0M217.4 265.1h0M243.3 269.2h0M225.5 269.0h0M221.4 263.7h0M223.5 285.4h0M225.5 273.8h0M220.8 254.9h0M220.7 283.6h0M225.4 261.2h0M212.8 270.8h0M214.9 272.1h0M231.1 280.0h0M227.8 259.2h0M225.9 263.8h0M217.8 259.8h0M230.1 264.8h0M231.6 279.4h0M235.6 262.3h0M226.4 262.3h0M228.6 267.9h0M225.8 250.8h0M221.4 278.6h0M225.7 271.5h0M230.7 268.8h0M221.1 285.9h0M221.9 296.8h0M230.6 268.4h0M214.7 291.5h0M213.5 289.9h0M216.6 292.2h0M218.6 285.9h0M213.6 287.9h0M216.5 290.4h0M218.3 287.8h0M213.1 287.2h0M214.7 286.0h0M216.5 293.1h0M215.6 285.6h0M217.6 288.1h0M219.3 287.0h0M217.2 287.8h0M218.0 285.2h0M215.0 292.4h0M212.9 285.8h0M214.9 288.9h0M212.9 294.1h0M216.6 290.0h0M213.4 295.2h0M218.3 287.5h0M220.8 289.6h0M216.7 280.8h0M218.1 287.0h0M220.3 293.1h0M220.6 290.4h0M213.4 290.2h0M216.9 289.5h0M217.8 288.6h0M218.3 286.2h0M215.9 290.4h0M213.8 284.4h0M218.7 289.0h0M212.4 291.6h0M211.6 287.3h0M213.5 287.5h0M214.9 290.3h0M216.7 285.9h0M216.9 288.5h0M218.0 284.8h0M220.1 291.6h0M219.3 290.2h0M213.9 290.2h0M216.8 286.7h0M216.1 291.7h0M212.9 291.1h0M218.5 288.6h0M214.9 284.3h0M212.2 289.2h0M217.3 286.6h0M217.6 284.6h0M217.5 291.2h0M219.6 288.8h0M214.2 289.3h0M215.0 290.1h0M214.5 285.4h0M220.7 283.9h0M216.1 290.9h0M215.8 286.1h0M215.0 290.1h0M218.8 288.7h0M215.3 289.3h0M215.0 289.6h0M222.3 288.7h0M216.5 284.7h0M217.1 284.5h0M215.2 290.2h0M213.0 282.4h0M216.4 289.2h0M216.6 290.8h0M219.8 285.1h0M216.5 283.8h0M219.3 285.5h0M212.3 285.2h0M216.6 291.4h0M223.8 290.1h0M214.2 286.6h0M220.1 287.8h0M217.5 288.8h0M216.3 289.0h0M219.0 292.5h0M212.9 291.2h0M218.8 289.2h0M218.6 291.4h0M218.6 287.9h0M218.1 291.4h0M217.9 289.7h0M212.0 285.8h0M215.8 289.4h0M219.3 291.3h0M218.0 287.7h0M214.9 285.8h0M215.6 297.5h0M216.9 288.6h0M214.5 285.8h0M216.6 284.3h0M216.2 292.5h0M216.0 291.9h0M219.2 288.3h0M211.4 292.7h0M215.0 291.6h0M220.3 283.8h0M216.6 289.9h0M217.5 292.6h0M217.0 289.3h0M212.7 290.4h0M216.9 291.9h0M216.6 293.7h0M216.2 290.4h0M216.7 291.3h0M214.3 290.5h0M221.2 284.7h0M211.6 292.0h0M216.5 284.0h0M213.2 292.4h0M220.6 287.7h0M213.5 289.0h0M218.7 290.9h0M212.6 289.6h0M214.2 293.6h0M220.0 290.6h0M220.2 292.7h0M212.7 285.3h0M211.5 288.3h0M220.2 285.7h0M215.1 289.7h0M217.2 287.9h0M217.4 287.6h0M218.8 289.7h0M217.0 290.0h0M217.6 284.0h0M214.3 286.1h0M212.4 285.7h0M213.2 287.5h0M216.2 292.8h0M218.7 294.4h0M212.6 286.9h0M213.5 285.8h0M216.8 292.2h0M216.6 290.0h0M218.4 291.4h0M215.6 290.9h0M217.8 293.7h0M213.7 289.3h0M222.2 287.7h0M214.0 287.4h0M215.0 288.3h0M220.4 292.0h0M221.1 288.1h0M219.8 293.0h0M215.6 290.3h0M214.3 288.4h0M216.7 287.7h0M216.5 286.2h0M217.2 290.4h0M219.8 297.9h0M216.1 290.6h0M214.1 289.5h0M214.7 290.5h0M214.8 293.3h0M213.9 289.1h0M215.1 288.2h0M220.2 284.8h0M219.4 284.5h0M218.8 290.0h0M214.7 288.8h0M213.2 284.0h0M217.9 286.9h0M217.6 290.6h0M215.2 287.2h0M215.1 285.5h0M214.9 292.2h0M218.3 289.5h0M214.2 289.9h0M215.7 288.1h0M215.6 285.6h0M217.4 289.7h0M215.3 287.5h0M211.6 292.1h0M216.2 291.3h0M215.5 289.3h0M220.2 290.9h0M216.0 290.8h0M220.5 286.2h0M215.7 286.9h0M214.7 290.5h0M215.6 290.5h0M217.0 290.2h0M216.4 289.8h0M215.1 290.1h0M213.9 290.6h0M216.9 290.7h0M217.1 285.2h0M216.1 289.9h0M215.4 290.9h0M215.2 290.2h0M213.8 291.8h0M216.8 292.2h0M218.4 290.7h0M219.5 290.9h0M215.5 290.5h0M214.1 290.7h0M213.4 281.5h0M217.7 287.2h0M215.4 293.3h0M216.9 288.7h0M215.6 290.0h0M214.1 291.1h0M214.4 290.8h0M218.3 287.9h0M216.5 288.8h0M215.1 290.1h0M218.2 285.3h0M215.8 287.8h0M213.0 290.5h0M216.5 290.6h0M215.4 290.4h0M219.4 288.1h0M214.9 288.0h0M216.1 284.1h0M218.7 289.1h0M217.8 293.5h0M213.9 291.6h0M215.1 284.2h0M214.3 289.3h0M217.3 287.6h0M215.7 290.4h0M216.8 288.0h0M216.5 288.4h0M217.8 290.5h0M212.2 292.7h0M218.0 283.8h0M220.9 288.9h0M218.4 291.7h0M219.7 294.6h0M214.6 285.5h0M218.4 291.8h0M217.1 289.9h0M215.9 290.2h0M223.4 288.5h0M213.6 288.0h0M219.3 288.1h0M212.0 292.9h0M214.8 287.7h0M214.3 282.6h0M217.9 290.6h0M219.5 288.4h0M216.1 285.4h0M216.1 291.3h0M213.9 286.5h0M218.2 291.6h0M218.1 287.1h0M214.1 291.9h0M218.1 285.9h0M213.4 289.0h0M219.6 288.0h0M216.7 289.1h0M213.4 286.8h0M216.7 290.1h0M218.8 286.3h0M218.2 286.5h0M217.4 283.1h0M213.4 288.8h0M214.8 289.4h0M221.0 286.1h0M216.7 294.9h0M218.8 289.5h0M216.2 287.7h0M219.4 286.3h0M214.2 289.0h0M216.4 294.1h0M218.8 285.2h0M220.2 288.5h0M216.8 290.6h0M220.4 289.0h0M217.5 288.5h0M217.4 288.2h0M215.2 289.5h0M215.8 283.3h0M213.5 292.4h0M217.3 292.3h0M215.8 289.3h0M217.1 290.2h0M215.1 287.5h0M216.7 290.8h0M223.0 286.6h0M216.3 294.2h0M218.1 286.2h0M217.8 285.2h0M213.0 286.2h0M217.9 287.0h0M212.3 289.0h0M219.3 288.3h0M215.2 286.6h0M215.0 289.5h0M214.7 287.7h0M211.6 285.0h0M216.3 284.8h0M215.5 286.1h0M220.2 288.8h0M217.2 287.9h0M213.1 286.7h0M219.9 287.3h0M215.5 291.5h0M217.7 293.8h0M217.6 286.4h0M214.8 284.9h0M211.6 282.4h0M212.7 295.5h0M215.0 286.9h0M218.8 288.7h0M217.9 287.9h0M218.5 291.8h0M212.2 283.6h0M211.9 290.2h0M216.7 288.2h0M212.0 290.8h0M219.0 287.5h0M216.7 286.3h0M219.5 287.7h0M217.2 284.1h0M215.8 286.2h0M215.8 285.7h0M214.0 295.0h0M221.1 285.6h0M213.0 294.1h0M217.2 289.6h0M213.9 288.6h0M211.9 292.5h0M220.6 286.3h0M211.7 289.2h0M214.3 287.3h0M217.9 291.5h0M220.9 287.3h0M216.3 289.5h0M212.2 290.1h0M215.9 288.0h0M217.7 283.5h0M214.8 292.1h0M214.9 292.0h0M219.3 292.2h0M219.3 284.5h0M215.8 288.6h0M218.6 288.5h0M216.3 288.0h0M218.5 290.5h0M213.0 290.3h0M217.6 291.5h0M217.8 285.3h0M217.1 289.3h0M218.4 291.0h0M217.9 287.5h0M218.4 287.8h0M216.9 294.9h0M218.0 283.7h0M212.0 290.2h0M214.8 286.9h0M219.8 286.3h0M221.6 290.0h0M220.3 289.3h0M216.3 290.2h0M214.0 288.6h0M215.6 286.3h0M218.1 291.3h0M215.5 285.2h0M216.6 283.1h0M221.7 290.2h0M218.6 287.6h0M220.4 288.2h0M217.1 283.2h0M216.3 288.1h0M224.1 288.4h0M220.3 292.3h0M229.7 292.4h0M228.5 284.7h0M230.5 292.2h0M219.8 287.7h0M224.4 293.6h0M235.1 284.7h0M223.4 290.1h0M215.6 293.0h0M227.2 285.1h0M220.9 289.3h0M229.3 288.6h0M225.5 296.0h0M222.6 292.9h0M223.1 290.3h0M231.7 289.4h0M231.0 291.5h0M224.4 288.8h0M225.1 291.2h0M228.5 292.5h0M227.1 289.1h0M225.9 292.9h0M218.5 289.3h0M225.4 293.0h0M220.3 285.8h0M236.4 288.1h0M225.4 290.4h0M228.3 286.6h0M225.1 292.3h0M219.9 293.9h0M229.7 291.9h0M234.1 292.7h0M228.2 289.5h0M228.6 289.2h0M220.1 296.0h0M218.3 293.0h0M220.6 293.9h0M219.0 290.3h0M217.3 291.5h0M233.2 288.0h0M219.5 290.3h0M224.1 289.4h0M223.6 288.7h0M223.2 286.9h0M223.0 288.9h0M212.4 285.2h0M227.7 284.2h0M226.3 290.0h0M228.1 290.9h0M234.6 293.2h0M230.2 282.3h0M231.2 290.8h0M220.7 293.1h0M226.5 297.9h0M225.9 292.2h0M221.1 290.5h0M216.1 291.2h0M220.7 290.2h0M223.3 292.0h0M213.0 295.9h0M224.0 292.1h0M227.0 289.3h0M222.4 294.4h0M233.1 289.9h0M225.7 288.6h0M223.9 294.5h0M228.7 292.5h0M224.9 292.2h0M231.0 289.8h0M217.6 291.1h0M228.1 292.8h0M215.6 289.7h0M223.5 288.9h0M219.0 290.1h0M232.6 290.4h0M227.9 286.0h0M222.7 290.7h0M231.3 291.1h0M221.7 289.2h0M231.0 287.4h0M231.7 289.1h0M222.6 290.5h0M226.8 289.4h0M231.0 288.3h0M226.4 289.5h0M226.0 291.6h0M223.4 294.0h0M224.0 290.5h0M227.0 294.9h0M228.0 292.6h0M217.8 290.8h0M229.9 293.4h0M232.0 294.2h0M223.9 286.8h0M217.2 283.9h0M222.0 291.6h0M224.5 289.6h0M224.9 292.7h0M231.8 295.0h0M234.4 292.5h0M231.0 292.7h0M230.0 288.8h0M220.4 291.3h0M223.7 284.7h0M220.3 287.4h0M218.3 290.6h0M220.4 287.9h0M240.7 254.0h0M242.6 291.4h0M241.8 250.4h0M238.7 278.6h0M218.8 268.6h0M238.7 265.5h0M215.4 288.4h0M231.8 296.4h0M233.3 256.5h0M234.3 286.2h0M232.1 283.7h0M234.8 269.0h0M212.3 258.0h0M231.7 261.2h0M223.4 279.8h0M214.9 271.4h0M221.5 283.9h0M234.6 268.3h0M223.3 275.6h0M234.3 276.4h0M215.4 254.3h0M240.9 282.1h0M229.4 279.5h0M221.5 293.2h0M217.1 267.8h0M237.0 261.7h0M214.4 297.1h0M242.5 257.5h0M236.6 280.9h0M229.3 283.2h0M243.7 271.4h0M219.7 261.1h0M235.0 269.9h0M216.2 290.6h0M227.0 287.1h0" stroke="#000" stroke-width="0.6" stroke-linecap="round" fill="none"/>
</g>
<path d="M235.3 248.5V299.6M209.8 282H260.7" stroke="#000" stroke-width="1.4" fill="none"/>
<rect x="209.8" y="248.5" width="50.89999999999998" height="51.10000000000002" fill="none" stroke="#000" stroke-width="1.6"/>
<text x="213.1" y="258.2" font-size="5.6" font-weight="bold" stroke="#fff" stroke-width="0.5" paint-order="stroke" stroke-linejoin="round">29</text>
<text x="253.6" y="278.9" font-size="5.6" font-weight="bold" stroke="#fff" stroke-width="0.5" paint-order="stroke" stroke-linejoin="round">29</text>
<text x="227.5" y="296.4" font-size="5.6" font-weight="bold" stroke="#fff" stroke-width="0.5" paint-order="stroke" stroke-linejoin="round">42</text>
<rect x="23.25" y="309.6" width="50.75" height="50.799999999999955" fill="#fff" stroke="none"/>
<clipPath id="k20"><rect x="23.25" y="309.6" width="50.75" height="50.799999999999955"/></clipPath><g clip-path="url(#k20)">
<ellipse cx="62.8" cy="317.7" rx="7.1" ry="6.6" transform="rotate(-30 62.8 317.7)" fill="url(#rg)" opacity="0.3"/>
<ellipse cx="38.5" cy="350.2" rx="15.2" ry="5.1" transform="rotate(-15 38.5 350.2)" fill="url(#rg)" opacity="0.9"/>
<path d="M67.6 322.2h0M65.2 322.1h0M69.6 318.6h0M64.2 318.9h0M62.9 317.2h0M68.0 311.2h0M66.8 315.4h0M56.3 317.4h0M61.5 316.9h0M61.5 318.1h0M61.9 318.9h0M65.4 316.6h0M61.2 320.8h0M64.7 318.9h0M65.3 313.4h0M62.5 313.0h0M64.1 318.0h0M61.1 313.0h0M63.7 314.6h0M60.7 314.9h0M60.1 320.1h0M64.3 316.7h0M63.6 318.5h0M60.0 322.8h0M59.7 318.9h0M63.3 319.8h0M59.6 322.7h0M63.3 321.5h0M59.5 311.3h0M63.2 314.6h0M67.0 319.4h0M65.9 320.7h0M56.3 316.2h0M61.9 317.5h0M62.7 317.5h0M58.8 319.0h0M64.6 319.4h0M66.6 318.6h0M60.3 322.9h0M69.4 320.5h0M68.6 319.7h0M67.6 318.3h0M65.9 319.2h0M66.8 319.5h0M62.9 317.6h0M63.6 314.8h0M64.1 316.3h0M62.3 320.5h0M60.2 319.2h0M66.2 315.3h0M59.7 318.5h0M63.7 315.6h0M62.2 315.8h0M59.4 317.7h0M60.5 315.3h0M62.9 317.4h0M60.2 325.3h0M67.6 315.2h0M63.6 323.5h0M63.9 318.3h0M60.7 317.9h0M64.3 317.7h0M67.1 321.5h0M62.0 323.7h0M62.8 316.5h0M62.9 319.7h0M61.0 324.1h0M65.9 318.3h0M63.7 316.1h0M56.9 317.4h0M64.6 314.4h0M56.5 316.0h0M61.7 313.5h0M68.1 314.8h0M60.0 318.3h0M64.1 322.7h0M66.2 317.0h0M69.4 319.7h0M60.6 321.5h0M60.7 322.8h0M61.5 324.3h0M64.6 317.6h0M61.0 316.9h0M61.4 317.3h0M63.9 318.4h0M69.9 324.5h0M53.3 324.2h0M65.3 313.4h0M62.3 320.2h0M64.0 320.7h0M63.6 316.6h0M66.2 318.5h0M60.6 315.0h0M68.5 314.7h0M63.6 323.1h0M60.6 318.4h0M63.8 313.7h0M64.8 311.3h0M55.4 317.4h0M68.6 319.1h0M59.7 319.2h0M68.4 323.4h0M64.2 321.5h0M63.0 324.7h0M61.9 321.2h0M67.9 319.6h0M57.8 321.8h0M62.2 318.8h0M60.8 316.0h0M60.7 315.0h0M61.0 320.5h0M62.2 319.0h0M65.0 316.8h0M62.2 319.3h0M59.3 319.7h0M66.5 315.0h0M55.7 316.1h0M62.5 323.6h0M65.6 322.1h0M60.8 320.3h0M62.4 324.9h0M60.4 320.1h0M66.2 315.6h0M67.2 314.7h0M61.7 318.2h0M63.5 319.5h0M68.1 318.3h0M61.1 320.2h0M59.8 319.3h0M58.4 321.7h0M64.3 316.2h0M57.5 316.1h0M58.2 319.4h0M64.9 318.5h0M66.3 316.7h0M65.7 320.7h0M56.8 320.2h0M59.7 323.7h0M59.5 320.5h0M62.6 319.2h0M65.6 321.3h0M57.2 318.1h0M67.4 312.8h0M65.6 321.1h0M70.0 317.8h0M67.1 318.3h0M62.6 316.2h0M64.1 314.1h0M59.8 314.6h0M60.0 322.1h0M60.8 316.8h0M61.8 312.1h0M67.0 318.5h0M58.5 318.2h0M62.1 319.7h0M61.9 320.3h0M62.7 321.0h0M63.6 323.4h0M65.6 314.5h0M60.8 314.4h0M66.7 316.6h0M61.2 315.8h0M60.8 316.4h0M60.5 317.1h0M69.1 319.3h0M62.5 321.4h0M59.7 317.6h0M66.1 320.7h0M60.7 325.2h0M63.1 320.7h0M67.3 316.3h0M64.6 319.5h0M62.0 318.1h0M65.7 314.4h0M57.7 320.9h0M66.2 315.1h0M58.9 320.1h0M61.4 321.6h0M68.3 318.1h0M59.4 317.9h0M64.5 322.0h0M56.9 317.9h0M62.7 317.0h0M63.6 318.4h0M61.6 317.4h0M66.9 319.7h0M58.9 313.8h0M67.6 323.4h0M60.1 316.3h0M67.0 318.2h0M58.3 325.2h0M59.5 315.3h0M63.0 318.6h0M63.2 320.8h0M60.4 315.1h0M63.1 315.0h0M70.4 315.0h0M63.2 314.0h0M59.1 320.3h0M59.2 318.5h0M62.6 318.7h0M62.7 314.9h0M58.1 313.5h0M62.0 315.7h0M60.2 320.1h0M59.2 320.4h0M62.4 319.2h0M64.9 313.3h0M56.4 314.6h0M60.4 319.9h0M65.1 316.4h0M64.3 317.9h0M60.8 314.7h0M68.2 315.1h0M60.9 316.0h0M66.8 323.1h0M61.5 313.3h0M67.4 319.1h0M60.6 319.2h0M67.3 315.7h0M65.5 319.1h0M59.6 323.2h0M62.8 318.9h0M61.0 315.8h0M62.7 318.6h0M59.6 319.8h0M63.7 315.5h0M62.0 318.3h0M63.2 322.7h0M62.5 318.7h0M64.0 314.8h0M64.5 321.8h0M68.6 321.6h0M68.2 320.7h0M64.4 317.4h0M66.0 316.3h0M70.5 315.3h0M58.1 320.3h0M63.3 311.3h0M63.2 322.1h0M61.6 315.0h0M61.5 314.9h0M58.0 319.8h0M66.8 320.3h0M59.2 319.7h0M62.5 322.3h0M66.4 318.3h0M66.3 319.6h0M64.8 314.1h0M61.6 313.8h0M60.9 315.7h0M67.3 322.5h0M61.4 314.8h0M67.1 321.4h0M65.5 316.4h0M62.2 314.6h0M60.7 317.0h0M60.5 323.4h0M63.4 316.8h0M59.1 318.1h0M62.1 322.4h0M63.4 316.1h0M63.1 316.4h0M63.2 321.9h0M68.5 317.9h0M58.1 321.7h0M58.1 319.1h0M63.0 316.3h0M69.2 323.5h0M64.2 313.2h0M62.3 318.8h0M67.9 313.6h0M62.2 322.1h0M64.5 315.5h0M61.8 321.0h0M64.5 317.0h0M61.8 317.1h0M61.6 320.0h0M67.4 313.1h0M60.0 327.2h0M67.5 319.2h0M61.3 320.3h0M63.3 320.7h0M64.1 315.9h0M66.2 317.0h0M70.3 315.6h0M64.8 321.3h0M62.2 320.6h0M60.5 321.6h0M64.5 323.8h0M60.3 321.2h0M61.2 315.7h0M67.0 317.1h0M61.5 319.6h0M65.1 320.5h0M62.9 311.7h0M66.1 321.5h0M58.1 316.7h0M65.9 321.4h0M67.6 318.0h0M63.1 315.1h0M63.2 316.1h0M62.3 317.2h0M64.7 317.9h0M60.5 315.8h0M60.5 318.2h0M69.2 317.5h0M59.9 320.3h0M63.0 317.7h0M62.0 321.5h0M58.1 317.5h0M65.1 313.0h0M60.5 318.6h0M69.5 315.4h0M62.8 315.7h0M60.4 319.8h0M62.3 319.7h0M63.4 319.9h0M63.2 320.8h0M64.0 316.2h0M64.3 322.4h0M66.4 317.3h0M61.3 318.2h0M64.3 321.8h0M63.0 316.8h0M58.7 316.6h0M60.0 321.2h0M61.4 313.3h0M65.5 314.6h0M61.1 319.5h0M63.7 319.5h0M69.1 317.6h0M63.6 319.3h0M63.4 319.2h0M60.0 317.4h0M66.0 317.9h0M63.3 316.6h0M59.5 319.2h0M64.4 315.4h0M66.2 321.4h0M67.1 320.6h0M59.7 312.5h0M64.4 316.0h0M64.1 313.7h0M62.2 318.3h0M65.0 321.6h0M64.1 317.7h0M62.5 322.0h0M59.1 317.5h0M59.9 325.7h0M66.8 323.4h0M60.3 320.1h0M57.3 316.1h0M64.7 312.9h0M71.8 316.2h0M68.4 314.6h0M62.1 314.8h0M66.8 318.3h0M64.7 315.4h0M64.0 311.7h0M54.8 315.6h0M70.5 316.6h0M61.7 321.6h0M56.5 318.4h0M56.3 317.9h0M64.8 315.6h0M65.8 324.3h0M62.3 319.8h0M62.0 316.8h0M66.4 313.9h0M66.0 318.5h0M70.0 317.6h0M61.2 315.0h0M65.5 314.9h0M63.9 317.7h0M67.3 315.5h0M60.8 319.8h0M66.6 315.4h0M61.8 316.9h0M65.1 320.5h0M59.1 318.7h0M66.0 323.6h0M61.7 317.7h0M61.9 318.4h0M67.1 319.8h0M61.5 316.1h0M65.4 320.0h0M66.7 315.5h0M61.2 318.9h0M65.9 313.2h0M60.7 321.3h0M57.0 319.5h0M61.7 319.3h0M60.4 319.0h0M62.9 319.0h0M67.6 314.9h0M61.3 323.2h0M56.0 317.9h0M64.8 317.1h0M70.6 317.7h0M59.7 322.7h0M64.2 321.2h0M62.0 315.3h0M58.5 325.9h0M64.1 315.7h0M64.3 317.5h0M61.1 316.8h0M64.7 320.0h0M58.0 324.1h0M59.4 314.4h0M60.2 311.6h0M61.1 322.0h0M60.0 318.1h0M65.7 319.3h0M58.7 330.2h0M57.9 326.8h0M56.9 328.2h0M52.4 332.8h0M55.2 342.9h0M60.0 337.6h0M60.1 330.6h0M63.1 334.3h0M56.8 337.6h0M56.8 323.7h0M59.0 333.8h0M47.9 327.7h0M62.6 327.5h0M56.5 338.7h0M57.4 337.2h0M58.4 338.7h0M53.3 326.6h0M59.8 334.6h0M53.8 338.7h0M46.3 327.8h0M60.6 334.3h0M67.4 331.5h0M60.5 344.1h0M60.3 329.6h0M57.6 326.9h0M66.7 336.2h0M64.3 327.4h0M55.7 337.8h0M57.4 339.9h0M53.3 337.6h0M58.0 338.1h0M50.9 330.2h0M54.9 341.1h0M57.7 334.7h0M50.2 338.8h0M54.6 326.4h0M61.0 332.0h0M61.6 314.3h0M53.6 317.2h0M56.7 346.8h0M56.8 336.2h0M57.1 323.2h0M56.9 327.6h0M53.6 326.5h0M62.5 347.5h0M57.8 333.6h0M54.1 327.0h0M58.5 339.4h0M60.8 337.5h0M60.1 342.4h0M66.4 334.9h0M53.7 336.9h0M55.3 332.0h0M53.3 335.7h0M52.2 326.7h0M62.7 325.9h0M58.2 333.5h0M57.3 338.2h0M62.0 350.7h0M56.0 335.0h0M51.9 333.8h0M57.1 339.4h0M54.3 323.2h0M52.0 329.4h0M65.1 344.6h0M59.1 332.8h0M60.3 336.2h0M64.8 331.2h0M58.1 336.8h0M60.7 349.0h0M56.1 327.2h0M49.9 336.1h0M60.7 329.6h0M63.3 336.2h0M56.0 334.6h0M56.9 343.8h0M50.8 339.6h0M53.0 325.7h0M64.0 336.8h0M55.5 338.5h0M54.6 334.7h0M56.8 332.7h0M53.4 321.2h0M52.7 333.8h0M51.3 336.5h0M58.3 341.9h0M55.3 331.2h0M55.7 325.5h0M60.6 332.8h0M65.8 335.8h0M55.4 333.6h0M52.4 321.6h0M52.8 331.8h0M62.0 330.8h0M53.6 322.7h0M59.6 331.9h0M63.9 325.2h0M57.6 329.4h0M57.0 338.9h0M59.4 340.3h0M64.9 337.8h0M55.2 336.7h0M57.8 321.4h0M55.8 327.1h0M56.7 334.0h0M53.0 346.1h0M64.0 334.4h0M60.5 324.3h0M59.4 327.3h0M61.3 331.0h0M60.0 342.2h0M63.0 339.8h0M55.7 334.2h0M57.1 330.2h0M56.9 326.0h0M58.7 329.8h0M52.3 328.7h0M69.9 327.7h0M54.4 332.5h0M57.5 334.1h0M63.8 328.8h0M56.3 346.5h0M61.3 330.0h0M62.8 329.1h0M49.7 321.7h0M54.0 333.0h0M59.0 349.8h0M53.3 330.6h0M63.1 337.6h0M63.1 341.3h0M61.1 345.2h0M55.5 342.6h0M55.6 325.4h0M60.4 337.3h0M50.2 342.6h0M54.2 338.9h0M61.1 330.6h0M58.1 331.5h0M51.6 331.7h0M59.5 323.3h0M61.0 334.1h0M55.8 347.0h0M50.1 337.7h0M53.2 337.5h0M57.5 329.0h0M56.4 325.3h0M51.4 331.8h0M55.0 336.7h0M56.0 327.7h0M59.8 334.7h0M51.5 334.7h0M53.5 345.1h0M62.3 335.3h0M51.5 346.1h0M48.1 337.8h0M51.6 325.3h0M55.1 335.5h0M54.1 337.8h0M57.1 329.7h0M56.4 335.9h0M52.5 348.3h0M61.1 325.8h0M53.5 331.2h0M62.0 338.8h0M53.2 328.9h0M57.0 329.3h0M62.5 342.6h0M55.8 334.9h0M60.1 327.2h0M62.1 332.7h0M51.4 333.4h0M53.4 334.5h0M57.0 336.9h0M51.4 325.4h0M57.0 342.8h0M58.7 326.6h0M56.8 339.6h0M54.8 341.2h0M58.1 331.4h0M55.6 332.4h0M57.2 339.1h0M54.1 341.0h0M63.7 336.5h0M63.2 322.2h0M60.6 330.5h0M57.0 341.2h0M60.2 323.4h0M59.0 325.2h0M56.4 337.5h0M62.7 329.4h0M64.9 331.1h0M47.4 331.2h0M60.5 329.9h0M58.8 336.7h0M59.4 343.9h0M54.9 327.3h0M59.6 334.5h0M56.2 329.0h0M51.3 339.1h0M56.8 332.5h0M66.1 352.2h0M57.3 336.6h0M56.1 335.7h0M52.9 343.9h0M62.8 331.0h0M59.7 330.1h0M56.1 335.2h0M64.2 330.1h0M58.1 321.2h0M60.3 329.1h0M55.7 332.0h0M65.1 340.0h0M52.8 330.6h0M62.4 322.9h0M56.1 324.5h0M52.8 345.0h0M60.1 335.2h0M53.6 343.3h0M55.2 354.8h0M60.1 326.2h0M61.8 331.6h0M65.8 319.9h0M56.6 329.3h0M58.5 329.0h0M46.2 343.5h0M57.3 332.2h0M51.1 328.7h0M55.6 351.3h0M56.8 320.3h0M59.4 342.9h0M59.2 337.1h0M60.4 329.5h0M53.4 328.2h0M48.5 332.5h0M63.7 333.5h0M56.6 334.7h0M60.1 335.7h0M54.2 335.5h0M55.0 332.1h0M55.5 338.9h0M56.0 335.0h0M59.6 320.8h0M56.2 329.6h0M56.3 346.0h0M57.6 339.1h0M56.7 349.1h0M56.1 330.7h0M63.0 326.3h0M58.3 337.4h0M65.9 330.8h0M58.4 332.5h0M54.0 325.7h0M53.0 333.2h0M57.4 340.4h0M53.0 334.0h0M55.9 335.6h0M54.0 333.8h0M62.7 342.7h0M58.5 341.5h0M56.8 330.4h0M28.4 351.0h0M38.0 351.9h0M37.7 350.0h0M42.8 354.5h0M29.6 355.5h0M49.1 346.4h0M50.0 341.6h0M29.1 353.5h0M37.5 351.3h0M31.0 343.5h0M34.1 349.1h0M51.7 343.1h0M38.9 346.6h0M39.6 353.4h0M47.1 350.2h0M51.0 346.3h0M55.0 345.1h0M40.8 348.7h0M36.1 351.3h0M49.6 340.5h0M35.0 351.0h0M36.6 344.3h0M37.1 350.6h0M34.2 347.9h0M34.7 354.0h0M48.1 350.5h0M41.1 351.7h0M48.3 345.8h0M39.4 349.5h0M33.8 353.1h0M36.3 354.6h0M35.7 354.4h0M40.3 341.9h0M40.5 346.9h0M43.7 350.5h0M35.4 354.0h0M44.3 355.4h0M30.1 349.7h0M37.1 353.9h0M37.1 355.3h0M34.9 355.0h0M37.6 344.9h0M49.5 346.2h0M51.6 351.6h0M34.7 354.3h0M48.3 349.7h0M39.6 349.8h0M33.8 353.7h0M37.0 355.0h0M43.5 348.1h0M47.3 349.3h0M43.0 352.8h0M32.3 349.1h0M31.4 348.5h0M43.1 345.8h0M35.9 348.4h0M33.1 347.2h0M36.4 352.5h0M26.7 355.7h0M45.3 350.0h0M32.8 353.1h0M37.8 350.0h0M50.1 344.2h0M55.2 348.9h0M40.5 349.7h0M27.9 355.6h0M29.0 346.4h0M35.0 342.2h0M43.1 350.0h0M41.6 348.3h0M37.7 351.7h0M57.7 347.4h0M42.9 351.4h0M41.5 349.0h0M27.6 355.7h0M34.7 349.0h0M50.3 349.2h0M40.5 353.2h0M29.7 357.0h0M50.3 341.1h0M33.4 351.0h0M36.7 350.4h0M48.2 345.9h0M47.3 346.2h0M47.3 349.5h0M32.1 346.5h0M30.2 353.0h0M36.3 355.9h0M44.1 349.0h0M45.7 345.5h0M45.9 340.8h0M44.0 351.5h0M26.4 347.3h0M35.6 348.6h0M47.6 352.5h0M27.3 351.0h0M37.6 353.1h0M35.6 345.8h0M39.0 357.5h0M46.3 345.7h0M42.7 350.6h0M43.4 353.7h0M39.0 348.4h0M45.3 339.7h0M50.2 347.9h0M52.4 342.7h0M40.2 348.7h0M40.9 346.6h0M27.4 348.8h0M33.3 353.0h0M32.2 357.9h0M54.9 349.8h0M49.0 350.9h0M46.9 344.0h0M34.3 353.4h0M31.4 347.0h0M41.8 348.7h0M24.9 354.7h0M25.9 357.4h0M49.3 346.6h0M40.9 347.5h0M36.6 351.2h0M42.8 345.7h0M41.7 350.8h0M28.4 348.8h0M39.9 343.6h0M36.9 350.3h0M39.2 352.3h0M31.8 353.7h0M30.1 350.1h0M54.2 348.1h0M38.2 350.6h0M40.7 350.6h0M52.4 343.5h0M42.1 353.5h0M43.4 348.9h0M25.1 350.6h0M41.6 342.2h0M50.8 341.4h0M42.2 353.7h0M29.3 351.0h0M41.1 350.6h0M35.1 352.4h0M31.1 346.3h0M31.0 352.6h0M46.8 348.1h0M27.3 352.1h0M40.9 353.7h0M41.6 348.0h0M31.7 350.7h0M30.7 346.6h0M44.8 348.1h0M33.4 347.0h0M36.2 353.1h0M47.8 349.9h0M44.0 345.9h0M54.7 348.6h0M41.1 347.2h0M36.9 355.4h0M45.5 345.5h0M39.2 348.2h0M45.7 346.7h0M40.1 354.1h0M36.2 352.5h0M41.1 354.6h0M43.0 350.6h0M47.5 347.7h0M55.9 341.1h0M36.5 346.5h0M29.0 349.2h0M30.4 352.5h0M32.5 349.1h0M42.8 354.2h0M29.9 354.1h0M35.0 354.8h0M39.5 347.3h0M33.8 351.2h0M43.1 348.1h0M42.0 348.4h0M50.5 337.8h0M67.6 344.3h0M39.3 346.3h0M32.0 353.8h0M40.2 354.0h0M42.3 345.3h0M46.5 349.8h0M39.4 348.2h0M41.1 348.8h0M40.2 346.4h0M29.3 358.1h0M42.9 347.9h0M39.2 347.2h0M27.5 348.6h0M43.2 350.6h0M37.2 345.7h0M45.5 353.1h0M38.6 352.6h0M27.9 352.9h0M33.1 349.1h0M33.5 350.2h0M35.3 343.9h0M44.2 344.0h0M31.1 349.9h0M39.6 341.8h0M26.6 345.3h0M49.8 345.9h0M36.2 352.4h0M35.1 348.2h0M31.8 353.4h0M53.3 348.9h0M47.0 346.3h0M41.2 347.4h0M36.9 346.1h0M28.7 351.2h0M35.1 349.5h0M33.4 352.1h0M45.1 349.9h0M46.4 355.0h0M44.3 344.6h0M29.4 348.8h0M37.3 350.5h0M25.2 350.4h0M39.2 348.4h0M30.8 357.4h0M34.3 350.7h0M34.3 354.4h0M32.8 353.1h0M38.4 342.8h0M32.4 351.5h0M36.1 348.3h0M38.8 350.1h0M32.6 354.9h0M35.7 346.1h0M31.9 348.5h0M30.1 353.7h0M32.5 348.2h0M37.0 350.3h0M38.2 347.3h0M48.4 349.6h0M47.3 349.9h0M33.5 348.5h0M50.5 349.9h0M44.2 349.2h0M31.7 347.5h0M32.0 354.2h0M46.8 348.5h0M34.3 348.3h0M45.9 345.0h0M60.7 349.8h0M30.5 352.4h0M40.2 347.0h0M45.2 339.1h0M35.4 350.0h0M27.7 354.8h0M48.9 351.7h0M46.2 348.1h0M48.5 353.4h0M30.2 351.5h0M31.6 355.1h0M38.1 353.3h0M33.3 350.6h0M42.0 353.3h0M49.0 354.1h0M39.2 349.9h0M37.3 346.8h0M48.0 343.7h0M34.6 350.2h0M34.2 348.6h0M49.5 349.2h0M45.7 347.5h0M43.4 350.1h0M32.1 350.8h0M36.5 348.6h0M34.0 353.4h0M33.6 349.4h0M39.7 345.0h0M30.0 350.5h0M47.0 344.2h0M33.1 347.0h0M44.0 346.6h0M50.1 349.3h0M33.0 355.0h0M35.1 353.9h0M41.3 350.2h0M39.6 352.0h0M46.2 349.2h0M34.2 350.6h0M40.7 344.5h0M28.0 346.5h0M39.7 345.3h0M38.9 345.6h0M36.4 353.2h0M44.5 347.4h0M61.9 348.3h0M40.2 351.2h0M41.0 348.1h0M40.3 348.9h0M41.6 350.7h0M29.2 345.6h0M31.9 350.4h0M33.2 351.5h0M48.9 345.3h0M33.9 353.3h0M26.1 348.5h0M43.3 353.2h0M46.6 344.8h0M39.3 357.5h0M38.7 349.3h0M47.6 347.0h0M25.6 357.2h0M52.0 347.7h0M33.1 350.3h0M37.7 345.1h0M45.0 352.3h0M43.1 347.3h0M43.1 348.0h0M39.0 351.3h0M49.8 352.7h0M37.1 345.5h0M44.2 345.6h0M35.2 351.4h0M39.7 349.7h0M50.1 346.0h0M31.7 352.6h0M38.0 348.6h0M29.1 355.2h0M37.4 346.2h0M35.9 350.2h0M38.3 352.1h0M36.7 348.3h0M43.5 350.1h0M35.2 346.2h0M45.7 352.0h0M37.8 352.1h0M33.5 357.8h0M46.6 351.6h0M39.3 345.3h0M37.3 348.7h0M33.5 348.1h0M39.8 353.5h0M41.2 352.1h0M48.2 340.7h0M34.7 350.1h0M41.3 337.4h0M38.2 349.0h0M33.6 357.7h0M27.7 352.7h0M37.2 351.2h0M42.5 342.3h0M39.9 354.2h0M31.5 352.5h0M35.2 349.6h0M38.2 346.7h0M46.0 348.6h0M55.5 348.8h0M46.1 348.2h0M41.9 345.2h0M46.0 345.8h0M39.5 358.0h0M32.6 349.5h0M50.3 345.2h0M40.6 354.1h0M26.9 355.8h0M47.7 353.0h0M42.6 349.7h0M29.6 356.0h0M35.1 355.7h0M33.1 347.9h0M35.5 349.4h0M31.4 351.6h0M41.0 352.5h0M45.8 344.5h0M34.7 346.7h0M43.4 347.0h0M24.9 353.8h0M34.0 351.6h0M41.9 355.4h0M38.4 353.5h0M51.4 349.1h0M43.0 350.0h0M32.6 349.1h0M42.6 350.3h0M41.3 352.7h0M41.2 346.0h0M51.5 352.7h0M36.0 344.6h0M42.0 349.7h0M49.7 349.3h0M41.0 350.8h0M43.9 347.4h0M40.3 343.7h0M42.6 348.7h0M29.1 352.9h0M27.3 354.0h0M36.1 352.7h0M32.5 348.2h0M34.9 351.5h0M38.1 351.4h0M43.2 350.2h0M36.3 356.9h0M39.5 351.6h0M28.0 355.4h0M29.8 349.2h0M47.9 345.4h0M41.5 347.8h0M29.3 348.0h0M43.7 350.7h0M29.6 353.3h0M36.1 355.8h0M30.0 354.0h0M31.7 346.9h0M40.9 350.2h0M35.5 345.2h0M35.1 355.1h0M38.7 353.4h0M40.7 349.1h0M42.8 343.4h0M37.1 357.5h0M46.1 350.9h0M33.7 346.5h0M36.8 346.6h0M34.4 344.7h0M36.1 353.8h0M37.1 352.6h0M32.2 351.0h0M39.8 343.0h0M35.5 351.8h0M30.5 348.4h0M43.6 343.5h0M42.7 346.9h0M45.2 347.5h0M45.3 348.3h0M34.7 350.4h0M39.9 356.3h0M42.3 353.3h0M44.6 350.0h0M41.8 358.4h0M34.9 351.4h0M47.9 345.5h0M45.1 343.6h0M44.3 347.7h0M42.9 348.3h0M35.1 349.3h0M34.4 353.9h0M28.9 355.3h0M48.6 352.7h0M42.0 343.4h0M47.4 352.1h0M34.6 351.3h0M44.4 346.1h0M48.1 354.0h0M46.0 349.9h0M30.6 348.0h0M33.8 352.3h0M36.8 343.7h0M42.1 355.5h0M42.7 343.7h0M32.3 352.1h0M35.2 348.3h0M46.4 357.1h0M44.7 356.2h0M53.4 346.8h0M41.4 355.7h0M35.9 345.2h0M27.2 349.7h0M40.8 341.7h0M45.2 352.4h0M43.9 345.2h0M37.8 347.2h0M28.2 357.7h0M31.7 353.6h0M34.9 353.4h0M43.5 354.0h0M47.0 343.8h0M47.2 345.8h0M27.1 352.0h0M27.2 352.0h0M26.3 350.4h0M40.0 350.9h0M40.5 347.2h0M37.4 354.4h0M38.2 344.6h0M45.7 351.1h0M37.2 344.4h0M47.8 349.6h0M46.9 351.9h0M35.6 343.3h0M42.6 347.2h0M28.9 347.2h0M42.1 353.4h0M33.4 352.9h0M51.0 350.3h0M45.7 349.7h0M43.6 349.8h0M41.9 344.0h0M42.2 346.8h0M48.0 352.6h0M41.9 346.4h0M32.7 353.5h0M47.0 351.0h0M40.8 343.2h0M44.8 344.4h0M28.4 349.0h0M29.1 358.8h0M39.9 352.7h0M29.6 349.8h0M38.5 350.0h0M27.1 354.8h0M24.9 358.0h0M39.0 350.5h0M42.4 348.0h0M36.6 353.7h0M39.1 349.0h0M36.5 347.7h0M47.5 347.5h0M50.1 347.2h0M36.3 352.5h0M42.3 349.4h0M52.1 353.4h0M44.7 347.3h0M34.2 354.4h0M41.5 347.3h0M36.0 347.2h0M31.1 351.7h0M36.6 350.1h0M33.3 349.2h0M33.8 354.5h0M50.3 342.1h0M37.5 356.8h0M35.4 354.2h0M46.9 348.1h0M31.6 349.3h0M39.4 347.9h0M37.5 348.6h0M32.0 352.2h0M40.8 349.2h0M53.9 347.9h0M31.5 352.6h0M35.4 348.8h0M29.7 350.5h0M38.8 352.4h0M60.8 348.4h0M45.2 340.9h0M42.4 349.2h0M44.7 352.4h0M42.0 349.6h0M45.1 349.7h0M29.5 353.5h0M47.1 345.8h0M30.7 355.3h0M41.5 348.6h0M31.2 345.0h0M45.8 352.4h0M39.0 351.0h0M45.8 352.3h0M34.0 350.1h0M33.9 343.4h0M34.6 343.6h0M28.4 353.4h0M37.9 351.8h0M39.0 347.5h0M35.9 355.8h0M51.1 344.2h0M38.1 348.1h0M33.2 356.5h0M43.4 350.4h0M38.9 353.5h0M30.8 347.7h0M29.4 345.8h0M38.5 351.2h0M26.2 355.7h0M33.1 352.6h0M40.4 352.5h0M50.8 351.9h0M43.6 349.2h0M45.0 351.0h0M47.5 351.3h0M38.6 351.1h0M33.5 350.9h0M38.6 349.5h0M45.1 343.5h0M35.3 349.4h0M25.3 354.9h0M29.1 351.6h0M38.4 342.8h0M55.0 347.4h0M42.6 344.1h0M24.9 353.4h0M40.1 348.9h0M40.8 355.2h0M40.3 347.8h0M46.5 350.8h0M39.2 341.7h0M41.1 346.7h0M31.1 349.9h0M31.6 355.5h0M43.0 347.9h0M54.8 344.9h0M47.0 346.5h0M29.2 353.6h0M37.5 353.1h0M39.9 349.4h0M26.9 350.7h0M48.3 344.0h0M43.3 348.8h0M45.4 348.8h0M37.8 354.5h0M30.4 353.7h0M38.6 342.9h0M44.0 351.2h0M39.2 350.2h0M33.6 353.5h0M55.7 345.2h0M39.8 348.3h0M41.1 353.6h0M38.6 349.8h0M41.5 348.6h0M38.5 347.6h0M41.0 346.3h0M40.5 357.4h0M47.5 346.1h0M41.0 351.7h0M35.7 353.6h0M37.1 351.9h0M34.4 349.5h0M43.7 351.4h0M54.4 347.8h0M37.8 349.3h0M42.3 353.5h0M32.2 355.7h0M39.5 348.2h0M42.7 353.9h0M29.9 357.0h0M30.6 357.4h0M31.7 349.0h0M29.4 343.6h0M35.3 354.9h0M37.2 351.9h0M39.0 345.4h0M49.3 340.6h0M43.0 347.9h0M36.4 344.1h0M35.6 351.6h0M46.6 352.2h0M39.4 349.9h0M36.8 350.6h0M25.6 350.7h0M41.2 345.4h0M43.2 349.5h0M42.6 351.5h0M38.7 347.5h0M27.0 351.9h0M39.0 349.4h0M34.3 349.3h0M37.4 351.0h0M28.4 348.3h0M36.5 352.3h0M49.4 348.8h0M32.3 352.3h0M35.2 341.9h0M39.4 350.0h0M39.7 346.3h0M29.0 353.1h0M35.0 352.3h0M36.2 345.6h0M45.9 349.8h0M50.0 351.1h0M39.9 352.1h0M42.9 351.0h0M46.1 349.3h0M45.7 344.8h0M48.5 348.7h0M26.9 355.3h0M27.7 351.7h0M28.7 357.7h0M39.2 353.8h0M41.4 349.5h0M40.4 348.0h0M38.4 353.0h0M40.5 357.6h0M31.4 357.4h0M35.9 346.3h0M35.1 347.6h0M44.1 346.7h0M36.6 354.2h0M28.7 350.1h0M39.8 350.5h0M46.7 348.3h0M36.0 349.7h0M38.2 349.8h0M36.2 358.3h0M29.8 344.4h0M41.0 350.6h0M43.4 348.8h0M35.1 352.9h0M26.7 357.2h0M41.4 354.0h0M43.2 348.4h0M28.9 355.7h0M48.5 345.1h0M42.1 348.8h0M50.6 343.8h0M34.9 353.1h0M28.9 353.5h0M39.3 346.6h0M48.1 349.5h0M34.9 353.7h0M32.5 353.3h0M35.2 347.7h0M36.9 355.9h0M33.7 356.7h0M28.8 358.5h0M48.3 349.2h0M28.0 353.4h0M41.7 347.9h0M38.3 347.5h0M35.7 356.7h0M31.1 343.6h0M40.8 351.5h0M39.8 345.8h0M44.9 348.3h0M59.9 345.1h0M40.9 346.0h0M43.8 345.9h0M42.5 347.7h0M43.6 345.5h0M32.2 354.3h0M47.3 345.7h0M43.7 348.2h0M25.6 349.9h0M42.2 348.7h0M32.8 350.9h0M39.2 353.3h0M39.1 356.2h0M37.7 347.9h0M53.8 346.8h0M38.9 349.2h0M43.2 348.1h0M46.4 350.8h0M31.4 353.8h0M30.9 351.9h0M26.0 348.2h0M39.6 349.1h0M42.6 356.3h0M35.2 352.5h0M37.2 345.5h0M38.6 348.1h0M25.4 345.4h0M31.8 351.3h0M42.3 349.4h0M41.4 352.1h0M38.4 352.2h0M34.0 354.7h0M44.3 354.0h0M45.3 350.2h0M33.2 354.3h0M37.3 345.7h0M35.4 349.7h0M41.6 352.2h0M50.9 345.8h0M39.8 345.3h0M43.9 351.9h0M49.7 342.7h0M50.2 346.8h0M40.6 355.1h0M37.9 348.5h0M30.9 352.1h0M31.4 347.5h0M48.6 346.1h0M40.3 343.6h0M29.9 347.2h0M47.3 346.5h0M46.6 352.0h0M42.5 348.6h0M55.3 341.8h0M44.6 343.1h0M39.7 354.5h0M34.3 347.6h0M30.7 349.7h0M37.3 348.5h0M25.8 351.3h0M55.7 345.3h0M39.1 349.2h0M51.4 344.8h0M27.1 357.6h0M44.8 350.3h0M36.2 345.9h0M38.6 350.5h0M39.6 354.8h0M37.0 341.8h0M39.6 350.8h0M39.1 349.4h0M33.4 346.6h0M44.7 349.0h0M47.2 349.6h0M44.9 348.7h0M36.1 352.8h0M34.4 350.2h0M28.4 351.2h0M40.0 351.6h0M45.9 348.7h0M34.3 343.4h0M34.7 349.5h0M36.1 353.7h0M45.2 347.7h0M27.9 353.0h0M28.5 349.1h0M40.6 350.5h0M29.7 356.7h0M31.6 353.7h0M41.6 344.6h0M51.8 350.7h0M39.9 346.7h0M32.3 354.5h0M35.4 354.6h0M44.1 350.6h0M45.1 344.4h0M48.5 341.1h0M31.5 350.7h0M39.1 345.1h0M42.4 350.2h0M40.2 348.6h0M40.7 354.4h0M25.2 356.5h0M39.3 343.6h0M31.6 352.8h0M29.2 346.6h0M37.0 354.8h0M48.5 343.6h0M43.6 347.2h0M44.1 348.1h0M44.1 349.1h0M43.9 350.1h0M30.0 352.7h0M40.8 347.6h0M46.8 343.7h0M46.9 345.6h0M31.0 353.0h0M39.1 345.4h0M34.7 346.7h0M45.7 345.6h0M30.1 354.3h0M29.6 350.7h0M38.0 354.6h0M45.5 341.3h0M35.5 350.7h0M29.5 350.5h0M32.2 352.8h0M43.3 346.6h0M25.9 353.3h0M35.2 344.9h0M45.0 344.8h0M43.4 346.6h0M31.3 347.8h0M34.5 352.3h0M43.9 345.2h0M28.6 350.7h0M35.6 351.7h0M33.5 351.1h0M44.7 347.2h0M35.7 349.6h0M38.2 346.6h0M31.9 352.5h0M43.4 351.8h0M29.3 349.4h0M29.4 354.5h0M39.6 345.9h0M38.4 349.7h0M46.4 351.5h0M36.3 344.4h0M39.3 355.6h0M55.0 347.8h0M51.1 347.5h0M27.6 347.6h0M49.4 339.5h0M33.1 355.3h0M31.2 351.6h0M34.0 357.2h0M48.8 348.4h0M38.7 349.0h0M57.1 342.6h0M39.8 355.0h0M38.5 352.8h0M40.6 348.1h0M40.2 351.7h0M45.3 340.8h0M41.6 350.4h0M52.3 351.7h0M33.0 348.9h0M44.3 342.2h0M39.3 341.1h0M32.3 348.4h0M41.1 348.3h0M45.6 351.6h0M39.0 350.8h0M38.3 356.4h0M29.3 358.4h0M49.1 345.7h0M58.2 352.5h0M37.6 349.2h0M40.2 351.2h0M40.7 352.5h0M38.8 350.5h0M39.0 348.1h0M50.2 342.6h0M48.7 351.5h0M36.2 347.6h0M41.3 347.7h0M36.9 354.6h0M37.8 351.1h0M40.7 345.1h0M34.7 351.0h0M42.8 338.3h0M47.1 351.5h0M43.0 349.9h0M34.7 354.8h0M26.9 349.3h0M47.5 348.8h0M57.1 350.9h0M44.0 346.9h0M35.8 353.2h0M58.0 345.4h0M48.0 348.4h0M45.2 351.6h0M59.9 343.3h0M50.4 345.0h0M58.6 342.4h0M52.9 345.3h0M47.2 343.5h0M61.9 339.5h0M34.8 351.3h0M59.7 345.5h0M51.1 346.4h0M59.2 343.5h0M45.8 344.6h0M46.8 348.1h0M50.0 346.6h0M64.1 347.1h0M57.9 346.2h0M47.1 345.0h0M44.6 345.3h0M60.6 343.6h0M59.0 347.2h0M48.1 344.0h0M50.8 348.3h0M59.9 340.1h0M35.5 345.8h0M56.3 343.8h0M43.4 345.6h0M51.9 342.1h0M58.2 345.7h0M38.0 344.4h0M60.0 342.6h0M64.5 343.7h0M46.0 350.5h0M48.8 346.1h0M50.2 343.5h0M56.5 346.0h0M57.2 341.7h0M52.2 351.6h0M53.9 344.3h0M50.5 349.2h0M56.7 350.2h0M43.4 350.4h0M54.3 348.9h0M60.5 341.5h0M56.6 347.3h0M57.9 345.0h0M48.7 350.1h0M46.4 344.1h0M52.8 344.4h0M47.1 348.5h0M42.5 350.8h0M56.8 341.8h0M52.0 343.3h0M46.1 346.0h0M54.8 346.8h0M61.8 342.0h0M49.8 346.2h0M50.8 351.8h0M60.0 346.6h0M39.4 348.3h0M50.0 341.4h0M49.9 353.6h0M39.0 346.6h0M56.4 343.4h0M49.2 345.6h0M55.1 344.4h0M56.2 346.3h0M55.8 353.1h0M45.6 345.6h0M50.0 346.7h0M49.8 344.6h0M56.4 349.3h0M51.3 347.5h0M55.6 347.7h0M47.6 347.6h0M57.4 348.1h0M47.8 345.5h0M41.2 350.0h0M50.7 350.9h0M51.2 346.1h0M51.3 344.5h0M39.6 346.8h0M54.2 344.0h0M53.6 350.5h0M51.0 347.3h0M55.5 341.5h0M51.1 344.3h0M42.8 348.7h0M42.6 350.6h0M56.5 344.5h0M37.8 346.5h0M58.0 342.0h0M43.4 347.5h0M44.8 344.4h0M56.5 347.9h0M47.7 352.2h0M43.0 350.3h0M48.1 347.1h0M44.9 344.5h0M54.1 347.8h0M43.9 346.6h0M47.9 343.6h0M46.9 351.2h0M42.7 350.2h0M46.1 349.8h0M59.6 342.9h0M50.0 345.5h0M44.0 352.6h0M44.7 345.6h0M52.7 341.1h0M55.8 350.4h0M52.3 349.5h0M48.5 349.5h0M52.3 344.7h0M47.5 346.6h0M57.4 343.7h0M52.4 345.8h0M54.0 345.3h0M57.2 346.1h0M49.7 345.4h0M53.1 345.6h0M47.8 346.6h0M64.5 344.2h0M53.4 344.2h0M49.5 344.0h0M59.9 345.3h0M48.9 347.8h0M54.5 345.7h0M51.3 348.7h0M49.2 343.0h0M54.9 346.3h0M50.6 346.2h0M39.0 345.3h0M48.5 347.5h0M44.1 349.4h0M49.4 346.2h0M50.9 347.5h0M51.4 346.4h0M62.0 340.7h0M48.7 348.6h0M55.6 352.0h0M45.3 341.7h0M51.0 342.1h0M47.3 347.3h0M49.7 343.9h0M43.5 351.5h0M41.1 347.2h0M57.3 348.9h0M48.5 347.6h0M65.0 343.8h0M50.6 345.3h0M44.2 347.3h0M48.2 349.1h0M66.8 337.4h0M48.6 348.2h0M62.9 341.9h0M43.0 342.9h0M51.2 349.3h0M44.2 349.8h0M51.2 342.6h0M54.5 345.3h0M66.2 344.7h0M65.2 340.1h0M54.5 343.5h0M45.8 346.0h0M53.2 344.8h0M50.6 345.2h0M54.6 343.8h0M50.7 346.2h0M33.6 349.3h0M51.2 348.1h0M43.2 349.3h0M49.3 354.0h0M46.4 344.7h0M46.5 343.1h0M50.3 346.3h0M48.4 351.6h0M50.7 348.0h0M56.8 342.4h0M50.5 351.3h0M56.7 344.9h0M56.2 345.5h0M59.8 343.7h0M63.4 343.1h0M56.5 344.7h0M49.7 345.2h0M51.1 343.3h0M43.2 341.4h0M50.4 351.2h0M58.1 345.5h0M62.1 344.8h0M57.5 345.9h0M51.0 345.1h0M56.4 346.8h0M43.4 346.7h0M63.7 340.6h0M49.8 347.6h0M50.1 346.0h0M46.9 347.9h0M45.7 348.8h0M61.1 344.8h0M61.4 347.4h0M46.8 347.3h0M55.3 346.7h0M61.9 345.7h0M39.4 355.1h0M37.0 347.4h0M55.8 346.0h0M50.3 343.4h0M60.3 346.0h0M59.8 342.2h0M45.9 351.1h0M50.0 344.2h0M52.4 344.5h0M46.5 352.7h0M56.9 345.7h0M56.1 346.2h0M52.9 350.6h0M53.3 348.1h0M46.5 350.2h0M60.1 347.2h0M60.5 344.2h0M62.6 345.8h0M50.0 338.8h0M47.6 347.9h0M53.5 342.8h0M53.5 342.4h0M53.3 346.0h0M34.0 347.3h0M53.8 343.3h0M54.4 345.1h0M58.0 342.0h0M34.7 347.4h0M58.3 339.1h0M43.3 349.2h0M53.9 346.5h0M53.1 345.3h0M56.9 347.5h0M51.5 347.0h0M54.0 346.8h0M53.7 347.0h0M61.7 346.0h0M45.1 350.3h0M47.9 346.3h0M48.9 347.9h0M57.3 344.3h0M52.1 349.1h0M43.0 348.5h0M40.0 348.4h0M46.9 349.3h0M34.4 354.6h0M51.5 350.4h0M51.8 351.9h0M50.0 340.1h0M60.3 343.0h0M46.1 345.7h0M49.7 348.1h0M55.1 344.4h0M47.5 352.3h0M48.0 347.6h0M49.2 344.1h0M53.3 343.3h0M64.6 343.5h0M50.7 342.6h0M47.6 343.2h0M50.3 346.3h0M51.7 347.3h0M43.7 347.5h0M59.9 347.1h0M56.6 347.9h0M56.7 341.6h0M49.3 349.7h0M53.9 351.7h0M51.3 344.3h0M46.0 341.3h0M55.4 344.5h0M46.9 348.9h0M63.0 345.6h0M55.7 343.6h0M54.8 350.6h0M64.4 344.2h0M42.9 349.1h0M48.4 348.2h0M59.8 344.3h0M43.2 348.5h0M58.5 342.3h0M56.2 346.4h0M62.1 339.8h0M58.2 345.2h0M50.7 345.4h0M59.9 344.2h0M43.4 344.2h0M50.0 348.8h0M58.1 342.8h0M52.0 347.5h0M37.1 350.9h0M58.0 337.9h0M48.2 340.8h0M55.1 349.6h0M63.3 345.5h0M54.2 348.9h0M60.4 346.4h0M53.6 348.2h0M42.0 348.2h0M58.8 347.8h0M55.3 351.2h0M58.9 346.2h0M49.3 343.8h0M47.6 344.5h0M55.6 339.2h0M35.8 351.8h0M65.1 341.8h0M43.2 347.6h0M55.4 344.5h0M54.3 342.7h0M68.2 347.2h0M57.7 316.7h0M25.7 358.7h0M53.5 337.2h0M40.9 340.9h0M57.3 330.1h0M60.7 319.3h0M39.2 328.4h0M65.4 354.1h0M32.5 339.0h0M46.1 339.1h0M38.2 338.6h0M27.6 350.7h0M50.7 352.2h0M29.4 340.8h0M71.5 352.7h0M30.3 313.9h0M67.9 327.6h0M67.6 347.3h0M44.6 320.9h0M60.7 328.4h0M72.0 315.6h0M49.9 325.7h0M46.3 354.9h0M43.8 335.3h0M68.5 348.6h0M28.2 318.6h0M41.1 313.6h0M47.9 348.1h0M30.6 352.8h0M28.6 336.8h0M35.1 321.9h0M56.2 330.2h0M31.1 328.2h0M56.4 334.1h0M36.6 316.8h0M33.4 329.4h0M54.0 352.8h0M45.1 341.8h0M48.2 340.0h0M41.4 358.1h0M63.6 314.7h0M38.9 355.8h0M51.4 356.1h0M65.6 347.8h0M60.6 347.7h0M64.9 325.4h0M72.3 325.5h0M45.0 356.7h0M57.7 312.2h0M32.5 343.4h0M49.7 318.6h0M47.4 351.8h0M30.2 333.9h0M33.6 319.9h0" stroke="#000" stroke-width="0.6" stroke-linecap="round" fill="none"/>
</g>
<path d="M49.2 309.6V360.4M23.25 344.7H74.0" stroke="#000" stroke-width="1.4" fill="none"/>
<rect x="23.25" y="309.6" width="50.75" height="50.799999999999955" fill="none" stroke="#000" stroke-width="1.6"/>
<text x="26.0" y="340.6" font-size="5.6" font-weight="bold">51</text>
<text x="66.3" y="340.6" font-size="5.6" font-weight="bold">28</text>
<text x="66.3" y="358.4" font-size="5.6" font-weight="bold">20</text>
<rect x="84.0" y="309.6" width="50.69999999999999" height="50.799999999999955" fill="#fff" stroke="none"/>
<clipPath id="k21"><rect x="84.0" y="309.6" width="50.69999999999999" height="50.799999999999955"/></clipPath><g clip-path="url(#k21)">
<ellipse cx="97.2" cy="349.7" rx="13.7" ry="5.6" transform="rotate(-16 97.2 349.7)" fill="url(#rg)" opacity="0.95"/>
<path d="M102.7 344.1h0M100.9 347.3h0M95.8 353.3h0M92.8 351.8h0M86.9 347.2h0M106.1 349.5h0M89.3 354.5h0M95.0 346.6h0M106.5 337.9h0M91.3 354.1h0M113.3 341.7h0M86.1 356.7h0M87.1 353.1h0M107.8 350.3h0M98.7 350.8h0M93.7 345.6h0M104.5 354.8h0M89.8 352.3h0M98.3 346.3h0M94.7 343.5h0M97.7 353.3h0M95.2 354.9h0M100.9 354.0h0M86.4 352.8h0M102.3 348.9h0M97.1 345.9h0M94.4 342.5h0M92.8 348.2h0M95.8 347.7h0M103.9 350.7h0M104.8 349.3h0M93.7 350.0h0M94.5 346.9h0M107.4 348.4h0M94.4 351.4h0M98.2 350.7h0M92.2 352.8h0M110.5 348.6h0M96.8 349.7h0M93.1 347.4h0M101.5 350.6h0M100.7 349.5h0M88.4 350.7h0M93.0 353.1h0M103.3 350.1h0M92.5 351.6h0M105.5 347.1h0M98.5 343.4h0M110.9 343.9h0M95.8 346.5h0M91.7 349.7h0M93.7 354.1h0M100.1 349.3h0M96.3 349.7h0M103.0 353.1h0M97.4 349.8h0M88.3 355.9h0M99.5 352.5h0M85.9 350.2h0M99.3 342.7h0M98.7 347.5h0M85.8 345.3h0M107.6 350.4h0M100.1 352.5h0M97.0 357.7h0M99.6 349.0h0M98.1 347.4h0M103.3 349.3h0M96.8 350.5h0M106.3 344.4h0M99.0 353.3h0M99.2 353.7h0M103.0 348.4h0M104.8 352.3h0M89.4 349.6h0M98.0 350.3h0M103.0 348.7h0M89.1 352.5h0M103.3 347.9h0M93.8 346.8h0M92.4 347.9h0M108.1 346.7h0M109.2 344.6h0M96.3 351.0h0M99.7 348.8h0M97.7 346.9h0M98.8 343.8h0M103.2 351.7h0M93.5 351.5h0M99.7 350.5h0M111.6 345.6h0M101.1 346.4h0M93.2 345.0h0M88.1 354.3h0M91.9 348.9h0M101.3 349.4h0M102.0 346.7h0M113.8 348.0h0M106.3 350.9h0M93.7 354.1h0M97.7 354.0h0M95.9 354.1h0M100.3 350.4h0M108.4 347.2h0M89.3 349.5h0M105.6 351.5h0M100.5 347.2h0M104.3 352.8h0M98.8 349.4h0M98.5 351.3h0M109.0 348.3h0M101.6 348.9h0M99.5 343.7h0M101.3 351.0h0M100.6 354.4h0M87.6 358.5h0M93.0 354.2h0M95.6 343.4h0M95.3 355.0h0M103.1 349.8h0M91.7 350.3h0M98.5 348.2h0M92.9 349.2h0M102.4 347.4h0M97.6 347.8h0M93.5 349.7h0M98.6 356.2h0M102.2 351.9h0M95.4 352.3h0M95.7 353.5h0M102.6 355.4h0M93.9 348.0h0M96.1 347.2h0M110.5 347.5h0M98.8 346.0h0M102.6 343.3h0M103.9 345.2h0M93.7 351.5h0M93.6 352.4h0M95.9 349.3h0M97.6 351.7h0M89.2 351.1h0M93.4 348.2h0M102.4 355.8h0M100.9 348.9h0M87.7 354.1h0M100.0 344.2h0M106.7 349.2h0M95.4 343.2h0M97.4 353.2h0M114.9 353.0h0M94.0 347.7h0M88.4 350.6h0M91.4 354.6h0M106.3 343.1h0M103.8 344.4h0M90.0 350.8h0M99.2 350.4h0M92.1 356.5h0M93.4 348.4h0M108.1 348.7h0M91.3 351.2h0M101.5 346.2h0M93.8 355.7h0M95.0 345.2h0M102.0 347.9h0M93.2 354.6h0M90.4 348.7h0M102.3 352.2h0M105.8 346.7h0M91.5 351.7h0M100.7 346.8h0M89.7 349.7h0M100.1 349.5h0M95.7 354.4h0M89.5 354.5h0M88.1 351.8h0M104.9 347.5h0M96.5 351.2h0M101.4 351.6h0M88.7 350.6h0M109.3 351.2h0M113.0 345.3h0M91.2 346.9h0M93.2 351.7h0M93.0 346.1h0M103.2 352.0h0M101.0 347.3h0M99.6 353.3h0M95.7 347.8h0M107.2 351.2h0M101.1 345.8h0M90.0 354.8h0M94.1 357.4h0M99.8 353.5h0M92.9 341.1h0M100.3 349.6h0M98.8 353.2h0M97.8 354.3h0M97.9 352.2h0M95.0 349.1h0M99.9 344.3h0M91.2 348.6h0M94.5 344.2h0M94.1 351.2h0M93.0 352.4h0M93.0 353.0h0M110.8 348.2h0M106.5 347.7h0M96.0 353.7h0M92.2 351.1h0M101.8 350.6h0M98.0 347.6h0M104.7 349.3h0M86.4 353.1h0M98.3 347.9h0M98.9 349.8h0M87.8 349.3h0M99.2 350.2h0M97.5 350.9h0M97.4 350.3h0M99.1 347.1h0M103.9 344.8h0M108.5 342.7h0M100.7 347.5h0M111.4 342.7h0M100.4 349.8h0M93.3 344.2h0M95.9 352.2h0M104.7 338.8h0M92.5 353.9h0M85.7 352.0h0M107.4 342.6h0M100.3 346.2h0M112.9 347.0h0M98.3 348.4h0M99.8 355.2h0M97.5 349.9h0M88.5 347.6h0M86.1 354.5h0M92.7 352.2h0M105.2 353.7h0M100.9 342.9h0M98.1 348.7h0M93.3 346.5h0M94.3 351.7h0M105.9 345.2h0M87.3 354.3h0M105.6 350.5h0M98.6 347.7h0M98.1 344.0h0M107.3 343.3h0M94.3 345.9h0M97.5 349.2h0M99.1 347.8h0M90.5 350.3h0M96.2 347.2h0M100.7 346.9h0M92.6 353.2h0M97.7 348.2h0M96.3 351.8h0M108.5 347.9h0M97.4 353.6h0M93.9 352.2h0M99.4 344.2h0M87.8 350.9h0M98.8 348.3h0M88.3 347.8h0M98.8 348.9h0M92.6 351.5h0M115.8 348.4h0M92.7 350.4h0M93.1 345.7h0M85.6 347.7h0M96.9 346.3h0M103.2 357.8h0M88.6 351.3h0M104.8 347.6h0M111.0 342.2h0M91.0 354.7h0M106.8 343.7h0M94.4 347.0h0M86.4 354.0h0M92.9 349.4h0M113.3 353.2h0M94.0 349.2h0M85.9 358.1h0M97.4 345.8h0M94.6 350.0h0M92.9 349.6h0M103.7 350.5h0M94.5 353.4h0M93.6 347.7h0M88.9 357.1h0M86.6 354.0h0M100.8 344.2h0M91.3 352.6h0M105.7 347.1h0M107.7 349.2h0M101.5 349.5h0M95.2 347.6h0M104.0 351.5h0M93.5 343.5h0M97.9 346.9h0M101.3 349.3h0M99.8 346.5h0M106.8 346.9h0M87.0 351.5h0M88.4 349.2h0M97.8 351.9h0M96.6 345.3h0M91.9 355.5h0M90.1 349.5h0M96.0 353.7h0M94.7 351.6h0M99.4 348.3h0M93.8 351.4h0M100.3 351.0h0M103.5 346.8h0M97.8 342.6h0M97.3 348.1h0M102.7 343.6h0M97.7 350.4h0M107.2 348.1h0M101.9 344.3h0M93.7 355.0h0M94.9 348.8h0M87.2 351.2h0M85.6 350.8h0M91.2 355.9h0M98.2 349.1h0M98.1 342.2h0M90.7 348.5h0M100.9 347.1h0M104.3 350.0h0M102.1 347.9h0M91.9 350.0h0M88.7 351.7h0M91.1 352.7h0M109.9 344.1h0M90.3 352.9h0M101.3 346.8h0M98.7 351.8h0M106.0 343.9h0M100.9 342.7h0M101.8 348.9h0M96.5 348.4h0M99.7 355.2h0M89.7 353.0h0M97.4 350.1h0M93.6 357.4h0M97.9 351.7h0M102.1 345.7h0M97.6 349.4h0M88.0 352.1h0M93.0 355.2h0M92.8 353.1h0M91.5 351.0h0M103.1 345.4h0M108.1 347.1h0M90.5 346.7h0M101.0 352.7h0M100.5 348.9h0M88.7 355.8h0M102.8 346.2h0M93.0 355.7h0M101.6 348.4h0M94.6 346.2h0M93.2 355.0h0M113.1 346.5h0M102.5 350.3h0M97.4 352.1h0M89.2 358.7h0M97.4 352.3h0M111.3 345.6h0M96.8 345.5h0M102.4 352.9h0M104.0 348.5h0M86.0 355.2h0M92.6 353.8h0M107.5 356.2h0M102.9 349.7h0M98.6 348.5h0M97.9 352.1h0M96.5 351.2h0M104.2 342.7h0M86.5 350.5h0M98.9 344.5h0M106.5 346.4h0M102.6 350.3h0M105.0 354.6h0M86.0 357.3h0M103.8 352.3h0M98.0 347.8h0M101.5 345.3h0M98.7 351.4h0M92.7 349.2h0M99.4 352.8h0M97.6 353.2h0M101.9 346.3h0M97.9 350.2h0M97.6 350.6h0M91.2 349.2h0M91.6 353.6h0M95.3 350.8h0M90.8 353.5h0M99.5 344.3h0M87.0 353.2h0M93.7 353.5h0M98.0 346.5h0M94.6 353.4h0M92.6 349.5h0M100.0 350.7h0M108.3 340.3h0M93.3 351.8h0M104.6 344.2h0M103.4 343.8h0M92.6 349.1h0M97.2 350.7h0M105.7 347.3h0M86.2 352.9h0M92.4 346.1h0M94.7 352.2h0M98.1 353.3h0M90.8 354.1h0M91.2 354.5h0M97.6 346.6h0M90.8 345.3h0M106.2 349.0h0M99.3 350.5h0M95.2 344.7h0M90.9 350.8h0M104.7 348.7h0M102.2 349.2h0M95.7 348.6h0M98.2 353.3h0M99.9 351.3h0M86.9 355.4h0M98.7 349.8h0M98.3 350.4h0M87.4 349.2h0M90.9 351.1h0M101.5 346.4h0M110.6 342.1h0M108.3 349.4h0M105.1 346.5h0M100.1 351.8h0M86.9 351.1h0M110.4 347.4h0M91.7 346.5h0M92.4 355.0h0M106.0 351.1h0M107.0 350.1h0M100.2 347.8h0M91.8 347.1h0M112.6 353.2h0M115.3 346.6h0M102.5 346.3h0M101.3 349.3h0M97.7 349.7h0M88.8 340.3h0M95.3 348.4h0M108.1 344.8h0M88.7 345.3h0M93.9 356.2h0M92.0 348.1h0M98.1 351.0h0M98.8 342.8h0M95.6 343.5h0M106.7 352.5h0M90.0 351.5h0M101.2 353.5h0M90.5 354.3h0M95.5 354.5h0M91.6 347.2h0M101.2 350.4h0M96.0 349.0h0M90.6 353.1h0M96.1 353.5h0M90.8 349.2h0M104.1 355.2h0M87.5 345.3h0M89.1 352.6h0M107.8 345.1h0M95.5 356.4h0M86.0 354.2h0M90.6 350.4h0M96.7 351.2h0M102.6 347.5h0M96.6 353.2h0M102.2 350.4h0M106.6 344.2h0M106.9 346.4h0M96.6 348.2h0M94.7 354.8h0M107.2 350.9h0M115.8 347.0h0M88.9 352.4h0M100.3 354.2h0M98.2 342.8h0M108.5 344.4h0M106.1 349.7h0M102.8 342.9h0M102.0 339.2h0M101.2 349.5h0M104.5 349.0h0M94.9 352.8h0M93.5 352.1h0M102.2 350.5h0M96.3 350.3h0M98.0 345.4h0M91.4 349.2h0M99.0 343.1h0M102.7 348.7h0M94.8 348.8h0M91.4 352.3h0M91.2 354.9h0M93.7 355.3h0M104.0 348.4h0M101.2 347.1h0M102.7 349.8h0M91.2 352.1h0M89.6 352.5h0M89.5 352.1h0M100.7 345.3h0M90.5 346.9h0M96.1 349.1h0M90.8 347.5h0M98.0 349.1h0M97.0 350.2h0M94.2 347.0h0M98.8 350.4h0M85.9 350.5h0M108.2 348.4h0M88.0 351.0h0M93.4 347.5h0M112.5 344.1h0M101.4 353.0h0M98.6 351.0h0M97.7 347.0h0M99.3 348.6h0M102.8 349.6h0M109.7 351.5h0M101.1 348.5h0M91.4 350.1h0M97.0 352.1h0M90.0 347.4h0M93.4 353.3h0M93.4 347.1h0M103.8 345.1h0M97.7 346.2h0M91.4 353.0h0M96.2 345.9h0M94.5 350.8h0M106.4 344.2h0M116.2 342.4h0M96.6 354.1h0M99.3 345.2h0M108.3 344.3h0M97.9 347.4h0M95.7 347.8h0M104.0 343.8h0M97.7 349.7h0M102.4 342.6h0M95.5 351.1h0M101.1 353.5h0M103.3 352.0h0M105.4 347.7h0M110.6 344.8h0M106.4 353.5h0M102.5 347.5h0M100.3 356.0h0M86.7 351.7h0M96.3 348.0h0M100.3 351.5h0M86.3 356.0h0M107.3 347.0h0M91.0 346.7h0M102.0 350.3h0M93.5 348.4h0M102.0 349.5h0M105.3 346.8h0M98.3 345.2h0M101.1 344.5h0M104.1 349.1h0M95.7 350.4h0M100.9 354.5h0M104.1 350.4h0M101.9 351.4h0M98.7 349.8h0M92.8 343.0h0M108.2 346.0h0M100.2 349.1h0M103.8 350.1h0M92.0 347.3h0M88.7 357.6h0M96.4 356.8h0M106.5 352.6h0M106.2 345.1h0M101.0 343.2h0M87.3 356.0h0M100.0 353.2h0M93.5 352.1h0M103.6 348.6h0M102.4 346.4h0M90.0 349.6h0M104.1 348.7h0M95.6 348.2h0M102.2 347.4h0M104.8 343.8h0M93.1 357.2h0M101.6 345.8h0M94.1 345.7h0M104.0 348.6h0M101.8 346.0h0M95.4 350.9h0M96.9 352.4h0M89.9 350.5h0M101.8 348.1h0M92.4 344.7h0M89.7 356.9h0M110.0 344.1h0M97.0 357.3h0M89.9 347.4h0M100.4 349.6h0M103.1 348.1h0M95.2 346.3h0M104.7 351.2h0M91.0 349.0h0M95.8 354.5h0M98.0 352.6h0M95.3 352.7h0M101.8 353.5h0M101.7 340.3h0M93.2 350.3h0M92.7 355.0h0M98.2 353.7h0M90.6 349.9h0M96.7 352.2h0M93.6 345.4h0M106.1 346.9h0M86.2 355.7h0M89.3 346.7h0M93.1 350.6h0M98.0 352.8h0M92.0 351.6h0M100.5 348.9h0M100.5 348.8h0M90.9 352.0h0M89.6 349.1h0M89.6 354.0h0M104.8 346.1h0M101.1 352.1h0M102.6 355.3h0M112.3 340.5h0M99.5 352.7h0M94.8 349.3h0M88.8 358.4h0M103.3 349.9h0M97.5 350.9h0M97.6 350.8h0M113.3 340.2h0M98.1 344.8h0M93.2 346.4h0M96.4 348.4h0M101.0 349.7h0M97.6 348.2h0M106.4 348.9h0M100.9 342.2h0M95.6 355.5h0M100.5 347.8h0M98.1 353.2h0M115.2 347.6h0M90.1 355.5h0M92.7 350.1h0M97.7 356.4h0M95.8 349.6h0M90.4 351.5h0M101.7 345.3h0M93.3 348.6h0M103.0 345.2h0M95.3 347.7h0M95.1 355.3h0M97.5 352.4h0M93.7 350.2h0M110.8 350.9h0M101.8 344.9h0M104.4 348.4h0M104.3 350.3h0M99.6 357.7h0M97.2 347.1h0M102.1 343.5h0M99.7 345.5h0M102.4 348.1h0M92.1 343.0h0M87.7 354.5h0M98.9 350.8h0M102.5 345.2h0M103.4 345.9h0M107.2 340.8h0M87.3 357.1h0M92.7 349.6h0M101.1 350.3h0M89.0 351.8h0M92.2 348.7h0M96.1 348.9h0M92.9 353.0h0M100.4 348.7h0M92.6 357.0h0M101.1 344.3h0M97.9 345.6h0M100.5 347.1h0M93.7 352.6h0M94.4 344.1h0M104.4 348.1h0M92.8 350.3h0M97.6 348.5h0M105.2 345.5h0M93.1 354.9h0M96.6 348.9h0M106.0 346.7h0M93.4 354.2h0M101.9 342.8h0M97.0 346.8h0M108.8 347.5h0M97.0 353.5h0M100.0 350.6h0M105.1 350.7h0M101.2 347.4h0M95.4 349.5h0M97.1 346.0h0M101.9 344.8h0M117.9 347.7h0M94.6 349.3h0M87.2 351.9h0M95.3 341.3h0M97.9 353.6h0M105.1 344.4h0M108.7 341.2h0M93.8 345.4h0M98.3 349.7h0M110.6 349.6h0M92.1 351.5h0M105.2 351.5h0M102.0 346.1h0M89.3 347.0h0M86.9 349.4h0M103.1 350.0h0M93.1 350.6h0M89.2 353.0h0M95.8 348.6h0M92.9 349.4h0M94.4 352.8h0M95.4 352.8h0M87.5 355.5h0M101.3 350.7h0M91.6 346.5h0M106.0 347.1h0M101.1 351.4h0M104.6 349.5h0M94.2 352.9h0M111.4 350.5h0M97.8 351.8h0M93.9 350.6h0M101.0 351.4h0M91.6 347.8h0M98.2 346.4h0M93.2 351.4h0M112.4 349.4h0M100.1 347.9h0M96.8 352.2h0M102.0 346.2h0M95.2 346.7h0M97.7 348.4h0M90.0 352.3h0M102.0 350.4h0M104.9 347.3h0M100.1 347.9h0M86.0 349.5h0M94.1 355.7h0M92.5 350.3h0M100.7 351.1h0M97.2 347.1h0M98.9 348.4h0M94.5 354.7h0M91.9 350.4h0M101.2 348.0h0M98.0 351.8h0M98.4 351.8h0M88.7 355.4h0M100.1 346.2h0M93.1 355.0h0M95.6 352.3h0M91.7 351.6h0M99.4 348.9h0M94.8 353.2h0M106.5 350.5h0M100.8 345.7h0M98.2 349.1h0M85.6 356.6h0M98.9 342.5h0M92.8 347.4h0M94.7 353.1h0M100.5 349.9h0M102.9 344.8h0M100.8 353.0h0M98.7 352.2h0M105.2 347.6h0M96.3 340.9h0M91.6 348.5h0M100.9 349.9h0M96.8 350.6h0M93.6 352.1h0M101.6 353.7h0M98.0 353.8h0M105.1 342.2h0M96.9 348.4h0M92.7 350.4h0M94.5 352.1h0M90.7 356.8h0M93.6 355.9h0M97.4 348.7h0M95.1 351.4h0M98.7 351.3h0M96.0 351.1h0M98.9 350.5h0M94.1 344.5h0M95.9 356.0h0M86.3 351.2h0M115.6 344.3h0M98.9 346.7h0M98.0 350.1h0M100.8 348.7h0M100.5 351.2h0M86.8 346.6h0M91.1 347.6h0M89.9 350.5h0M103.8 352.3h0M109.8 342.7h0M94.6 346.8h0M93.8 345.6h0M102.8 347.9h0M101.7 340.1h0M99.3 347.5h0M96.9 353.7h0M98.8 347.1h0M96.1 343.9h0M98.3 349.9h0M96.1 346.5h0M94.4 345.5h0M89.3 355.1h0M87.6 353.7h0M97.2 348.4h0M103.3 348.9h0M91.4 349.6h0M100.2 350.2h0M106.1 352.3h0M101.4 348.4h0M90.6 354.3h0M91.8 353.4h0M94.8 358.6h0M100.1 344.9h0M105.8 341.9h0M102.6 353.8h0M100.4 349.4h0M93.0 355.7h0M86.1 352.3h0M100.4 355.0h0M104.1 350.8h0M110.2 348.2h0M112.1 342.6h0M91.0 348.3h0M108.5 354.8h0M101.6 347.1h0M97.2 346.9h0M101.7 353.5h0M112.8 343.6h0M93.0 350.6h0M93.3 355.9h0M100.1 348.0h0M97.0 349.0h0M92.3 344.2h0M99.0 355.1h0M107.0 342.4h0M92.9 356.6h0M98.1 345.9h0M88.2 353.5h0M112.4 346.0h0M88.8 350.7h0M93.9 351.0h0M96.0 352.2h0M96.1 350.0h0M100.7 348.3h0M92.7 349.2h0M105.6 358.1h0M99.3 351.6h0M92.0 352.8h0M93.0 349.1h0M94.2 348.3h0M97.8 349.2h0M103.1 347.4h0M101.8 346.1h0M107.9 348.7h0M92.2 353.1h0M89.9 346.1h0M97.3 343.6h0M106.6 345.2h0M98.6 348.4h0M88.7 355.8h0M104.4 349.3h0M96.0 348.2h0M101.5 350.5h0M94.8 351.1h0M104.2 347.0h0M98.0 349.7h0M90.4 341.6h0M108.1 347.4h0M98.7 352.6h0M99.6 343.2h0M93.7 342.8h0M92.8 351.1h0M97.4 348.8h0M104.7 346.3h0M94.0 349.9h0M99.3 350.5h0M99.4 348.7h0M88.7 355.3h0M97.6 353.4h0M100.5 349.0h0M109.4 345.4h0M116.7 342.6h0M93.4 353.7h0M104.6 348.8h0M105.4 352.1h0M108.6 346.1h0M99.8 347.6h0M118.1 347.3h0M100.2 350.0h0M94.8 346.6h0M92.0 348.3h0M91.4 350.9h0M100.1 353.3h0M95.1 345.9h0M106.3 345.1h0M104.2 346.8h0M102.2 346.1h0M108.9 346.9h0M104.6 341.9h0M110.8 344.2h0M124.4 339.2h0M107.2 346.8h0M106.0 350.8h0M104.2 347.7h0M102.4 345.3h0M107.8 342.7h0M114.2 337.8h0M114.8 344.5h0M112.7 341.2h0M115.4 344.7h0M101.2 349.2h0M118.3 345.0h0M107.9 351.3h0M97.4 350.2h0M112.4 344.5h0M107.4 348.8h0M118.2 345.6h0M104.6 349.6h0M115.4 344.5h0M111.9 346.3h0M102.8 345.8h0M113.4 345.9h0M105.9 347.2h0M107.4 348.1h0M114.8 340.3h0M100.5 349.4h0M117.7 342.3h0M106.0 348.9h0M109.1 347.8h0M121.3 342.0h0M107.5 345.0h0M95.6 348.1h0M104.2 348.3h0M113.5 345.0h0M111.5 344.8h0M111.8 345.9h0M120.4 345.2h0M101.1 342.5h0M110.0 347.8h0M115.2 347.2h0M95.9 347.7h0M109.5 346.9h0M115.9 342.9h0M108.1 347.2h0M104.8 346.1h0M106.7 349.9h0M106.6 346.0h0M106.4 351.8h0M98.2 345.4h0M108.5 346.0h0M106.5 344.4h0M103.7 344.5h0M103.5 348.8h0M128.4 345.6h0M105.7 347.6h0M115.5 343.7h0M108.1 347.2h0M110.6 345.8h0M107.3 347.4h0M115.6 343.6h0M102.8 350.1h0M109.1 346.0h0M107.6 346.3h0M103.5 354.2h0M112.4 343.8h0M105.3 350.7h0M108.0 345.8h0M115.0 345.0h0M113.9 345.3h0M113.0 343.2h0M110.3 347.7h0M110.7 345.5h0M106.2 347.4h0M110.8 342.3h0M107.5 353.4h0M111.1 345.2h0M101.7 346.1h0M105.0 349.3h0M110.1 345.7h0M111.2 346.1h0M118.3 343.3h0M101.2 344.5h0M108.7 347.1h0M112.7 345.3h0M118.7 339.8h0M104.0 348.4h0M116.7 343.4h0M114.5 343.4h0M116.2 341.7h0M119.5 344.7h0M108.4 344.1h0M103.4 347.7h0M112.8 344.4h0M109.0 349.5h0M106.1 348.2h0M92.3 350.3h0M112.9 349.8h0M126.2 345.6h0M104.4 352.3h0M115.4 341.4h0M121.9 343.0h0M107.2 341.4h0M124.1 340.1h0M105.8 349.8h0M110.9 344.2h0M105.4 346.0h0M110.8 343.7h0M113.5 344.3h0M118.4 337.9h0M107.9 344.6h0M115.7 349.2h0M106.3 352.4h0M113.4 345.7h0M113.1 344.0h0M108.2 345.4h0M98.1 352.0h0M116.1 344.9h0M109.7 343.8h0M111.6 342.1h0M102.3 347.4h0M102.6 349.8h0M103.2 343.6h0M107.2 344.1h0M110.4 347.3h0M105.7 347.3h0M106.5 344.8h0M112.0 343.4h0M100.7 349.8h0M112.4 346.0h0M101.5 344.8h0M110.4 348.0h0M112.1 346.7h0M102.7 347.9h0M111.3 341.2h0M116.7 337.3h0M99.7 348.7h0M106.3 348.3h0M106.7 347.3h0M127.7 342.2h0M113.0 345.3h0M103.6 347.0h0M111.7 346.5h0M101.9 350.7h0M108.8 343.3h0M115.2 346.9h0M107.3 347.2h0M115.7 343.1h0M114.8 347.1h0M109.7 344.9h0M97.1 351.1h0M110.3 350.0h0M116.6 344.2h0M99.5 346.7h0M116.7 345.3h0M111.9 342.3h0M107.3 350.2h0M95.3 350.5h0M111.9 347.5h0M121.3 339.6h0M108.3 345.2h0M114.8 347.7h0M113.4 348.6h0M116.2 340.3h0M103.6 346.3h0M103.2 346.1h0M110.9 340.8h0M115.0 342.9h0M102.1 349.2h0M98.8 349.0h0M104.7 349.1h0M120.3 345.0h0M112.4 347.6h0M109.9 348.0h0M107.7 347.1h0M106.6 343.5h0M107.0 343.6h0M101.0 349.3h0M113.4 341.6h0M118.2 344.8h0M110.3 344.8h0M116.8 342.8h0M100.6 342.5h0M116.3 346.4h0M118.8 344.3h0M90.9 349.3h0M94.3 350.8h0M121.3 343.4h0M111.3 339.0h0M111.7 342.8h0M104.5 350.3h0M111.9 342.1h0M114.0 342.3h0M114.0 349.7h0M114.5 341.3h0M113.5 347.3h0M106.2 346.0h0M101.4 343.7h0M103.5 345.6h0M113.6 344.1h0M110.2 345.5h0M114.6 344.8h0M106.9 342.7h0M111.9 344.8h0M118.8 346.3h0M125.9 337.5h0M101.0 345.4h0M111.0 349.4h0M112.2 345.6h0M111.1 341.0h0M104.6 344.7h0M108.0 344.0h0M104.0 348.5h0M100.5 350.2h0M110.3 347.5h0M105.5 349.8h0M114.3 345.8h0M107.3 347.1h0M113.2 346.5h0M111.6 342.2h0M111.6 349.3h0M115.9 343.4h0M113.3 344.6h0M118.2 344.5h0M97.7 345.6h0M116.5 341.8h0M119.1 342.8h0M97.8 348.0h0M103.4 345.6h0M100.8 347.9h0M111.2 347.2h0M113.6 349.2h0M106.5 348.6h0M116.6 346.6h0M100.4 350.9h0M107.6 350.8h0M107.8 348.9h0M106.6 339.1h0M126.1 342.5h0M103.7 347.6h0M104.9 348.7h0M107.3 347.4h0M124.5 339.5h0M118.1 346.0h0M110.0 347.7h0M102.8 347.7h0M116.3 341.7h0M121.3 339.2h0M116.5 344.6h0M110.2 349.9h0M118.5 340.0h0M108.6 346.0h0M110.0 346.4h0M114.2 345.8h0M107.8 349.4h0M99.0 351.5h0M115.3 341.3h0M106.6 344.7h0M115.4 347.9h0M113.2 344.7h0M110.9 342.6h0M109.0 346.8h0M107.5 348.0h0M105.4 350.7h0M99.8 350.8h0M111.0 346.7h0M103.9 347.0h0M100.9 346.5h0M106.7 343.8h0M107.4 348.5h0M102.0 348.1h0M101.1 345.5h0M110.2 344.7h0M102.5 348.5h0M115.9 344.2h0M107.8 342.5h0M116.3 348.1h0M102.1 344.5h0M108.9 349.0h0M100.0 345.2h0M112.6 344.1h0M120.6 345.2h0M98.5 351.4h0M110.6 346.4h0M108.3 346.0h0M120.8 341.1h0M97.7 350.8h0M110.6 349.6h0M113.3 343.2h0M113.8 337.4h0M108.8 348.4h0M103.0 351.5h0M108.8 344.7h0M104.3 346.1h0M114.3 347.8h0M110.5 347.5h0M111.1 343.2h0M108.1 341.9h0M114.5 342.1h0M116.4 342.0h0M103.3 342.3h0M111.4 343.7h0M97.2 344.9h0M108.3 344.7h0M113.5 350.4h0M105.1 343.9h0M112.9 345.3h0M104.7 343.0h0M108.3 349.1h0M98.9 348.0h0M123.9 346.8h0M118.0 342.4h0M110.4 347.9h0M117.4 344.1h0M107.6 339.7h0M111.3 346.4h0M117.5 346.5h0M114.1 341.5h0M105.6 349.6h0M111.1 349.3h0M107.3 343.1h0M104.3 345.8h0M112.6 348.3h0M103.4 352.2h0M117.4 344.8h0M109.2 349.4h0M103.4 349.7h0M106.8 344.4h0M113.2 340.2h0M115.3 348.0h0M111.1 343.1h0M113.2 342.6h0M106.9 344.1h0M111.3 343.0h0M111.5 347.1h0M108.3 346.7h0M105.5 349.1h0M113.0 343.0h0M99.5 348.5h0M107.8 342.5h0M99.0 344.3h0M108.2 343.3h0M101.8 345.0h0M106.8 340.1h0M108.2 345.4h0M109.9 345.6h0M115.0 340.2h0M121.7 338.2h0M101.6 349.2h0M108.8 345.2h0M115.7 340.6h0M100.0 347.9h0M106.0 344.8h0M115.7 343.1h0M113.7 340.2h0M108.9 344.5h0M111.7 347.0h0M99.6 345.9h0M107.5 354.0h0M123.7 341.6h0M105.3 342.2h0M105.8 344.2h0M104.0 346.3h0M116.6 344.0h0M108.4 341.9h0M108.6 347.4h0M102.6 346.5h0M108.9 349.1h0M111.7 345.1h0M101.6 345.7h0M103.5 344.0h0M112.5 344.3h0M118.1 345.1h0M100.2 349.9h0M122.2 343.4h0M117.5 342.9h0M110.6 345.1h0M106.6 346.3h0M125.9 316.0h0M124.1 316.0h0M120.4 316.5h0M121.4 314.6h0M126.9 321.5h0M122.2 311.8h0M121.5 317.0h0M130.0 316.1h0M126.4 312.8h0M123.2 319.1h0M123.5 318.6h0M122.7 321.5h0M122.6 319.2h0M126.8 316.2h0M124.3 316.6h0M122.2 319.8h0M128.9 317.8h0M123.0 312.1h0M123.9 317.3h0M125.5 315.5h0M124.6 313.6h0M118.8 319.2h0M123.8 320.6h0M123.1 315.7h0M122.4 314.6h0M126.6 321.6h0M125.5 318.9h0M122.7 321.1h0M129.1 313.0h0M123.0 313.9h0M119.1 320.7h0M125.7 314.9h0M126.3 322.7h0M122.2 316.4h0M129.1 313.3h0M124.3 319.6h0M124.3 319.8h0M122.0 316.3h0M131.1 317.0h0M125.3 317.3h0M122.4 316.1h0M130.2 316.9h0M128.8 318.7h0M127.2 318.2h0M129.9 320.6h0M122.4 320.9h0M131.4 313.5h0M129.2 311.3h0M123.7 319.5h0M129.6 318.8h0M125.6 312.8h0M120.7 322.8h0M121.9 320.7h0M125.6 318.0h0M123.2 317.1h0M120.7 322.7h0M125.3 319.9h0M123.7 317.3h0M129.0 319.5h0M126.8 312.8h0M125.1 318.5h0M121.1 316.9h0M121.9 318.3h0M127.6 317.5h0M119.4 317.6h0M128.7 320.4h0M120.7 316.6h0M118.8 317.3h0M124.0 316.9h0M119.3 319.2h0M128.4 320.2h0M124.8 321.4h0M128.0 316.2h0M120.9 321.4h0M125.9 318.4h0M126.4 317.3h0M125.5 319.6h0M123.9 319.6h0M122.0 319.6h0M129.1 318.1h0M124.9 320.9h0M118.8 318.9h0M122.8 319.6h0M121.6 320.9h0M119.6 323.0h0M125.3 313.1h0M122.6 317.1h0M118.7 318.1h0M120.7 318.7h0M122.2 321.8h0M120.9 320.6h0M125.1 312.7h0M132.3 315.0h0M123.9 321.8h0M127.1 313.3h0M125.3 313.5h0M129.1 314.7h0M126.7 321.5h0M124.5 313.8h0M123.6 318.6h0M126.5 316.6h0M124.3 318.1h0M121.2 316.7h0M128.1 321.7h0M124.0 313.6h0M130.7 317.5h0M131.3 312.0h0M128.2 313.7h0M122.3 316.0h0M121.5 314.7h0M119.3 319.8h0M125.1 325.5h0M126.0 320.4h0M127.0 316.3h0M114.2 331.3h0M122.8 331.2h0M111.7 328.1h0M121.8 333.1h0M120.5 323.9h0M122.3 330.4h0M124.1 329.9h0M112.5 325.7h0M126.1 335.6h0M118.8 332.2h0M114.5 326.3h0M120.7 339.9h0M114.9 324.7h0M125.2 331.7h0M122.1 326.4h0M119.2 332.7h0M124.0 333.8h0M126.1 336.3h0M111.5 328.2h0M130.1 336.2h0M116.0 322.8h0M114.0 329.6h0M114.0 325.3h0M116.6 323.7h0M118.2 331.5h0M119.2 328.4h0M117.5 330.9h0M116.6 328.1h0M122.0 331.6h0M124.7 332.5h0M121.5 335.9h0M122.8 329.9h0M118.0 336.6h0M122.8 336.0h0M126.5 336.6h0M113.6 328.9h0M120.2 327.3h0M119.0 327.8h0M120.7 331.8h0M113.7 328.9h0M118.8 335.4h0M117.2 328.4h0M124.9 332.8h0M123.8 331.0h0M114.6 324.0h0M115.7 328.7h0M131.0 344.7h0M121.2 327.9h0M118.3 329.7h0M119.2 326.0h0M125.6 338.1h0M125.2 333.6h0M120.0 330.0h0M126.7 331.2h0M116.3 325.1h0M118.3 339.6h0M115.3 323.9h0M125.8 332.9h0M124.5 326.4h0M110.3 323.8h0M120.8 333.1h0M125.9 329.1h0M123.7 336.0h0M120.7 330.8h0M123.1 333.4h0M132.0 333.3h0M121.8 334.2h0M124.0 332.4h0M119.7 333.2h0M128.6 334.2h0M123.1 327.0h0M109.1 325.5h0M122.9 325.2h0M127.2 330.8h0M120.7 336.3h0M118.1 327.6h0M120.9 329.8h0M117.7 331.9h0M121.0 330.5h0M111.7 333.0h0M120.5 334.1h0M125.7 331.1h0M121.5 332.2h0M111.7 326.2h0M114.8 323.2h0M117.3 330.1h0M123.8 332.2h0M116.6 331.6h0M118.1 327.3h0M122.4 340.1h0M115.2 335.4h0M116.9 331.0h0M121.8 328.2h0M117.2 331.1h0M127.2 335.9h0M122.5 334.2h0M120.8 331.0h0M109.1 320.9h0M127.3 334.0h0M131.5 334.0h0M115.5 339.3h0M116.1 340.7h0M118.7 338.3h0M120.4 339.8h0M116.5 341.3h0M118.7 341.3h0M116.9 341.8h0M116.3 339.9h0M114.3 341.8h0M116.7 338.7h0M112.7 342.0h0M117.1 340.8h0M112.4 341.4h0M121.8 338.7h0M118.3 340.5h0M115.1 339.9h0M119.4 340.9h0M116.1 340.7h0M115.0 340.4h0M120.2 341.1h0M117.0 341.3h0M116.1 339.7h0M117.5 339.6h0M117.6 339.6h0M115.2 341.5h0M117.4 340.0h0M111.8 339.3h0M119.2 340.6h0M122.5 340.8h0M119.3 339.2h0M122.0 340.4h0M110.0 341.8h0M123.8 339.7h0M113.4 338.6h0M120.0 341.5h0M119.3 340.9h0M110.9 338.3h0M115.7 339.0h0M119.4 340.8h0M112.9 340.3h0M120.0 342.0h0M118.5 339.1h0M117.6 340.2h0M122.9 339.4h0M119.7 338.3h0M122.4 337.8h0M110.7 339.6h0M125.3 337.7h0M122.7 341.2h0M110.5 339.9h0M126.3 337.8h0M116.7 340.7h0M119.7 340.3h0M116.5 341.8h0M124.3 340.1h0M114.4 339.0h0M113.5 340.4h0M119.3 340.0h0M119.2 340.3h0M115.9 342.7h0M122.1 348.1h0M87.8 319.2h0M118.0 312.2h0M109.2 357.4h0M109.4 350.6h0M87.5 340.9h0M103.6 336.7h0M91.5 334.8h0M92.9 336.4h0M132.3 320.2h0M122.1 328.9h0M107.4 348.3h0M87.2 330.4h0M130.8 323.1h0M124.7 344.4h0M94.9 343.1h0M110.4 319.1h0M102.7 320.9h0M106.7 324.5h0M104.0 315.6h0M103.6 330.8h0M120.1 314.2h0M104.6 353.3h0M124.3 318.6h0M98.2 358.6h0M120.8 318.9h0M118.8 320.0h0M93.3 330.9h0M101.7 311.9h0M108.4 313.9h0M98.0 329.2h0M129.6 339.9h0M116.2 317.5h0M121.5 348.0h0M93.3 326.2h0M118.2 334.3h0M128.9 345.9h0M92.8 354.8h0M107.8 346.5h0M88.4 349.9h0M103.9 342.9h0M121.9 348.4h0M87.4 327.8h0M101.1 348.0h0M131.6 312.6h0" stroke="#000" stroke-width="0.6" stroke-linecap="round" fill="none"/>
</g>
<path d="M109.4 309.6V360.4M84.0 344H134.7" stroke="#000" stroke-width="1.4" fill="none"/>
<rect x="84.0" y="309.6" width="50.69999999999999" height="50.799999999999955" fill="none" stroke="#000" stroke-width="1.6"/>
<text x="87.1" y="339.6" font-size="5.6" font-weight="bold">69</text>
<text x="127.3" y="339.2" font-size="5.6" font-weight="bold">17</text>
<text x="127.3" y="358.4" font-size="5.6" font-weight="bold">12</text>
<rect x="146.5" y="309.6" width="52.5" height="50.799999999999955" fill="#fff" stroke="none"/>
<clipPath id="k22"><rect x="146.5" y="309.6" width="52.5" height="50.799999999999955"/></clipPath><g clip-path="url(#k22)">
<ellipse cx="175.9" cy="318.7" rx="8.9" ry="10.2" transform="rotate(-20 175.9 318.7)" fill="url(#rg)" opacity="0.65"/>
<ellipse cx="153.3" cy="346.7" rx="6.3" ry="6.6" transform="rotate(0 153.3 346.7)" fill="url(#rg)" opacity="0.35"/>
<path d="M171.2 318.8h0M170.8 323.6h0M167.4 317.0h0M178.1 320.3h0M178.5 320.0h0M178.8 318.9h0M184.7 320.9h0M184.5 320.0h0M176.0 319.0h0M173.5 321.1h0M179.1 320.1h0M181.1 324.2h0M173.7 320.5h0M178.7 316.5h0M170.2 317.3h0M179.3 330.4h0M166.2 324.5h0M172.0 317.2h0M175.0 314.9h0M178.3 316.9h0M167.7 321.7h0M177.4 316.7h0M175.2 322.3h0M182.2 320.0h0M185.9 323.0h0M176.8 316.8h0M175.7 323.7h0M171.7 320.3h0M174.7 318.5h0M170.0 320.9h0M174.4 315.5h0M172.3 322.2h0M180.7 325.4h0M175.9 323.3h0M173.8 325.3h0M175.9 323.1h0M177.6 322.1h0M173.3 321.3h0M174.8 318.1h0M174.1 322.0h0M180.5 320.0h0M175.3 312.0h0M184.3 319.5h0M184.8 317.1h0M174.6 325.0h0M175.6 318.0h0M174.0 320.1h0M177.3 313.0h0M179.8 324.1h0M178.6 330.4h0M176.0 318.1h0M181.2 322.5h0M172.0 321.7h0M179.4 313.4h0M182.8 324.7h0M175.6 324.8h0M171.9 319.1h0M168.1 311.6h0M174.2 330.3h0M173.1 325.1h0M178.6 318.1h0M175.3 325.2h0M179.4 317.0h0M174.9 324.8h0M171.6 316.2h0M174.6 324.0h0M177.1 320.1h0M177.6 318.2h0M179.1 320.8h0M171.1 318.4h0M184.5 318.5h0M176.1 325.6h0M176.3 325.4h0M174.6 321.1h0M171.6 323.7h0M185.3 324.1h0M175.2 315.2h0M169.0 319.0h0M178.4 323.4h0M170.1 324.5h0M175.2 317.2h0M174.2 323.0h0M169.3 314.3h0M176.4 311.8h0M170.5 321.1h0M171.0 328.2h0M182.8 327.5h0M174.3 320.4h0M182.9 322.0h0M175.3 325.5h0M185.8 318.7h0M186.8 317.5h0M180.3 314.8h0M172.9 322.1h0M171.6 321.6h0M173.2 315.4h0M171.0 328.7h0M170.2 318.4h0M168.8 318.9h0M175.0 317.7h0M176.8 331.1h0M172.0 320.4h0M181.9 322.5h0M183.9 322.2h0M177.2 316.0h0M177.1 317.3h0M182.3 321.4h0M173.8 317.2h0M180.2 323.6h0M176.5 322.6h0M175.6 318.7h0M177.2 322.5h0M170.2 314.8h0M181.5 320.6h0M177.8 317.0h0M174.5 321.7h0M172.9 324.5h0M180.0 317.1h0M176.0 312.9h0M172.7 329.3h0M180.8 317.0h0M185.7 319.4h0M175.5 319.7h0M181.7 311.9h0M179.1 331.2h0M188.3 319.2h0M174.9 322.3h0M178.6 322.1h0M178.3 316.4h0M170.0 318.9h0M177.4 317.3h0M178.5 318.5h0M183.7 322.4h0M182.7 320.7h0M177.5 315.6h0M173.5 320.8h0M168.8 320.8h0M174.0 320.0h0M176.9 311.3h0M173.5 314.7h0M170.0 321.5h0M179.6 319.0h0M174.3 331.6h0M167.3 316.2h0M175.5 322.2h0M177.8 327.2h0M169.8 319.4h0M170.4 321.0h0M173.0 317.6h0M175.7 321.9h0M175.5 311.4h0M178.9 319.5h0M175.4 314.0h0M176.5 323.6h0M175.8 314.7h0M170.7 323.9h0M175.3 317.6h0M169.9 316.3h0M173.3 313.9h0M181.1 320.1h0M181.0 316.9h0M178.1 320.6h0M180.6 325.8h0M165.2 321.6h0M175.0 321.7h0M172.2 324.9h0M176.7 313.9h0M173.7 311.3h0M174.6 328.1h0M174.4 319.5h0M180.3 325.3h0M180.1 319.0h0M188.0 317.2h0M173.7 311.4h0M179.6 328.5h0M176.0 316.0h0M181.6 320.6h0M176.2 322.6h0M181.7 316.5h0M182.0 320.1h0M174.4 322.8h0M171.1 317.0h0M170.5 319.9h0M174.8 315.3h0M160.7 317.2h0M177.4 315.1h0M173.9 322.3h0M183.6 327.6h0M176.2 321.8h0M178.9 318.0h0M179.1 321.6h0M176.0 318.1h0M179.1 311.6h0M176.2 329.3h0M173.7 322.2h0M177.9 317.8h0M168.7 316.6h0M170.9 320.4h0M174.6 320.0h0M176.5 320.4h0M183.7 319.9h0M178.6 320.1h0M171.1 316.4h0M181.6 319.0h0M182.5 323.0h0M175.2 319.2h0M173.8 313.4h0M180.8 319.2h0M176.8 323.0h0M177.9 325.3h0M183.4 320.6h0M176.0 325.3h0M175.3 314.1h0M177.5 316.4h0M176.5 318.9h0M172.8 314.1h0M179.3 312.9h0M174.2 315.1h0M175.2 323.8h0M183.8 316.6h0M174.4 316.5h0M177.0 316.1h0M175.4 319.7h0M170.8 320.4h0M176.1 318.7h0M175.3 317.8h0M176.7 312.1h0M172.7 320.7h0M174.6 318.8h0M179.4 323.8h0M168.6 317.0h0M181.5 316.6h0M182.8 324.6h0M184.2 313.6h0M169.1 317.7h0M173.4 313.2h0M173.6 318.2h0M178.4 321.8h0M178.6 317.8h0M185.2 328.2h0M177.9 317.7h0M179.5 323.5h0M167.5 316.0h0M174.6 318.5h0M172.2 322.8h0M174.4 320.8h0M168.7 322.3h0M176.2 317.0h0M178.9 324.2h0M177.4 315.2h0M176.9 314.4h0M175.9 317.0h0M174.5 314.6h0M171.5 316.3h0M185.2 319.4h0M182.7 313.4h0M174.9 314.5h0M184.2 319.3h0M175.1 320.0h0M174.4 319.4h0M178.8 317.3h0M171.8 319.6h0M178.5 318.3h0M176.8 319.6h0M164.6 325.4h0M166.2 312.7h0M182.9 326.0h0M173.5 319.6h0M170.9 319.7h0M173.1 314.1h0M181.1 325.6h0M168.0 312.3h0M175.5 322.7h0M170.8 311.5h0M171.6 317.7h0M177.6 321.7h0M180.3 323.4h0M164.8 319.7h0M175.7 322.8h0M176.7 317.3h0M173.7 317.0h0M175.9 311.8h0M176.7 321.3h0M175.4 318.8h0M172.7 320.8h0M179.8 326.6h0M169.7 321.8h0M174.8 317.1h0M178.2 319.9h0M173.0 320.6h0M177.5 317.0h0M179.2 321.0h0M173.2 321.1h0M177.8 316.6h0M175.4 322.2h0M171.1 321.4h0M176.8 318.0h0M168.4 322.7h0M174.0 319.4h0M180.1 318.4h0M167.6 311.4h0M186.3 322.8h0M168.0 311.8h0M176.3 317.9h0M177.2 315.8h0M175.1 316.4h0M178.0 324.1h0M178.1 315.7h0M184.3 318.4h0M180.9 321.4h0M181.8 315.6h0M177.8 313.0h0M171.0 318.2h0M183.4 320.4h0M174.3 314.2h0M170.9 311.7h0M181.1 317.6h0M178.8 313.2h0M181.7 323.7h0M175.4 320.4h0M179.9 326.7h0M178.4 318.3h0M176.0 319.6h0M179.7 320.8h0M176.6 323.4h0M178.3 314.5h0M172.9 316.1h0M181.8 317.6h0M180.1 314.3h0M164.1 333.7h0M179.4 319.9h0M176.1 322.2h0M178.1 327.0h0M175.1 318.5h0M174.6 316.5h0M180.7 319.9h0M175.8 315.1h0M181.3 319.7h0M172.3 314.5h0M176.1 316.8h0M176.0 318.2h0M166.7 320.9h0M177.2 316.4h0M175.4 317.9h0M173.4 321.0h0M179.3 321.1h0M174.7 317.8h0M176.1 320.1h0M173.6 319.3h0M184.3 319.0h0M173.7 320.5h0M165.2 320.2h0M170.0 322.9h0M177.2 321.1h0M176.8 316.9h0M172.7 321.3h0M180.4 316.2h0M166.2 318.3h0M174.2 317.4h0M184.5 319.7h0M174.7 324.3h0M177.8 325.9h0M174.3 324.6h0M180.2 314.2h0M170.0 320.1h0M177.2 319.9h0M173.8 312.1h0M179.3 326.1h0M177.2 319.5h0M175.4 326.7h0M168.2 320.1h0M180.1 320.7h0M180.4 317.9h0M182.4 322.2h0M179.2 323.1h0M169.0 319.3h0M174.4 317.7h0M173.2 311.5h0M180.4 315.7h0M171.8 331.8h0M172.2 316.9h0M182.2 314.2h0M175.6 324.8h0M180.0 331.8h0M173.5 316.8h0M173.2 320.8h0M175.3 322.0h0M172.5 322.3h0M175.9 324.2h0M173.0 317.8h0M177.7 312.6h0M173.6 320.5h0M177.7 314.6h0M174.2 321.9h0M176.9 317.0h0M177.4 312.3h0M173.1 322.4h0M182.5 321.8h0M181.2 324.0h0M178.4 313.3h0M173.7 315.0h0M166.5 319.7h0M164.5 320.2h0M175.1 323.4h0M183.4 311.7h0M180.2 314.7h0M175.0 325.3h0M179.7 321.6h0M176.8 312.4h0M171.6 321.8h0M184.9 328.2h0M170.2 317.9h0M184.3 318.1h0M173.3 316.3h0M170.6 321.8h0M176.1 320.5h0M171.8 316.5h0M174.6 318.8h0M171.2 320.1h0M177.6 327.1h0M179.0 322.3h0M174.9 321.7h0M179.6 323.6h0M171.6 323.4h0M177.7 319.5h0M180.1 322.1h0M178.8 322.3h0M173.1 314.2h0M180.9 315.6h0M174.0 321.3h0M177.2 322.4h0M175.7 328.1h0M180.5 319.0h0M181.9 331.0h0M175.0 318.6h0M173.8 313.4h0M170.0 326.3h0M176.7 323.0h0M172.5 323.1h0M174.9 317.1h0M182.0 324.6h0M177.8 321.2h0M172.9 319.5h0M173.4 316.5h0M177.5 324.2h0M177.6 326.3h0M167.9 313.6h0M172.3 316.9h0M174.9 318.0h0M172.1 319.6h0M166.2 319.6h0M169.7 327.2h0M181.9 317.1h0M171.3 313.7h0M180.4 315.3h0M170.5 315.3h0M179.0 319.1h0M174.1 320.5h0M176.8 317.9h0M180.4 317.0h0M180.8 318.8h0M172.8 320.6h0M181.7 315.5h0M180.3 323.7h0M167.0 319.6h0M175.1 321.6h0M174.8 321.6h0M176.2 321.5h0M176.7 314.1h0M172.3 322.6h0M171.9 317.0h0M178.4 312.9h0M168.8 317.1h0M173.1 315.2h0M179.8 314.0h0M167.5 317.8h0M170.2 324.4h0M178.9 311.4h0M167.0 311.7h0M169.7 319.4h0M173.8 326.1h0M164.5 313.6h0M177.6 317.0h0M172.1 314.5h0M183.5 322.2h0M177.4 313.0h0M175.9 317.6h0M171.6 317.9h0M174.4 318.7h0M171.0 328.5h0M178.4 314.7h0M170.3 319.4h0M176.3 314.3h0M169.5 320.9h0M170.9 326.0h0M180.2 313.9h0M172.0 314.5h0M167.5 320.2h0M178.0 325.7h0M171.4 319.7h0M182.2 319.1h0M176.2 320.2h0M180.9 313.9h0M172.0 314.9h0M169.7 317.3h0M179.0 327.3h0M169.9 322.8h0M175.9 320.1h0M167.3 321.1h0M175.2 323.6h0M177.6 316.7h0M170.1 322.8h0M174.8 321.8h0M173.3 323.7h0M178.5 329.1h0M172.7 323.0h0M175.6 315.2h0M169.6 317.7h0M174.9 317.1h0M184.7 313.8h0M173.8 319.5h0M178.5 319.6h0M179.6 318.5h0M180.5 321.2h0M176.2 318.1h0M181.6 324.5h0M172.6 317.3h0M177.6 319.0h0M168.8 311.8h0M175.5 318.9h0M177.9 326.2h0M174.5 325.0h0M174.9 314.0h0M179.6 324.7h0M172.3 321.9h0M177.5 328.0h0M176.3 321.1h0M176.9 321.5h0M173.2 316.4h0M187.6 320.5h0M175.8 319.7h0M175.2 327.3h0M178.8 316.7h0M168.6 323.8h0M180.9 316.5h0M179.8 322.0h0M175.3 314.8h0M184.4 314.0h0M173.6 315.4h0M165.1 314.1h0M173.9 328.1h0M174.4 323.0h0M174.2 319.1h0M175.0 324.2h0M172.3 311.4h0M173.4 325.0h0M179.2 315.1h0M181.5 317.6h0M179.8 314.6h0M180.0 314.6h0M169.3 317.3h0M170.3 318.6h0M174.3 320.9h0M177.2 317.0h0M174.7 323.1h0M178.1 318.6h0M182.9 317.4h0M177.3 322.5h0M181.7 323.0h0M177.9 322.8h0M181.3 311.6h0M172.7 316.1h0M170.7 312.0h0M178.7 319.4h0M179.2 328.3h0M183.2 314.1h0M171.1 313.9h0M177.2 322.3h0M169.9 319.5h0M182.2 313.4h0M174.6 322.9h0M180.2 319.5h0M174.5 323.2h0M169.8 329.6h0M172.3 325.2h0M173.0 319.9h0M175.1 317.7h0M181.9 317.0h0M180.3 315.7h0M180.1 316.4h0M179.4 326.8h0M177.3 320.5h0M180.8 320.2h0M184.8 313.2h0M177.7 317.2h0M181.2 319.5h0M174.3 313.4h0M179.3 320.6h0M170.8 331.4h0M175.6 317.5h0M171.1 320.6h0M174.7 321.1h0M178.8 312.9h0M178.8 325.2h0M182.5 315.1h0M168.6 313.5h0M176.0 322.5h0M181.0 318.2h0M180.1 319.0h0M169.7 317.9h0M170.2 315.3h0M180.6 324.9h0M180.5 315.6h0M169.4 319.1h0M174.2 317.0h0M180.3 318.8h0M180.1 320.0h0M174.0 320.4h0M168.5 316.3h0M178.4 314.9h0M172.5 321.0h0M179.9 312.3h0M180.3 321.1h0M176.6 322.0h0M173.7 316.7h0M175.9 317.2h0M180.2 321.9h0M176.5 320.5h0M176.7 327.8h0M171.3 320.9h0M173.9 316.7h0M180.6 318.5h0M170.7 317.4h0M181.6 319.4h0M178.8 321.0h0M173.9 316.5h0M169.8 311.3h0M171.6 329.1h0M177.8 317.9h0M175.7 314.3h0M182.7 321.9h0M178.6 322.7h0M178.9 325.2h0M176.8 320.3h0M178.7 314.2h0M171.7 320.2h0M164.1 315.9h0M179.4 316.7h0M180.0 315.1h0M183.7 315.3h0M172.2 314.9h0M179.5 325.2h0M167.4 321.3h0M176.6 320.5h0M179.7 318.2h0M168.6 320.1h0M176.4 316.9h0M181.2 316.1h0M179.8 325.6h0M175.3 315.5h0M168.3 322.0h0M177.2 326.6h0M181.3 325.1h0M175.0 313.9h0M174.4 315.3h0M171.9 326.4h0M173.1 315.0h0M177.3 318.5h0M166.7 325.8h0M176.7 326.8h0M175.8 318.9h0M175.7 321.5h0M179.3 324.2h0M174.0 321.7h0M171.7 320.9h0M170.3 321.0h0M166.9 323.3h0M175.0 318.9h0M175.9 322.9h0M180.0 317.0h0M183.1 319.8h0M174.0 317.1h0M177.3 317.1h0M177.4 322.0h0M182.4 318.9h0M177.0 313.0h0M178.8 320.6h0M172.6 315.2h0M179.8 323.7h0M176.6 320.1h0M174.6 316.3h0M173.9 322.3h0M172.3 322.0h0M172.2 320.4h0M181.0 328.6h0M169.1 312.6h0M166.5 321.3h0M181.4 323.4h0M181.4 321.2h0M174.8 314.6h0M181.4 317.1h0M171.4 317.9h0M174.6 320.4h0M175.9 314.8h0M174.2 321.9h0M180.5 317.1h0M183.4 318.9h0M170.2 313.4h0M174.1 317.6h0M171.8 316.9h0M164.6 319.9h0M176.8 312.1h0M174.0 316.4h0M179.2 318.2h0M178.9 318.4h0M181.8 326.1h0M176.8 311.2h0M169.4 327.1h0M178.5 312.6h0M175.1 323.7h0M175.5 317.0h0M173.9 328.2h0M170.6 315.6h0M177.1 321.0h0M184.0 318.2h0M176.7 319.4h0M180.1 318.4h0M184.1 319.2h0M171.2 320.4h0M175.5 319.1h0M170.6 318.5h0M173.3 322.9h0M181.4 318.6h0M172.9 323.4h0M177.3 321.5h0M173.6 311.3h0M186.1 316.4h0M176.6 322.9h0M174.7 318.3h0M179.0 322.5h0M167.5 318.5h0M174.1 321.0h0M175.8 320.0h0M179.0 313.1h0M172.7 313.2h0M169.8 320.1h0M181.0 320.9h0M181.2 325.5h0M171.3 319.7h0M174.4 321.4h0M181.0 327.2h0M174.7 318.6h0M173.7 323.9h0M176.4 315.6h0M178.8 315.2h0M170.4 318.1h0M179.0 322.9h0M176.3 314.9h0M174.8 313.5h0M174.2 321.3h0M176.6 320.1h0M169.1 321.3h0M189.2 317.8h0M173.7 326.1h0M182.4 325.6h0M171.0 321.0h0M170.1 329.6h0M174.9 334.4h0M176.9 330.1h0M175.1 320.7h0M171.6 330.1h0M170.3 328.7h0M174.5 323.1h0M171.7 326.4h0M171.9 327.2h0M170.8 328.8h0M168.3 328.1h0M172.9 335.4h0M172.7 327.5h0M174.2 338.5h0M168.0 337.3h0M174.0 332.5h0M170.0 328.9h0M169.6 331.9h0M170.0 326.5h0M176.4 328.1h0M173.0 335.7h0M170.1 329.5h0M174.8 330.4h0M174.2 325.0h0M170.1 337.1h0M168.7 333.9h0M174.8 331.6h0M175.1 332.5h0M170.2 324.6h0M171.3 325.8h0M172.4 327.5h0M170.1 326.8h0M174.2 330.7h0M172.4 333.3h0M171.4 327.1h0M172.3 331.2h0M174.2 333.0h0M175.8 337.4h0M172.2 331.4h0M168.7 324.6h0M173.7 331.8h0M167.7 333.7h0M167.3 325.2h0M174.2 333.0h0M174.3 330.9h0M173.6 322.7h0M174.2 341.2h0M171.9 328.2h0M171.5 329.1h0M174.0 326.0h0M171.1 328.6h0M172.1 326.8h0M170.5 327.3h0M168.3 326.8h0M171.0 330.2h0M169.7 330.0h0M173.7 332.5h0M172.5 333.2h0M174.5 332.8h0M172.2 332.9h0M175.2 335.0h0M175.4 327.7h0M173.2 330.1h0M170.3 333.6h0M172.2 332.0h0M170.8 332.9h0M171.8 333.4h0M173.3 331.5h0M170.9 331.0h0M174.8 330.4h0M176.4 333.6h0M172.9 332.5h0M173.4 329.3h0M172.8 332.4h0M171.0 324.3h0M172.2 330.0h0M172.0 322.4h0M171.4 337.9h0M174.2 327.4h0M172.6 323.2h0M175.1 328.0h0M175.2 330.0h0M177.9 336.8h0M174.0 328.3h0M172.1 322.9h0M172.2 331.8h0M175.3 337.2h0M172.6 329.0h0M172.4 329.2h0M173.4 332.9h0M173.4 320.1h0M171.3 327.1h0M174.1 330.0h0M172.3 326.1h0M171.5 319.8h0M173.4 325.3h0M177.0 335.0h0M171.1 331.8h0M170.9 332.4h0M173.3 328.3h0M175.6 336.1h0M175.0 329.8h0M176.4 333.9h0M175.4 330.0h0M172.2 321.7h0M169.5 325.1h0M175.5 330.4h0M177.9 334.8h0M171.2 335.3h0M176.0 331.1h0M173.9 335.4h0M175.5 328.9h0M170.2 334.1h0M173.9 323.8h0M170.4 334.4h0M165.5 330.4h0M174.1 339.6h0M173.8 335.3h0M169.4 327.2h0M173.8 339.8h0M177.9 330.9h0M178.5 334.2h0M174.6 326.0h0M168.3 328.3h0M171.3 335.2h0M172.5 327.0h0M168.7 327.4h0M172.8 322.9h0M173.8 329.5h0M170.4 326.5h0M172.5 338.0h0M172.1 319.8h0M170.1 328.2h0M172.1 330.7h0M173.9 327.7h0M176.2 327.1h0M174.4 331.7h0M167.5 339.4h0M173.4 337.2h0M172.0 324.3h0M173.8 326.4h0M175.7 333.9h0M176.7 327.6h0M168.2 330.6h0M171.1 327.6h0M177.1 329.4h0M171.8 324.7h0M172.6 321.1h0M171.7 329.4h0M172.7 317.9h0M172.1 332.7h0M171.7 336.0h0M172.1 329.0h0M174.6 332.8h0M171.6 331.7h0M166.5 326.7h0M170.9 324.8h0M175.3 323.3h0M169.3 331.2h0M176.7 331.5h0M171.4 325.3h0M172.3 323.8h0M176.7 323.6h0M175.3 327.2h0M174.8 337.6h0M175.5 332.4h0M175.9 329.3h0M171.2 336.2h0M173.2 332.5h0M168.1 339.3h0M171.6 329.6h0M179.3 328.3h0M177.6 335.2h0M169.8 327.4h0M172.2 332.3h0M173.9 328.6h0M175.9 331.2h0M172.3 327.8h0M171.5 332.9h0M171.8 327.5h0M169.1 328.2h0M171.0 328.9h0M175.6 323.3h0M169.5 330.4h0M172.0 327.6h0M170.9 331.6h0M171.1 333.9h0M172.4 326.1h0M173.0 334.2h0M170.6 329.3h0M172.8 329.5h0M169.6 333.4h0M172.0 338.6h0M174.5 327.6h0M173.6 325.0h0M173.1 328.5h0M168.8 331.4h0M167.5 329.0h0M172.3 341.5h0M173.2 330.5h0M175.9 331.4h0M173.4 340.1h0M170.0 325.4h0M171.8 330.0h0M174.6 329.9h0M173.7 334.5h0M167.4 326.3h0M175.8 322.3h0M170.8 322.5h0M178.1 332.6h0M172.7 332.6h0M177.2 334.2h0M165.0 330.8h0M173.1 342.5h0M174.5 334.0h0M175.6 335.7h0M170.1 324.7h0M170.0 329.0h0M175.6 329.1h0M173.7 335.8h0M154.1 338.7h0M172.5 323.5h0M153.7 339.6h0M164.4 332.6h0M166.0 332.8h0M162.8 333.5h0M171.8 325.4h0M168.4 321.2h0M160.8 337.5h0M157.8 334.5h0M163.7 332.4h0M160.6 333.3h0M156.9 339.8h0M172.6 327.6h0M154.7 346.1h0M162.4 330.6h0M172.1 330.3h0M173.2 323.3h0M167.4 328.7h0M167.4 328.3h0M158.4 333.9h0M175.7 328.9h0M166.2 332.1h0M167.7 330.0h0M167.5 325.3h0M164.0 330.7h0M161.1 337.4h0M160.0 331.7h0M173.2 324.5h0M168.7 326.3h0M172.9 320.9h0M163.2 334.8h0M160.7 333.9h0M173.3 332.1h0M163.6 331.3h0M170.5 327.2h0M165.2 329.0h0M163.1 336.1h0M163.6 332.3h0M161.1 335.6h0M156.8 341.7h0M163.9 342.5h0M171.4 329.8h0M161.9 334.2h0M165.1 328.6h0M161.0 329.2h0M165.5 330.6h0M154.4 326.4h0M164.0 341.1h0M166.0 334.7h0M165.6 332.6h0M161.0 330.5h0M166.5 328.3h0M163.1 332.4h0M162.8 336.1h0M163.2 334.1h0M167.5 330.4h0M172.7 328.7h0M156.8 332.2h0M167.3 329.3h0M172.9 324.3h0M168.0 329.2h0M162.3 337.7h0M172.1 321.6h0M162.2 331.5h0M158.7 336.0h0M166.9 333.8h0M170.7 320.2h0M167.8 323.4h0M166.9 324.8h0M157.9 338.6h0M158.8 335.4h0M172.0 331.1h0M163.8 336.5h0M157.3 338.8h0M161.8 332.2h0M154.9 339.3h0M168.0 328.8h0M175.0 325.7h0M164.2 340.9h0M155.2 342.2h0M160.0 322.8h0M163.8 329.2h0M163.7 334.2h0M159.7 335.0h0M162.8 330.6h0M166.9 336.1h0M162.9 336.1h0M170.6 324.3h0M163.1 334.8h0M158.8 337.2h0M167.1 332.4h0M157.5 333.9h0M150.0 340.6h0M161.9 329.4h0M167.1 332.5h0M167.1 328.7h0M169.4 326.6h0M158.9 335.8h0M161.9 337.6h0M172.5 325.3h0M151.2 341.1h0M161.8 331.1h0M165.8 326.6h0M167.9 332.4h0M164.5 337.1h0M163.6 335.5h0M170.9 327.5h0M156.7 333.7h0M156.5 337.5h0M160.7 332.1h0M165.3 331.7h0M168.1 328.1h0M166.1 328.2h0M166.6 329.0h0M160.2 338.8h0M162.0 339.7h0M169.7 323.3h0M166.1 322.3h0M159.2 342.9h0M157.5 335.6h0M169.2 334.3h0M164.9 336.4h0M165.1 327.1h0M170.3 327.3h0M165.5 325.9h0M161.3 335.4h0M157.3 344.0h0M165.0 326.1h0M159.3 334.5h0M164.4 330.4h0M170.2 327.7h0M162.6 330.6h0M167.5 327.8h0M156.1 341.2h0M158.9 329.8h0M162.7 336.8h0M174.1 323.2h0M149.3 339.0h0M164.4 341.9h0M164.9 329.9h0M155.9 341.4h0M161.8 332.2h0M155.9 341.8h0M175.2 324.0h0M160.9 330.7h0M161.6 333.9h0M162.9 337.0h0M160.8 335.7h0M156.5 350.6h0M155.2 337.5h0M172.5 325.3h0M173.9 323.1h0M164.2 325.7h0M166.4 331.4h0M169.1 328.0h0M157.4 341.2h0M164.0 326.4h0M168.9 323.8h0M157.1 334.8h0M167.5 328.2h0M164.1 333.1h0M172.4 325.1h0M180.5 323.9h0M155.9 337.8h0M160.7 334.0h0M162.7 336.5h0M154.1 331.7h0M163.8 340.7h0M168.0 329.7h0M161.5 345.7h0M161.1 327.5h0M166.0 332.9h0M165.9 332.8h0M161.5 336.1h0M166.0 324.2h0M176.6 323.1h0M162.2 335.8h0M163.4 327.3h0M170.6 325.2h0M161.2 330.3h0M165.5 327.9h0M161.4 332.6h0M169.3 326.3h0M172.7 323.2h0M169.4 334.3h0M160.5 331.5h0M158.0 328.1h0M160.5 337.1h0M171.8 329.0h0M159.5 336.2h0M167.1 331.2h0M158.4 330.8h0M168.9 329.0h0M161.4 338.1h0M167.6 331.0h0M162.1 331.8h0M169.9 329.9h0M165.7 325.3h0M153.7 329.9h0M152.6 330.9h0M158.4 328.6h0M153.3 331.4h0M169.3 344.9h0M166.2 341.4h0M182.1 328.0h0M167.4 331.5h0M150.1 342.4h0M172.3 313.3h0M165.6 319.2h0M161.3 332.0h0M165.9 339.7h0M150.6 344.9h0M157.3 342.9h0M171.1 317.5h0M152.6 324.1h0M157.9 328.9h0M168.2 330.6h0M157.5 332.0h0M165.6 331.2h0M155.4 336.7h0M165.9 332.2h0M174.0 321.7h0M158.8 323.0h0M150.8 355.6h0M172.0 343.8h0M158.3 336.4h0M160.3 327.4h0M167.3 312.6h0M157.4 327.5h0M161.3 330.3h0M169.1 318.8h0M158.9 325.5h0M162.4 339.5h0M163.9 328.1h0M161.0 321.8h0M166.0 325.8h0M159.6 323.7h0M157.9 316.8h0M164.6 339.5h0M183.7 323.1h0M162.5 317.8h0M181.9 326.1h0M159.0 340.8h0M175.6 334.4h0M162.0 321.3h0M170.8 334.9h0M168.7 344.6h0M168.5 318.7h0M168.4 318.4h0M151.2 350.1h0M157.6 337.5h0M168.9 319.7h0M158.4 325.9h0M173.2 328.6h0M161.6 320.8h0M162.4 321.0h0M156.1 341.4h0M161.9 334.1h0M166.7 337.5h0M161.1 316.9h0M168.0 338.5h0M150.7 350.3h0M153.2 318.3h0M166.0 329.7h0M169.1 333.7h0M168.0 311.8h0M159.1 326.3h0M172.7 345.5h0M153.1 320.9h0M157.9 325.9h0M170.3 323.8h0M161.1 328.8h0M150.0 318.1h0M177.7 322.3h0M163.7 324.8h0M175.7 314.0h0M163.0 329.6h0M159.0 347.5h0M164.6 339.4h0M160.6 331.1h0M170.4 323.8h0M173.3 334.9h0M163.0 316.1h0M157.3 335.8h0M151.9 345.5h0M157.6 339.5h0M168.9 322.3h0M164.8 330.8h0M150.9 332.2h0M157.9 334.9h0M152.6 336.1h0M162.7 322.3h0M155.9 334.4h0M163.5 339.6h0M162.0 332.1h0M158.3 318.1h0M161.0 346.3h0M174.0 347.5h0M161.4 352.2h0M169.0 340.7h0M155.0 315.9h0M150.1 327.7h0M155.8 349.8h0M164.8 328.7h0M158.8 335.2h0M167.5 317.7h0M169.3 335.8h0M162.9 331.0h0M159.9 326.9h0M163.8 324.4h0M161.7 329.0h0M158.1 334.3h0M158.5 346.4h0M160.4 336.6h0M165.8 321.4h0M158.1 320.8h0M163.5 337.5h0M157.1 335.3h0M158.5 340.1h0M174.7 342.5h0M161.3 319.6h0M164.9 347.4h0M167.4 320.0h0M159.4 332.9h0M158.7 317.3h0M148.9 340.9h0M153.7 321.1h0M158.3 338.2h0M148.6 325.6h0M164.6 321.1h0M161.0 339.4h0M166.9 333.8h0M167.3 323.8h0M174.0 334.5h0M166.3 340.5h0M169.0 322.7h0M151.4 334.1h0M157.8 349.7h0M153.7 320.9h0M154.5 338.1h0M174.8 311.7h0M158.1 317.0h0M172.3 330.4h0M167.9 335.1h0M167.8 330.8h0M165.7 353.0h0M152.6 322.0h0M158.2 322.4h0M148.9 330.8h0M167.1 327.0h0M163.6 329.4h0M161.7 321.5h0M163.4 344.9h0M153.1 323.7h0M156.4 338.1h0M167.6 329.5h0M159.4 317.1h0M168.2 335.6h0M170.4 317.3h0M159.2 340.0h0M163.2 344.6h0M164.0 320.8h0M159.8 327.0h0M155.1 323.5h0M163.9 340.4h0M161.9 330.2h0M172.1 329.4h0M151.9 323.0h0M159.8 339.8h0M162.6 348.7h0M165.1 336.8h0M167.2 322.3h0M162.3 330.5h0M172.1 333.5h0M160.2 324.0h0M168.6 330.6h0M163.7 347.8h0M164.2 324.4h0M157.1 318.3h0M169.8 330.5h0M155.8 322.4h0M164.3 336.5h0M167.5 324.4h0M167.0 337.8h0M174.6 327.3h0M148.7 336.0h0M161.5 325.5h0M156.6 327.3h0M151.8 341.0h0M168.6 332.0h0M163.0 326.1h0M171.1 311.6h0M165.6 336.4h0M151.9 338.9h0M165.5 330.9h0M150.5 344.2h0M148.4 345.7h0M150.8 349.3h0M151.1 350.1h0M151.9 352.2h0M158.5 350.8h0M150.0 346.3h0M156.8 344.7h0M154.9 346.6h0M153.7 348.4h0M153.5 346.0h0M156.0 338.9h0M150.7 352.4h0M155.1 348.2h0M153.8 342.9h0M148.5 349.1h0M149.7 348.9h0M153.5 340.9h0M155.1 348.5h0M158.9 348.6h0M153.8 350.0h0M149.3 345.4h0M149.8 347.0h0M153.7 348.9h0M154.4 348.2h0M150.0 343.2h0M152.7 343.1h0M153.4 343.8h0M156.6 345.0h0M154.0 347.3h0M156.7 346.4h0M151.7 353.6h0M157.8 346.7h0M152.0 352.6h0M152.0 343.5h0M156.6 353.4h0M157.3 351.4h0M154.9 352.5h0M151.6 347.7h0M153.5 342.9h0M158.3 345.6h0M157.2 346.4h0M150.3 346.9h0M149.7 349.5h0M152.6 344.4h0M152.8 358.3h0M153.3 346.4h0M158.6 350.1h0M153.0 349.8h0M152.1 348.0h0M156.1 345.0h0M149.7 354.4h0M159.3 346.1h0M154.5 349.1h0M154.2 349.2h0M152.0 350.1h0M156.4 344.8h0M155.4 351.0h0M154.9 347.3h0M151.8 341.8h0M158.4 344.4h0M151.6 342.8h0M158.9 342.5h0M151.4 349.1h0M150.8 349.2h0M151.7 345.5h0M154.1 342.7h0M154.3 347.1h0M157.7 350.2h0M154.3 347.8h0M154.1 342.7h0M155.2 349.9h0M154.2 351.0h0M154.4 347.9h0M157.0 339.4h0M152.7 347.4h0M153.9 347.3h0M154.4 344.4h0M152.0 341.9h0M150.5 349.6h0M152.9 345.1h0M150.9 350.3h0M156.3 343.0h0M155.3 344.0h0M153.8 340.5h0M151.0 345.7h0M156.7 345.9h0M151.7 351.3h0M154.4 347.7h0M158.1 348.3h0M151.3 341.4h0M152.0 345.5h0M156.0 347.3h0M156.6 350.6h0M155.8 346.0h0M152.9 348.9h0M149.4 350.3h0M159.4 344.9h0M150.9 345.7h0M157.4 341.4h0M157.3 344.6h0M152.4 346.3h0M152.1 347.0h0M153.1 353.3h0M153.9 348.2h0M149.1 349.5h0M150.5 349.5h0M151.4 347.3h0M150.7 339.7h0M154.7 349.2h0M151.6 348.7h0M158.2 347.4h0M156.3 345.7h0M158.2 344.8h0M154.0 349.1h0M150.3 347.5h0M156.8 343.6h0M149.6 341.4h0M152.6 349.2h0M157.1 344.2h0M151.7 344.5h0M152.8 348.9h0M151.5 342.4h0M156.0 341.7h0M152.0 347.3h0M150.9 343.7h0M153.7 351.4h0M152.6 344.4h0M150.3 343.2h0M157.3 350.0h0M153.5 348.4h0M153.3 348.7h0M154.6 350.8h0M157.7 348.8h0M153.2 348.1h0M157.3 344.2h0M153.4 349.1h0M153.6 345.5h0M152.9 355.5h0M156.3 353.6h0M155.7 352.7h0M154.7 345.4h0M152.7 346.5h0M151.2 341.8h0M151.0 348.9h0M151.1 346.8h0M154.6 346.7h0M151.7 345.1h0M157.9 338.9h0M150.2 347.7h0M150.4 347.6h0M149.7 349.5h0M154.8 344.5h0M152.2 350.0h0M152.4 354.9h0M152.1 352.6h0M156.9 345.0h0M149.6 342.1h0M156.9 347.3h0M152.4 349.9h0M158.4 344.6h0M153.0 351.0h0M149.0 356.3h0M156.0 349.6h0M153.7 350.5h0M150.2 347.6h0M149.5 345.4h0M155.8 342.0h0M153.9 346.2h0M153.8 345.3h0M152.4 344.7h0M151.8 353.1h0M155.6 351.3h0M148.1 346.4h0M154.9 345.8h0M155.6 347.5h0M153.5 347.2h0M154.7 346.0h0M157.9 347.2h0M154.3 350.2h0M153.0 347.6h0M154.7 352.1h0M160.4 348.6h0M148.3 348.3h0M153.3 346.2h0M152.8 349.7h0M155.2 346.7h0M152.9 344.9h0M151.3 348.8h0M157.1 345.1h0M152.6 349.6h0M151.8 347.5h0M153.0 352.2h0M152.3 344.1h0M155.4 351.8h0M156.0 344.1h0M153.0 344.8h0M153.6 352.6h0M154.2 347.9h0M155.1 348.0h0M152.0 342.3h0M151.8 345.4h0M154.8 343.9h0M149.4 347.0h0M150.4 353.1h0M154.2 346.6h0M150.0 341.5h0M154.3 345.9h0M151.2 340.9h0M152.5 352.2h0M157.9 346.6h0M155.6 346.8h0M151.6 348.1h0M153.5 354.9h0M154.3 349.8h0M158.1 346.1h0M153.0 346.1h0M156.8 345.6h0M153.1 342.4h0M154.3 353.1h0M152.3 349.5h0M152.8 347.0h0M153.5 348.1h0M154.3 340.0h0M153.2 344.5h0M151.3 348.2h0M151.0 348.2h0M154.4 345.3h0M151.0 346.8h0M153.9 350.3h0M149.5 353.5h0M150.5 349.0h0M155.1 353.2h0M152.5 342.6h0M151.7 345.6h0M149.6 346.5h0M153.0 343.2h0M151.2 349.4h0M155.7 344.3h0M150.0 345.4h0M152.1 345.6h0M153.6 342.6h0M154.3 353.7h0M152.8 346.5h0M156.4 349.8h0M151.0 347.3h0M156.8 344.5h0M150.4 347.8h0M148.3 345.8h0M150.6 347.2h0M152.5 353.9h0M154.9 343.0h0M158.4 338.4h0M157.2 345.0h0M153.3 345.9h0M152.5 343.1h0M151.5 346.1h0M156.7 348.4h0M155.5 345.8h0M151.9 344.6h0M152.7 348.5h0M149.9 350.5h0M157.6 352.2h0M155.5 345.4h0M158.3 347.0h0M152.5 353.7h0M155.1 348.8h0M152.3 350.0h0M153.6 345.3h0M155.0 352.2h0M156.3 342.5h0M151.9 344.1h0M149.7 351.0h0M155.6 350.0h0M152.8 348.9h0M151.4 342.9h0M151.1 350.3h0M150.4 340.0h0M153.4 347.0h0M149.2 349.9h0M151.1 350.5h0M150.4 345.6h0M150.7 346.7h0M158.8 349.1h0M155.3 344.4h0M152.7 349.3h0M154.7 354.7h0M151.4 351.7h0M158.1 347.3h0M150.0 354.3h0M155.3 349.0h0M151.5 346.1h0M152.4 348.9h0M150.8 352.3h0M149.8 352.9h0M150.7 347.4h0M150.6 347.7h0M151.4 349.7h0M156.9 346.5h0M152.3 347.9h0M153.2 346.6h0M153.4 342.1h0M152.7 347.7h0M154.8 346.6h0M156.0 352.4h0M155.4 341.1h0M154.1 348.7h0M151.4 344.3h0M156.0 345.3h0M148.6 347.2h0M157.3 347.8h0M151.7 350.5h0M155.2 347.3h0M152.5 344.0h0M152.0 346.2h0M154.2 353.4h0M150.5 353.5h0M149.5 345.9h0M153.2 340.1h0M157.1 343.4h0M153.2 342.2h0M155.4 344.9h0M148.2 351.3h0M158.1 346.0h0M153.4 344.5h0M151.0 345.8h0M148.9 346.8h0M158.5 340.5h0M153.2 345.6h0M154.2 352.4h0M153.8 351.9h0M154.0 351.1h0M149.9 347.4h0M152.3 352.2h0M150.3 344.8h0M150.6 346.4h0M149.5 343.6h0M151.2 347.0h0M150.6 347.9h0M161.1 341.5h0M150.8 348.2h0M154.1 348.7h0M152.2 350.0h0M153.4 346.4h0M156.8 352.8h0M149.3 351.4h0M157.4 343.4h0M160.0 347.3h0M151.2 343.0h0M152.8 351.4h0M158.2 344.8h0M150.0 339.6h0M152.8 350.7h0M150.8 348.3h0M156.3 347.8h0M153.0 344.2h0M148.6 338.5h0M155.0 352.4h0M151.8 353.2h0M155.8 345.7h0M153.3 346.2h0M154.4 339.7h0M153.7 343.2h0M148.8 347.4h0M150.6 348.5h0M152.9 349.5h0M153.9 350.1h0M150.3 340.3h0M154.1 343.4h0M157.2 352.2h0M148.9 353.6h0M154.1 354.5h0M171.4 351.0h0M168.0 350.8h0M160.2 348.2h0M153.4 350.3h0M161.3 352.8h0M169.3 353.3h0M155.9 353.3h0M156.8 350.5h0M163.1 351.0h0M162.1 356.9h0M162.2 351.9h0M159.7 346.1h0M160.4 354.5h0M163.4 352.7h0M158.3 347.6h0M160.3 347.7h0M156.2 350.2h0M161.3 342.3h0M155.9 358.2h0M151.5 358.7h0M163.8 349.5h0M152.2 346.4h0M168.2 348.5h0M161.8 343.1h0M177.3 354.0h0M157.9 346.7h0M159.0 348.0h0M155.8 353.1h0M163.0 353.8h0M169.2 346.9h0M150.8 348.7h0M167.2 352.7h0M161.6 352.0h0M160.6 352.5h0M164.0 351.8h0M158.2 345.2h0M162.0 351.9h0M155.8 350.1h0M161.2 357.5h0M170.4 348.1h0M168.8 355.7h0M157.2 356.1h0M159.0 355.1h0M162.4 353.7h0M160.0 355.3h0M149.8 354.8h0M160.3 354.1h0M175.6 355.7h0M166.1 352.2h0M166.8 348.4h0M161.7 357.5h0M164.9 346.7h0M155.8 353.3h0M167.1 356.0h0M155.5 353.4h0M162.4 347.2h0M165.0 349.2h0M168.2 344.8h0M168.5 352.1h0M154.1 357.4h0M161.5 345.2h0M159.7 348.8h0M160.6 347.4h0M159.4 354.2h0M160.2 349.0h0M169.2 355.7h0M166.1 354.8h0M148.8 358.5h0M161.6 356.2h0M161.4 351.5h0M160.5 348.2h0M174.6 353.5h0M170.7 348.4h0M151.9 349.7h0M169.3 349.7h0M148.7 355.1h0M162.7 349.2h0M154.6 351.7h0M165.5 346.8h0M149.7 350.4h0M163.7 347.6h0M168.1 356.6h0M167.6 344.7h0M169.7 351.7h0M159.6 352.3h0M160.9 355.7h0M152.3 351.6h0M166.2 353.4h0M168.8 354.2h0M157.8 354.1h0M167.5 351.5h0M170.9 357.3h0M160.2 349.6h0M165.0 346.4h0M156.3 356.0h0M158.6 355.2h0M169.4 347.4h0M171.8 353.2h0M155.0 350.1h0M163.7 352.9h0M158.1 355.3h0M154.7 345.6h0M170.2 357.7h0M163.8 350.2h0M154.2 354.5h0M161.1 348.8h0M156.7 354.4h0M170.6 346.4h0M163.5 346.5h0M164.1 349.5h0M163.2 348.9h0M163.0 351.8h0M160.1 348.1h0M153.6 344.9h0M173.2 352.0h0M164.9 353.4h0M168.5 350.0h0M162.9 357.7h0M163.8 349.4h0M158.4 351.7h0M162.8 347.5h0M164.6 350.0h0M159.0 349.0h0M160.1 356.4h0M168.8 346.9h0M157.3 343.1h0M159.2 349.1h0M161.6 353.9h0M159.6 352.7h0M165.9 352.7h0M155.9 350.7h0M161.6 355.8h0M159.3 356.5h0M175.1 345.8h0M161.6 318.9h0M172.9 347.8h0M179.2 345.7h0M181.3 356.0h0M157.2 353.6h0M159.6 319.4h0M177.3 314.7h0M151.4 327.6h0M179.3 356.0h0M167.7 326.3h0M156.8 315.7h0M166.0 341.8h0M169.1 337.2h0M173.2 351.7h0M180.4 326.8h0M181.1 329.8h0M181.8 354.3h0M159.4 345.9h0M156.2 324.8h0M169.1 324.7h0M158.7 325.7h0M157.0 352.1h0M170.4 355.4h0M165.7 324.2h0M167.4 338.9h0M178.8 326.7h0M164.4 313.1h0M161.8 334.2h0M165.7 332.1h0M171.2 321.2h0M172.6 357.9h0M151.1 357.5h0M179.5 332.9h0M162.4 350.0h0" stroke="#000" stroke-width="0.6" stroke-linecap="round" fill="none"/>
</g>
<path d="M173.0 309.6V360.4M146.5 343.5H199.0" stroke="#000" stroke-width="1.4" fill="none"/>
<rect x="146.5" y="309.6" width="52.5" height="50.799999999999955" fill="none" stroke="#000" stroke-width="1.6"/>
<text x="150.9" y="318.8" font-size="5.6" font-weight="bold" stroke="#fff" stroke-width="0.5" paint-order="stroke" stroke-linejoin="round">28</text>
<text x="191.8" y="340.6" font-size="5.6" font-weight="bold" stroke="#fff" stroke-width="0.5" paint-order="stroke" stroke-linejoin="round">50</text>
<text x="165.3" y="357.8" font-size="5.6" font-weight="bold" stroke="#fff" stroke-width="0.5" paint-order="stroke" stroke-linejoin="round">22</text>
<rect x="209.8" y="309.6" width="50.89999999999998" height="50.799999999999955" fill="#fff" stroke="none"/>
<clipPath id="k23"><rect x="209.8" y="309.6" width="50.89999999999998" height="50.799999999999955"/></clipPath><g clip-path="url(#k23)">
<ellipse cx="236.8" cy="314.2" rx="10.2" ry="5.1" transform="rotate(0 236.8 314.2)" fill="url(#rg)" opacity="0.75"/>
<ellipse cx="213.9" cy="348.2" rx="6.1" ry="10.2" transform="rotate(0 213.9 348.2)" fill="url(#rg)" opacity="0.9"/>
<path d="M233.1 315.3h0M236.3 316.4h0M234.8 316.2h0M242.0 312.3h0M235.0 312.7h0M238.7 315.9h0M233.5 316.6h0M232.7 315.2h0M230.6 314.0h0M237.2 317.3h0M231.2 313.7h0M231.8 312.2h0M235.8 315.6h0M235.3 313.6h0M238.9 316.1h0M245.4 315.4h0M240.7 314.0h0M239.3 314.6h0M230.5 316.0h0M236.5 316.5h0M229.0 316.1h0M238.6 316.4h0M243.5 316.8h0M226.9 317.1h0M239.2 314.0h0M227.2 312.8h0M237.2 313.0h0M241.9 312.8h0M239.2 316.0h0M248.5 315.0h0M232.1 316.1h0M239.9 315.5h0M242.2 316.6h0M234.4 316.1h0M235.1 315.8h0M235.0 316.7h0M243.6 312.0h0M238.2 311.4h0M224.1 315.8h0M239.2 313.3h0M237.8 315.6h0M239.8 317.6h0M233.3 316.0h0M237.9 313.6h0M236.9 315.0h0M242.4 314.2h0M239.9 315.0h0M234.2 315.6h0M220.2 314.0h0M241.4 315.6h0M227.3 314.8h0M237.9 316.1h0M233.8 313.8h0M233.4 317.3h0M220.8 319.7h0M222.9 316.8h0M230.8 313.5h0M242.0 315.8h0M242.7 317.3h0M234.3 315.8h0M230.7 314.5h0M231.7 316.1h0M231.0 315.8h0M233.7 315.9h0M240.5 316.2h0M230.7 315.3h0M236.2 314.3h0M234.2 316.9h0M231.6 313.8h0M228.7 313.8h0M229.4 313.7h0M235.2 313.0h0M226.2 311.4h0M235.5 314.7h0M243.0 313.4h0M230.2 315.9h0M243.8 316.5h0M237.9 312.3h0M230.5 315.0h0M228.3 315.7h0M237.9 317.9h0M236.6 316.1h0M226.9 311.1h0M246.2 315.7h0M238.4 315.1h0M226.4 315.4h0M238.3 314.4h0M244.1 315.1h0M236.0 313.0h0M226.1 314.6h0M233.9 316.1h0M243.8 316.4h0M227.8 313.4h0M230.7 316.1h0M229.7 317.2h0M244.4 312.5h0M240.8 314.6h0M242.3 316.7h0M225.3 313.6h0M251.6 311.8h0M235.1 312.6h0M237.1 316.1h0M231.7 313.9h0M239.4 315.0h0M225.1 318.6h0M231.2 314.1h0M233.3 313.8h0M239.1 319.3h0M240.2 316.7h0M222.8 314.5h0M235.2 316.6h0M238.2 313.7h0M234.7 314.3h0M229.5 317.4h0M237.5 313.4h0M226.0 313.0h0M239.5 312.6h0M232.7 316.1h0M237.5 316.6h0M231.6 314.9h0M232.8 317.4h0M231.8 313.2h0M236.5 313.6h0M233.6 313.9h0M233.7 315.4h0M233.7 313.5h0M222.7 316.4h0M250.9 311.5h0M231.9 318.4h0M229.3 318.8h0M236.6 313.7h0M233.6 316.1h0M228.4 316.0h0M233.0 315.3h0M236.6 313.3h0M233.7 314.0h0M235.2 311.6h0M241.9 317.4h0M242.3 314.8h0M225.6 315.4h0M239.5 316.3h0M231.6 314.3h0M229.4 315.9h0M238.8 312.2h0M236.5 312.9h0M242.2 312.2h0M225.8 314.2h0M231.6 314.4h0M239.2 316.7h0M236.1 315.4h0M238.1 316.1h0M243.0 313.4h0M235.5 313.8h0M218.8 316.1h0M236.0 316.1h0M231.9 315.0h0M240.2 316.6h0M230.0 314.9h0M238.0 315.2h0M239.1 312.5h0M239.8 316.3h0M243.0 312.6h0M219.4 318.2h0M230.2 316.9h0M232.9 318.9h0M232.2 316.7h0M234.0 314.5h0M239.1 314.9h0M234.7 312.5h0M245.9 318.1h0M241.9 317.2h0M241.0 311.5h0M237.8 314.4h0M226.8 314.4h0M237.3 316.3h0M234.9 318.0h0M237.6 313.6h0M234.1 313.5h0M243.1 316.6h0M237.0 314.3h0M238.5 313.0h0M243.5 316.6h0M245.5 315.8h0M235.4 316.9h0M228.1 313.3h0M232.5 312.4h0M233.8 315.0h0M239.0 313.5h0M240.7 313.6h0M237.1 314.6h0M227.2 314.6h0M225.7 320.1h0M229.4 312.6h0M230.5 316.8h0M232.7 317.5h0M243.7 315.7h0M242.9 315.7h0M234.3 314.8h0M233.4 315.4h0M240.2 313.8h0M236.3 316.1h0M239.7 316.0h0M229.8 313.6h0M237.6 317.0h0M236.7 313.9h0M233.4 317.3h0M227.8 314.1h0M241.4 316.9h0M235.6 314.6h0M234.5 319.2h0M242.0 316.6h0M239.7 318.6h0M236.2 316.9h0M235.7 315.2h0M227.0 320.6h0M243.5 316.5h0M226.9 314.0h0M237.0 320.3h0M231.7 315.9h0M240.3 315.7h0M232.5 311.7h0M244.3 312.3h0M229.1 315.5h0M233.6 315.1h0M222.5 313.5h0M227.8 313.9h0M238.0 315.0h0M224.1 312.4h0M249.1 312.1h0M231.0 315.5h0M241.7 313.0h0M229.5 316.7h0M243.0 312.3h0M222.8 318.1h0M241.0 314.8h0M244.1 316.8h0M240.5 316.2h0M238.1 315.8h0M246.4 316.3h0M239.0 313.2h0M245.9 311.8h0M232.7 314.5h0M233.3 316.0h0M237.9 315.4h0M233.8 318.0h0M238.0 311.2h0M234.2 315.0h0M226.4 314.3h0M234.1 314.5h0M238.5 315.7h0M232.8 314.1h0M231.4 315.9h0M239.6 312.0h0M231.1 317.6h0M249.0 311.1h0M244.9 314.5h0M244.8 313.8h0M239.9 313.6h0M244.7 315.1h0M227.8 314.2h0M235.8 314.8h0M239.5 317.1h0M235.4 317.5h0M242.2 314.7h0M237.3 312.5h0M228.8 315.6h0M233.5 312.9h0M248.9 312.4h0M234.6 317.1h0M240.7 311.3h0M232.2 315.2h0M244.0 312.7h0M234.4 313.3h0M242.5 312.3h0M234.1 316.1h0M239.7 314.0h0M234.7 315.4h0M237.7 313.9h0M245.6 315.5h0M241.1 315.0h0M234.1 313.8h0M231.0 312.6h0M233.7 312.8h0M236.3 315.0h0M237.8 315.5h0M230.5 311.3h0M245.9 313.4h0M229.8 317.2h0M244.8 316.3h0M243.3 312.6h0M227.3 316.9h0M245.8 315.0h0M238.1 313.8h0M232.3 316.3h0M233.3 313.1h0M241.7 314.8h0M239.7 312.3h0M244.6 314.3h0M233.5 317.4h0M233.3 313.9h0M238.7 313.9h0M230.8 315.7h0M243.4 317.3h0M233.8 317.8h0M231.4 313.7h0M232.5 315.4h0M246.7 314.5h0M255.8 311.9h0M234.9 313.4h0M237.9 314.2h0M241.9 311.5h0M235.9 314.6h0M230.4 314.6h0M233.1 315.7h0M233.3 315.1h0M232.5 314.2h0M226.9 314.3h0M233.4 314.7h0M238.7 318.4h0M250.4 311.4h0M244.3 316.9h0M225.4 317.4h0M248.2 318.6h0M234.4 315.0h0M228.3 315.3h0M235.8 315.4h0M228.7 315.4h0M232.5 312.8h0M243.2 317.3h0M236.7 315.7h0M233.1 313.6h0M242.0 316.2h0M238.1 314.4h0M238.7 313.2h0M234.7 314.6h0M236.5 312.5h0M232.3 313.6h0M243.4 317.5h0M236.0 316.5h0M237.0 312.3h0M247.4 312.8h0M232.4 316.2h0M228.7 315.9h0M234.6 314.2h0M241.2 311.3h0M229.9 317.3h0M231.2 315.1h0M235.6 314.3h0M236.4 312.1h0M236.1 311.2h0M226.3 315.9h0M250.4 316.5h0M234.5 315.3h0M222.0 318.2h0M237.4 314.7h0M231.6 318.7h0M232.1 316.3h0M236.5 318.4h0M238.1 314.7h0M240.7 316.2h0M232.9 316.1h0M234.9 314.1h0M239.7 311.8h0M226.3 319.2h0M242.0 317.8h0M233.4 313.8h0M243.3 312.9h0M234.6 314.0h0M239.0 312.0h0M240.4 311.3h0M233.4 315.3h0M238.6 317.4h0M234.0 315.1h0M241.0 314.1h0M234.1 312.2h0M226.0 314.2h0M239.5 314.0h0M230.3 314.0h0M236.4 316.7h0M240.7 316.3h0M231.3 313.6h0M234.8 312.1h0M238.0 315.7h0M227.4 317.9h0M238.3 314.2h0M226.0 314.0h0M238.5 315.6h0M232.8 315.6h0M242.6 312.3h0M243.5 314.4h0M222.1 314.7h0M246.1 315.1h0M238.6 315.7h0M219.6 315.3h0M227.4 313.4h0M238.1 316.1h0M225.2 316.9h0M232.3 315.5h0M241.8 316.1h0M235.3 315.6h0M243.4 313.4h0M231.6 317.7h0M226.7 314.1h0M235.9 314.7h0M240.9 314.4h0M236.5 312.7h0M239.9 312.1h0M239.4 314.1h0M239.9 313.8h0M234.5 317.4h0M230.0 318.5h0M235.0 314.6h0M229.3 314.9h0M246.1 314.7h0M232.9 313.7h0M232.8 317.0h0M224.2 315.9h0M240.3 317.5h0M247.0 318.9h0M242.3 314.8h0M229.7 311.7h0M234.5 314.5h0M238.2 316.1h0M235.5 316.8h0M233.4 314.0h0M236.6 313.0h0M245.9 314.7h0M231.2 315.8h0M239.4 314.6h0M229.3 318.0h0M233.0 314.2h0M239.3 316.7h0M231.1 317.5h0M239.1 318.5h0M237.5 315.3h0M237.9 316.5h0M226.8 312.0h0M247.1 316.0h0M248.3 313.8h0M240.1 316.4h0M231.3 316.8h0M231.9 315.7h0M236.9 316.6h0M239.6 313.0h0M239.5 316.0h0M237.1 312.1h0M242.6 313.0h0M241.1 315.6h0M236.4 314.7h0M246.5 312.6h0M242.2 313.4h0M241.9 313.5h0M237.3 316.5h0M236.3 315.7h0M237.6 311.3h0M244.3 317.3h0M243.1 313.2h0M232.6 315.5h0M229.8 314.0h0M238.3 311.8h0M245.3 317.0h0M238.9 318.4h0M226.7 316.5h0M239.6 315.4h0M234.4 316.5h0M229.3 312.2h0M235.2 315.9h0M237.7 317.8h0M239.0 314.4h0M238.5 316.2h0M230.0 312.1h0M227.2 314.9h0M231.8 315.8h0M243.6 312.2h0M246.3 313.7h0M244.2 315.0h0M235.4 314.3h0M245.5 313.8h0M235.7 314.3h0M242.9 315.7h0M237.6 315.2h0M228.5 317.1h0M244.4 317.9h0M241.0 315.8h0M236.2 317.1h0M237.8 312.6h0M228.7 316.8h0M247.4 316.2h0M232.5 313.2h0M235.5 316.6h0M217.3 318.2h0M231.2 314.4h0M239.2 314.3h0M239.4 326.2h0M237.4 336.7h0M235.9 324.5h0M233.3 316.7h0M234.9 324.3h0M238.1 331.9h0M238.6 331.6h0M237.1 323.8h0M236.2 322.3h0M233.2 323.8h0M234.8 339.4h0M236.6 319.9h0M234.0 322.5h0M231.5 334.8h0M233.0 331.4h0M236.4 325.0h0M236.1 329.3h0M236.5 324.5h0M240.1 329.2h0M234.2 327.1h0M237.6 329.6h0M235.9 336.9h0M235.4 317.8h0M238.3 328.9h0M237.1 343.1h0M233.2 331.5h0M232.5 318.4h0M236.1 343.0h0M235.4 336.6h0M234.5 320.4h0M236.5 327.9h0M237.5 329.0h0M238.8 335.0h0M236.3 330.6h0M236.0 322.3h0M236.1 318.7h0M233.1 324.3h0M234.7 333.0h0M236.9 331.1h0M237.4 318.5h0M237.8 327.1h0M236.0 332.4h0M237.0 334.4h0M237.8 319.6h0M237.1 331.8h0M237.4 327.8h0M237.0 327.0h0M235.3 332.4h0M237.1 325.7h0M235.4 321.5h0M232.8 321.5h0M235.2 325.3h0M238.3 321.6h0M235.5 327.7h0M240.6 325.4h0M233.2 332.8h0M234.4 330.7h0M239.9 323.1h0M239.8 331.5h0M238.4 319.8h0M237.6 333.3h0M236.5 324.3h0M232.8 319.5h0M236.5 327.4h0M235.8 328.4h0M237.5 324.8h0M234.2 321.8h0M234.8 329.6h0M234.2 326.1h0M235.7 331.6h0M233.3 336.9h0M235.8 330.8h0M237.0 328.1h0M237.5 343.5h0M235.3 328.6h0M236.1 313.1h0M234.2 324.9h0M236.5 323.7h0M238.6 325.2h0M233.4 337.4h0M237.6 311.8h0M236.7 325.0h0M233.2 340.3h0M238.3 328.6h0M233.3 317.3h0M235.6 328.9h0M238.8 329.3h0M236.7 328.1h0M235.6 330.2h0M235.7 321.3h0M236.0 323.6h0M235.5 332.6h0M237.9 329.8h0M238.4 329.5h0M233.0 327.7h0M234.8 323.8h0M234.0 329.6h0M236.2 325.3h0M234.8 331.1h0M235.2 325.2h0M237.0 336.6h0M234.4 319.1h0M233.5 323.2h0M233.9 331.7h0M235.4 319.6h0M238.0 328.4h0M238.6 322.5h0M238.1 331.2h0M240.2 325.6h0M237.0 324.8h0M236.6 329.6h0M238.2 326.2h0M238.2 314.3h0M234.3 331.4h0M238.8 313.9h0M235.0 328.1h0M233.0 326.7h0M233.1 328.7h0M237.6 334.3h0M236.4 320.9h0M237.0 321.9h0M237.6 330.6h0M239.6 323.2h0M237.3 335.8h0M236.6 322.0h0M235.9 333.4h0M238.8 333.8h0M234.4 331.7h0M234.9 321.9h0M238.6 330.7h0M235.3 335.1h0M241.2 331.6h0M232.9 336.4h0M232.0 321.4h0M236.7 327.0h0M239.5 341.5h0M237.0 323.8h0M233.1 318.0h0M237.7 328.1h0M236.2 322.1h0M237.8 328.7h0M233.3 335.0h0M237.1 321.2h0M233.7 323.9h0M234.5 312.1h0M235.0 320.4h0M239.4 328.3h0M237.7 327.7h0M239.9 322.0h0M240.2 330.9h0M236.6 344.2h0M239.8 333.0h0M234.8 337.4h0M234.6 330.6h0M235.1 322.2h0M238.7 334.6h0M239.5 332.8h0M235.7 317.1h0M232.1 324.0h0M235.8 328.9h0M233.9 331.5h0M231.7 312.4h0M238.0 332.7h0M236.6 329.4h0M235.6 336.1h0M236.4 325.9h0M236.2 332.5h0M238.1 326.0h0M237.6 327.4h0M238.0 325.8h0M232.3 323.0h0M237.4 321.3h0M237.7 329.3h0M236.7 322.8h0M238.9 329.7h0M236.8 328.0h0M233.8 318.9h0M235.7 321.3h0M235.2 331.2h0M234.2 313.5h0M236.8 335.7h0M236.7 320.7h0M237.0 319.5h0M235.9 336.7h0M234.0 312.4h0M237.9 325.6h0M237.8 327.6h0M232.6 325.2h0M234.1 324.1h0M235.8 328.5h0M237.4 317.0h0M237.0 324.2h0M234.8 318.9h0M234.0 321.9h0M237.5 319.5h0M240.2 332.0h0M236.4 331.6h0M234.6 325.3h0M234.6 328.7h0M236.9 333.5h0M238.9 333.7h0M238.5 322.6h0M234.0 329.1h0M235.7 337.3h0M241.7 328.2h0M235.6 329.8h0M235.7 318.7h0M236.6 330.1h0M236.5 316.8h0M237.2 334.5h0M234.7 338.4h0M232.9 331.8h0M234.3 327.0h0M236.3 315.3h0M236.0 338.4h0M239.4 315.2h0M239.0 318.8h0M240.1 331.8h0M236.2 316.8h0M237.5 343.0h0M237.9 337.0h0M236.1 334.7h0M235.8 326.7h0M237.7 318.6h0M232.7 318.7h0M234.3 324.8h0M237.2 321.7h0M238.4 338.0h0M239.0 325.2h0M239.0 323.9h0M235.8 327.4h0M237.5 322.4h0M234.7 330.5h0M238.1 325.3h0M231.7 331.9h0M238.1 333.3h0M236.6 342.8h0M235.1 318.2h0M240.3 331.2h0M237.5 328.1h0M237.5 340.3h0M234.4 328.0h0M237.3 338.4h0M237.8 333.6h0M240.1 337.8h0M232.4 330.9h0M234.6 337.5h0M234.8 314.5h0M237.7 323.8h0M234.7 321.4h0M233.0 336.0h0M240.0 327.2h0M234.3 322.4h0M232.7 341.3h0M237.6 333.4h0M238.1 330.5h0M235.0 316.9h0M237.5 334.5h0M239.0 331.7h0M234.1 322.1h0M233.2 319.2h0M227.0 328.4h0M226.4 325.1h0M211.8 329.8h0M231.1 336.2h0M215.7 324.7h0M233.5 323.6h0M230.3 322.7h0M229.4 339.4h0M230.5 339.0h0M215.4 333.1h0M214.9 336.4h0M219.0 342.9h0M228.0 338.6h0M228.1 327.7h0M217.9 334.9h0M228.3 336.3h0M226.8 330.6h0M219.6 326.7h0M228.0 338.4h0M228.5 335.3h0M239.4 329.4h0M220.3 333.9h0M233.2 328.7h0M224.9 317.7h0M225.9 335.7h0M226.6 337.5h0M221.3 331.5h0M216.5 342.0h0M232.3 335.5h0M217.4 330.8h0M229.8 319.5h0M231.9 333.5h0M230.1 348.5h0M225.0 322.6h0M239.0 320.6h0M219.4 333.3h0M217.1 323.8h0M225.3 326.2h0M213.6 347.7h0M224.4 311.8h0M216.7 333.4h0M227.5 322.8h0M214.7 330.1h0M224.8 328.2h0M218.6 323.8h0M218.1 326.6h0M234.1 329.5h0M225.9 340.5h0M230.4 320.2h0M213.1 316.5h0M224.3 329.9h0M224.9 341.0h0M234.0 342.0h0M223.9 312.4h0M226.1 328.5h0M214.6 333.8h0M229.9 329.7h0M220.8 321.5h0M218.5 330.6h0M218.3 332.4h0M213.9 325.5h0M215.2 332.6h0M216.3 320.6h0M224.5 328.2h0M224.1 331.7h0M223.0 336.0h0M228.8 337.2h0M220.0 323.7h0M243.0 337.1h0M224.8 334.3h0M234.4 332.5h0M219.2 328.4h0M219.0 328.1h0M217.0 340.3h0M223.0 346.6h0M220.6 319.1h0M228.2 345.8h0M226.5 320.8h0M211.6 327.7h0M213.1 324.3h0M226.0 322.8h0M241.3 332.8h0M228.0 335.5h0M223.8 327.5h0M232.2 329.4h0M227.8 341.1h0M223.0 321.6h0M232.5 342.1h0M223.6 340.7h0M222.9 334.0h0M227.3 322.4h0M218.3 338.4h0M221.3 330.0h0M214.7 332.2h0M232.7 317.8h0M219.3 320.3h0M222.3 319.5h0M216.8 326.1h0M230.5 324.4h0M231.5 320.8h0M224.8 341.4h0M217.1 314.8h0M226.6 330.0h0M243.3 318.4h0M240.6 336.4h0M237.2 329.1h0M234.8 336.9h0M228.4 344.2h0M237.7 335.6h0M225.1 349.0h0M234.3 332.7h0M244.8 347.7h0M222.1 333.6h0M245.8 322.5h0M224.3 333.0h0M233.5 318.8h0M218.0 340.2h0M239.9 332.7h0M219.3 332.0h0M218.6 313.5h0M213.8 332.9h0M238.4 322.6h0M231.7 333.5h0M217.6 341.5h0M224.3 313.8h0M233.0 326.4h0M228.0 339.1h0M223.4 330.5h0M213.1 327.3h0M211.3 330.4h0M214.6 322.1h0M221.0 335.5h0M218.2 345.2h0M218.1 329.6h0M222.8 324.7h0M221.4 348.8h0M224.9 317.5h0M215.2 311.5h0M226.2 331.5h0M220.4 341.7h0M222.8 326.9h0M225.3 325.2h0M223.8 333.2h0M226.6 337.1h0M234.9 353.1h0M227.8 323.3h0M228.6 325.1h0M226.5 331.3h0M230.6 349.2h0M217.4 315.6h0M215.9 335.8h0M229.1 344.0h0M217.3 326.0h0M236.7 331.4h0M238.7 335.2h0M227.2 337.7h0M238.3 336.7h0M230.9 316.3h0M225.5 320.7h0M223.2 352.6h0M217.4 330.3h0M220.8 333.9h0M220.1 327.5h0M224.0 325.8h0M232.5 342.8h0M230.1 335.6h0M223.5 322.7h0M228.2 332.7h0M218.8 345.1h0M229.4 338.5h0M234.8 342.2h0M222.6 332.1h0M217.5 330.4h0M223.9 318.0h0M216.4 325.9h0M222.6 328.2h0M231.0 338.2h0M218.3 336.9h0M223.9 313.3h0M222.3 337.6h0M226.0 312.3h0M223.2 328.6h0M232.7 325.5h0M228.1 328.4h0M216.0 337.9h0M237.3 318.3h0M225.6 329.7h0M228.3 340.7h0M222.4 326.4h0M238.9 344.2h0M237.7 331.4h0M218.8 323.2h0M228.3 320.7h0M220.1 333.6h0M232.2 347.5h0M230.3 338.5h0M232.8 322.1h0M228.4 337.5h0M223.9 346.4h0M228.6 326.4h0M233.7 334.6h0M222.5 330.4h0M221.2 340.1h0M232.0 321.7h0M235.2 323.5h0M236.8 333.2h0M236.5 340.3h0M224.5 331.1h0M231.8 340.1h0M217.5 320.4h0M239.8 328.5h0M226.3 322.9h0M233.9 326.7h0M223.6 335.0h0M219.6 333.7h0M227.1 339.5h0M223.9 326.8h0M229.7 336.5h0M225.5 313.2h0M216.8 332.5h0M215.9 338.7h0M236.8 342.1h0M223.9 329.5h0M233.7 325.7h0M220.2 332.7h0M221.0 350.4h0M224.3 332.6h0M223.4 344.4h0M223.2 330.9h0M241.6 322.6h0M220.8 320.8h0M228.0 339.1h0M217.3 329.5h0M228.5 334.0h0M238.7 327.5h0M224.3 316.7h0M239.5 318.6h0M229.2 326.7h0M234.2 335.5h0M221.4 336.4h0M225.7 329.4h0M235.8 319.4h0M225.4 335.8h0M215.6 333.1h0M232.0 328.6h0M228.2 328.8h0M223.7 332.2h0M236.8 330.9h0M224.2 330.5h0M233.5 323.9h0M224.8 334.3h0M234.1 339.7h0M228.9 332.5h0M237.0 344.8h0M221.5 334.0h0M220.3 331.4h0M231.1 327.4h0M226.2 332.3h0M216.8 340.5h0M223.4 339.3h0M223.0 330.0h0M216.9 341.5h0M214.1 329.1h0M221.4 334.0h0M220.6 330.4h0M232.5 325.3h0M214.3 335.8h0M230.9 331.8h0M213.0 347.0h0M215.1 350.8h0M214.1 350.6h0M215.4 355.5h0M214.9 348.0h0M213.9 350.7h0M215.8 344.2h0M214.9 336.5h0M214.3 347.7h0M215.2 355.3h0M212.7 344.7h0M214.0 355.0h0M212.4 346.2h0M214.7 347.1h0M213.3 353.8h0M214.4 353.2h0M212.7 355.7h0M213.3 344.1h0M213.0 346.5h0M215.1 348.1h0M214.0 347.9h0M214.5 341.7h0M213.2 347.3h0M214.4 355.2h0M215.5 343.5h0M213.5 348.5h0M216.9 352.0h0M215.0 340.2h0M214.6 342.2h0M214.7 347.2h0M213.4 344.4h0M214.0 352.0h0M216.4 347.3h0M216.5 344.7h0M214.1 344.7h0M217.0 345.6h0M213.6 350.1h0M217.1 351.6h0M213.7 351.2h0M211.4 346.5h0M213.7 346.0h0M213.5 356.8h0M214.4 351.4h0M212.7 348.6h0M213.7 343.9h0M215.0 345.9h0M214.8 346.6h0M213.2 343.0h0M212.3 351.7h0M214.4 341.6h0M218.6 347.7h0M215.3 342.4h0M213.4 346.2h0M213.0 348.4h0M215.3 347.9h0M212.5 350.9h0M213.2 350.1h0M214.6 350.4h0M214.7 342.7h0M215.0 353.6h0M213.9 349.6h0M212.6 348.1h0M211.6 352.8h0M215.2 346.6h0M216.0 349.3h0M212.4 348.8h0M213.7 351.6h0M213.2 354.5h0M212.5 336.5h0M211.7 351.3h0M214.8 345.4h0M214.2 349.8h0M211.8 350.2h0M215.4 343.2h0M213.6 345.9h0M214.9 342.5h0M214.7 349.4h0M212.6 351.5h0M215.1 344.6h0M214.0 346.8h0M215.3 344.0h0M212.8 355.0h0M213.0 345.3h0M216.1 344.6h0M215.8 352.8h0M215.4 346.6h0M217.9 348.9h0M215.7 343.8h0M215.4 346.5h0M212.1 343.0h0M214.5 338.1h0M212.7 345.8h0M214.9 345.5h0M215.0 343.4h0M212.4 346.9h0M214.0 347.0h0M216.6 345.2h0M212.5 348.3h0M213.1 342.9h0M216.9 349.1h0M214.4 351.3h0M211.8 352.7h0M212.6 345.1h0M215.8 342.2h0M213.2 349.3h0M214.0 351.3h0M215.6 353.2h0M213.0 351.3h0M211.6 344.2h0M213.1 350.4h0M213.0 347.0h0M215.1 341.9h0M212.1 347.0h0M216.1 349.0h0M212.4 354.4h0M213.8 351.7h0M214.8 350.3h0M213.6 335.0h0M212.3 344.5h0M213.1 343.6h0M212.0 347.7h0M216.7 345.5h0M214.2 350.1h0M212.6 346.2h0M213.3 345.0h0M214.6 351.9h0M212.8 348.1h0M212.6 342.9h0M216.4 348.3h0M219.4 343.6h0M213.7 351.3h0M215.1 344.2h0M212.4 353.8h0M215.3 339.9h0M213.4 353.4h0M216.2 347.0h0M212.5 346.7h0M216.5 346.9h0M218.5 353.5h0M216.4 343.8h0M218.6 355.1h0M214.1 347.6h0M213.0 353.5h0M213.4 345.8h0M211.7 337.6h0M213.7 346.7h0M213.8 348.1h0M215.1 353.3h0M214.6 343.1h0M215.1 343.8h0M213.5 345.8h0M218.0 348.2h0M211.5 343.5h0M214.4 351.4h0M214.8 349.8h0M216.3 343.8h0M214.7 350.7h0M214.8 349.7h0M211.9 347.4h0M216.9 349.0h0M214.2 347.4h0M214.3 339.7h0M215.0 343.4h0M212.2 348.7h0M216.5 342.2h0M211.4 350.3h0M213.8 355.4h0M216.3 349.8h0M215.1 342.7h0M215.7 351.6h0M214.4 343.9h0M217.6 350.2h0M211.6 353.9h0M214.6 347.5h0M213.6 345.8h0M213.1 342.0h0M212.6 351.7h0M213.4 337.1h0M215.4 350.4h0M213.8 346.0h0M211.8 347.7h0M211.9 355.4h0M216.4 351.6h0M214.0 348.8h0M215.5 345.1h0M216.0 346.2h0M214.6 348.3h0M219.2 348.8h0M214.7 351.2h0M214.6 351.0h0M215.7 350.1h0M216.1 345.5h0M218.4 346.7h0M213.8 343.2h0M217.0 352.3h0M212.5 344.3h0M211.5 353.0h0M215.8 348.9h0M216.4 349.1h0M212.9 349.9h0M212.3 344.3h0M214.2 354.0h0M213.4 348.5h0M214.8 350.0h0M212.9 350.8h0M212.8 353.3h0M219.9 352.2h0M216.0 348.1h0M212.3 358.0h0M212.5 349.3h0M216.7 346.8h0M214.5 355.9h0M213.2 340.6h0M213.1 353.0h0M212.2 344.0h0M213.2 347.9h0M213.2 342.4h0M213.7 344.4h0M212.8 355.1h0M213.9 343.8h0M214.1 344.3h0M212.2 344.7h0M215.7 347.6h0M216.4 340.5h0M215.9 353.7h0M213.1 339.0h0M212.0 350.8h0M213.4 348.5h0M212.0 349.4h0M212.9 352.8h0M212.5 349.4h0M215.8 346.9h0M215.1 343.0h0M215.6 342.1h0M218.1 336.7h0M213.3 350.8h0M215.4 350.7h0M215.7 346.8h0M214.0 349.3h0M214.9 345.1h0M213.4 350.4h0M216.1 345.5h0M217.9 344.5h0M216.8 349.6h0M214.6 351.3h0M216.5 347.9h0M213.8 350.3h0M212.9 351.9h0M214.1 346.4h0M213.3 353.6h0M215.4 342.5h0M215.7 343.7h0M213.9 345.3h0M214.2 347.8h0M215.5 347.4h0M214.5 354.3h0M213.2 347.3h0M215.5 351.1h0M214.6 337.2h0M214.9 349.6h0M217.5 349.4h0M213.1 346.1h0M213.8 342.1h0M215.2 349.8h0M215.0 349.1h0M211.6 346.0h0M215.7 339.2h0M214.7 346.1h0M212.6 350.3h0M213.5 352.9h0M213.7 349.2h0M215.0 343.8h0M213.6 343.6h0M215.9 343.2h0M212.3 345.6h0M211.9 339.2h0M212.4 341.8h0M215.9 350.5h0M215.7 347.0h0M214.1 344.6h0M212.2 347.1h0M214.0 348.3h0M214.7 350.3h0M213.6 354.9h0M214.2 346.0h0M213.6 350.6h0M214.2 345.1h0M211.8 344.5h0M211.4 343.9h0M214.2 350.5h0M212.3 350.3h0M214.2 345.5h0M212.6 347.7h0M219.1 346.5h0M211.8 344.5h0M213.9 351.4h0M215.1 343.2h0M214.4 353.1h0M212.5 347.4h0M212.7 340.4h0M213.6 357.1h0M213.1 352.0h0M216.6 349.5h0M213.6 348.7h0M214.2 351.9h0M213.6 349.5h0M213.7 346.5h0M214.8 347.7h0M215.5 357.7h0M212.5 336.9h0M211.8 343.3h0M212.9 349.8h0M215.0 353.4h0M215.5 352.0h0M211.3 353.3h0M216.0 343.8h0M216.5 349.8h0M212.9 347.9h0M213.8 345.9h0M216.6 344.8h0M216.6 355.2h0M215.0 348.4h0M215.1 342.7h0M214.7 347.1h0M215.2 352.4h0M214.1 348.6h0M212.9 350.7h0M214.7 350.8h0M214.4 345.1h0M214.6 344.4h0M216.7 341.0h0M215.9 341.9h0M213.3 345.3h0M213.9 355.1h0M215.4 354.9h0M212.8 352.0h0M214.6 346.8h0M214.4 356.2h0M216.7 345.3h0M213.9 339.2h0M214.0 356.8h0M215.8 343.2h0M217.0 339.6h0M216.1 353.4h0M215.7 356.6h0M217.3 349.3h0M214.9 341.8h0M214.9 351.0h0M215.8 340.7h0M211.8 349.5h0M214.6 350.1h0M215.1 352.3h0M214.0 346.2h0M215.5 342.8h0M212.9 350.9h0M216.8 348.4h0M218.9 353.6h0M211.8 350.0h0M215.1 354.4h0M215.3 357.2h0M212.4 345.8h0M214.3 341.3h0M216.2 352.7h0M214.2 345.0h0M213.0 346.3h0M216.7 353.3h0M213.5 342.4h0M212.5 345.0h0M212.1 346.9h0M216.3 346.7h0M214.5 347.3h0M215.4 343.0h0M212.6 352.8h0M212.6 348.6h0M212.0 352.1h0M215.0 339.4h0M216.9 348.9h0M213.7 345.3h0M219.4 350.0h0M212.5 348.1h0M213.7 347.8h0M213.2 353.1h0M213.8 350.6h0M212.1 347.0h0M212.3 340.2h0M212.2 348.4h0M215.9 353.3h0M214.8 349.2h0M215.3 350.6h0M213.8 350.3h0M214.3 345.7h0M213.1 349.2h0M217.7 351.0h0M215.8 351.3h0M212.6 350.5h0M215.2 350.3h0M215.3 349.8h0M211.4 348.2h0M216.4 348.0h0M212.5 342.9h0M212.2 344.4h0M214.6 348.7h0M213.7 348.2h0M213.6 341.3h0M214.1 349.6h0M211.7 343.2h0M217.7 345.1h0M212.8 351.8h0M213.5 345.5h0M215.4 343.7h0M216.9 345.6h0M215.2 350.3h0M211.9 342.5h0M211.8 341.1h0M213.9 352.0h0M214.5 347.6h0M214.8 338.0h0M213.2 342.8h0M214.4 344.3h0M214.7 347.6h0M212.4 352.7h0M215.3 348.7h0M215.0 356.7h0M217.2 346.8h0M213.4 352.5h0M215.4 350.6h0M215.8 351.9h0M211.8 344.7h0M214.3 349.7h0M215.9 346.5h0M214.4 344.0h0M214.5 346.5h0M219.4 345.1h0M216.8 348.8h0M212.0 348.8h0M214.1 347.2h0M213.9 348.5h0M216.1 345.3h0M216.0 355.4h0M212.5 344.6h0M212.6 345.1h0M216.5 347.6h0M212.9 340.6h0M214.7 342.0h0M214.8 345.7h0M214.1 347.4h0M215.9 345.6h0M214.9 348.9h0M213.9 349.0h0M213.8 345.2h0M227.4 345.2h0M229.5 346.2h0M225.4 346.7h0M237.1 345.1h0M225.3 348.1h0M230.5 344.2h0M222.5 344.3h0M221.5 345.2h0M222.6 342.8h0M232.4 347.9h0M229.7 347.6h0M223.5 346.7h0M226.8 344.9h0M226.5 345.6h0M219.2 346.4h0M231.9 346.7h0M230.5 346.2h0M223.1 344.7h0M236.6 344.2h0M213.7 345.2h0M232.0 344.6h0M220.0 341.0h0M224.3 346.2h0M221.2 347.1h0M215.2 343.7h0M219.5 344.6h0M237.1 344.3h0M222.6 347.1h0M224.4 344.6h0M225.1 347.2h0M224.6 346.0h0M214.2 344.2h0M217.8 344.1h0M233.4 343.6h0M219.7 346.1h0M228.5 343.1h0M225.6 343.8h0M226.0 345.6h0M229.8 347.4h0M227.5 343.6h0M227.0 350.2h0M212.4 342.0h0M225.6 346.2h0M226.3 347.8h0M229.9 344.1h0M218.1 347.4h0M233.5 344.2h0M216.3 350.5h0M215.4 344.3h0M229.0 347.2h0M222.9 342.8h0M223.1 347.4h0M224.2 346.8h0M225.2 347.3h0M215.1 344.3h0M217.3 346.2h0M234.2 341.3h0M238.3 341.3h0M224.0 344.5h0M229.7 344.0h0M223.8 346.0h0M222.8 340.9h0M223.9 343.2h0M225.7 347.5h0M227.1 346.8h0M217.6 343.1h0M218.5 347.3h0M226.2 344.0h0M218.7 344.2h0M223.3 347.2h0M216.7 347.4h0M222.3 344.6h0M237.3 346.5h0M219.1 345.9h0M220.6 345.3h0M227.6 344.6h0M220.1 344.4h0M228.1 341.2h0M230.2 348.4h0M227.7 344.9h0M221.3 344.7h0M233.4 343.9h0M227.4 343.2h0M224.7 342.0h0M226.1 346.1h0M229.4 346.0h0M227.5 346.9h0M226.8 344.6h0M229.2 343.9h0M219.8 348.5h0M223.5 344.0h0M238.5 346.6h0M225.4 347.6h0M228.4 339.9h0M217.9 343.5h0M219.6 346.4h0M218.2 342.8h0M219.2 344.8h0M226.8 346.3h0M235.6 347.9h0M224.9 348.4h0M221.0 342.3h0M221.0 345.8h0M218.4 345.8h0M218.9 345.8h0M216.4 346.3h0M216.4 346.0h0M217.6 344.4h0M227.5 345.0h0M230.7 344.2h0M224.1 342.6h0M222.1 345.0h0M235.7 344.2h0M215.2 346.9h0M227.5 345.1h0M234.7 344.6h0M223.2 344.2h0M223.2 347.7h0M221.5 346.8h0M214.4 343.8h0M213.9 344.0h0M220.5 345.0h0M237.5 349.0h0M223.6 345.3h0M228.4 344.9h0M218.3 346.9h0M216.8 345.7h0M223.9 345.8h0M222.0 345.4h0M228.5 343.0h0M229.1 345.6h0M228.9 345.2h0M221.4 343.8h0M229.7 345.0h0M216.3 346.8h0M225.6 345.6h0M214.5 342.2h0M215.5 344.9h0M227.6 343.3h0M227.9 350.9h0M226.6 341.8h0M227.8 344.0h0M219.5 344.9h0M220.6 342.5h0M221.9 344.3h0M221.3 346.1h0M227.0 344.3h0M233.9 344.9h0M223.0 348.3h0M219.9 348.2h0M220.3 344.0h0M220.6 347.8h0M237.2 342.2h0M230.7 346.5h0M224.2 345.6h0M224.6 344.4h0M219.5 346.8h0M229.4 347.9h0M232.2 346.9h0M226.0 346.0h0M227.9 353.9h0M212.2 348.6h0M232.8 351.5h0M221.4 350.7h0M217.1 350.5h0M216.3 346.8h0M230.1 352.3h0M220.3 351.5h0M213.0 353.5h0M229.6 355.0h0M225.2 349.9h0M225.4 355.2h0M222.8 346.7h0M231.6 353.7h0M218.1 352.4h0M213.9 351.1h0M221.0 349.1h0M221.3 350.5h0M235.3 356.4h0M227.6 350.1h0M219.0 349.3h0M219.4 349.4h0M220.1 350.2h0M228.7 343.9h0M224.3 353.1h0M221.1 358.1h0M222.7 348.6h0M218.7 353.7h0M218.6 350.5h0M226.2 354.8h0M217.7 351.3h0M223.6 352.9h0M217.2 357.5h0M218.2 350.7h0M214.8 356.2h0M224.3 356.4h0M216.4 352.5h0M218.2 357.1h0M219.7 351.5h0M232.5 357.3h0M219.2 354.5h0M218.3 353.3h0M215.5 351.1h0M223.5 349.4h0M228.9 347.9h0M233.2 347.8h0M220.3 351.5h0M230.0 354.9h0M227.2 353.4h0M223.8 350.7h0M223.7 349.1h0M216.8 351.2h0M222.9 351.3h0M216.4 351.6h0M217.5 351.0h0M232.1 352.5h0M235.9 352.4h0M226.5 350.3h0M219.3 357.5h0M212.2 356.4h0M230.3 351.3h0M236.3 351.9h0M226.0 352.6h0M213.2 355.6h0M224.8 354.3h0M220.2 354.9h0M242.4 347.4h0M211.4 316.6h0M217.5 358.1h0M237.8 345.4h0M223.6 338.5h0M237.4 341.4h0M217.7 346.5h0M225.9 318.9h0M236.3 331.6h0M232.0 339.8h0M242.1 358.2h0M214.6 333.3h0M223.0 328.7h0M215.5 338.1h0M244.1 343.9h0M223.2 322.0h0M227.3 318.8h0M236.0 320.8h0M232.9 324.7h0M238.7 333.9h0M240.6 327.9h0M224.5 328.6h0M214.2 318.9h0M230.0 315.9h0M221.5 337.6h0M242.1 326.8h0M212.4 342.2h0M217.3 340.0h0M242.0 333.4h0M224.7 353.4h0" stroke="#000" stroke-width="0.6" stroke-linecap="round" fill="none"/>
</g>
<path d="M235.3 309.6V360.4M209.8 341.8H260.7" stroke="#000" stroke-width="1.4" fill="none"/>
<rect x="209.8" y="309.6" width="50.89999999999998" height="50.799999999999955" fill="none" stroke="#000" stroke-width="1.6"/>
<text x="213.0" y="318.8" font-size="5.6" font-weight="bold" stroke="#fff" stroke-width="0.5" paint-order="stroke" stroke-linejoin="round">29</text>
<text x="253.3" y="339.6" font-size="5.6" font-weight="bold" stroke="#fff" stroke-width="0.5" paint-order="stroke" stroke-linejoin="round">27</text>
<text x="227.4" y="357.6" font-size="5.6" font-weight="bold" stroke="#fff" stroke-width="0.5" paint-order="stroke" stroke-linejoin="round">43</text>
<text x="298.6" y="10.3" font-size="12.5" font-weight="bold" textLength="9.5" lengthAdjust="spacingAndGlyphs">C</text>
<path d="M313.5 40V166.5" stroke="#000" stroke-width="1.3"/>
<path d="M313.6 28L317.2 43H310Z" fill="#000"/>
<path d="M320 171H445" stroke="#000" stroke-width="1.3"/>
<path d="M454.5 171L439 166.8V175.2Z" fill="#000"/>
<text x="305.6" y="95.5" font-size="6.7" font-weight="bold" text-anchor="middle" textLength="40" lengthAdjust="spacingAndGlyphs" transform="rotate(-90 305.6 95.5)">Cell Number</text>
<text x="345.5" y="182" font-size="6.7" font-weight="bold" textLength="87.5" lengthAdjust="spacingAndGlyphs">Log Fluorescence Intensity</text>
<text x="342" y="24.4" font-size="6.7" font-weight="bold" textLength="20" lengthAdjust="spacingAndGlyphs">Buffer</text>
<text x="404" y="24.4" font-size="6.7" font-weight="bold" textLength="38" lengthAdjust="spacingAndGlyphs">Z-VAD-FMK</text>
<text x="461.5" y="50.4" font-size="6.7" font-weight="bold" textLength="23" lengthAdjust="spacingAndGlyphs">Control</text>
<text x="461.5" y="98.9" font-size="6.7" font-weight="bold" textLength="13.7" lengthAdjust="spacingAndGlyphs">DFO</text>
<text x="462" y="147.9" font-size="6.7" font-weight="bold" textLength="57.5" lengthAdjust="spacingAndGlyphs">Anti-hTfR IgG3-Av</text>
<rect x="318.9" y="28.4" width="62.700000000000045" height="37.800000000000004" fill="#fff" stroke="none"/>
<polyline points="319.8,59.1 320.3,59.5 320.9,61.1 321.4,61.5 322.0,62.3 322.6,61.1 323.1,63.2 323.7,62.8 324.2,62.7 324.8,63.7 325.3,64.8 325.9,64.2 326.5,63.6 327.0,62.8 327.6,63.1 328.1,63.7 328.7,63.3 329.3,63.7 329.8,64.3 330.4,62.7 330.9,62.4 331.5,63.4 332.0,63.1 332.6,62.4 333.2,62.6 333.7,63.4 334.3,61.7 334.8,62.8 335.4,63.8 335.9,63.6 336.5,63.4 337.1,62.9 337.6,63.6 338.2,64.2 338.7,65.4 339.3,65.0 339.9,64.4 340.4,63.2 341.0,64.4 341.5,63.3 342.1,63.4 342.6,63.7 343.2,63.5 343.8,64.4 344.3,62.2 344.9,61.6 345.4,60.6 346.0,61.7 346.6,59.9 347.1,59.2 347.7,59.6 348.2,58.5 348.8,57.6 349.3,57.2 349.9,53.4 350.5,52.1 351.0,49.1 351.6,46.4 352.1,44.6 352.7,38.0 353.2,41.2 353.8,34.9 354.4,36.0 354.9,32.4 355.5,35.4 356.0,33.5 356.6,35.6 357.2,33.9 357.7,38.3 358.3,42.1 358.8,46.4 359.4,45.4 359.9,51.4 360.5,50.0 361.1,52.6 361.6,54.7 362.2,56.5 362.7,57.5 363.3,56.6 363.8,58.5 364.4,58.4 365.0,58.5 365.5,59.4 366.1,59.7 366.6,60.2 367.2,61.0 367.8,60.7 368.3,62.5 368.9,61.9 369.4,61.9 370.0,62.5 370.5,62.6 371.1,62.5 371.7,63.3 372.2,64.8 372.8,64.2 373.3,63.7 373.9,64.6 374.5,65.3 375.0,64.9 375.6,64.8 376.1,65.3 376.7,65.4 377.2,65.4 377.8,65.0 378.4,64.7 378.9,64.8 379.5,65.0 380.0,65.4 380.6,65.4" fill="none" stroke="#3a3a3a" stroke-width="0.85" stroke-linejoin="round"/>
<path d="M350.5 53.95H381.6" stroke="#000" stroke-width="1.9" fill="none"/><path d="M350.5 51.35V56.550000000000004" stroke="#000" stroke-width="1.5" fill="none"/>
<rect x="318.9" y="28.4" width="62.700000000000045" height="37.800000000000004" fill="none" stroke="#000" stroke-width="1.5"/>
<rect x="392.0" y="28.4" width="62.0" height="37.800000000000004" fill="#fff" stroke="none"/>
<polyline points="392.9,59.6 393.4,61.4 394.0,60.5 394.5,62.5 395.1,62.8 395.6,62.9 396.2,63.0 396.7,63.8 397.3,63.0 397.8,64.0 398.4,63.4 398.9,63.6 399.5,64.0 400.0,63.4 400.6,63.3 401.1,64.6 401.7,62.8 402.2,64.3 402.8,62.3 403.3,63.6 403.9,61.7 404.5,62.0 405.0,64.1 405.6,63.4 406.1,63.8 406.7,63.8 407.2,63.1 407.8,62.1 408.3,63.1 408.9,63.2 409.4,62.0 410.0,61.9 410.5,61.9 411.1,61.5 411.6,62.1 412.2,61.5 412.7,61.4 413.3,63.4 413.8,59.7 414.4,60.1 414.9,58.9 415.5,60.6 416.0,62.2 416.6,60.3 417.1,59.6 417.7,58.2 418.2,60.1 418.8,58.0 419.3,57.6 419.9,57.4 420.4,55.5 421.0,57.3 421.5,54.8 422.1,54.1 422.7,54.2 423.2,55.9 423.8,58.5 424.3,59.1 424.9,55.0 425.4,54.3 426.0,53.7 426.5,50.0 427.1,47.0 427.6,45.4 428.2,44.1 428.7,39.9 429.3,32.7 429.8,38.6 430.4,41.6 430.9,38.6 431.5,37.6 432.0,37.6 432.6,42.9 433.1,45.4 433.7,48.1 434.2,46.9 434.8,52.3 435.3,52.6 435.9,55.9 436.4,57.9 437.0,59.3 437.5,58.2 438.1,58.7 438.6,57.6 439.2,59.8 439.7,59.6 440.3,58.3 440.9,59.1 441.4,59.4 442.0,60.2 442.5,62.0 443.1,62.4 443.6,61.3 444.2,63.1 444.7,63.1 445.3,64.2 445.8,63.9 446.4,63.8 446.9,65.4 447.5,65.1 448.0,64.2 448.6,65.3 449.1,65.3 449.7,65.4 450.2,64.7 450.8,65.4 451.3,64.8 451.9,65.4 452.4,65.4 453.0,65.4" fill="none" stroke="#3a3a3a" stroke-width="0.85" stroke-linejoin="round"/>
<path d="M422.5 53.75H454.0" stroke="#000" stroke-width="1.9" fill="none"/><path d="M422.5 51.15V56.35" stroke="#000" stroke-width="1.5" fill="none"/>
<rect x="392.0" y="28.4" width="62.0" height="37.800000000000004" fill="none" stroke="#000" stroke-width="1.5"/>
<rect x="318.9" y="77.0" width="62.700000000000045" height="38.5" fill="#fff" stroke="none"/>
<polyline points="319.9,112.5 320.5,111.2 321.0,110.9 321.6,110.0 322.1,109.6 322.7,110.3 323.3,111.6 323.8,110.5 324.4,110.3 324.9,111.7 325.5,111.0 326.0,111.9 326.6,109.5 327.2,109.7 327.7,107.5 328.3,108.9 328.8,109.1 329.4,107.7 329.9,109.6 330.5,109.2 331.1,109.9 331.6,110.2 332.2,108.9 332.7,111.0 333.3,110.6 333.8,111.7 334.4,110.4 334.9,111.1 335.5,110.5 336.1,111.6 336.6,112.0 337.2,110.5 337.7,113.6 338.3,111.9 338.8,111.9 339.4,111.1 340.0,112.7 340.5,111.9 341.1,113.4 341.6,112.8 342.2,112.3 342.7,112.8 343.3,112.4 343.9,112.3 344.4,111.6 345.0,111.1 345.5,113.1 346.1,113.2 346.6,112.8 347.2,111.0 347.7,111.7 348.3,111.2 348.9,111.6 349.4,111.9 350.0,110.4 350.5,111.6 351.1,110.2 351.6,109.1 352.2,109.0 352.8,109.6 353.3,107.4 353.9,108.2 354.4,107.5 355.0,106.9 355.5,105.8 356.1,104.0 356.6,104.2 357.2,103.6 357.8,103.0 358.3,102.8 358.9,97.7 359.4,100.1 360.0,98.5 360.5,100.3 361.1,97.8 361.7,96.1 362.2,100.8 362.8,100.0 363.3,101.6 363.9,100.7 364.4,104.5 365.0,102.9 365.6,106.4 366.1,105.6 366.7,108.1 367.2,108.7 367.8,109.9 368.3,111.7 368.9,111.5 369.4,112.6 370.0,112.7 370.6,113.0 371.1,112.7 371.7,113.2 372.2,114.7 372.8,113.9 373.3,114.2 373.9,114.7 374.5,114.5 375.0,113.9 375.6,114.7 376.1,114.7 376.7,114.7 377.2,113.4 377.8,114.7 378.4,114.7 378.9,114.4 379.5,114.7 380.0,114.7 380.6,114.7" fill="none" stroke="#3a3a3a" stroke-width="0.85" stroke-linejoin="round"/>
<path d="M349.8 103.55H381.6" stroke="#000" stroke-width="1.9" fill="none"/><path d="M349.8 100.95V106.14999999999999" stroke="#000" stroke-width="1.5" fill="none"/>
<rect x="318.9" y="77.0" width="62.700000000000045" height="38.5" fill="none" stroke="#000" stroke-width="1.5"/>
<rect x="392.0" y="77.0" width="62.0" height="38.5" fill="#fff" stroke="none"/>
<polyline points="392.9,109.1 393.4,110.7 394.0,110.7 394.5,110.5 395.1,112.6 395.6,110.9 396.2,112.9 396.7,110.6 397.3,110.8 397.8,110.6 398.4,110.9 398.9,110.9 399.5,112.2 400.0,111.4 400.6,111.5 401.1,112.3 401.7,111.0 402.2,111.4 402.8,109.9 403.3,107.9 403.9,108.7 404.5,111.0 405.0,108.6 405.6,108.5 406.1,106.6 406.7,108.4 407.2,106.9 407.8,107.4 408.3,108.3 408.9,106.7 409.4,105.3 410.0,106.3 410.5,103.4 411.1,105.1 411.6,105.5 412.2,104.5 412.7,99.9 413.3,104.5 413.8,102.5 414.4,100.6 414.9,102.1 415.5,101.7 416.0,101.1 416.6,98.5 417.1,99.2 417.7,99.8 418.2,100.5 418.8,101.0 419.3,98.9 419.9,99.9 420.4,97.9 421.0,98.2 421.5,98.0 422.1,98.8 422.7,100.8 423.2,103.1 423.8,104.8 424.3,104.2 424.9,107.4 425.4,106.4 426.0,103.4 426.5,107.7 427.1,104.5 427.6,106.1 428.2,105.8 428.7,103.1 429.3,103.1 429.8,101.2 430.4,101.2 430.9,99.5 431.5,96.6 432.0,91.8 432.6,96.7 433.1,100.0 433.7,102.7 434.2,106.3 434.8,106.9 435.3,107.5 435.9,109.3 436.4,108.6 437.0,109.8 437.5,109.2 438.1,112.7 438.6,110.8 439.2,109.7 439.7,111.1 440.3,110.3 440.9,110.4 441.4,111.6 442.0,112.7 442.5,110.9 443.1,113.2 443.6,111.6 444.2,113.0 444.7,113.5 445.3,112.4 445.8,114.1 446.4,113.6 446.9,113.5 447.5,114.4 448.0,113.8 448.6,114.0 449.1,113.9 449.7,114.7 450.2,114.7 450.8,114.7 451.3,114.7 451.9,114.7 452.4,114.7 453.0,114.7" fill="none" stroke="#3a3a3a" stroke-width="0.85" stroke-linejoin="round"/>
<path d="M422.5 103.75H454.0" stroke="#000" stroke-width="1.9" fill="none"/><path d="M422.5 101.15V106.35" stroke="#000" stroke-width="1.5" fill="none"/>
<rect x="392.0" y="77.0" width="62.0" height="38.5" fill="none" stroke="#000" stroke-width="1.5"/>
<rect x="318.9" y="124.8" width="62.700000000000045" height="38.8" fill="#fff" stroke="none"/>
<polyline points="320.1,159.1 320.6,160.4 321.2,158.9 321.7,161.7 322.3,159.9 322.8,160.6 323.4,159.6 323.9,160.8 324.5,160.0 325.1,161.2 325.6,160.0 326.2,160.9 326.7,160.4 327.3,159.0 327.8,161.2 328.4,159.3 328.9,158.7 329.5,160.5 330.1,159.3 330.6,158.3 331.2,158.9 331.7,157.3 332.3,158.1 332.8,159.2 333.4,157.9 333.9,158.2 334.5,159.9 335.0,159.3 335.6,161.1 336.2,160.3 336.7,159.3 337.3,160.8 337.8,160.1 338.4,161.3 338.9,160.6 339.5,162.1 340.0,162.5 340.6,161.0 341.2,161.9 341.7,162.6 342.3,162.8 342.8,162.8 343.4,161.4 343.9,160.5 344.5,161.8 345.0,162.0 345.6,161.9 346.2,161.0 346.7,161.0 347.3,158.1 347.8,157.9 348.4,157.8 348.9,156.2 349.5,157.9 350.0,156.2 350.6,157.1 351.2,157.7 351.7,155.6 352.3,154.8 352.8,155.7 353.4,154.1 353.9,152.8 354.5,154.6 355.0,152.4 355.6,151.6 356.2,150.9 356.7,150.2 357.3,148.5 357.8,146.4 358.4,148.1 358.9,143.6 359.5,148.6 360.0,147.8 360.6,147.0 361.2,149.7 361.7,148.8 362.3,151.9 362.8,150.9 363.4,153.1 363.9,153.1 364.5,154.5 365.0,157.5 365.6,156.4 366.2,157.2 366.7,158.2 367.3,159.9 367.8,159.5 368.4,160.9 368.9,159.8 369.5,160.0 370.0,161.3 370.6,162.2 371.1,161.4 371.7,162.8 372.3,162.8 372.8,162.7 373.4,162.3 373.9,162.8 374.5,162.8 375.0,162.8 375.6,162.8 376.1,162.3 376.7,162.8 377.3,162.8 377.8,162.7 378.4,162.8 378.9,162.4 379.5,162.4 380.0,161.7 380.6,162.8" fill="none" stroke="#3a3a3a" stroke-width="0.85" stroke-linejoin="round"/>
<path d="M350.5 152.35H381.6" stroke="#000" stroke-width="1.9" fill="none"/><path d="M350.5 149.75V154.95" stroke="#000" stroke-width="1.5" fill="none"/>
<rect x="318.9" y="124.8" width="62.700000000000045" height="38.8" fill="none" stroke="#000" stroke-width="1.5"/>
<rect x="392.0" y="124.8" width="62.0" height="38.8" fill="#fff" stroke="none"/>
<polyline points="392.9,161.3 393.4,162.3 394.0,160.8 394.5,160.4 395.1,160.8 395.6,161.1 396.2,161.9 396.7,160.2 397.3,162.0 397.8,160.6 398.4,160.6 398.9,160.2 399.5,159.0 400.0,161.3 400.6,159.5 401.1,158.3 401.7,158.2 402.2,159.2 402.8,158.5 403.3,157.4 403.9,156.6 404.5,156.8 405.0,157.9 405.6,157.8 406.1,157.1 406.7,157.4 407.2,158.9 407.8,156.5 408.3,159.2 408.9,158.5 409.4,157.5 410.0,156.7 410.5,158.4 411.1,157.0 411.6,157.8 412.2,154.1 412.7,156.4 413.3,155.4 413.8,155.2 414.4,154.5 414.9,154.4 415.5,154.9 416.0,153.7 416.6,150.5 417.1,148.3 417.7,151.2 418.2,147.4 418.8,148.6 419.3,145.2 419.9,146.2 420.4,146.6 421.0,148.9 421.5,150.3 422.1,151.6 422.7,152.8 423.2,153.8 423.8,154.2 424.3,154.2 424.9,154.9 425.4,152.2 426.0,152.8 426.5,152.4 427.1,152.2 427.6,151.0 428.2,154.4 428.7,152.2 429.3,150.5 429.8,150.9 430.4,151.2 430.9,149.9 431.5,150.0 432.0,149.6 432.6,152.4 433.1,152.9 433.7,154.5 434.2,156.8 434.8,157.0 435.3,157.4 435.9,159.9 436.4,160.7 437.0,161.1 437.5,160.8 438.1,161.9 438.6,161.1 439.2,161.0 439.7,161.0 440.3,162.8 440.9,161.7 441.4,162.8 442.0,162.8 442.5,162.3 443.1,162.6 443.6,161.4 444.2,162.8 444.7,162.1 445.3,162.5 445.8,162.7 446.4,162.8 446.9,162.8 447.5,161.9 448.0,162.6 448.6,162.5 449.1,162.8 449.7,162.8 450.2,162.4 450.8,162.8 451.3,162.8 451.9,162.8 452.4,162.8 453.0,162.8" fill="none" stroke="#3a3a3a" stroke-width="0.85" stroke-linejoin="round"/>
<path d="M422.5 152.55H454.0" stroke="#000" stroke-width="1.9" fill="none"/><path d="M422.5 149.95000000000002V155.15" stroke="#000" stroke-width="1.5" fill="none"/>
<rect x="392.0" y="124.8" width="62.0" height="38.8" fill="none" stroke="#000" stroke-width="1.5"/>
</svg>
</body></html>
